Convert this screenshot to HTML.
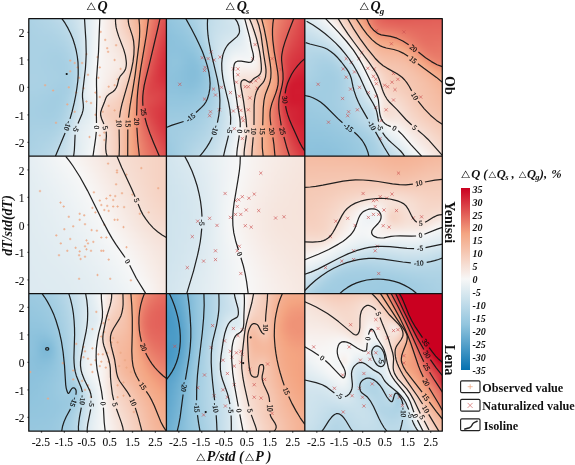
<!DOCTYPE html>
<html><head><meta charset="utf-8"><title>Figure</title><style>
html,body{margin:0;padding:0;background:#fff}
#fig{position:relative;width:575px;height:465px;overflow:hidden;background:#fff;font-family:"Liberation Serif",serif}
.p{position:absolute;overflow:hidden}
.p>div{white-space:nowrap;font-size:0;line-height:0;position:absolute;left:-3px;top:-3px;filter:blur(1.1px)}
.p i{display:inline-block;width:3px;height:100%}
#cb{position:absolute;left:461px;top:188px;width:9px;height:182px;background:linear-gradient(#ca0020,#d0182e,#d62f3c,#dc474a,#e25e58,#e87666,#ee8d74,#f4a582,#f4b193,#f5bca3,#f5c8b4,#f6d4c5,#f6e0d6,#f7ebe6,#f7f7f7,#e9f0f3,#dae9f0,#cce2ec,#bddae9,#afd3e5,#a0cce2,#92c5de,#7eb9d7,#6aadd1,#56a1ca,#4195c4,#2d89bd,#197db7,#0571b0)}
svg{position:absolute;left:0;top:0}
svg path,svg ellipse{fill:none;stroke:#161616;stroke-width:1.22;stroke-opacity:.95;stroke-linejoin:round;stroke-linecap:butt}
.fr{stroke:#111!important;stroke-width:1.3!important;stroke-opacity:1!important}
svg path.mo{stroke:#eca886;stroke-width:.85;stroke-opacity:.9}
svg path.mn{stroke:#cc5252;stroke-width:.75;stroke-opacity:.85}
text{font-family:"Liberation Serif",serif;fill:#111}
.cl{font-size:7.3px;text-anchor:middle;stroke:#111;stroke-width:.2px}
.tk{font-size:11.5px;stroke:#111;stroke-width:.1px}
.bi{font-weight:bold;font-style:italic}
.b{font-weight:bold}
.tri{font-family:"DejaVu Sans",sans-serif;font-weight:normal;font-style:normal}
.ci{font-size:10px;font-style:italic;font-weight:bold}
</style></head><body><div id="fig">
<div class="p" style="left:29px;top:18px;width:137px;height:138px"><div style="height:144px;width:144px"><i style="background:linear-gradient(#acd2e4,#abd2e4,#abd1e4,#abd1e4,#aad1e4,#aad1e4,#aad1e4,#aad1e4,#a9d1e4,#a9d0e4,#a9d0e4,#a9d0e4,#a9d0e4,#a9d0e4,#a9d0e4,#a9d1e4,#a9d1e4,#aad1e4,#aad1e4,#aad1e4,#aad1e4,#aad1e4,#aad1e4,#aad1e4,#aad1e4,#aad1e4,#a9d0e4,#a8d0e3,#a7d0e3,#a7cfe3,#a6cfe3,#a6cfe3,#a6cfe3,#a5cfe3,#a6cfe3,#a6cfe3,#a6cfe3,#a7cfe3,#a7cfe3,#a8d0e3,#a8d0e3,#a8d0e4,#a9d0e4,#a9d1e4,#aad1e4,#aad1e4,#abd1e4,#abd2e4,#acd2e4)"></i><i style="background:linear-gradient(#add2e5,#add2e5,#acd2e5,#acd2e4,#abd2e4,#abd1e4,#abd1e4,#aad1e4,#aad1e4,#aad1e4,#aad1e4,#aad1e4,#aad1e4,#aad1e4,#aad1e4,#aad1e4,#aad1e4,#aad1e4,#aad1e4,#aad1e4,#abd1e4,#abd1e4,#abd1e4,#abd1e4,#aad1e4,#aad1e4,#a9d0e4,#a8d0e3,#a7d0e3,#a7cfe3,#a6cfe3,#a6cfe3,#a5cfe3,#a5cfe3,#a6cfe3,#a6cfe3,#a7cfe3,#a7cfe3,#a8d0e3,#a8d0e4,#a9d0e4,#a9d1e4,#aad1e4,#aad1e4,#abd1e4,#abd2e4,#acd2e4,#add2e5,#add3e5)"></i><i style="background:linear-gradient(#afd3e5,#aed3e5,#add3e5,#add2e5,#acd2e4,#acd2e4,#abd2e4,#abd1e4,#abd1e4,#aad1e4,#aad1e4,#aad1e4,#aad1e4,#aad1e4,#aad1e4,#aad1e4,#aad1e4,#aad1e4,#aad1e4,#aad1e4,#abd1e4,#abd1e4,#abd1e4,#abd1e4,#aad1e4,#aad1e4,#a9d0e4,#a8d0e3,#a7cfe3,#a6cfe3,#a6cfe3,#a5cfe3,#a5cfe3,#a5cfe3,#a6cfe3,#a6cfe3,#a7cfe3,#a8d0e3,#a8d0e4,#a9d0e4,#aad1e4,#aad1e4,#abd1e4,#abd2e4,#acd2e4,#add2e5,#add3e5,#aed3e5,#afd3e5)"></i><i style="background:linear-gradient(#b0d4e5,#afd3e5,#aed3e5,#aed3e5,#add2e5,#acd2e5,#acd2e4,#abd2e4,#abd1e4,#abd1e4,#aad1e4,#aad1e4,#aad1e4,#aad1e4,#aad1e4,#aad1e4,#aad1e4,#aad1e4,#aad1e4,#aad1e4,#abd1e4,#abd1e4,#abd1e4,#aad1e4,#aad1e4,#a9d1e4,#a8d0e4,#a8d0e3,#a7cfe3,#a6cfe3,#a5cfe3,#a5cee3,#a5cee3,#a5cee3,#a5cfe3,#a6cfe3,#a7cfe3,#a8d0e3,#a9d0e4,#aad1e4,#abd1e4,#abd1e4,#acd2e4,#acd2e5,#add2e5,#aed3e5,#afd3e5,#afd4e5,#b0d4e6)"></i><i style="background:linear-gradient(#b1d4e6,#b0d4e6,#b0d4e5,#afd3e5,#aed3e5,#add2e5,#add2e5,#acd2e4,#abd2e4,#abd1e4,#abd1e4,#aad1e4,#aad1e4,#aad1e4,#a9d1e4,#a9d1e4,#a9d1e4,#aad1e4,#aad1e4,#aad1e4,#aad1e4,#aad1e4,#aad1e4,#aad1e4,#aad1e4,#a9d0e4,#a8d0e3,#a7cfe3,#a6cfe3,#a5cfe3,#a5cee3,#a4cee3,#a4cee3,#a5cee3,#a5cee3,#a6cfe3,#a7cfe3,#a8d0e3,#a9d1e4,#aad1e4,#abd1e4,#acd2e4,#add2e5,#add3e5,#aed3e5,#afd3e5,#b0d4e5,#b1d4e6,#b2d5e6)"></i><i style="background:linear-gradient(#b3d5e6,#b2d5e6,#b1d4e6,#b0d4e5,#afd3e5,#aed3e5,#add2e5,#acd2e5,#acd2e4,#abd1e4,#abd1e4,#aad1e4,#aad1e4,#a9d1e4,#a9d0e4,#a9d0e4,#a9d0e4,#a9d0e4,#a9d1e4,#aad1e4,#aad1e4,#aad1e4,#aad1e4,#aad1e4,#a9d1e4,#a8d0e4,#a7d0e3,#a6cfe3,#a5cfe3,#a5cee3,#a4cee2,#a4cee2,#a4cee2,#a4cee2,#a5cee3,#a6cfe3,#a7cfe3,#a8d0e3,#a9d1e4,#abd1e4,#acd2e4,#add2e5,#add3e5,#aed3e5,#afd4e5,#b0d4e6,#b1d5e6,#b3d5e6,#b4d6e6)"></i><i style="background:linear-gradient(#b4d6e6,#b3d5e6,#b2d5e6,#b1d4e6,#b0d4e5,#afd3e5,#aed3e5,#add2e5,#acd2e4,#abd1e4,#aad1e4,#aad1e4,#a9d1e4,#a9d0e4,#a9d0e4,#a8d0e4,#a8d0e4,#a9d0e4,#a9d0e4,#a9d0e4,#a9d1e4,#aad1e4,#aad1e4,#a9d1e4,#a9d0e4,#a8d0e3,#a7cfe3,#a5cfe3,#a5cee3,#a4cee2,#a3cee2,#a3cee2,#a3cee2,#a4cee2,#a4cee3,#a5cfe3,#a7cfe3,#a8d0e3,#a9d1e4,#abd1e4,#acd2e4,#add2e5,#aed3e5,#b0d4e5,#b1d4e6,#b2d5e6,#b3d5e6,#b4d6e7,#b6d7e7)"></i><i style="background:linear-gradient(#b6d7e7,#b5d6e7,#b3d6e6,#b2d5e6,#b1d4e6,#b0d4e5,#aed3e5,#add2e5,#acd2e4,#abd2e4,#aad1e4,#aad1e4,#a9d0e4,#a8d0e4,#a8d0e3,#a8d0e3,#a8d0e3,#a8d0e3,#a8d0e4,#a9d0e4,#a9d0e4,#a9d0e4,#a9d0e4,#a8d0e4,#a8d0e3,#a7cfe3,#a6cfe3,#a5cee3,#a4cee2,#a3cee2,#a3cde2,#a3cde2,#a3cde2,#a4cee2,#a4cee3,#a5cfe3,#a7cfe3,#a8d0e3,#aad1e4,#abd2e4,#add2e5,#aed3e5,#b0d4e5,#b1d4e6,#b2d5e6,#b4d6e6,#b5d6e7,#b7d7e7,#b8d8e7)"></i><i style="background:linear-gradient(#b8d8e7,#b6d7e7,#b5d6e7,#b3d6e6,#b2d5e6,#b1d4e6,#afd3e5,#aed3e5,#add2e5,#acd2e4,#aad1e4,#a9d1e4,#a9d0e4,#a8d0e3,#a7d0e3,#a7cfe3,#a7cfe3,#a7d0e3,#a8d0e3,#a8d0e3,#a8d0e4,#a8d0e4,#a8d0e3,#a8d0e3,#a7cfe3,#a6cfe3,#a5cee3,#a4cee2,#a3cde2,#a3cde2,#a3cde2,#a3cde2,#a3cde2,#a4cee2,#a5cee3,#a6cfe3,#a7cfe3,#a9d0e4,#aad1e4,#acd2e4,#aed3e5,#b0d4e5,#b1d5e6,#b3d5e6,#b5d6e7,#b6d7e7,#b8d8e7,#b9d8e8,#bbd9e8)"></i><i style="background:linear-gradient(#bad9e8,#b8d8e7,#b7d7e7,#b5d6e7,#b3d6e6,#b2d5e6,#b0d4e6,#afd3e5,#add3e5,#acd2e4,#abd1e4,#aad1e4,#a9d0e4,#a8d0e3,#a7cfe3,#a7cfe3,#a7cfe3,#a7cfe3,#a7cfe3,#a8d0e3,#a8d0e3,#a8d0e3,#a7d0e3,#a7cfe3,#a6cfe3,#a5cee3,#a4cee2,#a3cee2,#a3cde2,#a3cde2,#a3cde2,#a3cde2,#a4cee2,#a4cee3,#a5cfe3,#a7cfe3,#a8d0e4,#aad1e4,#acd2e4,#aed3e5,#b0d4e5,#b2d5e6,#b4d6e6,#b6d7e7,#b7d7e7,#b9d8e8,#bbd9e8,#bcdae8,#bedbe9)"></i><i style="background:linear-gradient(#bcdae8,#bad9e8,#b9d8e8,#b7d7e7,#b5d6e7,#b3d6e6,#b2d5e6,#b0d4e5,#aed3e5,#add2e5,#abd2e4,#aad1e4,#a9d0e4,#a8d0e3,#a7cfe3,#a7cfe3,#a6cfe3,#a6cfe3,#a7cfe3,#a7cfe3,#a7d0e3,#a8d0e3,#a7cfe3,#a6cfe3,#a5cee3,#a4cee2,#a4cee2,#a3cde2,#a3cde2,#a3cee2,#a4cee2,#a4cee3,#a5cee3,#a6cfe3,#a7cfe3,#a9d0e4,#aad1e4,#acd2e4,#aed3e5,#b0d4e5,#b2d5e6,#b5d6e7,#b7d7e7,#b9d8e8,#bbd9e8,#bddae9,#bedbe9,#c0dce9,#c1dcea)"></i><i style="background:linear-gradient(#bedbe9,#bcdae9,#bbd9e8,#b9d8e8,#b7d7e7,#b5d6e7,#b3d6e6,#b2d5e6,#b0d4e5,#aed3e5,#add2e5,#abd1e4,#aad1e4,#a8d0e4,#a7d0e3,#a7cfe3,#a6cfe3,#a6cfe3,#a6cfe3,#a7cfe3,#a7cfe3,#a7cfe3,#a6cfe3,#a5cfe3,#a5cee3,#a4cee2,#a4cee2,#a4cee2,#a4cee2,#a5cee3,#a5cfe3,#a6cfe3,#a7d0e3,#a8d0e4,#aad1e4,#abd2e4,#add2e5,#afd3e5,#b1d5e6,#b4d6e6,#b6d7e7,#b9d8e8,#bbd9e8,#bddae9,#bfdbe9,#c1dcea,#c3ddea,#c4deea,#c6dfeb)"></i><i style="background:linear-gradient(#c1dcea,#bfdbe9,#bddae9,#bbd9e8,#bad9e8,#b8d8e7,#b6d7e7,#b4d6e6,#b2d5e6,#b0d4e5,#aed3e5,#add2e5,#abd1e4,#aad1e4,#a9d0e4,#a8d0e3,#a7cfe3,#a7cfe3,#a7cfe3,#a7cfe3,#a7cfe3,#a7cfe3,#a6cfe3,#a5cfe3,#a5cee3,#a5cee3,#a5cee3,#a5cfe3,#a6cfe3,#a7cfe3,#a8d0e3,#a9d1e4,#abd1e4,#acd2e4,#aed3e5,#b0d4e5,#b2d5e6,#b4d6e6,#b6d7e7,#b9d8e8,#bcdae8,#bedbe9,#c0dce9,#c3ddea,#c4deea,#c6dfeb,#c8dfeb,#c9e0ec,#cae1ec)"></i><i style="background:linear-gradient(#c3ddea,#c2ddea,#c0dce9,#bedbe9,#bcdae8,#bad9e8,#b9d8e8,#b7d7e7,#b5d6e7,#b3d5e6,#b1d4e6,#afd3e5,#add3e5,#acd2e4,#abd1e4,#a9d1e4,#a9d0e4,#a8d0e3,#a8d0e3,#a7d0e3,#a7d0e3,#a7cfe3,#a7cfe3,#a6cfe3,#a6cfe3,#a6cfe3,#a7cfe3,#a8d0e3,#a9d1e4,#abd1e4,#acd2e5,#aed3e5,#b0d4e5,#b1d5e6,#b3d5e6,#b5d6e7,#b8d8e7,#bad9e8,#bddae9,#c0dce9,#c3ddea,#c5deeb,#c7dfeb,#c9e0ec,#cae1ec,#cce1ec,#cde2ed,#cee3ed,#cfe3ed)"></i><i style="background:linear-gradient(#c6dfeb,#c5deeb,#c3ddea,#c2ddea,#c0dce9,#bedbe9,#bcdae8,#bad9e8,#b8d8e7,#b6d7e7,#b4d6e6,#b2d5e6,#b1d4e6,#afd3e5,#aed3e5,#acd2e5,#abd2e4,#abd1e4,#aad1e4,#aad1e4,#a9d1e4,#a9d0e4,#a9d0e4,#a9d0e4,#a9d1e4,#aad1e4,#abd1e4,#add2e5,#aed3e5,#b0d4e6,#b2d5e6,#b4d6e6,#b6d7e7,#b8d8e7,#bad9e8,#bddae9,#c0dce9,#c3ddea,#c6dfeb,#c9e0ec,#cbe1ec,#cde2ed,#cee3ed,#cfe3ed,#d0e4ed,#d1e4ee,#d2e5ee,#d3e5ee,#d4e6ee)"></i><i style="background:linear-gradient(#cae1ec,#c8e0eb,#c7dfeb,#c5deeb,#c4deea,#c2ddea,#c0dce9,#bfdbe9,#bddae9,#bbd9e8,#b9d8e8,#b7d7e7,#b5d6e7,#b4d6e6,#b2d5e6,#b1d4e6,#b0d4e5,#afd3e5,#aed3e5,#aed3e5,#add3e5,#add3e5,#aed3e5,#aed3e5,#afd3e5,#b0d4e5,#b1d5e6,#b3d5e6,#b5d7e7,#b8d8e7,#bad9e8,#bcdae8,#bedbe9,#c0dce9,#c3ddea,#c6dfeb,#c9e0ec,#cde2ed,#d0e4ed,#d2e5ee,#d4e5ee,#d5e6ef,#d5e6ef,#d6e7ef,#d6e7ef,#d7e7ef,#d8e7ef,#d8e8ef,#d9e8f0)"></i><i style="background:linear-gradient(#cee3ed,#cce2ec,#cbe1ec,#cae1ec,#c8e0eb,#c7dfeb,#c5deeb,#c4deea,#c2ddea,#c0dce9,#bfdbe9,#bddae9,#bbd9e8,#bad9e8,#b8d8e8,#b7d7e7,#b6d7e7,#b5d6e7,#b5d6e7,#b4d6e7,#b4d6e7,#b5d6e7,#b5d6e7,#b6d7e7,#b7d7e7,#b9d8e8,#bbd9e8,#bddae9,#bfdbe9,#c1dcea,#c3ddea,#c5deeb,#c7dfeb,#cae1ec,#cce2ec,#d0e4ed,#d3e5ee,#d6e7ef,#d9e8ef,#dae9f0,#dbe9f0,#dce9f0,#dce9f0,#dce9f0,#dceaf0,#dceaf0,#dceaf0,#ddeaf1,#deeaf1)"></i><i style="background:linear-gradient(#d2e5ee,#d1e4ee,#d0e4ed,#cfe3ed,#cee3ed,#cce2ec,#cbe1ec,#cae1ec,#c9e0ec,#c7dfeb,#c6dfeb,#c4deea,#c3ddea,#c2ddea,#c1dcea,#c0dce9,#bfdbe9,#bedbe9,#bedbe9,#bedbe9,#bfdbe9,#bfdbe9,#c0dcea,#c2ddea,#c4deea,#c6dfeb,#c8e0eb,#c9e0ec,#cbe1ec,#cce1ec,#cde2ec,#cee3ed,#d0e4ed,#d2e5ee,#d5e6ef,#d8e8ef,#dbe9f0,#ddeaf1,#dfebf1,#e0ecf1,#e1ecf1,#e1ecf1,#e1ecf1,#e0ecf1,#e0ecf1,#e1ecf1,#e1ecf2,#e1ecf2,#e2edf2)"></i><i style="background:linear-gradient(#d6e7ef,#d5e6ef,#d5e6ee,#d4e6ee,#d3e5ee,#d2e5ee,#d2e4ee,#d1e4ed,#d0e3ed,#cfe3ed,#cee3ed,#cde2ed,#cce2ec,#cbe1ec,#cbe1ec,#cae1ec,#cae1ec,#cae1ec,#cae1ec,#cbe1ec,#cce2ec,#cde2ed,#cfe3ed,#d1e4ee,#d3e5ee,#d4e6ee,#d6e7ef,#d7e7ef,#d6e7ef,#d6e7ef,#d6e6ef,#d6e7ef,#d7e7ef,#d9e8f0,#dbe9f0,#ddeaf1,#e0ebf1,#e2ecf2,#e3edf2,#e4eef2,#e4eef2,#e5eef2,#e5eef2,#e4eef2,#e5eef2,#e5eef2,#e5eef3,#e6eef3,#e6eff3)"></i><i style="background:linear-gradient(#dbe9f0,#dae9f0,#dae9f0,#dae8f0,#d9e8f0,#d9e8ef,#d8e8ef,#d8e7ef,#d7e7ef,#d6e7ef,#d6e7ef,#d5e6ef,#d5e6ef,#d5e6ef,#d5e6ef,#d5e6ef,#d5e6ef,#d6e7ef,#d7e7ef,#d8e8ef,#d9e8f0,#dbe9f0,#dceaf0,#deebf1,#dfebf1,#e0ecf1,#e1ecf1,#e0ecf1,#dfebf1,#deeaf1,#dceaf0,#dceaf0,#ddeaf0,#deeaf1,#dfebf1,#e1ecf1,#e2edf2,#e4eef2,#e6eef3,#e7eff3,#e7eff3,#e8eff3,#e8eff3,#e8f0f3,#e8f0f3,#e9f0f3,#e9f0f4,#eaf0f4,#eaf1f4)"></i><i style="background:linear-gradient(#e0ecf1,#e0ecf1,#e0ebf1,#dfebf1,#dfebf1,#dfebf1,#dfebf1,#deebf1,#deebf1,#deebf1,#deebf1,#deebf1,#deebf1,#deebf1,#dfebf1,#dfebf1,#e0ecf1,#e1ecf1,#e2ecf2,#e3edf2,#e4eef2,#e5eef3,#e6eff3,#e7eff3,#e8eff3,#e8f0f3,#e8eff3,#e7eff3,#e5eef3,#e3edf2,#e2ecf2,#e0ecf1,#e0ecf1,#e0ecf1,#e1ecf2,#e3edf2,#e5eef2,#e7eff3,#e8f0f3,#e9f0f4,#eaf1f4,#ebf1f4,#ebf1f4,#ebf1f4,#ecf2f4,#edf2f4,#edf2f5,#eef3f5,#eff3f5)"></i><i style="background:linear-gradient(#e6eef3,#e5eef3,#e5eef3,#e5eef3,#e5eef3,#e5eef3,#e5eef3,#e5eef3,#e5eef3,#e5eef3,#e6eef3,#e6eef3,#e6eff3,#e6eff3,#e7eff3,#e8eff3,#e8f0f3,#e9f0f4,#eaf1f4,#ebf1f4,#ecf2f4,#edf2f4,#edf2f5,#eef2f5,#eef2f5,#eef2f5,#edf2f4,#ecf1f4,#eaf1f4,#e8f0f3,#e6eff3,#e5eef3,#e4eef2,#e4eef2,#e5eef2,#e6eff3,#e8f0f3,#eaf0f4,#ebf1f4,#ecf2f4,#edf2f5,#eef3f5,#eff3f5,#eff3f5,#f0f4f5,#f1f4f6,#f2f4f6,#f3f5f6,#f4f5f6)"></i><i style="background:linear-gradient(#ebf1f4,#ebf1f4,#ebf1f4,#ebf1f4,#ebf1f4,#ecf1f4,#ecf1f4,#ecf1f4,#ecf2f4,#ecf2f4,#edf2f4,#edf2f4,#edf2f5,#eef2f5,#eef3f5,#eff3f5,#f0f3f5,#f0f4f5,#f1f4f5,#f2f4f6,#f2f5f6,#f2f5f6,#f3f5f6,#f3f5f6,#f3f5f6,#f2f5f6,#f1f4f6,#f0f4f5,#eff3f5,#eef2f5,#edf2f4,#ecf1f4,#ebf1f4,#ebf1f4,#ebf1f4,#ecf2f4,#eef2f5,#eff3f5,#f0f3f5,#f1f4f5,#f2f4f6,#f3f5f6,#f4f5f6,#f4f6f6,#f5f6f7,#f6f7f7,#f7f7f7,#f7f6f6,#f7f6f5)"></i><i style="background:linear-gradient(#f1f4f5,#f1f4f5,#f1f4f5,#f1f4f6,#f1f4f6,#f2f4f6,#f2f4f6,#f2f5f6,#f2f5f6,#f2f5f6,#f3f5f6,#f3f5f6,#f3f5f6,#f4f5f6,#f4f6f6,#f5f6f6,#f5f6f7,#f6f6f7,#f6f7f7,#f6f7f7,#f7f7f7,#f7f7f7,#f7f7f7,#f7f7f7,#f7f7f7,#f7f7f7,#f6f7f7,#f6f7f7,#f6f7f7,#f6f7f7,#f6f7f7,#f7f7f7,#f7f7f7,#f7f6f6,#f7f6f6,#f7f7f7,#f7f7f7,#f7f7f7,#f7f7f7,#f7f7f6,#f7f6f6,#f7f5f5,#f7f5f4,#f7f4f2,#f7f3f1,#f7f2f0,#f7f2f0,#f7f1ef,#f7f1ee)"></i><i style="background:linear-gradient(#f6f7f7,#f6f7f7,#f7f7f7,#f7f7f7,#f7f7f7,#f7f7f7,#f7f7f6,#f7f7f6,#f7f6f6,#f7f6f6,#f7f6f6,#f7f6f6,#f7f6f5,#f7f6f5,#f7f5f5,#f7f5f5,#f7f5f4,#f7f5f4,#f7f5f4,#f7f4f3,#f7f4f3,#f7f4f3,#f7f4f2,#f7f4f2,#f7f3f1,#f7f3f1,#f7f2f0,#f7f1ee,#f7f0ed,#f7efeb,#f7ede8,#f7eae5,#f6e7e0,#f6e5de,#f6e7e0,#f7eae4,#f7ede8,#f7eeeb,#f7efec,#f7f0ed,#f7efec,#f7efeb,#f7eeea,#f7ede9,#f7ede8,#f7ece8,#f7ece8,#f7ece8,#f7ece7)"></i><i style="background:linear-gradient(#f7f3f1,#f7f3f1,#f7f3f1,#f7f3f1,#f7f3f1,#f7f3f1,#f7f2f1,#f7f2f0,#f7f2f0,#f7f2f0,#f7f2f0,#f7f2f1,#f7f3f1,#f7f3f1,#f7f3f1,#f7f3f1,#f7f3f1,#f7f2f1,#f7f2f0,#f7f2f0,#f7f2ef,#f7f1ef,#f7f1ee,#f7f0ed,#f7efec,#f7eee9,#f7ebe7,#f6e9e3,#f6e7e1,#f6e5de,#f6e2d9,#f6ded3,#f6dace,#f6d8cb,#f6dace,#f6ded4,#f6e2da,#f6e6de,#f6e7e1,#f6e8e2,#f6e8e2,#f6e8e1,#f6e7e0,#f6e7e0,#f6e6df,#f6e6df,#f6e6df,#f6e7e0,#f6e7e0)"></i><i style="background:linear-gradient(#f7efeb,#f7efeb,#f7efeb,#f7eeeb,#f7eeeb,#f7eeeb,#f7efeb,#f7efeb,#f7efeb,#f7efec,#f7efec,#f7efec,#f7f0ed,#f7f0ed,#f7f0ee,#f7f1ee,#f7f1ee,#f7f1ee,#f7f0ed,#f7f0ed,#f7efec,#f7efeb,#f7eeea,#f7ede9,#f7ebe6,#f6e9e3,#f6e6df,#f6e2da,#f6e0d6,#f6ddd2,#f6dace,#f6d7c9,#f6d3c4,#f6d2c2,#f6d3c4,#f6d7c9,#f6dbcf,#f6ded3,#f6e0d6,#f6e1d8,#f6e1d8,#f6e1d8,#f6e1d7,#f6e0d6,#f6e0d6,#f6e0d6,#f6e1d7,#f6e2d9,#f6e2d9)"></i><i style="background:linear-gradient(#f7eae5,#f7eae5,#f7eae5,#f7eae5,#f7eae5,#f7ebe5,#f7ebe6,#f7ebe6,#f7ece7,#f7ece7,#f7ece8,#f7ede9,#f7ede9,#f7eeea,#f7efeb,#f7efec,#f7efec,#f7efec,#f7efeb,#f7eeea,#f7ede9,#f7ece8,#f7ebe6,#f7eae5,#f6e8e2,#f6e6de,#f6e2d9,#f6ded3,#f6dbcf,#f6d8cb,#f6d5c7,#f6d2c3,#f6d0c0,#f6cfbe,#f6d0c0,#f6d3c3,#f6d6c7,#f6d8cb,#f6dace,#f6dbcf,#f6dcd0,#f6dbd0,#f6dbcf,#f6dbcf,#f6dbcf,#f6dbcf,#f6dcd0,#f6ddd2,#f6ddd2)"></i><i style="background:linear-gradient(#f6e6de,#f6e6df,#f6e6df,#f6e6df,#f6e6df,#f6e7e0,#f6e7e0,#f6e8e1,#f6e8e2,#f6e9e3,#f7eae4,#f7eae5,#f7ebe6,#f7ece7,#f7ede9,#f7eeea,#f7eeea,#f7eeea,#f7ede9,#f7ece7,#f7ebe5,#f7e9e4,#f6e8e2,#f6e7e0,#f6e5de,#f6e3da,#f6dfd5,#f6dbcf,#f6d8cb,#f6d5c7,#f6d2c3,#f6d0c0,#f6cfbd,#f5cebc,#f6cfbd,#f6d0bf,#f6d2c2,#f6d4c5,#f6d5c7,#f6d6c8,#f6d6c8,#f6d6c9,#f6d6c8,#f6d6c8,#f6d6c9,#f6d7c9,#f6d7ca,#f6d7ca,#f6d7ca)"></i><i style="background:linear-gradient(#f6e1d8,#f6e1d8,#f6e1d8,#f6e1d8,#f6e2d9,#f6e3da,#f6e4db,#f6e4dc,#f6e5de,#f6e6df,#f6e7e0,#f6e8e1,#f6e9e3,#f7eae5,#f7ebe6,#f7ece7,#f7ede8,#f7ece8,#f7ebe6,#f7eae4,#f6e8e1,#f6e6df,#f6e5dd,#f6e4dc,#f6e2da,#f6e0d6,#f6dcd1,#f6d9cc,#f6d5c7,#f6d3c3,#f6d1c0,#f6cfbe,#f5cebc,#f5cdbb,#f5cdbb,#f5cebc,#f6cfbe,#f6d0bf,#f6d0c0,#f6d1c1,#f6d1c1,#f6d2c2,#f6d2c2,#f6d2c2,#f6d2c2,#f6d2c2,#f6d2c2,#f6d2c2,#f6d2c2)"></i><i style="background:linear-gradient(#f6dcd0,#f6dcd1,#f6dcd1,#f6ddd1,#f6ddd3,#f6dfd4,#f6e0d6,#f6e1d7,#f6e2d9,#f6e3db,#f6e4dc,#f6e5de,#f6e6df,#f6e8e1,#f6e9e3,#f7eae5,#f7ebe6,#f7ebe6,#f7eae4,#f6e7e0,#f6e4dc,#f6e2d9,#f6e1d7,#f6e0d6,#f6ded4,#f6dcd0,#f6d8cb,#f6d5c7,#f6d2c3,#f6d0bf,#f6cebd,#f5cdbb,#f5ccb9,#f5cbb8,#f5cbb8,#f5cbb8,#f5cbb8,#f5cbb8,#f5cbb9,#f5ccb9,#f5ccb9,#f5ccba,#f5ccba,#f5ccba,#f5ccba,#f5ccba,#f5ccba,#f5ccb9,#f5cbb8)"></i><i style="background:linear-gradient(#f6d7c9,#f6d7c9,#f6d7c9,#f6d8ca,#f6d9cc,#f6dace,#f6dcd0,#f6ddd2,#f6dfd4,#f6e0d6,#f6e1d8,#f6e2d9,#f6e4db,#f6e5dd,#f6e6df,#f6e8e1,#f6e9e2,#f6e9e2,#f6e7e0,#f6e4dc,#f6e0d7,#f6ded3,#f6dcd0,#f6dace,#f6d8cb,#f6d6c8,#f6d3c4,#f6d0c0,#f5cebc,#f5ccb9,#f5cab7,#f5c9b5,#f5c8b4,#f5c7b3,#f5c6b2,#f5c6b1,#f5c5b0,#f5c5b0,#f5c5af,#f5c5af,#f5c5af,#f5c5b0,#f5c5b0,#f5c5b0,#f5c5b0,#f5c5b0,#f5c5b0,#f5c5af,#f5c4ae)"></i><i style="background:linear-gradient(#f6d1c1,#f6d1c1,#f6d2c2,#f6d2c3,#f6d3c4,#f6d5c7,#f6d7ca,#f6d9cc,#f6dbcf,#f6ddd2,#f6ded3,#f6dfd5,#f6e0d7,#f6e2d8,#f6e3da,#f6e4dc,#f6e5dd,#f6e5dd,#f6e4db,#f6e0d6,#f6dcd0,#f6d9cb,#f6d6c8,#f6d4c5,#f6d1c1,#f6cfbe,#f5ccba,#f5cab6,#f5c8b3,#f5c6b1,#f5c4af,#f5c3ad,#f5c2ab,#f5c0a9,#f5bfa8,#f5bfa7,#f5bea6,#f5bda5,#f5bda4,#f5bda4,#f5bda4,#f5bda4,#f5bda4,#f5bda4,#f5bda4,#f5bda4,#f5bda4,#f5bca3,#f5bca3)"></i><i style="background:linear-gradient(#f5cbb8,#f5cbb9,#f5ccb9,#f5ccba,#f5cebc,#f6d0bf,#f6d2c2,#f6d5c6,#f6d7c9,#f6d9cc,#f6dbcf,#f6dcd0,#f6ddd2,#f6ded3,#f6ded4,#f6dfd5,#f6dfd5,#f6dfd4,#f6ddd2,#f6d9cc,#f6d5c7,#f6d1c1,#f6cfbd,#f5ccb9,#f5c9b6,#f5c6b2,#f5c4ae,#f5c2ab,#f5c0a8,#f5bea5,#f5bca3,#f5bba1,#f5b99f,#f5b89d,#f5b79c,#f5b69a,#f5b599,#f5b599,#f5b498,#f5b498,#f5b498,#f5b497,#f5b497,#f5b497,#f5b497,#f5b497,#f5b497,#f5b497,#f5b498)"></i><i style="background:linear-gradient(#f5c5b0,#f5c5b0,#f5c6b1,#f5c6b2,#f5c8b4,#f5cab7,#f5ccba,#f6cfbe,#f6d2c2,#f6d4c5,#f6d6c8,#f6d7c9,#f6d8cb,#f6d8cb,#f6d8cb,#f6d8ca,#f6d6c9,#f6d5c6,#f6d2c2,#f6cebd,#f5cbb8,#f5c8b4,#f5c5af,#f5c2ab,#f5bfa8,#f5bda4,#f5bba1,#f5b89e,#f5b69b,#f5b498,#f5b396,#f4b194,#f4b092,#f4af90,#f4ae8f,#f4ad8e,#f4ad8d,#f4ac8d,#f4ac8c,#f4ac8c,#f4ac8c,#f4ac8c,#f4ac8c,#f4ac8c,#f4ac8c,#f4ac8c,#f4ac8c,#f4ac8c,#f4ad8d)"></i><i style="background:linear-gradient(#f5bfa6,#f5bfa7,#f5c0a8,#f5c1a9,#f5c2ab,#f5c4ae,#f5c6b1,#f5c8b4,#f5cab7,#f5ccba,#f5cebc,#f6cfbe,#f6cfbe,#f6cfbe,#f5cebc,#f5ccba,#f5cab6,#f5c7b2,#f5c4ae,#f5c0a9,#f5bea5,#f5bba1,#f5b99e,#f5b69a,#f5b497,#f4b294,#f4b091,#f4ae8e,#f4ac8c,#f4aa8a,#f4a988,#f4a886,#f4a785,#f4a684,#f4a583,#f4a582,#f4a482,#f4a481,#f4a381,#f4a381,#f4a381,#f4a481,#f4a481,#f4a481,#f4a582,#f4a582,#f4a582,#f4a683,#f4a784)"></i><i style="background:linear-gradient(#f5b89d,#f5b89e,#f5b99f,#f5baa0,#f5bba2,#f5bca3,#f5bea5,#f5bfa7,#f5c0a9,#f5c1aa,#f5c2ab,#f5c1ab,#f5c1a9,#f5bfa7,#f5bda4,#f5bba1,#f5b89d,#f5b69a,#f5b396,#f4b193,#f4af90,#f4ac8d,#f4aa8a,#f4a887,#f4a684,#f4a481,#f3a180,#f29e7e,#f29c7d,#f19a7b,#f1987a,#f09779,#f09679,#f09578,#f09478,#f09478,#f09478,#f09478,#f09478,#f09578,#f09579,#f09679,#f09679,#f0977a,#f1987a,#f1997b,#f19a7b,#f19b7c,#f29c7d)"></i><i style="background:linear-gradient(#f4b193,#f4b194,#f4b295,#f5b396,#f5b497,#f5b498,#f5b598,#f5b598,#f5b498,#f5b497,#f5b396,#f4b193,#f4af91,#f4ad8e,#f4ab8b,#f4a988,#f4a785,#f4a582,#f3a280,#f29e7e,#f1997b,#f09579,#ef9276,#ee8e74,#ed8b72,#ed8871,#ec856f,#eb836e,#eb816d,#eb806c,#ea806c,#eb806c,#eb806c,#eb816d,#eb826d,#eb836e,#ec846e,#ec856f,#ec8670,#ec8770,#ed8871,#ed8972,#ed8a72,#ee8c73,#ee8d74,#ee8e74,#ee8f75,#ef9076,#ef9277)"></i><i style="background:linear-gradient(#f4aa8a,#f4aa8a,#f4ab8a,#f4ab8b,#f4ab8b,#f4ab8b,#f4ab8a,#f4aa89,#f4a987,#f4a785,#f4a582,#f3a280,#f29e7e,#f19a7c,#f09679,#ef9377,#ee8f75,#ed8b72,#ec8770,#eb836e,#ea7f6b,#e97b69,#e87767,#e77365,#e67062,#e66d60,#e56a5f,#e4685e,#e4665d,#e4665d,#e4675d,#e5695e,#e56b5f,#e66d61,#e66f62,#e77264,#e87465,#e87666,#e97867,#e97a69,#ea7c6a,#ea7e6b,#ea7f6c,#eb816d,#eb836e,#ec846e,#ec866f,#ec8770,#ed8971)"></i><i style="background:linear-gradient(#f3a280,#f3a180,#f3a180,#f3a07f,#f39f7f,#f29e7e,#f29c7c,#f1997b,#f09679,#ef9377,#ee8f75,#ee8c73,#ed8871,#ec856f,#eb816d,#ea7e6b,#e97a68,#e87666,#e77264,#e66e61,#e56a5f,#e4665d,#e3625a,#e25e58,#e15b56,#e05854,#e05653,#e05653,#e05553,#e05653,#e05653,#e05754,#e15a55,#e15c57,#e25f59,#e3635b,#e4665c,#e5695e,#e56c60,#e66f62,#e77163,#e77365,#e87666,#e87867,#e97a68,#e97b69,#ea7d6a,#ea7f6b,#eb816d)"></i><i style="background:linear-gradient(#f09478,#ef9377,#ef9176,#ef9075,#ee8e74,#ed8b73,#ed8971,#ec866f,#eb836e,#eb806c,#ea7d6a,#e97968,#e87666,#e77364,#e67062,#e66c60,#e5695e,#e4655c,#e3615a,#e25e58,#e15a55,#e05653,#df5351,#de5050,#de4e4e,#de4d4e,#de4d4e,#de4e4e,#de4f4f,#de4f4f,#de4e4e,#de4d4e,#de4e4f,#de5050,#df5351,#e05653,#e15a55,#e25d57,#e36159,#e3645b,#e4675d,#e56a5f,#e66d60,#e66f62,#e77163,#e77465,#e87666,#e87867,#e97a68)"></i><i style="background:linear-gradient(#ec8670,#ec846f,#eb826e,#eb806c,#ea7e6b,#e97b69,#e97968,#e87666,#e77364,#e77063,#e66d61,#e56a5f,#e4675d,#e3645b,#e36159,#e25e58,#e15a56,#e05754,#df5452,#df5150,#de4e4e,#dd4b4c,#dd494b,#dc474a,#dc474a,#dc474a,#dc494b,#dd4b4c,#de4d4e,#dd4c4d,#dd494b,#dc474a,#dc474a,#dc484b,#dd4a4c,#de4d4e,#de5050,#df5452,#e05754,#e15b56,#e25e58,#e3615a,#e4645c,#e4675d,#e56a5f,#e66c60,#e66f62,#e77163,#e77364)"></i><i style="background:linear-gradient(#e97968,#e87767,#e87565,#e77364,#e77063,#e66e61,#e56b60,#e5685e,#e4655c,#e3635b,#e26059,#e25d57,#e15a55,#e05754,#df5452,#df5150,#de4e4e,#dd4b4d,#dd494b,#dc464a,#db4448,#db4247,#db4247,#db4247,#db4247,#db4448,#dc464a,#dc484b,#dd494c,#dc484b,#dc4649,#db4348,#db4247,#db4247,#db4448,#dc4649,#dc484b,#dd4c4d,#de4f4f,#df5251,#e05653,#e15955,#e25d57,#e26059,#e3635b,#e4665c,#e5685e,#e56b5f,#e66d60)"></i><i style="background:linear-gradient(#e66e61,#e56b5f,#e5695e,#e4675d,#e4645c,#e3625a,#e25f59,#e25c57,#e15a55,#e05754,#df5452,#df5150,#de4e4e,#dd4b4d,#dd494b,#dc464a,#db4448,#db4147,#da3f46,#da3e45,#d93d44,#d93c44,#d93c44,#da3e45,#da4046,#db4247,#dc4549,#dc464a,#dc464a,#db4549,#db4247,#da4046,#da3e45,#da3e45,#da3e45,#da4046,#db4247,#db4549,#dc484b,#dd4b4d,#de4f4f,#df5251,#e05553,#e15955,#e15c56,#e25f58,#e3625a,#e4645c,#e4665d)"></i><i style="background:linear-gradient(#e3645b,#e36059,#e25e58,#e15c57,#e15a55,#e05754,#e05552,#df5251,#de4f4f,#dd4c4d,#dd494b,#dc464a,#db4448,#db4147,#da3f45,#d93d44,#d93b43,#d83942,#d83741,#d83740,#d83640,#d83740,#d83841,#d93a43,#da3d44,#da4046,#db4348,#db4348,#db4348,#db4147,#da3f45,#d93c44,#d93b43,#d93a42,#d93a42,#d93b43,#d93c44,#da3f45,#db4147,#db4449,#dc484b,#dd4b4c,#de4e4e,#df5150,#e05552,#e05854,#e15b56,#e25d57,#e25f58)"></i><i style="background:linear-gradient(#e15c56,#e15955,#e05653,#df5452,#df5150,#de4e4e,#dd4b4d,#dc484b,#dc4549,#db4348,#da4046,#da3d44,#d93a43,#d83841,#d83640,#d7343f,#d7333e,#d7313d,#d6313d,#d6303d,#d6313d,#d7323e,#d7343f,#d83640,#d93a42,#d93d44,#da3f45,#da3f46,#da3f45,#d93d44,#d93b43,#d83942,#d83741,#d83640,#d83640,#d83640,#d83741,#d93942,#d93c43,#da3e45,#db4147,#db4449,#dc474a,#dd4a4c,#de4e4e,#df5150,#df5352,#e05653,#e05754)"></i><i style="background:linear-gradient(#e05552,#df5351,#de504f,#dd4c4d,#dd494b,#dc464a,#db4348,#da4046,#d93d44,#d93a42,#d83741,#d7343f,#d7323e,#d6303c,#d62e3b,#d52d3a,#d52b3a,#d52b39,#d52a39,#d52b39,#d52c3a,#d62d3b,#d62f3c,#d7323e,#d83540,#d83841,#d93a43,#d93b43,#d93a42,#d83841,#d83640,#d7353f,#d7333e,#d7323e,#d7313d,#d7323d,#d7333e,#d7343f,#d83640,#d83841,#d93b43,#da3e45,#da4146,#db4448,#dc464a,#dd494b,#dd4c4d,#de4e4e,#de504f)"></i><i style="background:linear-gradient(#de4e4e,#dd4c4d,#dc494b,#dc4549,#db4247,#da3e45,#d93b43,#d83841,#d7353f,#d7323e,#d62f3c,#d52d3b,#d52a39,#d52a39,#d52a39,#d52a39,#d52a39,#d52a39,#d52a39,#d52a39,#d52a39,#d52a39,#d52b39,#d62e3b,#d6303d,#d7333e,#d7353f,#d83540,#d7353f,#d7333f,#d7323e,#d6303d,#d62f3c,#d62e3b,#d52d3b,#d52d3b,#d62e3b,#d62f3c,#d6313d,#d7333e,#d7353f,#d83741,#d93a42,#d93d44,#da3f46,#db4247,#db4448,#dc464a,#dc484b)"></i></div></div>
<div class="p" style="left:166px;top:18px;width:139px;height:138px"><div style="height:144px;width:147px"><i style="background:linear-gradient(#92c5de,#91c4de,#8fc3dd,#8ec3dd,#8dc2dc,#8cc1dc,#8bc1dc,#8bc1dc,#8ac0dc,#8ac0db,#8ac1dc,#8bc1dc,#8bc1dc,#8cc1dc,#8dc2dc,#8dc2dc,#8ec2dd,#8ec2dd,#8ec2dd,#8ec2dd,#8dc2dd,#8dc2dd,#8ec2dd,#8ec3dd,#8fc3dd,#8fc3dd,#91c4de,#92c5de,#93c6de,#94c6df,#96c7df,#97c8df,#99c8e0,#9ac9e0,#9ccae0,#9dcae1,#9ecbe1,#9fcce1,#9fcce1,#9fcbe1,#9ecbe1,#9dcbe1,#9ccae0,#9bc9e0,#99c9e0,#98c8e0,#97c7df,#96c7df,#96c7df)"></i><i style="background:linear-gradient(#94c6de,#93c5de,#92c5de,#90c4dd,#8fc3dd,#8ec3dd,#8dc2dc,#8cc1dc,#8cc1dc,#8bc1dc,#8bc1dc,#8cc1dc,#8cc2dc,#8dc2dc,#8ec2dd,#8ec3dd,#8fc3dd,#8fc3dd,#8ec3dd,#8ec3dd,#8ec2dd,#8ec2dd,#8ec2dd,#8ec3dd,#8fc3dd,#8fc3dd,#91c4de,#92c5de,#93c6de,#95c6df,#96c7df,#98c8df,#99c9e0,#9bc9e0,#9ccae1,#9ecbe1,#9fcbe1,#a0cce2,#a1cce2,#a0cce2,#a0cce1,#9fcbe1,#9ecbe1,#9dcae1,#9ccae0,#9bc9e0,#9ac9e0,#99c8e0,#98c8e0)"></i><i style="background:linear-gradient(#96c7df,#95c6df,#94c6de,#92c5de,#91c4de,#90c4dd,#8ec3dd,#8dc2dd,#8dc2dc,#8cc2dc,#8cc2dc,#8dc2dc,#8dc2dc,#8ec2dd,#8fc3dd,#8fc3dd,#8fc3dd,#8fc3dd,#8fc3dd,#8ec3dd,#8ec2dd,#8dc2dc,#8dc2dc,#8ec2dd,#8ec3dd,#8fc3dd,#90c4de,#92c5de,#93c6de,#95c6df,#96c7df,#98c8df,#9ac9e0,#9bcae0,#9dcae1,#9ecbe1,#9fcce1,#a0cce2,#a1cde2,#a1cde2,#a1cce2,#a0cce2,#a0cce1,#9fcbe1,#9ecbe1,#9dcbe1,#9ccae1,#9ccae0,#9ccae0)"></i><i style="background:linear-gradient(#98c8df,#97c7df,#95c7df,#94c6df,#93c5de,#91c5de,#90c4dd,#8fc3dd,#8ec3dd,#8dc2dc,#8dc2dc,#8dc2dc,#8dc2dd,#8ec3dd,#8fc3dd,#90c4dd,#90c4dd,#90c4dd,#8fc3dd,#8ec3dd,#8dc2dc,#8dc2dc,#8dc2dc,#8dc2dc,#8ec2dd,#8fc3dd,#90c4dd,#92c5de,#93c6de,#95c6df,#96c7df,#98c8e0,#9ac9e0,#9bcae0,#9dcae1,#9fcbe1,#a0cce1,#a1cce2,#a2cde2,#a2cde2,#a2cde2,#a2cde2,#a1cde2,#a1cce2,#a0cce2,#a0cce1,#9fcce1,#9fcbe1,#9fcbe1)"></i><i style="background:linear-gradient(#9ac9e0,#99c8e0,#97c8df,#96c7df,#94c6df,#93c6de,#92c5de,#90c4dd,#8fc3dd,#8ec3dd,#8ec2dd,#8dc2dc,#8ec2dd,#8ec3dd,#8fc3dd,#90c4dd,#90c4dd,#8fc3dd,#8ec3dd,#8dc2dc,#8cc2dc,#8cc1dc,#8cc1dc,#8cc1dc,#8dc2dc,#8ec3dd,#90c4dd,#91c5de,#93c6de,#95c6df,#96c7df,#98c8e0,#9ac9e0,#9ccae0,#9dcbe1,#9fcbe1,#a0cce1,#a1cde2,#a2cde2,#a3cde2,#a3cde2,#a3cee2,#a3cde2,#a3cde2,#a3cde2,#a3cde2,#a2cde2,#a2cde2,#a2cde2)"></i><i style="background:linear-gradient(#9dcae1,#9bc9e0,#99c9e0,#98c8df,#96c7df,#95c6df,#93c6de,#92c5de,#90c4dd,#8fc3dd,#8ec3dd,#8ec2dd,#8dc2dd,#8ec2dd,#8ec3dd,#8fc3dd,#8fc3dd,#8ec3dd,#8dc2dc,#8cc1dc,#8bc1dc,#8bc1dc,#8bc1dc,#8bc1dc,#8cc1dc,#8dc2dc,#8fc3dd,#91c4de,#93c6de,#95c6df,#97c7df,#98c8e0,#9ac9e0,#9ccae0,#9ecbe1,#9fcbe1,#a0cce2,#a2cde2,#a3cde2,#a4cee2,#a4cee3,#a5cee3,#a5cee3,#a5cee3,#a5cfe3,#a5cfe3,#a6cfe3,#a6cfe3,#a6cfe3)"></i><i style="background:linear-gradient(#9fcce1,#9ecbe1,#9ccae0,#9ac9e0,#98c8e0,#97c7df,#95c6df,#93c6de,#92c5de,#90c4dd,#8fc3dd,#8ec3dd,#8dc2dc,#8dc2dc,#8dc2dc,#8dc2dc,#8dc2dc,#8cc1dc,#8bc1dc,#8ac0db,#89c0db,#89c0db,#89c0db,#8ac0db,#8bc1dc,#8dc2dc,#8fc3dd,#91c4de,#93c5de,#95c6df,#97c7df,#99c8e0,#9bc9e0,#9ccae1,#9ecbe1,#a0cce1,#a1cce2,#a2cde2,#a4cee2,#a5cee3,#a5cfe3,#a6cfe3,#a7cfe3,#a7d0e3,#a8d0e3,#a8d0e4,#a9d0e4,#a9d0e4,#aad1e4)"></i><i style="background:linear-gradient(#a2cde2,#a0cce2,#9fcbe1,#9dcae1,#9bc9e0,#99c8e0,#97c8df,#95c7df,#93c6de,#92c5de,#90c4dd,#8ec3dd,#8dc2dc,#8cc2dc,#8cc1dc,#8bc1dc,#8bc1dc,#8ac0db,#89c0db,#88bfdb,#88bfdb,#88bfdb,#88bfdb,#89c0db,#8ac0dc,#8cc2dc,#8ec3dd,#91c4de,#93c6de,#95c7df,#97c8df,#99c9e0,#9bc9e0,#9dcae1,#9ecbe1,#a0cce1,#a2cde2,#a3cde2,#a4cee3,#a6cfe3,#a7cfe3,#a8d0e3,#a9d0e4,#aad1e4,#aad1e4,#abd1e4,#acd2e4,#add2e5,#add2e5)"></i><i style="background:linear-gradient(#a5cfe3,#a4cee2,#a2cde2,#a0cce1,#9ecbe1,#9ccae0,#9ac9e0,#98c8df,#96c7df,#94c6de,#92c5de,#90c4dd,#8ec3dd,#8cc2dc,#8bc1dc,#8ac0db,#89c0db,#88bfdb,#87bfda,#87beda,#86beda,#87beda,#87bfdb,#88bfdb,#8ac0db,#8cc1dc,#8ec3dd,#91c5de,#93c6de,#96c7df,#98c8df,#9ac9e0,#9ccae0,#9ecbe1,#9fcce1,#a1cce2,#a3cde2,#a4cee2,#a5cfe3,#a7cfe3,#a8d0e3,#a9d1e4,#abd1e4,#acd2e4,#add2e5,#aed3e5,#afd3e5,#b0d4e5,#b1d4e6)"></i><i style="background:linear-gradient(#a9d0e4,#a7d0e3,#a6cfe3,#a4cee2,#a2cde2,#a0cce1,#9dcbe1,#9bc9e0,#99c8e0,#96c7df,#94c6df,#92c5de,#90c4dd,#8dc2dc,#8bc1dc,#8ac0db,#88bfdb,#87bfdb,#86beda,#86beda,#86beda,#86beda,#87beda,#88bfdb,#8ac0db,#8dc2dc,#8fc3dd,#92c5de,#94c6df,#96c7df,#99c8e0,#9bc9e0,#9dcae1,#9fcbe1,#a0cce2,#a2cde2,#a4cee2,#a5cfe3,#a7cfe3,#a8d0e4,#aad1e4,#abd1e4,#add2e5,#aed3e5,#b0d4e5,#b1d4e6,#b2d5e6,#b4d6e6,#b5d6e7)"></i><i style="background:linear-gradient(#add2e5,#abd1e4,#aad1e4,#a8d0e3,#a6cfe3,#a4cee2,#a2cde2,#9fcce1,#9dcae1,#9ac9e0,#97c8df,#95c6df,#93c5de,#90c4dd,#8dc2dc,#8bc1dc,#89c0db,#88bfdb,#87beda,#86beda,#86beda,#87beda,#88bfdb,#89c0db,#8bc1dc,#8ec2dd,#90c4dd,#93c5de,#95c7df,#98c8df,#9ac9e0,#9ccae1,#9fcbe1,#a0cce2,#a2cde2,#a4cee2,#a5cee3,#a7cfe3,#a8d0e4,#aad1e4,#abd2e4,#add2e5,#afd3e5,#b0d4e6,#b2d5e6,#b4d6e6,#b6d7e7,#b7d7e7,#b8d8e7)"></i><i style="background:linear-gradient(#b1d4e6,#afd4e5,#aed3e5,#add2e5,#abd2e4,#a9d1e4,#a7d0e3,#a5cee3,#a2cde2,#9fcbe1,#9ccae0,#99c9e0,#96c7df,#94c6de,#91c5de,#8fc3dd,#8cc2dc,#8ac0db,#89c0db,#88bfdb,#88bfdb,#89bfdb,#8ac0db,#8bc1dc,#8dc2dd,#90c4dd,#92c5de,#95c6df,#97c7df,#99c9e0,#9ccae0,#9ecbe1,#a0cce2,#a2cde2,#a4cee2,#a5cfe3,#a7cfe3,#a9d0e4,#aad1e4,#acd2e4,#add3e5,#afd3e5,#b1d4e6,#b3d5e6,#b5d6e7,#b7d7e7,#b9d8e8,#bbd9e8,#bcdae8)"></i><i style="background:linear-gradient(#b5d6e7,#b4d6e6,#b3d5e6,#b2d5e6,#b1d4e6,#afd4e5,#aed3e5,#abd2e4,#a9d0e4,#a6cfe3,#a3cde2,#9fcce1,#9ccae1,#99c9e0,#96c7df,#94c6de,#91c5de,#8fc3dd,#8dc2dc,#8cc2dc,#8cc1dc,#8cc2dc,#8dc2dc,#8fc3dd,#91c4de,#93c5de,#95c6df,#97c7df,#99c8e0,#9bcae0,#9ecbe1,#a0cce1,#a2cde2,#a4cee2,#a6cfe3,#a7d0e3,#a9d0e4,#abd1e4,#acd2e4,#aed3e5,#b0d4e5,#b1d5e6,#b3d5e6,#b5d6e7,#b7d7e7,#b9d8e8,#bcdae8,#bedbe9,#bfdbe9)"></i><i style="background:linear-gradient(#b8d8e8,#b8d8e7,#b8d8e7,#b7d7e7,#b7d7e7,#b6d7e7,#b4d6e6,#b3d5e6,#b1d4e6,#aed3e5,#abd1e4,#a8d0e3,#a4cee3,#a1cce2,#9dcbe1,#9ac9e0,#98c8df,#95c7df,#94c6de,#93c5de,#92c5de,#92c5de,#93c5de,#93c6de,#95c6df,#96c7df,#98c8df,#9ac9e0,#9ccae0,#9ecbe1,#a0cce2,#a2cde2,#a5cee3,#a6cfe3,#a8d0e3,#aad1e4,#abd2e4,#add2e5,#afd3e5,#b0d4e6,#b2d5e6,#b4d6e6,#b6d7e7,#b8d8e7,#bad9e8,#bcdae8,#bedbe9,#c0dce9,#c2ddea)"></i><i style="background:linear-gradient(#bcdae8,#bcdae8,#bcdae8,#bcdae8,#bcdae8,#bbdae8,#bbd9e8,#bad9e8,#b8d8e8,#b7d7e7,#b4d6e7,#b2d5e6,#afd3e5,#abd1e4,#a7d0e3,#a4cee2,#a0cce2,#9ecbe1,#9bcae0,#99c9e0,#98c8e0,#98c8df,#98c8df,#98c8e0,#99c9e0,#9bc9e0,#9ccae0,#9ecbe1,#9fcce1,#a1cde2,#a3cee2,#a5cfe3,#a7d0e3,#a9d1e4,#abd1e4,#add2e5,#aed3e5,#b0d4e5,#b2d5e6,#b3d5e6,#b5d6e7,#b7d7e7,#b9d8e8,#bbd9e8,#bddae9,#bfdbe9,#c1dcea,#c3ddea,#c5deeb)"></i><i style="background:linear-gradient(#c0dce9,#c0dce9,#c0dce9,#c0dce9,#c0dce9,#c0dce9,#c0dce9,#c0dce9,#c0dce9,#bfdbe9,#bddae9,#bcdae8,#b9d8e8,#b6d7e7,#b3d5e6,#b0d4e5,#acd2e4,#a9d0e4,#a5cfe3,#a3cde2,#a1cce2,#a0cce1,#9fcbe1,#9fcbe1,#9fcce1,#a0cce1,#a1cce2,#a2cde2,#a4cee2,#a5cfe3,#a7d0e3,#a9d0e4,#abd1e4,#add2e5,#aed3e5,#b0d4e5,#b2d5e6,#b3d5e6,#b5d6e7,#b7d7e7,#b8d8e7,#bad9e8,#bcdae8,#bedbe9,#c0dce9,#c2ddea,#c5deeb,#c7dfeb,#c8e0eb)"></i><i style="background:linear-gradient(#c3ddea,#c3ddea,#c3ddea,#c3ddea,#c4deea,#c4deea,#c5deeb,#c5deeb,#c5deeb,#c5deeb,#c5deeb,#c4deea,#c3ddea,#c1dcea,#bfdbe9,#bcdae8,#b9d8e8,#b5d7e7,#b2d5e6,#afd3e5,#acd2e4,#aad1e4,#a8d0e3,#a7cfe3,#a7cfe3,#a7cfe3,#a7d0e3,#a8d0e3,#a9d1e4,#abd1e4,#acd2e4,#aed3e5,#afd4e5,#b1d4e6,#b3d5e6,#b4d6e6,#b6d7e7,#b7d7e7,#b9d8e8,#bad9e8,#bcdae8,#bedbe9,#c0dce9,#c2ddea,#c4deea,#c6dfeb,#c8e0eb,#cae1ec,#cce2ec)"></i><i style="background:linear-gradient(#c6dfeb,#c6dfeb,#c6dfeb,#c6dfeb,#c7dfeb,#c7dfeb,#c8e0eb,#c9e0ec,#cae1ec,#cae1ec,#cbe1ec,#cbe1ec,#cae1ec,#cae1ec,#c9e0eb,#c7dfeb,#c5deeb,#c2ddea,#bfdbe9,#bcdae8,#b9d8e8,#b6d7e7,#b3d5e6,#b1d5e6,#b0d4e5,#afd4e5,#afd3e5,#b0d4e5,#b0d4e5,#b1d4e6,#b2d5e6,#b4d6e6,#b5d6e7,#b6d7e7,#b7d8e7,#b9d8e8,#bad9e8,#bcdae8,#bddae9,#bfdbe9,#c1dcea,#c3ddea,#c5deeb,#c7dfeb,#c9e0eb,#cae1ec,#cce2ec,#cee3ed,#d0e4ed)"></i><i style="background:linear-gradient(#c9e0ec,#c8e0eb,#c8e0eb,#c8e0eb,#c9e0ec,#cae1ec,#cbe1ec,#cce2ec,#cde2ed,#cee3ed,#cfe3ed,#d0e4ed,#d1e4ed,#d1e4ee,#d1e4ee,#d0e4ed,#d0e4ed,#cfe3ed,#cde2ed,#cae1ec,#c8dfeb,#c4deea,#c1dcea,#bedbe9,#bcdae8,#bad9e8,#b9d8e8,#b9d8e8,#b9d8e8,#b9d8e8,#bad9e8,#bad9e8,#bbd9e8,#bcdae8,#bddae9,#bedbe9,#c0dce9,#c1dcea,#c2ddea,#c4deea,#c6dfeb,#c8e0eb,#cae0ec,#cbe1ec,#cde2ed,#cfe3ed,#d1e4ee,#d2e5ee,#d4e6ee)"></i><i style="background:linear-gradient(#cce2ec,#cbe1ec,#cae1ec,#cae1ec,#cae1ec,#cbe1ec,#cde2ed,#cee3ed,#d0e4ed,#d2e5ee,#d3e5ee,#d5e6ef,#d6e7ef,#d7e7ef,#d8e8ef,#d9e8f0,#d9e8f0,#dae8f0,#d9e8f0,#d8e8ef,#d6e7ef,#d4e6ee,#d1e4ee,#cee3ed,#cbe1ec,#c8e0eb,#c6dfeb,#c4deea,#c3ddea,#c3ddea,#c2ddea,#c2ddea,#c2ddea,#c3ddea,#c4deea,#c4deea,#c5deeb,#c7dfeb,#c8e0eb,#cae1ec,#cbe1ec,#cde2ed,#cfe3ed,#d1e4ee,#d3e5ee,#d4e6ee,#d5e6ef,#d7e7ef,#d8e8ef)"></i><i style="background:linear-gradient(#cfe3ed,#cee2ed,#cce2ec,#cce2ec,#cce2ec,#cde2ed,#cfe3ed,#d1e4ed,#d3e5ee,#d5e6ef,#d7e7ef,#d9e8ef,#dbe9f0,#ddeaf0,#dfebf1,#e1ecf1,#e2edf2,#e3edf2,#e3edf2,#e3edf2,#e2edf2,#e0ecf1,#deebf1,#dceaf0,#d9e8f0,#d6e7ef,#d3e5ee,#d1e4ee,#cfe3ed,#cde2ed,#cce2ec,#cbe1ec,#cae1ec,#cae1ec,#cbe1ec,#cbe1ec,#cce2ec,#cde2ed,#cee3ed,#d0e4ed,#d1e4ee,#d3e5ee,#d5e6ef,#d6e7ef,#d8e8ef,#d9e8f0,#dbe9f0,#dceaf0,#ddeaf1)"></i><i style="background:linear-gradient(#d3e5ee,#d0e4ed,#cfe3ed,#cee3ed,#cee2ed,#cee3ed,#d0e4ed,#d2e5ee,#d5e6ef,#d8e7ef,#dae9f0,#dceaf0,#dfebf1,#e2edf2,#e5eef2,#e7eff3,#eaf0f4,#ebf1f4,#ebf1f4,#ebf1f4,#eaf1f4,#e9f0f4,#e7eff3,#e5eef3,#e3edf2,#e1ecf1,#deebf1,#dceaf0,#d9e8f0,#d7e7ef,#d5e6ef,#d4e6ee,#d3e5ee,#d2e5ee,#d2e5ee,#d2e5ee,#d3e5ee,#d4e5ee,#d5e6ef,#d6e7ef,#d8e7ef,#d9e8f0,#dbe9f0,#dceaf0,#deeaf1,#dfebf1,#e0ecf1,#e1ecf2,#e3edf2)"></i><i style="background:linear-gradient(#d7e7ef,#d4e6ee,#d1e4ee,#d0e4ed,#cfe3ed,#d0e4ed,#d2e5ee,#d4e6ee,#d7e7ef,#dae9f0,#ddeaf1,#e0ebf1,#e3edf2,#e6eff3,#eaf1f4,#edf2f5,#f0f3f5,#f1f4f6,#f2f4f6,#f2f4f6,#f1f4f5,#f0f3f5,#eef3f5,#ecf2f4,#eaf1f4,#e8f0f3,#e6eff3,#e5eef2,#e3edf2,#e1ecf1,#dfebf1,#ddeaf1,#dbe9f0,#dae9f0,#dae8f0,#dae8f0,#dae9f0,#dae9f0,#dbe9f0,#ddeaf0,#deebf1,#e0ebf1,#e1ecf2,#e3edf2,#e4eef2,#e5eef3,#e6eff3,#e7eff3,#e9f0f4)"></i><i style="background:linear-gradient(#dceaf0,#d8e8ef,#d5e6ef,#d3e5ee,#d2e5ee,#d2e5ee,#d4e6ee,#d7e7ef,#dae8f0,#dceaf0,#dfebf1,#e2edf2,#e6eff3,#eaf0f4,#eef3f5,#f2f5f6,#f5f6f7,#f6f7f7,#f7f7f7,#f7f7f7,#f7f7f7,#f7f7f7,#f6f6f7,#f4f6f6,#f2f5f6,#f0f4f5,#eff3f5,#edf2f5,#ecf1f4,#eaf1f4,#e8f0f3,#e6eff3,#e4eef2,#e3edf2,#e2edf2,#e1ecf2,#e1ecf2,#e2ecf2,#e3edf2,#e4eef2,#e5eef3,#e7eff3,#e8f0f3,#eaf0f4,#ebf1f4,#ecf2f4,#edf2f5,#eef3f5,#f0f4f5)"></i><i style="background:linear-gradient(#e2edf2,#ddeaf1,#dae8f0,#d7e7ef,#d5e6ef,#d5e6ef,#d6e7ef,#d9e8f0,#dceaf0,#dfebf1,#e1ecf2,#e5eef2,#e8f0f3,#ecf2f4,#f1f4f5,#f5f6f7,#f7f6f5,#f7f4f3,#f7f3f2,#f7f2f0,#f7f1ee,#f7efec,#f7efeb,#f7efec,#f7f1ee,#f7f3f1,#f7f4f3,#f7f6f5,#f7f7f7,#f5f6f6,#f3f5f6,#f1f4f6,#eff3f5,#edf2f4,#ebf1f4,#eaf1f4,#eaf0f4,#eaf1f4,#ebf1f4,#ecf2f4,#eef2f5,#eff3f5,#f1f4f5,#f2f5f6,#f4f5f6,#f5f6f7,#f6f6f7,#f7f7f7,#f7f6f5)"></i><i style="background:linear-gradient(#eaf0f4,#e5eef2,#e0ecf1,#ddeaf1,#dbe9f0,#dae9f0,#dbe9f0,#ddeaf0,#dfebf1,#e1ecf2,#e4edf2,#e6eff3,#eaf0f4,#edf2f5,#f2f4f6,#f6f6f7,#f7f5f4,#f7f3f1,#f7f1ee,#f7eeea,#f7ebe6,#f6e8e1,#f6e5dd,#f6e4db,#f6e4dd,#f6e6df,#f6e9e3,#f7ebe6,#f7ede8,#f7eeea,#f7f0ed,#f7f1ef,#f7f3f2,#f7f6f5,#f6f7f7,#f5f6f6,#f4f6f6,#f4f6f6,#f5f6f6,#f6f7f7,#f7f6f6,#f7f5f4,#f7f4f2,#f7f2f0,#f7f1ee,#f7f0ec,#f7efec,#f7eeeb,#f7ede9)"></i><i style="background:linear-gradient(#f4f6f6,#eef3f5,#eaf1f4,#e7eff3,#e4eef2,#e2edf2,#e2ecf2,#e2edf2,#e3edf2,#e5eef2,#e7eff3,#e9f0f3,#ebf1f4,#eef3f5,#f2f4f6,#f5f6f7,#f7f5f5,#f7f2f0,#f7efec,#f7ece7,#f6e8e1,#f6e3da,#f6dfd4,#f6ddd1,#f6dcd1,#f6ddd2,#f6dfd4,#f6e0d6,#f6e2d9,#f6e3db,#f6e5dd,#f6e6df,#f6e8e2,#f7eae5,#f7ece7,#f7eeea,#f7efeb,#f7efec,#f7efeb,#f7eeea,#f7ede9,#f7ece7,#f7eae4,#f6e8e2,#f6e7e0,#f6e6de,#f6e5dd,#f6e5dd,#f6e4dc)"></i><i style="background:linear-gradient(#f7eeea,#f7f2f0,#f7f6f5,#f4f6f6,#f1f4f5,#edf2f5,#ebf1f4,#eaf1f4,#eaf0f4,#eaf1f4,#ebf1f4,#ecf1f4,#edf2f5,#eff3f5,#f1f4f6,#f5f6f6,#f7f6f5,#f7f3f1,#f7efec,#f7ebe6,#f6e7e0,#f6e2d9,#f6ded4,#f6dcd0,#f6d9cd,#f6d8cb,#f6d8cb,#f6d8cb,#f6d9cd,#f6dace,#f6dbcf,#f6dcd1,#f6ddd3,#f6dfd5,#f6e0d7,#f6e2d9,#f6e3db,#f6e4dc,#f6e4dc,#f6e4db,#f6e3da,#f6e1d8,#f6e0d6,#f6ded3,#f6ddd1,#f6dcd0,#f6dbcf,#f6dbcf,#f6dbcf)"></i><i style="background:linear-gradient(#f6e1d7,#f6e3db,#f6e8e1,#f7ece8,#f7f0ed,#f7f4f3,#f7f7f7,#f4f5f6,#f2f5f6,#f1f4f5,#f0f4f5,#f0f4f5,#f0f4f5,#f0f4f5,#f2f5f6,#f4f6f6,#f7f6f6,#f7f3f2,#f7f0ed,#f7ebe6,#f6e7e0,#f6e3db,#f6e0d7,#f6ddd1,#f6d8cb,#f6d5c7,#f6d4c4,#f6d3c4,#f6d3c4,#f6d3c4,#f6d4c5,#f6d4c5,#f6d5c6,#f6d6c8,#f6d7c9,#f6d8ca,#f6d9cc,#f6d9cc,#f6d9cd,#f6d9cc,#f6d8cb,#f6d7c9,#f6d6c7,#f6d4c6,#f6d3c4,#f6d2c3,#f6d2c2,#f6d2c2,#f6d2c2)"></i><i style="background:linear-gradient(#f6d5c6,#f6d7ca,#f6dcd0,#f6e0d6,#f6e4dc,#f6e8e2,#f7ece7,#f7efec,#f7f2f0,#f7f4f3,#f7f6f6,#f6f7f7,#f5f6f6,#f4f5f6,#f4f6f6,#f6f6f7,#f7f6f6,#f7f3f2,#f7f0ed,#f7ebe6,#f6e6df,#f6e2da,#f6e0d6,#f6dbcf,#f6d6c8,#f6d2c2,#f6d0bf,#f6cebd,#f5cebc,#f5cdbc,#f5cdbc,#f5cdbc,#f5cebc,#f6cebd,#f6cfbd,#f6cfbe,#f6cfbe,#f6d0bf,#f6cfbe,#f6cfbe,#f6cebd,#f5cdbb,#f5ccba,#f5cbb9,#f5cbb8,#f5cab7,#f5c9b6,#f5c9b6,#f5cab7)"></i><i style="background:linear-gradient(#f5cab7,#f6cebd,#f6d2c3,#f6d6c8,#f6dacd,#f6ddd2,#f6e1d7,#f6e4dc,#f6e8e1,#f7ebe6,#f7eeea,#f7f0ed,#f7f3f1,#f7f4f3,#f7f5f4,#f7f5f4,#f7f4f2,#f7f2ef,#f7eeeb,#f7eae5,#f6e5dd,#f6dfd5,#f6dcd0,#f6d7c9,#f6d2c2,#f5cebc,#f5cbb8,#f5c9b6,#f5c8b5,#f5c8b4,#f5c7b3,#f5c7b3,#f5c7b3,#f5c7b3,#f5c7b3,#f5c7b3,#f5c7b3,#f5c7b2,#f5c6b1,#f5c6b0,#f5c5af,#f5c4ae,#f5c4ae,#f5c3ad,#f5c3ac,#f5c2ac,#f5c2ab,#f5c2ab,#f5c3ac)"></i><i style="background:linear-gradient(#f5bfa8,#f5c3ad,#f5c8b4,#f5ccba,#f6d0bf,#f6d3c4,#f6d6c8,#f6d9cc,#f6dcd0,#f6dfd5,#f6e3da,#f6e6de,#f6e9e3,#f7ebe6,#f7ede9,#f7eeea,#f7eeea,#f7ede8,#f7ebe6,#f6e7e1,#f6e2d9,#f6dcd1,#f6d7c9,#f6d1c1,#f5ccb9,#f5c7b3,#f5c5af,#f5c3ad,#f5c2ab,#f5c1aa,#f5c0a9,#f5c0a9,#f5c0a9,#f5c0a8,#f5c0a8,#f5c0a8,#f5bfa7,#f5bfa7,#f5bea6,#f5bda5,#f5bda4,#f5bca3,#f5bca2,#f5bba2,#f5bba2,#f5bba2,#f5bba2,#f5bca2,#f5bca3)"></i><i style="background:linear-gradient(#f5b497,#f5b599,#f5b99f,#f5bea6,#f5c2ac,#f5c6b1,#f5c9b6,#f5ccb9,#f6cebd,#f6d1c0,#f6d3c4,#f6d6c8,#f6d9cd,#f6dcd1,#f6dfd5,#f6e1d8,#f6e3da,#f6e3db,#f6e3da,#f6e1d8,#f6ddd2,#f6d7ca,#f6d2c2,#f5cbb9,#f5c5b0,#f5c1a9,#f5bea5,#f5bca2,#f5baa1,#f5ba9f,#f5b99e,#f5b99e,#f5b89e,#f5b89d,#f5b89d,#f5b89d,#f5b79c,#f5b79b,#f5b69a,#f5b69a,#f5b599,#f5b598,#f5b598,#f5b498,#f5b498,#f5b598,#f5b599,#f5b69a,#f5b69b)"></i><i style="background:linear-gradient(#f4aa89,#f4aa89,#f4ac8c,#f4af90,#f4b295,#f5b69a,#f5b99e,#f5bca3,#f5bfa6,#f5c1aa,#f5c3ac,#f5c5af,#f5c7b2,#f5c9b6,#f5ccba,#f6cfbe,#f6d2c2,#f6d4c5,#f6d5c7,#f6d5c7,#f6d3c3,#f6cfbe,#f5cab7,#f5c3ae,#f5bea5,#f5b99f,#f5b69a,#f5b498,#f5b396,#f4b294,#f4b193,#f4b092,#f4b091,#f4af91,#f4af90,#f4af90,#f4af90,#f4ae8f,#f4ae8f,#f4ae8f,#f4ae8f,#f4ae8f,#f4ae8f,#f4ae8f,#f4ae8f,#f4af90,#f4af91,#f4b092,#f4b092)"></i><i style="background:linear-gradient(#f3a180,#f3a07f,#f3a180,#f4a481,#f4a684,#f4a887,#f4ab8a,#f4ad8d,#f4af91,#f4b294,#f5b497,#f5b69a,#f5b89d,#f5baa0,#f5bca3,#f5bea6,#f5c1aa,#f5c3ad,#f5c5b0,#f5c6b1,#f5c5b0,#f5c3ac,#f5bfa7,#f5baa0,#f5b599,#f4b294,#f4af91,#f4ad8e,#f4ab8b,#f4aa88,#f4a886,#f4a684,#f4a583,#f4a582,#f4a582,#f4a582,#f4a583,#f4a683,#f4a684,#f4a684,#f4a785,#f4a785,#f4a785,#f4a886,#f4a886,#f4a987,#f4a988,#f4aa89,#f4aa8a)"></i><i style="background:linear-gradient(#f1977a,#f09779,#f09779,#f0977a,#f1987a,#f19a7b,#f29c7d,#f29f7e,#f3a280,#f4a582,#f4a785,#f4a988,#f4ab8b,#f4ad8e,#f4af91,#f4b193,#f5b396,#f5b599,#f5b69b,#f5b79c,#f5b79b,#f5b599,#f5b396,#f4b092,#f4ae8f,#f4ac8c,#f4aa89,#f4a785,#f4a481,#f29e7e,#f1997b,#f09478,#ef9276,#ef9176,#ef9176,#ef9277,#f09478,#f09679,#f1977a,#f1997b,#f19b7c,#f29c7d,#f29d7e,#f29e7e,#f39f7f,#f3a07f,#f3a180,#f3a381,#f4a482)"></i><i style="background:linear-gradient(#ef9076,#ef9075,#ee8f75,#ee8e75,#ee8e74,#ee8d74,#ee8d74,#ee8e74,#ee8f75,#ef9076,#ef9277,#f09679,#f1997b,#f29d7d,#f3a280,#f4a583,#f4a785,#f4a988,#f4aa8a,#f4ab8b,#f4ab8b,#f4ab8b,#f4ab8a,#f4aa88,#f4a887,#f4a684,#f3a280,#f29b7c,#f09478,#ee8d74,#ec8770,#eb836e,#eb816c,#eb806c,#eb816c,#eb826d,#ec846e,#ec8670,#ed8971,#ed8b73,#ee8d74,#ef9075,#ef9176,#ef9377,#f09478,#f09578,#f09679,#f0977a,#f1997b)"></i><i style="background:linear-gradient(#ed8971,#ed8971,#ed8871,#ec8670,#ec856f,#eb836e,#eb826d,#eb806c,#eb806c,#ea806c,#eb806c,#eb816d,#eb846e,#ec8670,#ed8a72,#ee8e75,#ef9377,#f1977a,#f19b7c,#f29e7e,#f3a07f,#f3a17f,#f3a180,#f3a07f,#f29d7d,#f1987a,#ef9075,#ec8770,#ea7e6b,#e97867,#e87465,#e77264,#e77263,#e77264,#e77364,#e87465,#e87666,#e97968,#e97b69,#ea7e6b,#eb816c,#eb836e,#ec856f,#ec8770,#ed8871,#ed8972,#ed8a72,#ee8c73,#ee8e74)"></i><i style="background:linear-gradient(#eb826d,#eb816d,#eb806c,#ea7e6b,#ea7c6a,#e97a68,#e87767,#e87566,#e77465,#e77364,#e77264,#e77163,#e77163,#e77264,#e77364,#e87666,#e97a68,#ea7e6b,#eb836e,#ec8770,#ed8a72,#ee8c73,#ee8c73,#ed8a72,#ec846f,#ea7c6a,#e77264,#e5695e,#e3635b,#e36159,#e26059,#e26059,#e3615a,#e3635b,#e4655c,#e4675d,#e5695e,#e56c60,#e66e61,#e77163,#e77465,#e87666,#e97968,#e97b69,#ea7d6a,#ea7e6b,#eb806c,#eb816d,#eb836e)"></i><i style="background:linear-gradient(#e97b69,#e97a68,#e97868,#e87666,#e77465,#e77163,#e66f62,#e66c60,#e56a5f,#e5685e,#e4665d,#e4645c,#e3625a,#e36059,#e25f58,#e25f59,#e3615a,#e3645b,#e4675d,#e56b5f,#e66e61,#e66f62,#e66e61,#e5695f,#e3625a,#e15955,#de5150,#dd4b4c,#dc484b,#dc484b,#dd494b,#dd4b4d,#de4e4e,#df5150,#df5452,#e05754,#e15b56,#e25e58,#e36159,#e3645b,#e4675d,#e56a5f,#e66c60,#e66f62,#e77163,#e77465,#e87666,#e87867,#e97a68)"></i><i style="background:linear-gradient(#e87465,#e77364,#e77163,#e66f62,#e66c60,#e56a5f,#e4675d,#e4645c,#e3625a,#e25f59,#e25d57,#e15a55,#e05653,#df5351,#de5050,#de4f4f,#de4e4e,#de4f4f,#df5150,#df5251,#df5351,#df5150,#de4e4e,#dc484b,#da4046,#d93942,#d7343f,#d7323e,#d7313d,#d7323e,#d7343f,#d83741,#d93a43,#da3e45,#db4247,#dc474a,#dd4b4c,#de4f4f,#df5251,#e05653,#e15955,#e25d57,#e26059,#e3635b,#e4665d,#e5695e,#e56c60,#e66e61,#e77063)"></i><i style="background:linear-gradient(#e66e61,#e66c60,#e56a5f,#e4685e,#e4655c,#e3625a,#e26059,#e25d57,#e15a56,#e05754,#df5452,#df5150,#de4d4e,#dd494b,#dc4649,#db4348,#db4247,#db4247,#db4147,#da4146,#da3f45,#d93a43,#d7343f,#d62e3b,#d42838,#d32436,#d32335,#d32234,#d32335,#d32435,#d42637,#d42938,#d52c3a,#d62f3c,#d7333e,#d83741,#d93c44,#da4046,#db4449,#dc484b,#dd4c4d,#de5050,#df5452,#e05854,#e15b56,#e25f58,#e3625a,#e4655c,#e4675d)"></i><i style="background:linear-gradient(#e4675d,#e4665c,#e3635b,#e3615a,#e25e58,#e15b56,#e15955,#e05653,#df5352,#de5050,#de4d4e,#dd494c,#dc4649,#db4247,#da3f45,#d93c44,#d93a43,#d83942,#d83741,#d83540,#d7313d,#d52c3a,#d42636,#d22033,#d11d31,#d11b30,#d11b30,#d11b30,#d11c30,#d11d31,#d22033,#d32335,#d42636,#d42838,#d52a39,#d52d3a,#d6303d,#d7343f,#d83841,#d93c44,#da4046,#db4449,#dc484b,#dd4c4d,#de5050,#df5452,#e05854,#e15b56,#e25e58)"></i><i style="background:linear-gradient(#e36059,#e25f59,#e25d57,#e15a55,#e05754,#e05552,#df5251,#de504f,#de4d4e,#dd4a4c,#dc474a,#db4448,#da4046,#da3d44,#d93a43,#d83841,#d83640,#d7343f,#d7313d,#d62e3b,#d52939,#d32435,#d21f32,#d11b30,#d11a2f,#d11a2f,#d11a2f,#d0192f,#d11a2f,#d11b30,#d21e32,#d32234,#d32436,#d32536,#d32536,#d42637,#d42938,#d52c3a,#d62f3c,#d7323e,#d83640,#d93a42,#da3e45,#db4247,#dc464a,#dd4a4c,#de4e4f,#df5251,#e05553)"></i><i style="background:linear-gradient(#e15955,#e05854,#e05653,#df5351,#df5150,#de4e4f,#dd4c4d,#dd4a4c,#dc474a,#db4449,#db4247,#da3f45,#d93c44,#d93942,#d83741,#d7343f,#d7323e,#d6303d,#d52d3b,#d42938,#d32436,#d22033,#d11c31,#d11a2f,#d11a2f,#d11b30,#d11b30,#d11a2f,#d11a2f,#d11b30,#d21e32,#d22133,#d32335,#d32335,#d32335,#d32335,#d32536,#d42737,#d42938,#d52c3a,#d62e3c,#d7313d,#d7353f,#d83942,#da3d44,#db4147,#dc4649,#dd4a4c,#de4d4e)"></i><i style="background:linear-gradient(#df5150,#de504f,#de4e4e,#dd4c4d,#dd4a4c,#dc484b,#dc4649,#db4448,#db4247,#da3f46,#da3d44,#d93b43,#d83942,#d83740,#d7343f,#d7323e,#d6303c,#d52d3b,#d52939,#d42536,#d22134,#d11d31,#d11b30,#d0192f,#d11a2f,#d11b30,#d11b30,#d11a2f,#d11a2f,#d11b30,#d11d31,#d21f32,#d22033,#d22133,#d22133,#d22134,#d32234,#d32435,#d42637,#d42838,#d52a39,#d52c3a,#d62e3b,#d7313d,#d7353f,#d93942,#da3d45,#db4247,#dc4549)"></i><i style="background:linear-gradient(#dd494c,#dc484b,#dc474a,#dc4549,#db4348,#db4247,#da4046,#da3e45,#d93c44,#d93b43,#d83942,#d83741,#d83540,#d7343f,#d7323e,#d6303c,#d52d3b,#d52a39,#d42637,#d32335,#d21f32,#d11c30,#d0192f,#d0182e,#d0182e,#d0192f,#d0192f,#d0192f,#d0192f,#d11a2f,#d11b30,#d11d31,#d21e32,#d21e32,#d21f32,#d21f33,#d22033,#d32234,#d32435,#d42636,#d42637,#d42737,#d42938,#d52b3a,#d62e3c,#d7323e,#d83640,#d93a43,#da3e45)"></i><i style="background:linear-gradient(#db4247,#da4146,#da3f46,#da3e45,#da3d44,#d93c43,#d93a43,#d83942,#d83741,#d83640,#d7343f,#d7333e,#d7323e,#d6313d,#d62f3c,#d52d3b,#d52a39,#d42737,#d32335,#d22033,#d11d31,#d11a2f,#d0182e,#d0172d,#d0162d,#d0162d,#d0162d,#d0172d,#d0172e,#d0182e,#d0192f,#d11a2f,#d11b30,#d11c30,#d11c31,#d11d31,#d21e32,#d22033,#d32234,#d32335,#d32435,#d32435,#d32536,#d42737,#d42938,#d52c3a,#d6303d,#d7343f,#d83741)"></i><i style="background:linear-gradient(#d93b43,#d93a42,#d83942,#d83841,#d83740,#d83640,#d7343f,#d7333e,#d7323e,#d6313d,#d6303d,#d62f3c,#d62e3b,#d52d3b,#d52c3a,#d52a39,#d42737,#d32435,#d22033,#d11d31,#d11a30,#d0182e,#d0162d,#cf152c,#cf142c,#cf142c,#cf142c,#cf142c,#cf152c,#cf152d,#d0162d,#d0172e,#d0182e,#d0192f,#d11a2f,#d11b30,#d11c31,#d11d31,#d21f32,#d22033,#d22033,#d22033,#d22134,#d32234,#d32436,#d42737,#d52a39,#d62e3b,#d6313d)"></i></div></div>
<div class="p" style="left:305px;top:18px;width:137px;height:138px"><div style="height:144px;width:144px"><i style="background:linear-gradient(#e2ecf2,#ddeaf1,#d8e8ef,#d4e6ee,#cfe3ed,#cbe1ec,#c7dfeb,#c4deea,#c0dce9,#bddae9,#bbd9e8,#b8d8e7,#b6d7e7,#b5d6e7,#b3d5e6,#b2d5e6,#b1d4e6,#b1d4e6,#b0d4e5,#afd3e5,#add3e5,#abd2e4,#a9d1e4,#a7d0e3,#a5cfe3,#a3cee2,#a2cde2,#a0cce2,#9fcbe1,#9ecbe1,#9dcae1,#9ccae0,#9bc9e0,#99c9e0,#98c8e0,#97c8df,#96c7df,#95c6df,#94c6de,#93c5de,#92c5de,#91c4de,#90c4dd,#8ec3dd,#8dc2dd,#8cc2dc,#8bc1dc,#8ac0db,#88bfdb)"></i><i style="background:linear-gradient(#e4eef2,#dfebf1,#dae9f0,#d6e7ef,#d1e4ee,#cde2ed,#c9e0ec,#c5deeb,#c2ddea,#bedbe9,#bbd9e8,#b9d8e8,#b6d7e7,#b4d6e6,#b3d5e6,#b1d5e6,#b0d4e6,#b0d4e5,#afd3e5,#aed3e5,#add2e5,#abd1e4,#a9d0e4,#a7cfe3,#a5cee3,#a3cee2,#a2cde2,#a0cce2,#9fcce1,#9ecbe1,#9dcbe1,#9ccae1,#9bc9e0,#9ac9e0,#99c8e0,#98c8df,#96c7df,#95c7df,#94c6df,#93c6de,#92c5de,#91c4de,#90c4dd,#8fc3dd,#8ec2dd,#8dc2dc,#8cc1dc,#8ac0db,#89bfdb)"></i><i style="background:linear-gradient(#e7eff3,#e2edf2,#ddeaf1,#d8e8ef,#d4e6ee,#cfe3ed,#cbe1ec,#c7dfeb,#c3ddea,#bfdbe9,#bcdae8,#b9d8e8,#b6d7e7,#b4d6e6,#b2d5e6,#b0d4e6,#afd3e5,#aed3e5,#add3e5,#acd2e5,#abd1e4,#a9d1e4,#a8d0e3,#a6cfe3,#a4cee3,#a3cde2,#a2cde2,#a1cce2,#a0cce1,#9fcbe1,#9ecbe1,#9dcae1,#9ccae0,#9ac9e0,#99c9e0,#98c8df,#97c7df,#96c7df,#94c6df,#93c6de,#92c5de,#91c4de,#90c4dd,#8fc3dd,#8ec3dd,#8dc2dc,#8cc1dc,#8ac0dc,#89c0db)"></i><i style="background:linear-gradient(#eaf1f4,#e5eef3,#e0ecf1,#dbe9f0,#d7e7ef,#d2e5ee,#cde2ed,#c9e0ec,#c5deeb,#c1dcea,#bddae9,#b9d8e8,#b6d7e7,#b3d5e6,#b1d4e6,#afd3e5,#aed3e5,#add2e5,#abd2e4,#aad1e4,#a9d0e4,#a8d0e3,#a6cfe3,#a5cee3,#a4cee2,#a3cde2,#a2cde2,#a1cce2,#a0cce1,#9fcce1,#9ecbe1,#9dcbe1,#9ccae0,#9bc9e0,#9ac9e0,#98c8e0,#97c8df,#96c7df,#95c6df,#93c6de,#92c5de,#91c5de,#90c4dd,#8fc3dd,#8ec3dd,#8dc2dc,#8cc1dc,#8ac0dc,#89c0db)"></i><i style="background:linear-gradient(#eef3f5,#e9f0f3,#e4edf2,#dfebf1,#dae8f0,#d5e6ef,#d0e4ed,#cbe1ec,#c7dfeb,#c2ddea,#bedbe9,#bad9e8,#b6d7e7,#b3d5e6,#b0d4e5,#aed3e5,#acd2e4,#abd1e4,#aad1e4,#a8d0e4,#a7d0e3,#a6cfe3,#a5cee3,#a4cee2,#a3cde2,#a2cde2,#a2cde2,#a1cce2,#a0cce2,#a0cce1,#9fcbe1,#9ecbe1,#9dcae1,#9bcae0,#9ac9e0,#99c8e0,#97c8df,#96c7df,#95c6df,#94c6de,#92c5de,#91c5de,#90c4dd,#8fc3dd,#8ec2dd,#8dc2dc,#8cc1dc,#8ac0db,#89c0db)"></i><i style="background:linear-gradient(#f2f5f6,#edf2f4,#e7eff3,#e2edf2,#ddeaf1,#d8e8ef,#d3e5ee,#cee3ed,#c9e0ec,#c4deea,#bfdbe9,#bad9e8,#b6d7e7,#b2d5e6,#afd4e5,#add2e5,#abd1e4,#a9d0e4,#a8d0e3,#a7cfe3,#a6cfe3,#a5cee3,#a4cee2,#a3cde2,#a2cde2,#a2cde2,#a1cde2,#a1cce2,#a1cce2,#a0cce2,#9fcce1,#9ecbe1,#9dcbe1,#9ccae0,#9bc9e0,#99c9e0,#98c8df,#97c7df,#95c7df,#94c6de,#93c5de,#91c5de,#90c4dd,#8fc3dd,#8ec2dd,#8dc2dc,#8cc1dc,#8ac0db,#89c0db)"></i><i style="background:linear-gradient(#f7f7f7,#f1f4f6,#ecf1f4,#e6eff3,#e1ecf2,#dce9f0,#d6e7ef,#d1e4ee,#cce2ec,#c6dfeb,#c1dcea,#bbd9e8,#b7d7e7,#b2d5e6,#afd3e5,#acd2e4,#aad1e4,#a8d0e3,#a6cfe3,#a5cfe3,#a4cee3,#a3cee2,#a3cde2,#a2cde2,#a2cde2,#a2cde2,#a1cde2,#a1cde2,#a1cce2,#a1cce2,#a0cce1,#9fcbe1,#9ecbe1,#9dcae1,#9bcae0,#9ac9e0,#98c8e0,#97c7df,#95c7df,#94c6df,#93c5de,#91c5de,#90c4dd,#8fc3dd,#8ec2dd,#8dc2dc,#8cc1dc,#8ac0dc,#89c0db)"></i><i style="background:linear-gradient(#f7f3f2,#f6f7f7,#f1f4f5,#ebf1f4,#e6eef3,#e0ecf1,#dae9f0,#d5e6ef,#cfe3ed,#c9e0ec,#c3ddea,#bddae9,#b8d8e7,#b3d5e6,#afd3e5,#acd2e4,#a9d1e4,#a7d0e3,#a6cfe3,#a4cee3,#a3cee2,#a2cde2,#a2cde2,#a2cde2,#a1cde2,#a1cde2,#a1cde2,#a1cde2,#a1cde2,#a1cce2,#a0cce2,#a0cce1,#9fcbe1,#9dcbe1,#9ccae0,#9bc9e0,#99c9e0,#98c8df,#96c7df,#94c6df,#93c6de,#92c5de,#90c4dd,#8fc3dd,#8ec3dd,#8dc2dc,#8cc1dc,#8bc1dc,#89c0db)"></i><i style="background:linear-gradient(#f7efeb,#f7f3f1,#f6f7f7,#f1f4f5,#ebf1f4,#e5eef3,#dfebf1,#d9e8f0,#d4e5ee,#cde2ed,#c7dfeb,#c0dce9,#bad9e8,#b5d6e7,#b0d4e6,#add2e5,#aad1e4,#a7d0e3,#a5cfe3,#a4cee2,#a3cde2,#a2cde2,#a2cde2,#a1cde2,#a1cde2,#a1cde2,#a2cde2,#a2cde2,#a2cde2,#a2cde2,#a1cce2,#a0cce2,#9fcce1,#9ecbe1,#9dcae1,#9bcae0,#9ac9e0,#98c8e0,#97c7df,#95c7df,#94c6de,#92c5de,#91c4de,#90c4dd,#8ec3dd,#8dc2dc,#8cc1dc,#8bc1dc,#8ac0db)"></i><i style="background:linear-gradient(#f7e9e4,#f7eeea,#f7f3f1,#f7f7f7,#f0f4f5,#eaf1f4,#e4eef2,#deebf1,#d9e8ef,#d2e5ee,#cce2ec,#c5deeb,#bedbe9,#b8d8e7,#b3d5e6,#afd3e5,#abd1e4,#a8d0e4,#a6cfe3,#a4cee3,#a3cde2,#a2cde2,#a2cde2,#a2cde2,#a2cde2,#a2cde2,#a2cde2,#a2cde2,#a2cde2,#a2cde2,#a2cde2,#a1cde2,#a0cce2,#9fcce1,#9ecbe1,#9ccae1,#9bc9e0,#99c8e0,#97c8df,#96c7df,#94c6df,#93c5de,#92c5de,#90c4dd,#8fc3dd,#8ec2dd,#8cc2dc,#8bc1dc,#8ac0db)"></i><i style="background:linear-gradient(#f6e4dc,#f6e8e2,#f7ede9,#f7f2f0,#f7f7f7,#f0f4f5,#eaf1f4,#e4edf2,#deebf1,#d8e8ef,#d1e4ee,#cae1ec,#c3ddea,#bcdae9,#b7d7e7,#b2d5e6,#aed3e5,#aad1e4,#a8d0e3,#a6cfe3,#a4cee2,#a3cde2,#a3cde2,#a3cde2,#a3cde2,#a3cde2,#a3cee2,#a3cee2,#a3cee2,#a3cee2,#a3cde2,#a2cde2,#a2cde2,#a0cce2,#9fcbe1,#9ecbe1,#9ccae0,#9ac9e0,#98c8e0,#97c7df,#95c6df,#94c6de,#92c5de,#91c4de,#90c4dd,#8ec3dd,#8dc2dc,#8cc1dc,#8bc1dc)"></i><i style="background:linear-gradient(#f6ded3,#f6e2da,#f6e7e0,#f7ece7,#f7f1ee,#f7f7f7,#f0f4f5,#eaf0f4,#e4edf2,#deebf1,#d8e8ef,#d1e4ee,#cae1ec,#c3ddea,#bcdae8,#b6d7e7,#b2d5e6,#aed3e5,#aad1e4,#a8d0e3,#a6cfe3,#a5cee3,#a4cee3,#a4cee2,#a4cee3,#a5cee3,#a5cee3,#a5cee3,#a5cee3,#a5cee3,#a5cee3,#a4cee2,#a3cde2,#a2cde2,#a1cce2,#9fcbe1,#9dcae1,#9bcae0,#99c9e0,#98c8df,#96c7df,#94c6df,#93c6de,#92c5de,#90c4de,#8fc3dd,#8ec3dd,#8dc2dc,#8cc1dc)"></i><i style="background:linear-gradient(#f6d7ca,#f6dcd0,#f6e0d6,#f6e4dc,#f7eae4,#f7f0ed,#f7f6f6,#f1f4f5,#eaf0f4,#e4edf2,#deebf1,#d8e8ef,#d1e4ee,#cae1ec,#c3ddea,#bddae9,#b7d7e7,#b2d5e6,#aed3e5,#abd1e4,#a9d0e4,#a8d0e3,#a7cfe3,#a7cfe3,#a7cfe3,#a7cfe3,#a7cfe3,#a7cfe3,#a7cfe3,#a7cfe3,#a6cfe3,#a6cfe3,#a5cee3,#a4cee2,#a2cde2,#a0cce2,#9fcbe1,#9dcae1,#9bc9e0,#99c8e0,#97c7df,#95c7df,#94c6de,#93c5de,#92c5de,#90c4dd,#8fc3dd,#8ec3dd,#8dc2dc)"></i><i style="background:linear-gradient(#f6d0bf,#f6d4c6,#f6d8cb,#f6ddd2,#f6e2d9,#f6e8e1,#f7eeea,#f7f5f4,#f1f4f6,#eaf1f4,#e4eef2,#dfebf1,#d9e8f0,#d2e5ee,#cbe1ec,#c4deea,#bedbe9,#b8d8e7,#b4d6e6,#b0d4e5,#add2e5,#abd2e4,#aad1e4,#aad1e4,#aad1e4,#aad1e4,#aad1e4,#aad1e4,#aad1e4,#a9d1e4,#a9d0e4,#a8d0e3,#a7cfe3,#a6cfe3,#a4cee3,#a2cde2,#a0cce2,#9ecbe1,#9ccae0,#9ac9e0,#98c8df,#96c7df,#95c6df,#94c6de,#93c5de,#92c5de,#90c4dd,#8fc3dd,#8ec3dd)"></i><i style="background:linear-gradient(#f5c9b5,#f5cdbb,#f6d1c1,#f6d5c7,#f6dacd,#f6dfd5,#f6e5dd,#f7ece8,#f7f4f3,#f2f5f6,#ebf1f4,#e5eef3,#e0ebf1,#dae9f0,#d4e6ee,#cde2ed,#c6dfeb,#c0dce9,#bad9e8,#b6d7e7,#b2d5e6,#b0d4e5,#afd3e5,#afd3e5,#aed3e5,#aed3e5,#aed3e5,#add3e5,#add2e5,#acd2e5,#acd2e4,#abd1e4,#aad1e4,#a8d0e4,#a7cfe3,#a5cee3,#a2cde2,#a0cce1,#9dcbe1,#9bcae0,#99c9e0,#98c8df,#96c7df,#95c6df,#94c6de,#93c5de,#92c5de,#91c4de,#90c4dd)"></i><i style="background:linear-gradient(#f5c1aa,#f5c5b0,#f5cab6,#f5cebc,#f6d2c2,#f6d7c9,#f6dcd1,#f6e3da,#f7eae5,#f7f2f0,#f4f5f6,#ecf2f4,#e7eff3,#e1ecf2,#dceaf0,#d6e7ef,#d0e4ed,#c9e0ec,#c3ddea,#bddae9,#b9d8e8,#b6d7e7,#b5d6e7,#b4d6e6,#b4d6e6,#b3d5e6,#b2d5e6,#b1d5e6,#b1d4e6,#b0d4e5,#afd3e5,#aed3e5,#add2e5,#abd1e4,#a9d1e4,#a7cfe3,#a5cee3,#a2cde2,#9fcce1,#9dcae1,#9bc9e0,#99c8e0,#97c8df,#96c7df,#95c7df,#94c6df,#93c6de,#92c5de,#91c5de)"></i><i style="background:linear-gradient(#f5b99e,#f5bda4,#f5c1ab,#f5c6b1,#f5cbb8,#f6cfbe,#f6d4c5,#f6d9cd,#f6e0d6,#f6e8e1,#f7f0ed,#f6f7f7,#eff3f5,#e9f0f3,#e3edf2,#deebf1,#d9e8f0,#d3e5ee,#cce2ec,#c7dfeb,#c2ddea,#bedbe9,#bcdae8,#bbd9e8,#bad9e8,#b9d8e8,#b7d7e7,#b6d7e7,#b5d6e7,#b4d6e6,#b2d5e6,#b1d4e6,#b0d4e5,#aed3e5,#add2e5,#aad1e4,#a7d0e3,#a4cee3,#a1cde2,#9fcbe1,#9ccae1,#9bc9e0,#99c8e0,#98c8df,#97c7df,#96c7df,#95c6df,#94c6de,#93c6de)"></i><i style="background:linear-gradient(#f4b193,#f5b498,#f5b99f,#f5bea6,#f5c3ad,#f5c8b4,#f5ccba,#f6d1c1,#f6d7c9,#f6ddd2,#f6e5dd,#f7ede9,#f7f5f4,#f2f4f6,#ecf1f4,#e6eff3,#e1ecf2,#dceaf0,#d7e7ef,#d1e4ee,#cce2ec,#c8e0eb,#c5deeb,#c3ddea,#c1dcea,#bfdbe9,#bddae9,#bbd9e8,#b9d8e8,#b8d8e7,#b6d7e7,#b5d6e7,#b4d6e6,#b2d5e6,#b0d4e5,#aed3e5,#abd1e4,#a7d0e3,#a4cee2,#a1cce2,#9ecbe1,#9ccae1,#9bc9e0,#9ac9e0,#98c8e0,#97c8df,#97c7df,#96c7df,#95c6df)"></i><i style="background:linear-gradient(#f4a988,#f4ad8d,#f4b194,#f5b69b,#f5bba2,#f5c0a9,#f5c5b0,#f5cab7,#f6cfbe,#f6d4c5,#f6dbcf,#f6e2d9,#f7eae5,#f7f2f0,#f5f6f7,#eff3f5,#eaf1f4,#e5eef3,#e0ecf1,#dbe9f0,#d6e7ef,#d1e4ee,#cee3ed,#cbe1ec,#c8e0eb,#c5deeb,#c3ddea,#c0dcea,#bedbe9,#bcdae8,#bad9e8,#b9d8e8,#b7d7e7,#b6d7e7,#b4d6e6,#b1d4e6,#aed3e5,#aad1e4,#a7cfe3,#a3cee2,#a1cce2,#9ecbe1,#9dcae1,#9bcae0,#9ac9e0,#99c9e0,#98c8e0,#98c8df,#97c7df)"></i><i style="background:linear-gradient(#f3a07f,#f4a683,#f4aa89,#f4af90,#f5b497,#f5b99e,#f5bea6,#f5c3ad,#f5c8b3,#f5cdba,#f6d2c2,#f6d8cb,#f6e0d6,#f6e7e1,#f7efeb,#f7f5f4,#f4f5f6,#eff3f5,#eaf0f4,#e5eef3,#e0ecf1,#dbe9f0,#d7e7ef,#d3e5ee,#d0e4ed,#cde2ed,#cae1ec,#c7dfeb,#c3ddea,#c1dcea,#bedbe9,#bcdae8,#bbd9e8,#b9d9e8,#b8d8e7,#b5d6e7,#b2d5e6,#aed3e5,#aad1e4,#a6cfe3,#a3cde2,#a1cce2,#9fcbe1,#9ecbe1,#9ccae1,#9bcae0,#9bc9e0,#9ac9e0,#99c8e0)"></i><i style="background:linear-gradient(#f09378,#f19a7b,#f3a17f,#f4a785,#f4ac8c,#f4b194,#f5b79b,#f5bca3,#f5c1aa,#f5c6b1,#f5cbb8,#f6d0c0,#f6d6c9,#f6ddd2,#f6e5dd,#f7ebe6,#f7f1ee,#f7f6f5,#f3f5f6,#eff3f5,#eaf0f4,#e5eef3,#e1ecf1,#dceaf0,#d8e8ef,#d5e6ee,#d1e4ee,#cde2ed,#c9e0ec,#c5deeb,#c2ddea,#bfdbe9,#bedbe9,#bcdae8,#bbd9e8,#b9d8e8,#b5d7e7,#b1d4e6,#add2e5,#a9d0e4,#a6cfe3,#a3cde2,#a1cde2,#a0cce1,#9fcbe1,#9ecbe1,#9dcae1,#9ccae0,#9bc9e0)"></i><i style="background:linear-gradient(#ec8770,#ee8d74,#ef9277,#f19a7b,#f4a381,#f4aa89,#f4b091,#f5b599,#f5baa0,#f5bfa7,#f5c4ae,#f5c9b5,#f6cebd,#f6d5c6,#f6dbcf,#f6e2d9,#f6e8e2,#f7ede9,#f7f2f0,#f7f6f5,#f4f5f6,#eff3f5,#eaf1f4,#e6eef3,#e1ecf2,#ddeaf1,#d9e8f0,#d4e6ee,#d0e4ed,#cbe1ec,#c6dfeb,#c2ddea,#bfdbe9,#bedbe9,#bddae9,#bcdae8,#b9d8e8,#b5d6e7,#b0d4e6,#acd2e4,#a8d0e4,#a5cfe3,#a3cee2,#a2cde2,#a1cce2,#a0cce1,#9fcbe1,#9ecbe1,#9dcbe1)"></i><i style="background:linear-gradient(#ea7c6a,#eb806c,#ec856f,#ee8b73,#f09478,#f29f7e,#f4a887,#f4ae8f,#f5b498,#f5b99f,#f5bea6,#f5c3ac,#f5c7b3,#f5cdbb,#f6d3c3,#f6d9cc,#f6dfd5,#f6e5de,#f7eae4,#f7eeea,#f7f2f0,#f7f6f5,#f4f5f6,#eff3f5,#eaf1f4,#e6eef3,#e1ecf2,#ddeaf0,#d7e7ef,#d2e5ee,#cce2ec,#c6dfeb,#c1dcea,#bfdbe9,#bedbe9,#bedbe9,#bcdae8,#b9d8e8,#b4d6e7,#b0d4e5,#acd2e4,#a8d0e4,#a6cfe3,#a4cee3,#a3cee2,#a2cde2,#a2cde2,#a1cce2,#a0cce1)"></i><i style="background:linear-gradient(#e77264,#e87666,#e97a68,#ea806c,#ec8770,#ef9176,#f29e7e,#f4a886,#f4ae8f,#f5b497,#f5b99e,#f5bda5,#f5c2ab,#f5c6b1,#f5cbb9,#f6d1c1,#f6d7ca,#f6ddd2,#f6e2da,#f6e7e0,#f7ebe5,#f7eeea,#f7f2ef,#f7f5f5,#f4f5f6,#eff3f5,#eaf1f4,#e5eef3,#e1ecf1,#dbe9f0,#d4e6ee,#cde2ed,#c6dfeb,#c2ddea,#c0dce9,#c1dcea,#c1dcea,#bedbe9,#bad9e8,#b5d6e7,#b0d4e6,#add2e5,#aad1e4,#a8d0e3,#a6cfe3,#a5cfe3,#a4cee3,#a4cee2,#a2cde2)"></i><i style="background:linear-gradient(#e5695f,#e66d61,#e77163,#e87666,#ea7d6b,#ec8770,#ef9277,#f3a07f,#f4a988,#f4af91,#f5b498,#f5b99e,#f5bda4,#f5c1aa,#f5c5b0,#f5cab7,#f6d0c0,#f6d6c8,#f6dbcf,#f6e0d6,#f6e4db,#f6e7e0,#f7eae5,#f7ede9,#f7f1ef,#f7f5f4,#f4f6f6,#f0f4f5,#ecf1f4,#e7eff3,#e2edf2,#dbe9f0,#d3e5ee,#cce2ec,#cae1ec,#c9e0ec,#c9e0ec,#c7dfeb,#c3ddea,#bddae9,#b8d8e7,#b3d5e6,#afd3e5,#acd2e5,#aad1e4,#a9d0e4,#a8d0e3,#a7cfe3,#a5cfe3)"></i><i style="background:linear-gradient(#e3625a,#e4665d,#e56a5f,#e67062,#e87767,#ea7f6c,#ed8a72,#f1977a,#f4a582,#f4ab8b,#f4b193,#f5b69a,#f5ba9f,#f5bda5,#f5c1aa,#f5c5b0,#f5cab7,#f6d0bf,#f6d5c6,#f6d9cc,#f6ddd2,#f6e0d6,#f6e3da,#f6e5de,#f6e8e2,#f7ece7,#f7efec,#f7f3f1,#f7f6f5,#f6f7f7,#f4f6f6,#f2f4f6,#edf2f5,#e7eff3,#e1ecf1,#dbe9f0,#d8e8ef,#d5e6ef,#d0e4ed,#cae1ec,#c2ddea,#bcdae8,#b7d7e7,#b3d5e6,#b0d4e5,#aed3e5,#acd2e4,#aad1e4,#a9d0e4)"></i><i style="background:linear-gradient(#e25d57,#e3615a,#e4665c,#e56b60,#e77264,#e97b69,#ec8670,#ef9277,#f3a07f,#f4a987,#f4ae8f,#f5b396,#f5b79c,#f5bba1,#f5bea6,#f5c2ab,#f5c6b1,#f5cbb8,#f6cfbe,#f6d3c4,#f6d7c9,#f6dacd,#f6dcd0,#f6ded3,#f6e0d6,#f6e2d9,#f6e5de,#f6e9e3,#f7ebe6,#f7ede8,#f7ece8,#f7ebe6,#f7ebe5,#f7ece8,#f7f1ef,#f4f6f6,#eaf1f4,#e3edf2,#deebf1,#d8e7ef,#d0e4ed,#c8dfeb,#c0dce9,#bbd9e8,#b6d7e7,#b3d5e6,#b1d4e6,#afd3e5,#add2e5)"></i><i style="background:linear-gradient(#e15955,#e25d58,#e3625a,#e5695e,#e77063,#e97968,#ec846e,#ef9076,#f29c7d,#f4a785,#f4ac8d,#f4b194,#f5b69a,#f5b99f,#f5bda4,#f5c0a8,#f5c4ae,#f5c7b3,#f5cbb9,#f6cfbe,#f6d2c2,#f6d4c6,#f6d6c8,#f6d8ca,#f6d9cd,#f6dbcf,#f6ded3,#f6e1d7,#f6e4db,#f6e5dd,#f6e4dc,#f6e3da,#f6e1d8,#f6e2d9,#f6e6df,#f7eeea,#f7f6f6,#eff3f5,#e8f0f3,#e2edf2,#dbe9f0,#d3e5ee,#cbe1ec,#c4deea,#bedbe9,#bad9e8,#b7d7e7,#b4d6e6,#b1d5e6)"></i><i style="background:linear-gradient(#e05754,#e15b56,#e36059,#e4675d,#e66e62,#e87867,#eb826d,#ee8e74,#f19a7b,#f4a583,#f4ab8b,#f4b092,#f5b598,#f5b89e,#f5bca2,#f5bfa7,#f5c2ac,#f5c5b0,#f5c9b5,#f5ccb9,#f6cebd,#f6d0c0,#f6d2c2,#f6d3c4,#f6d5c6,#f6d7c9,#f6d9cc,#f6dcd0,#f6dfd5,#f6e1d7,#f6e1d7,#f6dfd5,#f6ded3,#f6dfd4,#f6e2da,#f6e9e3,#f7f1ef,#f5f6f6,#eef3f5,#e9f0f3,#e3edf2,#dceaf0,#d5e6ef,#cde2ed,#c7dfeb,#c1dcea,#bddae9,#b9d8e8,#b7d7e7)"></i><i style="background:linear-gradient(#e05552,#e15a55,#e25f58,#e4665c,#e66d61,#e87666,#eb816c,#ee8c73,#f1987a,#f4a381,#f4aa89,#f4af91,#f5b497,#f5b89d,#f5bba2,#f5bea6,#f5c1aa,#f5c4af,#f5c7b3,#f5cab6,#f5ccba,#f5cebc,#f6cfbe,#f6d1c0,#f6d2c2,#f6d4c5,#f6d6c8,#f6d9cd,#f6dcd1,#f6dfd5,#f6e0d6,#f6dfd5,#f6ded4,#f6dfd5,#f6e2d9,#f6e8e1,#f7efeb,#f7f6f5,#f2f4f6,#edf2f4,#e8f0f3,#e3edf2,#dceaf0,#d5e6ef,#cee3ed,#c8e0eb,#c3ddea,#bfdbe9,#bcdae8)"></i><i style="background:linear-gradient(#df5452,#e15955,#e25e58,#e4655c,#e66c60,#e87565,#ea7f6b,#ed8972,#f09478,#f3a07f,#f4a987,#f4ae8f,#f5b396,#f5b79c,#f5bba1,#f5bea6,#f5c1aa,#f5c4ae,#f5c6b1,#f5c8b4,#f5cab7,#f5ccb9,#f5cdbb,#f6cfbd,#f6d0bf,#f6d2c2,#f6d4c6,#f6d7ca,#f6dbcf,#f6ddd3,#f6dfd5,#f6e0d6,#f6dfd5,#f6e0d6,#f6e3da,#f6e7e1,#f7ede9,#f7f4f2,#f5f6f6,#f0f4f5,#ecf1f4,#e7eff3,#e1ecf2,#dbe9f0,#d5e6ef,#cfe3ed,#c9e0ec,#c5deeb,#c2ddea)"></i><i style="background:linear-gradient(#df5352,#e05854,#e25e58,#e3645b,#e56b60,#e77364,#ea7c6a,#ec8670,#ef9176,#f29c7d,#f4a784,#f4ad8d,#f4b295,#f5b69b,#f5baa0,#f5bda5,#f5c0a9,#f5c3ad,#f5c5b0,#f5c7b3,#f5c9b5,#f5cab7,#f5ccb9,#f5cdbb,#f6cfbd,#f6d0c0,#f6d3c3,#f6d6c8,#f6d9cc,#f6dcd0,#f6ded3,#f6dfd5,#f6e0d6,#f6e1d7,#f6e3db,#f6e7e0,#f7ece7,#f7f1ef,#f7f6f6,#f3f5f6,#eff3f5,#ebf1f4,#e6eef3,#e0ecf1,#dae9f0,#d5e6ee,#cfe3ed,#cbe1ec,#c7dfeb)"></i><i style="background:linear-gradient(#df5351,#e05854,#e25d57,#e3635b,#e56a5f,#e77163,#e97a68,#eb836e,#ee8c73,#f1977a,#f4a381,#f4aa89,#f4b092,#f5b599,#f5b99f,#f5bca4,#f5bfa8,#f5c2ac,#f5c4af,#f5c6b2,#f5c8b4,#f5c9b6,#f5cbb8,#f5ccb9,#f5cdbb,#f6cfbe,#f6d1c1,#f6d4c5,#f6d7c9,#f6d9cd,#f6dcd0,#f6ded3,#f6dfd5,#f6e0d7,#f6e2da,#f6e6de,#f7eae4,#f7eeeb,#f7f3f1,#f7f7f7,#f3f5f6,#eef3f5,#eaf1f4,#e5eef3,#dfebf1,#dae9f0,#d5e6ef,#d1e4ee,#cde2ed)"></i><i style="background:linear-gradient(#df5351,#e05854,#e25d57,#e3635b,#e5695e,#e67062,#e87767,#ea7f6b,#ed8871,#ef9277,#f29d7d,#f4a785,#f4ad8e,#f5b396,#f5b79c,#f5bba2,#f5bea6,#f5c1aa,#f5c3ad,#f5c5b0,#f5c7b2,#f5c8b4,#f5c9b6,#f5cbb8,#f5ccb9,#f5cdbc,#f6cfbe,#f6d2c2,#f6d4c5,#f6d7c9,#f6d9cc,#f6dbcf,#f6ddd2,#f6ded4,#f6e0d7,#f6e3db,#f6e7e0,#f7ebe6,#f7f0ec,#f7f4f2,#f7f7f7,#f3f5f6,#eef3f5,#eaf0f4,#e5eef2,#dfebf1,#dae9f0,#d6e7ef,#d3e5ee)"></i><i style="background:linear-gradient(#df5452,#e15855,#e25d57,#e3635b,#e5685e,#e66e61,#e87465,#e97b69,#eb836e,#ee8c73,#f09679,#f3a280,#f4aa89,#f4b091,#f5b599,#f5b99f,#f5bda4,#f5c0a8,#f5c2ab,#f5c4ae,#f5c6b1,#f5c7b3,#f5c8b4,#f5c9b6,#f5cab7,#f5ccb9,#f5cdbc,#f6cfbe,#f6d2c2,#f6d4c5,#f6d6c8,#f6d8cb,#f6dace,#f6dcd0,#f6ded3,#f6e0d7,#f6e4dc,#f6e8e1,#f7ece7,#f7f0ed,#f7f3f2,#f7f7f7,#f3f5f6,#eff3f5,#eaf1f4,#e5eef3,#e0ecf1,#dceaf0,#d8e8ef)"></i><i style="background:linear-gradient(#df5452,#e15955,#e25e58,#e3635b,#e4685e,#e66d61,#e77264,#e87867,#ea7e6b,#ec866f,#ee8f75,#f19a7c,#f4a683,#f4ac8c,#f4b294,#f5b69b,#f5baa1,#f5bea5,#f5c0a9,#f5c3ac,#f5c4af,#f5c6b1,#f5c7b2,#f5c8b4,#f5c9b5,#f5cab7,#f5cbb9,#f5cdbb,#f6cfbe,#f6d1c1,#f6d3c4,#f6d5c7,#f6d7c9,#f6d9cc,#f6dbcf,#f6ddd3,#f6e1d7,#f6e4dc,#f6e8e2,#f7ece7,#f7efec,#f7f3f1,#f7f6f6,#f4f6f6,#eff3f5,#ebf1f4,#e6eff3,#e2edf2,#deebf1)"></i><i style="background:linear-gradient(#e05553,#e15a55,#e25e58,#e3635b,#e4675d,#e56c60,#e77063,#e87565,#e97a69,#eb806c,#ed8871,#ef9277,#f29d7e,#f4a785,#f4ae8e,#f5b396,#f5b89c,#f5bba2,#f5bea6,#f5c1aa,#f5c3ac,#f5c4af,#f5c5b0,#f5c6b1,#f5c7b3,#f5c8b4,#f5c9b6,#f5cbb8,#f5ccba,#f6cebd,#f6d0bf,#f6d2c2,#f6d4c5,#f6d6c8,#f6d8cb,#f6dbce,#f6ddd3,#f6e1d7,#f6e5dd,#f6e8e2,#f7ece7,#f7efec,#f7f2f0,#f7f5f5,#f5f6f6,#f0f4f5,#ecf1f4,#e7eff3,#e3edf2)"></i><i style="background:linear-gradient(#e05653,#e15a56,#e25f58,#e3635b,#e4675d,#e56b60,#e66e62,#e77264,#e87766,#e97c69,#eb826d,#ed8a72,#f09478,#f3a07f,#f4a988,#f4af90,#f5b498,#f5b89e,#f5bca3,#f5bfa7,#f5c1aa,#f5c3ac,#f5c4ae,#f5c5af,#f5c6b0,#f5c6b1,#f5c7b3,#f5c8b4,#f5cab6,#f5cbb9,#f5cdbb,#f6cfbe,#f6d1c1,#f6d3c4,#f6d5c7,#f6d8cb,#f6dbcf,#f6ded3,#f6e1d8,#f6e5dd,#f6e8e2,#f7ece7,#f7efeb,#f7f2f0,#f7f5f4,#f5f6f7,#f1f4f5,#ecf2f4,#e8f0f3)"></i><i style="background:linear-gradient(#e05753,#e15b56,#e25f59,#e3635b,#e4675d,#e56a5f,#e66d61,#e77063,#e77465,#e87867,#ea7d6a,#ec846e,#ee8c73,#f0977a,#f3a381,#f4aa89,#f4b092,#f5b599,#f5b99f,#f5bca3,#f5bfa7,#f5c1aa,#f5c2ac,#f5c3ad,#f5c4ae,#f5c5af,#f5c5b0,#f5c6b2,#f5c8b3,#f5c9b5,#f5cbb8,#f5cdba,#f6cfbd,#f6d1c0,#f6d3c3,#f6d5c7,#f6d8cb,#f6dbcf,#f6dfd4,#f6e2d9,#f6e5de,#f6e8e2,#f7ebe6,#f7eeeb,#f7f2ef,#f7f5f4,#f5f6f7,#f1f4f6,#edf2f5)"></i><i style="background:linear-gradient(#e05754,#e15b56,#e25f59,#e3635b,#e4675d,#e5695f,#e56c60,#e66e62,#e77163,#e87465,#e97968,#ea7e6b,#ec856f,#ee8e74,#f1997b,#f4a582,#f4ab8b,#f4b193,#f5b69a,#f5baa0,#f5bda4,#f5bfa7,#f5c0a9,#f5c2ab,#f5c3ac,#f5c3ad,#f5c4ae,#f5c5af,#f5c6b1,#f5c7b3,#f5c9b5,#f5cab7,#f5ccba,#f6cebd,#f6d0c0,#f6d3c4,#f6d6c7,#f6d9cc,#f6dcd0,#f6dfd5,#f6e2da,#f6e5de,#f6e8e2,#f7ebe6,#f7eeeb,#f7f2ef,#f7f5f4,#f6f6f7,#f2f4f6)"></i><i style="background:linear-gradient(#e05854,#e15c57,#e26059,#e3635b,#e4665d,#e5695e,#e56b5f,#e66d61,#e66f62,#e77264,#e87566,#e97a68,#ea806c,#ec8770,#ef9076,#f29c7d,#f4a784,#f4ad8d,#f4b295,#f5b79b,#f5baa0,#f5bda4,#f5bfa7,#f5c0a9,#f5c1aa,#f5c2ab,#f5c2ac,#f5c3ad,#f5c4ae,#f5c5b0,#f5c7b2,#f5c8b4,#f5cab7,#f5ccba,#f6cebd,#f6d1c0,#f6d3c4,#f6d6c8,#f6d9cd,#f6dcd1,#f6e0d6,#f6e3da,#f6e5de,#f6e8e2,#f7ebe6,#f7eeeb,#f7f1ef,#f7f5f4,#f6f6f7)"></i><i style="background:linear-gradient(#e15855,#e25c57,#e26059,#e3635b,#e4665c,#e5685e,#e56a5f,#e66c60,#e66e61,#e77063,#e77364,#e87767,#e97b69,#eb816d,#ed8971,#ef9377,#f39f7f,#f4a887,#f4ae90,#f5b497,#f5b89c,#f5baa1,#f5bda4,#f5bea6,#f5bfa8,#f5c0a9,#f5c1aa,#f5c2ab,#f5c3ac,#f5c4ae,#f5c5b0,#f5c6b2,#f5c8b4,#f5cab7,#f5ccba,#f6cebd,#f6d1c1,#f6d4c5,#f6d7c9,#f6dacd,#f6ddd2,#f6e0d6,#f6e3da,#f6e5de,#f6e8e2,#f7ebe6,#f7eeea,#f7f1ef,#f7f5f4)"></i><i style="background:linear-gradient(#e15955,#e25d57,#e26059,#e3635b,#e4665c,#e4685e,#e56a5f,#e56c60,#e66e61,#e67062,#e77264,#e87565,#e97868,#ea7d6a,#eb846e,#ee8c73,#f0977a,#f4a381,#f4aa8a,#f4b092,#f5b598,#f5b89d,#f5baa1,#f5bca3,#f5bea5,#f5bfa7,#f5bfa8,#f5c0a9,#f5c1aa,#f5c2ac,#f5c3ad,#f5c5af,#f5c6b1,#f5c8b4,#f5cab7,#f5ccba,#f6cfbe,#f6d2c2,#f6d4c6,#f6d7ca,#f6dace,#f6ddd2,#f6e0d6,#f6e2da,#f6e5dd,#f6e8e1,#f7ebe6,#f7eeea,#f7f1ef)"></i><i style="background:linear-gradient(#e15a55,#e25d57,#e36059,#e3635b,#e4665c,#e4685e,#e56a5f,#e56c60,#e66e61,#e67062,#e77264,#e87465,#e87767,#e97b69,#ea806c,#ec8770,#ef9075,#f29b7c,#f4a784,#f4ac8d,#f4b194,#f5b599,#f5b89d,#f5baa0,#f5bca2,#f5bda4,#f5bea5,#f5bfa7,#f5c0a8,#f5c1a9,#f5c2ab,#f5c3ad,#f5c4af,#f5c6b1,#f5c8b4,#f5cab7,#f5cdbb,#f6cfbe,#f6d2c2,#f6d5c6,#f6d8ca,#f6dace,#f6ddd2,#f6dfd5,#f6e2d9,#f6e5dd,#f6e8e1,#f7ebe6,#f7eeeb)"></i><i style="background:linear-gradient(#e15a55,#e25e58,#e36159,#e3645b,#e4665d,#e5685e,#e56a5f,#e66c60,#e66e61,#e77063,#e77264,#e87465,#e87666,#e97968,#ea7d6a,#eb836e,#ed8b72,#f09578,#f3a180,#f4a988,#f4ae8f,#f4b295,#f5b69a,#f5b89d,#f5ba9f,#f5bba1,#f5bca3,#f5bda4,#f5bea6,#f5bfa7,#f5c0a9,#f5c1ab,#f5c3ad,#f5c4af,#f5c6b2,#f5c8b5,#f5cbb8,#f5cdbc,#f6d0bf,#f6d2c3,#f6d5c6,#f6d7ca,#f6dace,#f6dcd1,#f6dfd5,#f6e2d9,#f6e5dd,#f6e8e1,#f7ebe6)"></i><i style="background:linear-gradient(#e15a55,#e25e58,#e3615a,#e3645b,#e4665d,#e5685e,#e56a5f,#e66c60,#e66e62,#e77163,#e77364,#e87565,#e87766,#e97968,#ea7c6a,#eb806c,#ec8770,#ef9075,#f19b7c,#f4a683,#f4ab8a,#f4af91,#f5b396,#f5b59a,#f5b79c,#f5b99e,#f5baa0,#f5bba2,#f5bca3,#f5bda5,#f5bfa7,#f5c0a8,#f5c1aa,#f5c3ad,#f5c5af,#f5c7b2,#f5c9b5,#f5cbb9,#f5cebc,#f6d0c0,#f6d3c3,#f6d5c6,#f6d7ca,#f6dacd,#f6dcd0,#f6dfd4,#f6e1d8,#f6e5dd,#f6e9e2)"></i><i style="background:linear-gradient(#e15a55,#e25e58,#e3615a,#e3645b,#e4665d,#e5685e,#e56a5f,#e66d60,#e66f62,#e77163,#e77365,#e87666,#e87767,#e97968,#e97b69,#ea7f6c,#ec856f,#ee8c73,#f09679,#f3a180,#f4a886,#f4ac8d,#f4b092,#f5b396,#f5b599,#f5b79b,#f5b89d,#f5b99f,#f5bba1,#f5bca2,#f5bda4,#f5bea6,#f5c0a8,#f5c1ab,#f5c3ad,#f5c5b0,#f5c7b3,#f5cab6,#f5ccb9,#f6cebd,#f6d0c0,#f6d2c3,#f6d5c6,#f6d7c9,#f6d9cc,#f6dcd0,#f6ded3,#f6e2d9,#f6e6df)"></i><i style="background:linear-gradient(#e15955,#e25d57,#e26059,#e3635b,#e4655c,#e4685e,#e56a5f,#e66c60,#e66f62,#e77163,#e77365,#e87566,#e87767,#e97968,#e97b69,#ea7f6b,#eb846e,#ed8a72,#ef9377,#f29c7d,#f4a583,#f4aa89,#f4ad8e,#f4b092,#f4b395,#f5b498,#f5b69a,#f5b79c,#f5b99e,#f5baa0,#f5bba2,#f5bda4,#f5bea6,#f5c0a8,#f5c2ab,#f5c4ae,#f5c6b1,#f5c8b4,#f5cab7,#f5ccba,#f6cebd,#f6d0c0,#f6d2c3,#f6d4c6,#f6d7c9,#f6d9cc,#f6dcd0,#f6e0d6,#f6e4dc)"></i></div></div>
<div class="p" style="left:29px;top:156px;width:137px;height:138px"><div style="height:144px;width:144px"><i style="background:linear-gradient(#e6eef3,#e5eef3,#e5eef2,#e4eef2,#e4edf2,#e3edf2,#e3edf2,#e3edf2,#e2edf2,#e2edf2,#e2ecf2,#e1ecf2,#e1ecf2,#e1ecf1,#e1ecf1,#e0ecf1,#e0ecf1,#e0ecf1,#e0ecf1,#e0ebf1,#e0ebf1,#dfebf1,#dfebf1,#dfebf1,#dfebf1,#dfebf1,#dfebf1,#deebf1,#deebf1,#deebf1,#deebf1,#deebf1,#deeaf1,#ddeaf1,#ddeaf1,#ddeaf1,#ddeaf1,#ddeaf1,#ddeaf1,#ddeaf1,#ddeaf1,#ddeaf1,#ddeaf0,#ddeaf0,#ddeaf0,#ddeaf0,#dceaf0,#dceaf0,#dceaf0)"></i><i style="background:linear-gradient(#e7eff3,#e6eff3,#e6eff3,#e5eef3,#e5eef3,#e4eef2,#e4eef2,#e4edf2,#e3edf2,#e3edf2,#e3edf2,#e2edf2,#e2edf2,#e2ecf2,#e1ecf2,#e1ecf2,#e1ecf2,#e1ecf1,#e1ecf1,#e0ecf1,#e0ecf1,#e0ecf1,#e0ecf1,#e0ecf1,#e0ebf1,#dfebf1,#dfebf1,#dfebf1,#dfebf1,#dfebf1,#deebf1,#deebf1,#deebf1,#deebf1,#deebf1,#deeaf1,#deeaf1,#ddeaf1,#ddeaf1,#ddeaf1,#ddeaf1,#ddeaf1,#ddeaf1,#ddeaf1,#ddeaf1,#ddeaf1,#ddeaf1,#ddeaf0,#dceaf0)"></i><i style="background:linear-gradient(#e8f0f3,#e8eff3,#e7eff3,#e7eff3,#e6eff3,#e6eef3,#e5eef3,#e5eef2,#e4eef2,#e4eef2,#e3edf2,#e3edf2,#e3edf2,#e2edf2,#e2edf2,#e2edf2,#e2ecf2,#e2ecf2,#e1ecf2,#e1ecf2,#e1ecf2,#e1ecf1,#e1ecf1,#e0ecf1,#e0ecf1,#e0ecf1,#e0ecf1,#e0ebf1,#dfebf1,#dfebf1,#dfebf1,#dfebf1,#dfebf1,#deebf1,#deebf1,#deebf1,#deebf1,#deebf1,#deeaf1,#deeaf1,#ddeaf1,#ddeaf1,#ddeaf1,#ddeaf1,#ddeaf1,#ddeaf1,#ddeaf1,#ddeaf1,#ddeaf0)"></i><i style="background:linear-gradient(#eaf0f4,#e9f0f4,#e8f0f3,#e8eff3,#e7eff3,#e7eff3,#e6eff3,#e6eef3,#e5eef3,#e5eef3,#e4eef2,#e4eef2,#e4edf2,#e3edf2,#e3edf2,#e3edf2,#e3edf2,#e2edf2,#e2edf2,#e2edf2,#e2ecf2,#e1ecf2,#e1ecf2,#e1ecf2,#e1ecf2,#e1ecf1,#e0ecf1,#e0ecf1,#e0ecf1,#e0ebf1,#dfebf1,#dfebf1,#dfebf1,#dfebf1,#dfebf1,#deebf1,#deebf1,#deebf1,#deebf1,#deebf1,#deeaf1,#deeaf1,#deeaf1,#ddeaf1,#ddeaf1,#ddeaf1,#ddeaf1,#ddeaf1,#ddeaf1)"></i><i style="background:linear-gradient(#ebf1f4,#eaf1f4,#eaf0f4,#e9f0f4,#e8f0f3,#e8f0f3,#e7eff3,#e7eff3,#e6eff3,#e6eff3,#e5eef3,#e5eef3,#e5eef2,#e4eef2,#e4eef2,#e4edf2,#e3edf2,#e3edf2,#e3edf2,#e3edf2,#e2edf2,#e2edf2,#e2edf2,#e2ecf2,#e1ecf2,#e1ecf2,#e1ecf2,#e1ecf1,#e0ecf1,#e0ecf1,#e0ecf1,#e0ebf1,#dfebf1,#dfebf1,#dfebf1,#dfebf1,#dfebf1,#deebf1,#deebf1,#deebf1,#deebf1,#deebf1,#deeaf1,#deeaf1,#deeaf1,#ddeaf1,#ddeaf1,#ddeaf1,#ddeaf1)"></i><i style="background:linear-gradient(#ecf2f4,#ecf1f4,#ebf1f4,#eaf1f4,#eaf0f4,#e9f0f4,#e9f0f3,#e8f0f3,#e7eff3,#e7eff3,#e6eff3,#e6eff3,#e6eef3,#e5eef3,#e5eef2,#e4eef2,#e4eef2,#e4edf2,#e4edf2,#e3edf2,#e3edf2,#e3edf2,#e2edf2,#e2edf2,#e2edf2,#e2ecf2,#e1ecf2,#e1ecf2,#e1ecf2,#e1ecf1,#e0ecf1,#e0ecf1,#e0ecf1,#e0ebf1,#dfebf1,#dfebf1,#dfebf1,#dfebf1,#dfebf1,#deebf1,#deebf1,#deebf1,#deebf1,#deebf1,#deeaf1,#deeaf1,#ddeaf1,#ddeaf1,#ddeaf1)"></i><i style="background:linear-gradient(#eef3f5,#edf2f5,#ecf2f4,#ecf1f4,#ebf1f4,#eaf1f4,#eaf0f4,#e9f0f4,#e9f0f3,#e8f0f3,#e7eff3,#e7eff3,#e6eff3,#e6eff3,#e6eef3,#e5eef3,#e5eef3,#e5eef2,#e4eef2,#e4eef2,#e4edf2,#e3edf2,#e3edf2,#e3edf2,#e3edf2,#e2edf2,#e2edf2,#e2ecf2,#e1ecf2,#e1ecf2,#e1ecf2,#e1ecf1,#e0ecf1,#e0ecf1,#e0ebf1,#dfebf1,#dfebf1,#dfebf1,#dfebf1,#dfebf1,#deebf1,#deebf1,#deebf1,#deebf1,#deebf1,#deeaf1,#deeaf1,#ddeaf1,#ddeaf1)"></i><i style="background:linear-gradient(#eff3f5,#eff3f5,#eef2f5,#edf2f5,#ecf2f4,#ecf1f4,#ebf1f4,#eaf1f4,#eaf0f4,#e9f0f4,#e8f0f3,#e8f0f3,#e7eff3,#e7eff3,#e7eff3,#e6eff3,#e6eef3,#e5eef3,#e5eef3,#e5eef2,#e4eef2,#e4eef2,#e4edf2,#e3edf2,#e3edf2,#e3edf2,#e3edf2,#e2edf2,#e2edf2,#e2ecf2,#e1ecf2,#e1ecf2,#e1ecf1,#e0ecf1,#e0ecf1,#e0ecf1,#e0ebf1,#dfebf1,#dfebf1,#dfebf1,#dfebf1,#deebf1,#deebf1,#deebf1,#deebf1,#deebf1,#deeaf1,#ddeaf1,#ddeaf1)"></i><i style="background:linear-gradient(#f1f4f5,#f0f4f5,#eff3f5,#eef3f5,#eef2f5,#edf2f5,#ecf2f4,#ebf1f4,#ebf1f4,#eaf1f4,#eaf0f4,#e9f0f4,#e8f0f3,#e8f0f3,#e7eff3,#e7eff3,#e7eff3,#e6eff3,#e6eff3,#e5eef3,#e5eef3,#e5eef2,#e4eef2,#e4eef2,#e4edf2,#e3edf2,#e3edf2,#e3edf2,#e2edf2,#e2edf2,#e2ecf2,#e1ecf2,#e1ecf2,#e1ecf2,#e1ecf1,#e0ecf1,#e0ecf1,#e0ebf1,#dfebf1,#dfebf1,#dfebf1,#dfebf1,#deebf1,#deebf1,#deebf1,#deebf1,#deeaf1,#deeaf1,#ddeaf1)"></i><i style="background:linear-gradient(#f2f5f6,#f2f4f6,#f1f4f5,#f0f3f5,#eff3f5,#eef3f5,#edf2f5,#edf2f4,#ecf2f4,#ebf1f4,#ebf1f4,#eaf1f4,#e9f0f4,#e9f0f4,#e8f0f3,#e8f0f3,#e7eff3,#e7eff3,#e7eff3,#e6eff3,#e6eff3,#e6eef3,#e5eef3,#e5eef2,#e4eef2,#e4eef2,#e4edf2,#e3edf2,#e3edf2,#e3edf2,#e2edf2,#e2edf2,#e2ecf2,#e1ecf2,#e1ecf2,#e1ecf1,#e0ecf1,#e0ecf1,#e0ebf1,#dfebf1,#dfebf1,#dfebf1,#dfebf1,#deebf1,#deebf1,#deebf1,#deebf1,#deeaf1,#deeaf1)"></i><i style="background:linear-gradient(#f4f5f6,#f3f5f6,#f2f5f6,#f1f4f6,#f0f4f5,#eff3f5,#eff3f5,#eef2f5,#edf2f5,#ecf2f4,#ecf1f4,#ebf1f4,#eaf1f4,#eaf1f4,#e9f0f4,#e9f0f4,#e8f0f3,#e8f0f3,#e8eff3,#e7eff3,#e7eff3,#e6eff3,#e6eff3,#e6eef3,#e5eef3,#e5eef2,#e4eef2,#e4eef2,#e4edf2,#e3edf2,#e3edf2,#e2edf2,#e2edf2,#e2ecf2,#e1ecf2,#e1ecf2,#e1ecf1,#e0ecf1,#e0ecf1,#e0ebf1,#dfebf1,#dfebf1,#dfebf1,#dfebf1,#deebf1,#deebf1,#deebf1,#deebf1,#deebf1)"></i><i style="background:linear-gradient(#f5f6f7,#f5f6f6,#f4f5f6,#f3f5f6,#f2f4f6,#f1f4f5,#f0f3f5,#eff3f5,#eef3f5,#eef2f5,#edf2f4,#ecf2f4,#ecf1f4,#ebf1f4,#eaf1f4,#eaf0f4,#e9f0f4,#e9f0f4,#e8f0f3,#e8f0f3,#e8eff3,#e7eff3,#e7eff3,#e6eff3,#e6eff3,#e5eef3,#e5eef3,#e5eef2,#e4eef2,#e4eef2,#e3edf2,#e3edf2,#e3edf2,#e2edf2,#e2edf2,#e1ecf2,#e1ecf2,#e1ecf1,#e0ecf1,#e0ecf1,#e0ebf1,#dfebf1,#dfebf1,#dfebf1,#dfebf1,#deebf1,#deebf1,#deebf1,#deebf1)"></i><i style="background:linear-gradient(#f7f7f7,#f6f7f7,#f5f6f7,#f4f6f6,#f3f5f6,#f2f5f6,#f1f4f6,#f0f4f5,#eff3f5,#eff3f5,#eef3f5,#edf2f5,#edf2f4,#ecf2f4,#ebf1f4,#ebf1f4,#eaf1f4,#eaf0f4,#e9f0f4,#e9f0f3,#e8f0f3,#e8f0f3,#e7eff3,#e7eff3,#e7eff3,#e6eff3,#e6eef3,#e5eef3,#e5eef3,#e4eef2,#e4eef2,#e4edf2,#e3edf2,#e3edf2,#e2edf2,#e2edf2,#e2ecf2,#e1ecf2,#e1ecf1,#e0ecf1,#e0ecf1,#e0ebf1,#dfebf1,#dfebf1,#dfebf1,#dfebf1,#dfebf1,#deebf1,#deebf1)"></i><i style="background:linear-gradient(#f7f6f5,#f7f7f7,#f6f7f7,#f5f6f7,#f4f6f6,#f3f5f6,#f2f5f6,#f2f4f6,#f1f4f5,#f0f3f5,#eff3f5,#eef3f5,#eef2f5,#edf2f5,#edf2f4,#ecf2f4,#ebf1f4,#ebf1f4,#eaf1f4,#eaf0f4,#e9f0f4,#e9f0f3,#e8f0f3,#e8f0f3,#e7eff3,#e7eff3,#e6eff3,#e6eff3,#e6eef3,#e5eef3,#e5eef2,#e4eef2,#e4edf2,#e3edf2,#e3edf2,#e2edf2,#e2edf2,#e2ecf2,#e1ecf2,#e1ecf2,#e0ecf1,#e0ecf1,#e0ecf1,#e0ebf1,#dfebf1,#dfebf1,#dfebf1,#dfebf1,#deebf1)"></i><i style="background:linear-gradient(#f7f5f4,#f7f6f5,#f7f6f6,#f7f7f7,#f6f6f7,#f5f6f6,#f4f5f6,#f3f5f6,#f2f5f6,#f1f4f6,#f0f4f5,#f0f3f5,#eff3f5,#eef3f5,#eef2f5,#edf2f5,#ecf2f4,#ecf1f4,#ebf1f4,#ebf1f4,#eaf1f4,#eaf0f4,#e9f0f4,#e9f0f3,#e8f0f3,#e8eff3,#e7eff3,#e7eff3,#e6eff3,#e6eff3,#e5eef3,#e5eef3,#e4eef2,#e4eef2,#e3edf2,#e3edf2,#e3edf2,#e2edf2,#e2ecf2,#e1ecf2,#e1ecf2,#e1ecf1,#e0ecf1,#e0ecf1,#e0ebf1,#dfebf1,#dfebf1,#dfebf1,#dfebf1)"></i><i style="background:linear-gradient(#f7f4f2,#f7f4f3,#f7f5f4,#f7f6f6,#f7f7f7,#f6f7f7,#f5f6f7,#f4f6f6,#f3f5f6,#f2f5f6,#f2f4f6,#f1f4f5,#f0f4f5,#eff3f5,#eff3f5,#eef3f5,#eef2f5,#edf2f5,#ecf2f4,#ecf1f4,#ebf1f4,#ebf1f4,#eaf1f4,#eaf0f4,#e9f0f4,#e9f0f3,#e8f0f3,#e8eff3,#e7eff3,#e7eff3,#e6eff3,#e6eef3,#e5eef3,#e5eef2,#e4eef2,#e4edf2,#e3edf2,#e3edf2,#e2edf2,#e2edf2,#e1ecf2,#e1ecf2,#e1ecf1,#e0ecf1,#e0ecf1,#e0ecf1,#e0ebf1,#dfebf1,#dfebf1)"></i><i style="background:linear-gradient(#f7f2f0,#f7f3f2,#f7f4f3,#f7f5f4,#f7f6f5,#f7f7f6,#f7f7f7,#f6f6f7,#f5f6f6,#f4f5f6,#f3f5f6,#f2f5f6,#f1f4f6,#f1f4f5,#f0f4f5,#eff3f5,#eff3f5,#eef3f5,#eef2f5,#edf2f5,#ecf2f4,#ecf1f4,#ebf1f4,#ebf1f4,#eaf1f4,#eaf0f4,#e9f0f4,#e8f0f3,#e8f0f3,#e7eff3,#e7eff3,#e6eff3,#e6eff3,#e5eef3,#e5eef2,#e4eef2,#e4eef2,#e3edf2,#e3edf2,#e2edf2,#e2edf2,#e2ecf2,#e1ecf2,#e1ecf2,#e1ecf1,#e0ecf1,#e0ecf1,#e0ecf1,#e0ebf1)"></i><i style="background:linear-gradient(#f7f1ef,#f7f2f0,#f7f3f1,#f7f4f2,#f7f4f3,#f7f5f5,#f7f6f6,#f7f7f7,#f6f7f7,#f5f6f7,#f4f6f6,#f4f5f6,#f3f5f6,#f2f5f6,#f1f4f6,#f1f4f5,#f0f4f5,#eff3f5,#eff3f5,#eef3f5,#edf2f5,#edf2f4,#ecf2f4,#ecf1f4,#ebf1f4,#ebf1f4,#eaf1f4,#e9f0f4,#e9f0f4,#e8f0f3,#e8eff3,#e7eff3,#e7eff3,#e6eff3,#e6eef3,#e5eef3,#e5eef2,#e4eef2,#e4edf2,#e3edf2,#e3edf2,#e2edf2,#e2edf2,#e1ecf2,#e1ecf2,#e1ecf2,#e1ecf1,#e0ecf1,#e0ecf1)"></i><i style="background:linear-gradient(#f7f0ed,#f7f1ee,#f7f1ef,#f7f2f0,#f7f3f1,#f7f4f3,#f7f5f4,#f7f6f5,#f7f6f6,#f7f7f7,#f6f7f7,#f5f6f7,#f4f6f6,#f4f5f6,#f3f5f6,#f2f5f6,#f1f4f6,#f1f4f5,#f0f4f5,#eff3f5,#eff3f5,#eef3f5,#edf2f5,#edf2f4,#ecf2f4,#ecf1f4,#ebf1f4,#eaf1f4,#eaf0f4,#e9f0f4,#e9f0f3,#e8f0f3,#e7eff3,#e7eff3,#e6eff3,#e6eef3,#e5eef3,#e5eef2,#e4eef2,#e4edf2,#e3edf2,#e3edf2,#e2edf2,#e2edf2,#e2ecf2,#e1ecf2,#e1ecf2,#e1ecf1,#e1ecf1)"></i><i style="background:linear-gradient(#f7eeeb,#f7efec,#f7f0ed,#f7f1ee,#f7f2ef,#f7f3f1,#f7f3f2,#f7f4f3,#f7f5f4,#f7f6f5,#f7f7f6,#f7f7f7,#f6f6f7,#f5f6f7,#f4f6f6,#f3f5f6,#f3f5f6,#f2f5f6,#f1f4f6,#f1f4f5,#f0f4f5,#eff3f5,#eff3f5,#eef3f5,#edf2f5,#edf2f4,#ecf2f4,#ebf1f4,#ebf1f4,#eaf1f4,#eaf0f4,#e9f0f4,#e8f0f3,#e8eff3,#e7eff3,#e7eff3,#e6eff3,#e5eef3,#e5eef3,#e4eef2,#e4eef2,#e3edf2,#e3edf2,#e3edf2,#e2edf2,#e2edf2,#e2ecf2,#e1ecf2,#e1ecf2)"></i><i style="background:linear-gradient(#f7ede9,#f7eeea,#f7efeb,#f7efec,#f7f0ed,#f7f1ef,#f7f2f0,#f7f3f1,#f7f4f2,#f7f4f3,#f7f5f4,#f7f6f5,#f7f7f6,#f7f7f7,#f6f6f7,#f5f6f7,#f4f6f6,#f3f5f6,#f3f5f6,#f2f5f6,#f1f4f6,#f1f4f5,#f0f4f5,#eff3f5,#eff3f5,#eef3f5,#edf2f5,#edf2f4,#ecf2f4,#ebf1f4,#ebf1f4,#eaf1f4,#e9f0f4,#e9f0f3,#e8f0f3,#e7eff3,#e7eff3,#e6eff3,#e6eef3,#e5eef3,#e5eef2,#e4eef2,#e4edf2,#e3edf2,#e3edf2,#e3edf2,#e2edf2,#e2edf2,#e2ecf2)"></i><i style="background:linear-gradient(#f7ece7,#f7ece8,#f7ede9,#f7eeea,#f7efeb,#f7f0ec,#f7f0ee,#f7f1ef,#f7f2f0,#f7f3f1,#f7f4f2,#f7f4f3,#f7f5f4,#f7f6f5,#f7f7f6,#f7f7f7,#f6f6f7,#f5f6f7,#f4f6f6,#f4f5f6,#f3f5f6,#f2f5f6,#f1f4f6,#f1f4f5,#f0f3f5,#eff3f5,#eef3f5,#eef2f5,#edf2f5,#ecf2f4,#ecf1f4,#ebf1f4,#eaf1f4,#eaf0f4,#e9f0f4,#e8f0f3,#e8eff3,#e7eff3,#e7eff3,#e6eff3,#e5eef3,#e5eef3,#e4eef2,#e4eef2,#e4edf2,#e3edf2,#e3edf2,#e2edf2,#e2edf2)"></i><i style="background:linear-gradient(#f7eae5,#f7ebe6,#f7ece7,#f7ece8,#f7ede9,#f7eeea,#f7efeb,#f7f0ed,#f7f1ee,#f7f1ef,#f7f2f0,#f7f3f1,#f7f4f2,#f7f4f3,#f7f5f4,#f7f6f5,#f7f7f6,#f7f7f7,#f6f6f7,#f5f6f7,#f4f6f6,#f4f5f6,#f3f5f6,#f2f5f6,#f1f4f6,#f1f4f5,#f0f3f5,#eff3f5,#eef3f5,#eef2f5,#edf2f4,#ecf2f4,#ebf1f4,#ebf1f4,#eaf1f4,#e9f0f4,#e9f0f3,#e8f0f3,#e7eff3,#e7eff3,#e6eff3,#e6eef3,#e5eef3,#e5eef2,#e4eef2,#e4eef2,#e4edf2,#e3edf2,#e3edf2)"></i><i style="background:linear-gradient(#f6e9e3,#f7e9e4,#f7eae5,#f7ebe6,#f7ece7,#f7ede8,#f7ede9,#f7eeea,#f7efec,#f7f0ed,#f7f1ee,#f7f1ef,#f7f2f0,#f7f3f1,#f7f4f2,#f7f4f3,#f7f5f4,#f7f6f5,#f7f7f6,#f7f7f7,#f6f6f7,#f5f6f7,#f4f6f6,#f3f5f6,#f3f5f6,#f2f4f6,#f1f4f6,#f0f4f5,#f0f3f5,#eff3f5,#eef3f5,#edf2f5,#edf2f4,#ecf1f4,#ebf1f4,#eaf1f4,#eaf0f4,#e9f0f4,#e8f0f3,#e8eff3,#e7eff3,#e7eff3,#e6eff3,#e6eef3,#e5eef3,#e5eef2,#e4eef2,#e4eef2,#e4edf2)"></i><i style="background:linear-gradient(#f6e7e1,#f6e8e2,#f6e9e3,#f7e9e4,#f7eae5,#f7ebe6,#f7ece7,#f7ede8,#f7ede9,#f7eeea,#f7efec,#f7f0ed,#f7f1ee,#f7f1ef,#f7f2f0,#f7f3f1,#f7f4f2,#f7f4f3,#f7f5f4,#f7f6f5,#f7f7f6,#f7f7f7,#f6f6f7,#f5f6f7,#f4f6f6,#f3f5f6,#f3f5f6,#f2f4f6,#f1f4f6,#f0f4f5,#eff3f5,#eff3f5,#eef2f5,#edf2f5,#ecf2f4,#ebf1f4,#ebf1f4,#eaf1f4,#e9f0f4,#e9f0f3,#e8f0f3,#e8eff3,#e7eff3,#e6eff3,#e6eff3,#e5eef3,#e5eef3,#e5eef2,#e4eef2)"></i><i style="background:linear-gradient(#f6e6df,#f6e7df,#f6e7e0,#f6e8e1,#f6e9e2,#f7e9e4,#f7eae5,#f7ebe6,#f7ece7,#f7ede8,#f7ede9,#f7eeeb,#f7efec,#f7f0ed,#f7f1ee,#f7f1ef,#f7f2f0,#f7f3f1,#f7f4f2,#f7f4f3,#f7f5f4,#f7f6f5,#f7f7f6,#f7f7f7,#f6f6f7,#f5f6f6,#f4f6f6,#f3f5f6,#f2f5f6,#f2f4f6,#f1f4f5,#f0f3f5,#eff3f5,#eef3f5,#edf2f5,#edf2f4,#ecf1f4,#ebf1f4,#eaf1f4,#eaf0f4,#e9f0f4,#e8f0f3,#e8f0f3,#e7eff3,#e7eff3,#e6eff3,#e6eef3,#e5eef3,#e5eef3)"></i><i style="background:linear-gradient(#f6e4dd,#f6e5dd,#f6e6de,#f6e6df,#f6e7e0,#f6e8e1,#f6e9e2,#f7e9e4,#f7eae5,#f7ebe6,#f7ece7,#f7ede8,#f7ede9,#f7eeeb,#f7efec,#f7f0ed,#f7f1ee,#f7f1ef,#f7f2f0,#f7f3f1,#f7f4f2,#f7f4f3,#f7f5f4,#f7f6f5,#f7f7f6,#f7f7f7,#f6f6f7,#f5f6f6,#f4f5f6,#f3f5f6,#f2f5f6,#f1f4f6,#f0f4f5,#f0f3f5,#eff3f5,#eef2f5,#edf2f5,#ecf2f4,#ecf1f4,#ebf1f4,#eaf1f4,#e9f0f4,#e9f0f3,#e8f0f3,#e8eff3,#e7eff3,#e7eff3,#e6eff3,#e6eff3)"></i><i style="background:linear-gradient(#f6e3da,#f6e4db,#f6e4dc,#f6e5dd,#f6e5de,#f6e6df,#f6e7e0,#f6e8e1,#f6e9e2,#f7e9e4,#f7eae5,#f7ebe6,#f7ece7,#f7ede8,#f7ede9,#f7eeea,#f7efec,#f7f0ed,#f7f1ee,#f7f1ef,#f7f2f0,#f7f3f1,#f7f4f2,#f7f4f3,#f7f5f4,#f7f6f5,#f7f7f7,#f6f7f7,#f5f6f7,#f5f6f6,#f4f5f6,#f3f5f6,#f2f4f6,#f1f4f5,#f0f4f5,#eff3f5,#eef3f5,#edf2f5,#edf2f4,#ecf2f4,#ebf1f4,#ebf1f4,#eaf1f4,#e9f0f4,#e9f0f3,#e8f0f3,#e8eff3,#e7eff3,#e7eff3)"></i><i style="background:linear-gradient(#f6e2d8,#f6e2d9,#f6e3da,#f6e3db,#f6e4dc,#f6e5dd,#f6e5de,#f6e6df,#f6e7e0,#f6e8e1,#f6e9e2,#f7e9e4,#f7eae5,#f7ebe6,#f7ece7,#f7ede8,#f7ede9,#f7eeea,#f7efec,#f7f0ed,#f7f1ee,#f7f1ef,#f7f2f0,#f7f3f1,#f7f4f2,#f7f4f3,#f7f5f5,#f7f6f6,#f7f7f7,#f6f7f7,#f5f6f7,#f4f6f6,#f3f5f6,#f2f5f6,#f1f4f6,#f0f4f5,#eff3f5,#eff3f5,#eef2f5,#edf2f5,#ecf2f4,#ecf1f4,#ebf1f4,#eaf1f4,#eaf0f4,#e9f0f4,#e9f0f3,#e8f0f3,#e8eff3)"></i><i style="background:linear-gradient(#f6e0d6,#f6e1d7,#f6e1d8,#f6e2d9,#f6e2da,#f6e3db,#f6e4dc,#f6e5dd,#f6e5de,#f6e6df,#f6e7e0,#f6e8e1,#f6e9e2,#f7e9e4,#f7eae5,#f7ebe6,#f7ece7,#f7ede8,#f7ede9,#f7eeea,#f7efeb,#f7f0ed,#f7f1ee,#f7f1ef,#f7f2f0,#f7f3f1,#f7f4f2,#f7f5f4,#f7f6f5,#f7f6f6,#f7f7f7,#f6f6f7,#f5f6f6,#f4f5f6,#f3f5f6,#f2f4f6,#f1f4f5,#f0f4f5,#eff3f5,#eef3f5,#eef2f5,#edf2f4,#ecf2f4,#ebf1f4,#ebf1f4,#eaf1f4,#eaf0f4,#e9f0f4,#e9f0f3)"></i><i style="background:linear-gradient(#f6dfd5,#f6dfd5,#f6e0d6,#f6e0d7,#f6e1d8,#f6e2d9,#f6e2da,#f6e3db,#f6e4dc,#f6e5dd,#f6e5de,#f6e6df,#f6e7e0,#f6e8e1,#f6e9e2,#f7e9e4,#f7eae5,#f7ebe6,#f7ece7,#f7ece8,#f7ede9,#f7eeea,#f7efeb,#f7f0ed,#f7f1ee,#f7f1ef,#f7f2f0,#f7f3f2,#f7f4f3,#f7f5f4,#f7f6f5,#f7f7f7,#f6f7f7,#f5f6f7,#f4f6f6,#f3f5f6,#f2f5f6,#f1f4f6,#f0f4f5,#f0f3f5,#eff3f5,#eef3f5,#edf2f5,#edf2f4,#ecf2f4,#ebf1f4,#ebf1f4,#eaf1f4,#eaf0f4)"></i><i style="background:linear-gradient(#f6ded3,#f6ded3,#f6dfd4,#f6dfd5,#f6e0d6,#f6e0d7,#f6e1d7,#f6e2d8,#f6e2d9,#f6e3db,#f6e4dc,#f6e5dd,#f6e5de,#f6e6df,#f6e7e0,#f6e8e1,#f6e8e2,#f6e9e3,#f7eae4,#f7ebe6,#f7ece7,#f7ece8,#f7ede9,#f7eeea,#f7efec,#f7f0ed,#f7f1ee,#f7f2ef,#f7f3f1,#f7f4f2,#f7f5f3,#f7f5f5,#f7f6f6,#f7f7f7,#f6f6f7,#f5f6f6,#f4f5f6,#f3f5f6,#f2f4f6,#f1f4f6,#f0f4f5,#eff3f5,#eff3f5,#eef3f5,#edf2f5,#ecf2f4,#ecf1f4,#ebf1f4,#ebf1f4)"></i><i style="background:linear-gradient(#f6ddd1,#f6ddd2,#f6ddd2,#f6ded3,#f6ded4,#f6dfd5,#f6dfd5,#f6e0d6,#f6e1d7,#f6e2d8,#f6e2d9,#f6e3db,#f6e4dc,#f6e5dd,#f6e5de,#f6e6df,#f6e7e0,#f6e8e1,#f6e8e2,#f6e9e3,#f7eae4,#f7ebe5,#f7ece7,#f7ece8,#f7ede9,#f7eeeb,#f7efec,#f7f0ed,#f7f1ef,#f7f2f0,#f7f3f1,#f7f4f3,#f7f5f4,#f7f6f6,#f7f7f7,#f6f7f7,#f5f6f7,#f4f6f6,#f3f5f6,#f2f5f6,#f2f4f6,#f1f4f5,#f0f4f5,#eff3f5,#eef3f5,#eef2f5,#edf2f5,#ecf2f4,#ecf1f4)"></i><i style="background:linear-gradient(#f6dbd0,#f6dcd0,#f6dcd1,#f6ddd1,#f6ddd2,#f6ded3,#f6ded4,#f6dfd4,#f6dfd5,#f6e0d6,#f6e1d7,#f6e2d8,#f6e2d9,#f6e3da,#f6e4db,#f6e4dd,#f6e5de,#f6e6df,#f6e7e0,#f6e7e1,#f6e8e2,#f6e9e3,#f7eae4,#f7ebe6,#f7ece7,#f7ede8,#f7eeea,#f7efeb,#f7f0ed,#f7f1ee,#f7f2ef,#f7f3f1,#f7f4f2,#f7f5f4,#f7f6f5,#f7f7f6,#f7f7f7,#f6f6f7,#f5f6f6,#f4f5f6,#f3f5f6,#f2f5f6,#f2f4f6,#f1f4f5,#f0f3f5,#eff3f5,#eef3f5,#eef2f5,#edf2f5)"></i><i style="background:linear-gradient(#f6dace,#f6dbcf,#f6dbcf,#f6dcd0,#f6dcd0,#f6dcd1,#f6ddd2,#f6ddd3,#f6ded3,#f6dfd4,#f6dfd5,#f6e0d6,#f6e1d7,#f6e1d8,#f6e2d9,#f6e3da,#f6e4db,#f6e4dc,#f6e5dd,#f6e6de,#f6e6df,#f6e7e1,#f6e8e2,#f6e9e3,#f7eae5,#f7ebe6,#f7ece7,#f7ede9,#f7eeea,#f7efec,#f7f0ed,#f7f1ef,#f7f2f0,#f7f3f2,#f7f4f3,#f7f5f4,#f7f6f6,#f7f7f7,#f6f7f7,#f6f6f7,#f5f6f6,#f4f5f6,#f3f5f6,#f2f5f6,#f1f4f6,#f0f4f5,#f0f3f5,#eff3f5,#eef3f5)"></i><i style="background:linear-gradient(#f6d9cd,#f6dacd,#f6dace,#f6dace,#f6dbcf,#f6dbcf,#f6dcd0,#f6dcd1,#f6ddd1,#f6ddd2,#f6ded3,#f6dfd4,#f6dfd5,#f6e0d6,#f6e1d7,#f6e1d8,#f6e2d9,#f6e3da,#f6e3db,#f6e4dc,#f6e5dd,#f6e6de,#f6e7df,#f6e7e1,#f6e8e2,#f7e9e4,#f7ebe5,#f7ece7,#f7ede8,#f7eeea,#f7efeb,#f7f0ed,#f7f1ee,#f7f2f0,#f7f3f1,#f7f4f2,#f7f5f4,#f7f5f5,#f7f6f6,#f7f7f7,#f6f7f7,#f6f6f7,#f5f6f6,#f4f5f6,#f3f5f6,#f2f4f6,#f1f4f6,#f0f4f5,#eff3f5)"></i><i style="background:linear-gradient(#f6d9cc,#f6d9cc,#f6d9cc,#f6d9cd,#f6dacd,#f6dace,#f6dace,#f6dbcf,#f6dbd0,#f6dcd0,#f6dcd1,#f6ddd2,#f6ded3,#f6ded4,#f6dfd5,#f6e0d6,#f6e0d7,#f6e1d8,#f6e2d9,#f6e2da,#f6e3db,#f6e4dc,#f6e5dd,#f6e6de,#f6e7e0,#f6e8e1,#f6e9e3,#f7eae5,#f7ebe6,#f7ece8,#f7ede9,#f7eeeb,#f7efec,#f7f0ee,#f7f1ef,#f7f2f0,#f7f3f2,#f7f4f3,#f7f5f4,#f7f5f5,#f7f6f6,#f7f7f7,#f6f7f7,#f5f6f7,#f4f6f6,#f3f5f6,#f2f5f6,#f2f4f6,#f1f4f5)"></i><i style="background:linear-gradient(#f6d8ca,#f6d8cb,#f6d8cb,#f6d8cb,#f6d9cc,#f6d9cc,#f6d9cd,#f6dacd,#f6dace,#f6dbce,#f6dbcf,#f6dcd0,#f6dcd1,#f6ddd2,#f6ddd3,#f6ded3,#f6dfd4,#f6dfd5,#f6e0d6,#f6e1d7,#f6e1d8,#f6e2d9,#f6e3db,#f6e4dc,#f6e5de,#f6e6df,#f6e7e1,#f6e9e2,#f7eae4,#f7ebe6,#f7ece7,#f7ede9,#f7eeea,#f7efec,#f7f0ed,#f7f1ee,#f7f2f0,#f7f3f1,#f7f3f2,#f7f4f3,#f7f5f4,#f7f5f5,#f7f6f6,#f7f7f7,#f6f6f7,#f5f6f6,#f4f5f6,#f3f5f6,#f2f5f6)"></i><i style="background:linear-gradient(#f6d7c9,#f6d7c9,#f6d7ca,#f6d7ca,#f6d8ca,#f6d8cb,#f6d8cb,#f6d9cc,#f6d9cc,#f6d9cd,#f6dacd,#f6dace,#f6dbcf,#f6dbcf,#f6dcd0,#f6dcd1,#f6ddd2,#f6ded3,#f6ded4,#f6dfd5,#f6e0d6,#f6e1d7,#f6e2d9,#f6e3da,#f6e4db,#f6e5dd,#f6e6df,#f6e7e0,#f6e8e2,#f7e9e4,#f7ebe5,#f7ece7,#f7ede8,#f7eeea,#f7efeb,#f7f0ec,#f7f0ed,#f7f1ef,#f7f2f0,#f7f3f1,#f7f3f2,#f7f4f3,#f7f5f4,#f7f6f5,#f7f6f6,#f7f7f7,#f5f6f7,#f4f6f6,#f4f5f6)"></i><i style="background:linear-gradient(#f6d6c8,#f6d6c8,#f6d6c8,#f6d7c9,#f6d7c9,#f6d7c9,#f6d7ca,#f6d7ca,#f6d8ca,#f6d8cb,#f6d8cb,#f6d9cc,#f6d9cd,#f6dacd,#f6dace,#f6dbcf,#f6dcd0,#f6dcd1,#f6ddd2,#f6ded3,#f6ded4,#f6dfd5,#f6e0d6,#f6e1d8,#f6e2d9,#f6e3db,#f6e4dd,#f6e6de,#f6e7e0,#f6e8e2,#f6e9e3,#f7eae5,#f7ebe6,#f7ece8,#f7ede9,#f7eeea,#f7efeb,#f7f0ed,#f7f0ee,#f7f1ef,#f7f2f0,#f7f3f1,#f7f3f2,#f7f4f3,#f7f5f4,#f7f6f5,#f7f7f7,#f6f7f7,#f6f6f7)"></i><i style="background:linear-gradient(#f6d5c7,#f6d5c7,#f6d6c7,#f6d6c7,#f6d6c8,#f6d6c8,#f6d6c8,#f6d6c8,#f6d7c9,#f6d7c9,#f6d7c9,#f6d7ca,#f6d8cb,#f6d8cb,#f6d9cc,#f6d9cd,#f6dace,#f6dbcf,#f6dbd0,#f6dcd1,#f6ddd2,#f6ded3,#f6dfd4,#f6e0d6,#f6e1d7,#f6e2d9,#f6e3db,#f6e4dc,#f6e6de,#f6e7e0,#f6e8e1,#f6e9e3,#f7eae4,#f7ebe6,#f7ece7,#f7ede8,#f7ede9,#f7eeea,#f7efeb,#f7f0ec,#f7f0ed,#f7f1ee,#f7f2f0,#f7f3f1,#f7f3f2,#f7f4f3,#f7f5f4,#f7f6f6,#f7f6f6)"></i><i style="background:linear-gradient(#f6d4c6,#f6d5c6,#f6d5c6,#f6d5c6,#f6d5c6,#f6d5c7,#f6d5c7,#f6d5c7,#f6d5c7,#f6d6c7,#f6d6c8,#f6d6c8,#f6d7c9,#f6d7c9,#f6d7ca,#f6d8cb,#f6d9cc,#f6d9cd,#f6dace,#f6dbcf,#f6dcd0,#f6ddd1,#f6ded3,#f6dfd4,#f6e0d6,#f6e1d7,#f6e2d9,#f6e3db,#f6e4dc,#f6e5de,#f6e7e0,#f6e8e1,#f6e9e3,#f7eae4,#f7eae5,#f7ebe6,#f7ece7,#f7ede8,#f7ede9,#f7eeea,#f7efeb,#f7efec,#f7f0ed,#f7f1ee,#f7f2ef,#f7f2f1,#f7f3f2,#f7f4f3,#f7f4f3)"></i><i style="background:linear-gradient(#f6d4c5,#f6d4c5,#f6d4c5,#f6d4c5,#f6d4c5,#f6d4c5,#f6d4c5,#f6d4c5,#f6d4c6,#f6d5c6,#f6d5c6,#f6d5c6,#f6d5c7,#f6d6c7,#f6d6c8,#f6d7c9,#f6d7ca,#f6d8cb,#f6d9cc,#f6dacd,#f6dace,#f6dbd0,#f6dcd1,#f6ddd2,#f6ded4,#f6e0d6,#f6e1d7,#f6e2d9,#f6e3db,#f6e4dc,#f6e5de,#f6e6df,#f6e7e1,#f6e8e2,#f6e9e3,#f7eae4,#f7ebe5,#f7ebe6,#f7ece7,#f7ede8,#f7ede9,#f7eeea,#f7eeeb,#f7efec,#f7f0ed,#f7f0ee,#f7f1ef,#f7f2ef,#f7f2f0)"></i><i style="background:linear-gradient(#f6d3c4,#f6d3c4,#f6d3c4,#f6d3c4,#f6d3c4,#f6d3c4,#f6d3c4,#f6d3c4,#f6d3c4,#f6d3c4,#f6d4c4,#f6d4c5,#f6d4c5,#f6d4c6,#f6d5c6,#f6d5c7,#f6d6c8,#f6d7c9,#f6d8ca,#f6d9cb,#f6d9cd,#f6dace,#f6dbcf,#f6dcd1,#f6ddd2,#f6ded4,#f6e0d6,#f6e1d7,#f6e2d9,#f6e3db,#f6e4dc,#f6e5de,#f6e6df,#f6e7e0,#f6e8e1,#f6e9e2,#f6e9e3,#f7eae4,#f7eae5,#f7ebe6,#f7ebe7,#f7ece7,#f7ede8,#f7ede9,#f7eeea,#f7eeeb,#f7efeb,#f7efec,#f7f0ed)"></i><i style="background:linear-gradient(#f6d2c2,#f6d2c3,#f6d2c3,#f6d2c3,#f6d2c3,#f6d2c3,#f6d2c3,#f6d2c3,#f6d2c3,#f6d2c3,#f6d3c3,#f6d3c3,#f6d3c4,#f6d3c4,#f6d4c5,#f6d4c6,#f6d5c7,#f6d6c8,#f6d7c9,#f6d7ca,#f6d8cb,#f6d9cd,#f6dace,#f6dbd0,#f6dcd1,#f6ded3,#f6dfd4,#f6e0d6,#f6e1d8,#f6e2d9,#f6e3db,#f6e4dc,#f6e5de,#f6e6df,#f6e7e0,#f6e7e0,#f6e8e1,#f6e8e2,#f6e9e3,#f6e9e3,#f7eae4,#f7eae5,#f7ebe6,#f7ebe6,#f7ece7,#f7ece8,#f7ede8,#f7ede9,#f7eeea)"></i><i style="background:linear-gradient(#f6d1c1,#f6d2c2,#f6d2c2,#f6d2c2,#f6d2c2,#f6d2c2,#f6d2c2,#f6d2c2,#f6d2c2,#f6d2c2,#f6d2c2,#f6d2c2,#f6d2c2,#f6d2c3,#f6d3c3,#f6d3c4,#f6d4c5,#f6d5c6,#f6d6c7,#f6d7c9,#f6d7ca,#f6d8cb,#f6d9cd,#f6dace,#f6dcd0,#f6ddd1,#f6ded3,#f6dfd5,#f6e0d7,#f6e1d8,#f6e2da,#f6e3db,#f6e4dc,#f6e5dd,#f6e5de,#f6e6df,#f6e6df,#f6e7e0,#f6e7e1,#f6e8e1,#f6e8e2,#f6e9e2,#f6e9e3,#f6e9e3,#f7eae4,#f7eae4,#f7eae5,#f7ebe6,#f7ebe6)"></i><i style="background:linear-gradient(#f6d1c0,#f6d1c1,#f6d1c1,#f6d1c1,#f6d1c1,#f6d1c0,#f6d1c0,#f6d1c0,#f6d1c0,#f6d1c0,#f6d1c0,#f6d1c1,#f6d1c1,#f6d2c2,#f6d2c2,#f6d3c3,#f6d3c4,#f6d4c5,#f6d5c6,#f6d6c7,#f6d7c9,#f6d8ca,#f6d9cc,#f6dacd,#f6dbcf,#f6dcd0,#f6ddd2,#f6ded4,#f6e0d6,#f6e1d7,#f6e1d8,#f6e2d9,#f6e3da,#f6e3db,#f6e4dc,#f6e5dd,#f6e5dd,#f6e5de,#f6e6de,#f6e6df,#f6e6df,#f6e7e0,#f6e7e0,#f6e7e1,#f6e8e1,#f6e8e2,#f6e8e2,#f6e9e3,#f6e9e3)"></i><i style="background:linear-gradient(#f6d0bf,#f6d0bf,#f6d0bf,#f6d0bf,#f6d0bf,#f6d0bf,#f6d0bf,#f6d0bf,#f6d0bf,#f6d0bf,#f6d0bf,#f6d0c0,#f6d0c0,#f6d1c0,#f6d1c1,#f6d2c2,#f6d2c3,#f6d3c4,#f6d4c5,#f6d5c6,#f6d6c7,#f6d7c9,#f6d8ca,#f6d9cc,#f6dacd,#f6dbcf,#f6dcd1,#f6ddd3,#f6dfd4,#f6e0d6,#f6e0d7,#f6e1d8,#f6e2d9,#f6e2d9,#f6e3da,#f6e3db,#f6e4db,#f6e4dc,#f6e4dc,#f6e5dd,#f6e5dd,#f6e5de,#f6e5de,#f6e6de,#f6e6df,#f6e6df,#f6e6df,#f6e7e0,#f6e7e1)"></i></div></div>
<div class="p" style="left:166px;top:156px;width:139px;height:138px"><div style="height:144px;width:147px"><i style="background:linear-gradient(#d2e5ee,#d1e4ee,#d1e4ee,#d0e4ed,#d0e4ed,#d0e4ed,#cfe3ed,#cfe3ed,#cfe3ed,#cee3ed,#cee3ed,#cee3ed,#cde2ed,#cde2ed,#cde2ed,#cde2ed,#cde2ed,#cde2ed,#cde2ed,#cde2ed,#cee2ed,#cee3ed,#cee3ed,#cee3ed,#cee3ed,#cee3ed,#cee3ed,#cee3ed,#cee3ed,#cee3ed,#cee3ed,#cee3ed,#cee3ed,#cee3ed,#cee3ed,#cee3ed,#cfe3ed,#cfe3ed,#cfe3ed,#cfe3ed,#d0e3ed,#d0e4ed,#d0e4ed,#d0e4ed,#d1e4ed,#d1e4ee,#d1e4ee,#d1e4ee,#d2e4ee)"></i><i style="background:linear-gradient(#d3e5ee,#d3e5ee,#d2e5ee,#d2e4ee,#d1e4ee,#d1e4ee,#d0e4ed,#d0e4ed,#cfe3ed,#cfe3ed,#cfe3ed,#cfe3ed,#cee3ed,#cee3ed,#cee3ed,#cee3ed,#cee3ed,#cee3ed,#cee3ed,#cee3ed,#cee3ed,#cee3ed,#cfe3ed,#cfe3ed,#cfe3ed,#cfe3ed,#cfe3ed,#cfe3ed,#cfe3ed,#cfe3ed,#cfe3ed,#cfe3ed,#cfe3ed,#cfe3ed,#cfe3ed,#cfe3ed,#d0e3ed,#d0e4ed,#d0e4ed,#d0e4ed,#d1e4ed,#d1e4ee,#d1e4ee,#d1e4ee,#d2e5ee,#d2e5ee,#d2e5ee,#d2e5ee,#d3e5ee)"></i><i style="background:linear-gradient(#d4e6ee,#d4e6ee,#d3e5ee,#d3e5ee,#d2e5ee,#d2e5ee,#d1e4ee,#d1e4ee,#d0e4ed,#d0e4ed,#d0e4ed,#cfe3ed,#cfe3ed,#cfe3ed,#cfe3ed,#cfe3ed,#cfe3ed,#cfe3ed,#cfe3ed,#cfe3ed,#cfe3ed,#cfe3ed,#cfe3ed,#cfe3ed,#cfe3ed,#cfe3ed,#cfe3ed,#cfe3ed,#cfe3ed,#cfe3ed,#d0e3ed,#d0e3ed,#d0e4ed,#d0e4ed,#d0e4ed,#d0e4ed,#d0e4ed,#d1e4ee,#d1e4ee,#d1e4ee,#d2e4ee,#d2e5ee,#d2e5ee,#d2e5ee,#d3e5ee,#d3e5ee,#d3e5ee,#d4e5ee,#d4e6ee)"></i><i style="background:linear-gradient(#d6e6ef,#d5e6ef,#d5e6ee,#d4e6ee,#d3e5ee,#d3e5ee,#d2e5ee,#d2e5ee,#d2e4ee,#d1e4ee,#d1e4ee,#d0e4ed,#d0e4ed,#d0e4ed,#d0e4ed,#d0e3ed,#cfe3ed,#cfe3ed,#cfe3ed,#cfe3ed,#d0e3ed,#d0e4ed,#d0e4ed,#d0e4ed,#d0e4ed,#d0e4ed,#d0e4ed,#d0e4ed,#d0e4ed,#d0e4ed,#d0e4ed,#d0e4ed,#d1e4ed,#d1e4ee,#d1e4ee,#d1e4ee,#d1e4ee,#d2e5ee,#d2e5ee,#d2e5ee,#d3e5ee,#d3e5ee,#d3e5ee,#d4e5ee,#d4e6ee,#d4e6ee,#d5e6ee,#d5e6ef,#d5e6ef)"></i><i style="background:linear-gradient(#d7e7ef,#d6e7ef,#d6e7ef,#d5e6ef,#d5e6ef,#d4e6ee,#d4e5ee,#d3e5ee,#d3e5ee,#d2e5ee,#d2e5ee,#d1e4ee,#d1e4ee,#d1e4ee,#d1e4ed,#d0e4ed,#d0e4ed,#d0e4ed,#d0e4ed,#d0e4ed,#d0e4ed,#d0e4ed,#d0e4ed,#d0e4ed,#d1e4ed,#d1e4ed,#d1e4ee,#d1e4ee,#d1e4ee,#d1e4ee,#d1e4ee,#d1e4ee,#d1e4ee,#d2e4ee,#d2e5ee,#d2e5ee,#d2e5ee,#d3e5ee,#d3e5ee,#d3e5ee,#d4e5ee,#d4e6ee,#d4e6ee,#d5e6ef,#d5e6ef,#d5e6ef,#d6e7ef,#d6e7ef,#d6e7ef)"></i><i style="background:linear-gradient(#d8e8ef,#d8e8ef,#d7e7ef,#d7e7ef,#d6e7ef,#d5e6ef,#d5e6ef,#d4e6ee,#d4e6ee,#d3e5ee,#d3e5ee,#d2e5ee,#d2e5ee,#d2e5ee,#d1e4ee,#d1e4ee,#d1e4ee,#d1e4ee,#d1e4ee,#d1e4ee,#d1e4ee,#d1e4ee,#d1e4ee,#d1e4ee,#d1e4ee,#d1e4ee,#d1e4ee,#d1e4ee,#d2e4ee,#d2e5ee,#d2e5ee,#d2e5ee,#d2e5ee,#d2e5ee,#d3e5ee,#d3e5ee,#d3e5ee,#d4e5ee,#d4e6ee,#d4e6ee,#d5e6ef,#d5e6ef,#d5e6ef,#d6e7ef,#d6e7ef,#d7e7ef,#d7e7ef,#d7e7ef,#d7e7ef)"></i><i style="background:linear-gradient(#dae9f0,#d9e8f0,#d9e8ef,#d8e8ef,#d7e7ef,#d7e7ef,#d6e7ef,#d5e6ef,#d5e6ef,#d4e6ee,#d4e6ee,#d3e5ee,#d3e5ee,#d3e5ee,#d2e5ee,#d2e5ee,#d2e5ee,#d2e5ee,#d2e5ee,#d2e5ee,#d2e4ee,#d2e5ee,#d2e5ee,#d2e5ee,#d2e5ee,#d2e5ee,#d2e5ee,#d2e5ee,#d2e5ee,#d2e5ee,#d3e5ee,#d3e5ee,#d3e5ee,#d3e5ee,#d4e6ee,#d4e6ee,#d4e6ee,#d5e6ef,#d5e6ef,#d5e6ef,#d6e7ef,#d6e7ef,#d7e7ef,#d7e7ef,#d7e7ef,#d8e8ef,#d8e8ef,#d8e8ef,#d9e8f0)"></i><i style="background:linear-gradient(#dbe9f0,#dbe9f0,#dae9f0,#d9e8f0,#d8e8ef,#d8e8ef,#d7e7ef,#d7e7ef,#d6e7ef,#d6e6ef,#d5e6ef,#d5e6ee,#d4e6ee,#d4e6ee,#d3e5ee,#d3e5ee,#d3e5ee,#d3e5ee,#d3e5ee,#d3e5ee,#d2e5ee,#d2e5ee,#d2e5ee,#d3e5ee,#d3e5ee,#d3e5ee,#d3e5ee,#d3e5ee,#d3e5ee,#d3e5ee,#d4e5ee,#d4e6ee,#d4e6ee,#d4e6ee,#d5e6ef,#d5e6ef,#d5e6ef,#d6e7ef,#d6e7ef,#d7e7ef,#d7e7ef,#d7e7ef,#d8e8ef,#d8e8ef,#d9e8ef,#d9e8f0,#d9e8f0,#dae8f0,#dae9f0)"></i><i style="background:linear-gradient(#dceaf0,#dceaf0,#dbe9f0,#dae9f0,#dae9f0,#d9e8f0,#d9e8ef,#d8e8ef,#d7e7ef,#d7e7ef,#d6e7ef,#d6e7ef,#d5e6ef,#d5e6ef,#d5e6ee,#d4e6ee,#d4e6ee,#d4e6ee,#d4e6ee,#d4e5ee,#d3e5ee,#d3e5ee,#d3e5ee,#d3e5ee,#d4e5ee,#d4e6ee,#d4e6ee,#d4e6ee,#d4e6ee,#d4e6ee,#d5e6ef,#d5e6ef,#d5e6ef,#d6e6ef,#d6e7ef,#d6e7ef,#d7e7ef,#d7e7ef,#d7e7ef,#d8e8ef,#d8e8ef,#d9e8ef,#d9e8f0,#d9e8f0,#dae9f0,#dae9f0,#dbe9f0,#dbe9f0,#dbe9f0)"></i><i style="background:linear-gradient(#deeaf1,#ddeaf1,#dceaf0,#dceaf0,#dbe9f0,#dbe9f0,#dae9f0,#d9e8f0,#d9e8f0,#d8e8ef,#d8e8ef,#d7e7ef,#d7e7ef,#d6e7ef,#d6e7ef,#d6e6ef,#d5e6ef,#d5e6ef,#d5e6ef,#d5e6ef,#d5e6ee,#d5e6ee,#d5e6ee,#d5e6ee,#d5e6ee,#d5e6ef,#d5e6ef,#d5e6ef,#d5e6ef,#d6e6ef,#d6e7ef,#d6e7ef,#d6e7ef,#d7e7ef,#d7e7ef,#d8e7ef,#d8e8ef,#d8e8ef,#d9e8f0,#d9e8f0,#dae8f0,#dae9f0,#dae9f0,#dbe9f0,#dbe9f0,#dbe9f0,#dceaf0,#dceaf0,#dceaf0)"></i><i style="background:linear-gradient(#dfebf1,#deebf1,#deebf1,#ddeaf1,#ddeaf0,#dceaf0,#dbe9f0,#dbe9f0,#dae9f0,#dae9f0,#d9e8f0,#d9e8ef,#d8e8ef,#d8e8ef,#d7e7ef,#d7e7ef,#d7e7ef,#d6e7ef,#d6e7ef,#d6e7ef,#d6e7ef,#d6e7ef,#d6e7ef,#d6e7ef,#d6e7ef,#d6e7ef,#d6e7ef,#d6e7ef,#d7e7ef,#d7e7ef,#d7e7ef,#d8e7ef,#d8e8ef,#d8e8ef,#d9e8ef,#d9e8f0,#d9e8f0,#dae9f0,#dae9f0,#dae9f0,#dbe9f0,#dbe9f0,#dce9f0,#dceaf0,#dceaf0,#ddeaf1,#ddeaf1,#ddeaf1,#deeaf1)"></i><i style="background:linear-gradient(#e0ecf1,#e0ecf1,#dfebf1,#dfebf1,#deebf1,#deeaf1,#ddeaf1,#dceaf0,#dceaf0,#dbe9f0,#dbe9f0,#dae9f0,#dae9f0,#d9e8f0,#d9e8f0,#d9e8ef,#d8e8ef,#d8e8ef,#d8e8ef,#d8e7ef,#d7e7ef,#d7e7ef,#d7e7ef,#d7e7ef,#d7e7ef,#d8e7ef,#d8e7ef,#d8e8ef,#d8e8ef,#d8e8ef,#d9e8f0,#d9e8f0,#d9e8f0,#dae9f0,#dae9f0,#dae9f0,#dbe9f0,#dbe9f0,#dce9f0,#dceaf0,#dceaf0,#ddeaf0,#ddeaf1,#ddeaf1,#deebf1,#deebf1,#deebf1,#dfebf1,#dfebf1)"></i><i style="background:linear-gradient(#e2edf2,#e1ecf2,#e1ecf2,#e0ecf1,#e0ebf1,#dfebf1,#dfebf1,#deebf1,#deeaf1,#ddeaf1,#ddeaf0,#dceaf0,#dce9f0,#dbe9f0,#dbe9f0,#dae9f0,#dae9f0,#dae9f0,#dae8f0,#d9e8f0,#d9e8f0,#d9e8f0,#d9e8f0,#d9e8f0,#d9e8f0,#d9e8f0,#d9e8f0,#dae8f0,#dae9f0,#dae9f0,#dae9f0,#dbe9f0,#dbe9f0,#dbe9f0,#dce9f0,#dceaf0,#dceaf0,#ddeaf1,#ddeaf1,#ddeaf1,#deebf1,#deebf1,#deebf1,#dfebf1,#dfebf1,#dfebf1,#e0ebf1,#e0ecf1,#e0ecf1)"></i><i style="background:linear-gradient(#e3edf2,#e3edf2,#e2edf2,#e2edf2,#e1ecf2,#e1ecf2,#e0ecf1,#e0ecf1,#dfebf1,#dfebf1,#deebf1,#deebf1,#deeaf1,#ddeaf1,#ddeaf1,#ddeaf0,#dceaf0,#dceaf0,#dce9f0,#dce9f0,#dbe9f0,#dbe9f0,#dbe9f0,#dbe9f0,#dbe9f0,#dbe9f0,#dce9f0,#dce9f0,#dceaf0,#dceaf0,#dceaf0,#ddeaf0,#ddeaf1,#ddeaf1,#deeaf1,#deebf1,#deebf1,#deebf1,#dfebf1,#dfebf1,#dfebf1,#e0ebf1,#e0ecf1,#e0ecf1,#e1ecf1,#e1ecf2,#e1ecf2,#e1ecf2,#e2ecf2)"></i><i style="background:linear-gradient(#e5eef3,#e4eef2,#e4eef2,#e4edf2,#e3edf2,#e3edf2,#e2edf2,#e2ecf2,#e1ecf2,#e1ecf2,#e0ecf1,#e0ecf1,#e0ebf1,#dfebf1,#dfebf1,#dfebf1,#dfebf1,#deebf1,#deebf1,#deebf1,#deebf1,#deeaf1,#deeaf1,#deeaf1,#deeaf1,#deeaf1,#deebf1,#deebf1,#deebf1,#deebf1,#dfebf1,#dfebf1,#dfebf1,#dfebf1,#dfebf1,#e0ebf1,#e0ecf1,#e0ecf1,#e0ecf1,#e1ecf1,#e1ecf2,#e1ecf2,#e2ecf2,#e2ecf2,#e2edf2,#e2edf2,#e3edf2,#e3edf2,#e3edf2)"></i><i style="background:linear-gradient(#e6eff3,#e6eff3,#e6eef3,#e5eef3,#e5eef3,#e4eef2,#e4eef2,#e4edf2,#e3edf2,#e3edf2,#e3edf2,#e2edf2,#e2edf2,#e2ecf2,#e1ecf2,#e1ecf2,#e1ecf2,#e1ecf2,#e1ecf1,#e0ecf1,#e0ecf1,#e0ecf1,#e0ecf1,#e0ecf1,#e0ecf1,#e0ecf1,#e0ecf1,#e0ecf1,#e1ecf1,#e1ecf1,#e1ecf2,#e1ecf2,#e1ecf2,#e1ecf2,#e1ecf2,#e2ecf2,#e2edf2,#e2edf2,#e2edf2,#e2edf2,#e3edf2,#e3edf2,#e3edf2,#e3edf2,#e4edf2,#e4edf2,#e4eef2,#e4eef2,#e4eef2)"></i><i style="background:linear-gradient(#e8f0f3,#e8eff3,#e7eff3,#e7eff3,#e7eff3,#e6eff3,#e6eff3,#e6eef3,#e5eef3,#e5eef3,#e5eef2,#e5eef2,#e4eef2,#e4eef2,#e4eef2,#e4edf2,#e4edf2,#e3edf2,#e3edf2,#e3edf2,#e3edf2,#e3edf2,#e3edf2,#e3edf2,#e3edf2,#e3edf2,#e3edf2,#e3edf2,#e3edf2,#e3edf2,#e3edf2,#e3edf2,#e3edf2,#e3edf2,#e4edf2,#e4edf2,#e4edf2,#e4eef2,#e4eef2,#e4eef2,#e4eef2,#e5eef2,#e5eef2,#e5eef3,#e5eef3,#e5eef3,#e5eef3,#e6eef3,#e6eef3)"></i><i style="background:linear-gradient(#eaf0f4,#e9f0f4,#e9f0f4,#e9f0f3,#e8f0f3,#e8f0f3,#e8f0f3,#e8eff3,#e7eff3,#e7eff3,#e7eff3,#e7eff3,#e7eff3,#e7eff3,#e6eff3,#e6eff3,#e6eff3,#e6eff3,#e6eff3,#e6eff3,#e6eff3,#e6eff3,#e6eff3,#e6eff3,#e6eff3,#e6eff3,#e6eff3,#e6eff3,#e6eff3,#e6eff3,#e6eef3,#e6eef3,#e6eef3,#e6eef3,#e6eef3,#e6eef3,#e6eef3,#e6eef3,#e6eff3,#e6eff3,#e6eff3,#e6eff3,#e6eff3,#e6eff3,#e7eff3,#e7eff3,#e7eff3,#e7eff3,#e7eff3)"></i><i style="background:linear-gradient(#ebf1f4,#ebf1f4,#ebf1f4,#ebf1f4,#eaf1f4,#eaf1f4,#eaf1f4,#eaf0f4,#eaf0f4,#e9f0f4,#e9f0f4,#e9f0f4,#e9f0f4,#e9f0f4,#e9f0f4,#e9f0f4,#e9f0f4,#e9f0f4,#e9f0f4,#e9f0f4,#e9f0f4,#e9f0f4,#e9f0f4,#e9f0f4,#e9f0f4,#e9f0f4,#e9f0f4,#e9f0f3,#e9f0f3,#e9f0f3,#e8f0f3,#e8f0f3,#e8f0f3,#e8f0f3,#e8f0f3,#e8eff3,#e8eff3,#e8eff3,#e8eff3,#e8eff3,#e8eff3,#e8f0f3,#e8f0f3,#e8f0f3,#e8f0f3,#e8f0f3,#e8f0f3,#e9f0f3,#e9f0f3)"></i><i style="background:linear-gradient(#edf2f5,#edf2f4,#edf2f4,#ecf2f4,#ecf2f4,#ecf2f4,#ecf1f4,#ecf1f4,#ecf1f4,#ecf1f4,#ecf1f4,#ecf1f4,#ecf1f4,#ecf1f4,#ecf1f4,#ecf1f4,#ecf1f4,#ecf2f4,#ecf2f4,#ecf2f4,#ecf2f4,#ecf2f4,#ecf2f4,#ecf2f4,#ecf2f4,#ecf2f4,#ecf1f4,#ecf1f4,#ebf1f4,#ebf1f4,#ebf1f4,#ebf1f4,#ebf1f4,#eaf1f4,#eaf1f4,#eaf1f4,#eaf0f4,#eaf0f4,#eaf0f4,#eaf0f4,#eaf0f4,#eaf0f4,#eaf0f4,#eaf0f4,#eaf0f4,#eaf0f4,#eaf1f4,#eaf1f4,#eaf1f4)"></i><i style="background:linear-gradient(#eff3f5,#eef3f5,#eef3f5,#eef3f5,#eef3f5,#eef2f5,#eef2f5,#eef2f5,#eef2f5,#eef2f5,#eef2f5,#eef2f5,#eef3f5,#eef3f5,#eef3f5,#eef3f5,#eff3f5,#eff3f5,#eff3f5,#eff3f5,#eff3f5,#eff3f5,#eff3f5,#eff3f5,#eff3f5,#eff3f5,#eff3f5,#eff3f5,#eef3f5,#eef3f5,#eef2f5,#edf2f5,#edf2f5,#edf2f4,#ecf2f4,#ecf2f4,#ecf1f4,#ecf1f4,#ecf1f4,#ebf1f4,#ebf1f4,#ebf1f4,#ebf1f4,#ebf1f4,#ebf1f4,#ebf1f4,#ebf1f4,#ebf1f4,#ecf1f4)"></i><i style="background:linear-gradient(#f0f4f5,#f0f4f5,#f0f4f5,#f0f3f5,#f0f3f5,#f0f3f5,#f0f3f5,#f0f3f5,#f0f3f5,#f0f3f5,#f0f4f5,#f0f4f5,#f0f4f5,#f1f4f5,#f1f4f5,#f1f4f6,#f1f4f6,#f1f4f6,#f2f4f6,#f2f4f6,#f2f5f6,#f2f5f6,#f2f5f6,#f2f5f6,#f2f5f6,#f2f4f6,#f2f4f6,#f1f4f6,#f1f4f6,#f1f4f5,#f0f4f5,#f0f3f5,#eff3f5,#eff3f5,#eff3f5,#eef3f5,#eef2f5,#eef2f5,#edf2f5,#edf2f5,#edf2f5,#edf2f5,#edf2f5,#edf2f5,#edf2f5,#edf2f5,#edf2f5,#edf2f5,#edf2f5)"></i><i style="background:linear-gradient(#f2f4f6,#f2f4f6,#f2f4f6,#f2f4f6,#f2f4f6,#f2f4f6,#f2f4f6,#f2f4f6,#f2f4f6,#f2f5f6,#f2f5f6,#f2f5f6,#f3f5f6,#f3f5f6,#f3f5f6,#f4f5f6,#f4f5f6,#f4f6f6,#f4f6f6,#f5f6f6,#f5f6f6,#f5f6f7,#f5f6f7,#f5f6f7,#f5f6f6,#f5f6f6,#f4f6f6,#f4f6f6,#f4f5f6,#f3f5f6,#f3f5f6,#f2f5f6,#f2f4f6,#f1f4f6,#f1f4f5,#f0f4f5,#f0f3f5,#f0f3f5,#eff3f5,#eff3f5,#eff3f5,#eff3f5,#eff3f5,#eff3f5,#eff3f5,#eff3f5,#eef3f5,#eef3f5,#eef3f5)"></i><i style="background:linear-gradient(#f3f5f6,#f3f5f6,#f3f5f6,#f3f5f6,#f3f5f6,#f3f5f6,#f4f5f6,#f4f5f6,#f4f5f6,#f4f6f6,#f4f6f6,#f5f6f6,#f5f6f6,#f5f6f7,#f6f6f7,#f6f6f7,#f6f7f7,#f7f7f7,#f7f7f7,#f7f7f7,#f7f7f6,#f7f6f6,#f7f6f6,#f7f6f6,#f7f7f6,#f7f7f7,#f7f7f7,#f7f7f7,#f6f7f7,#f6f6f7,#f5f6f6,#f4f6f6,#f4f5f6,#f3f5f6,#f3f5f6,#f2f5f6,#f2f4f6,#f1f4f6,#f1f4f6,#f1f4f5,#f1f4f5,#f0f4f5,#f0f4f5,#f0f4f5,#f0f4f5,#f0f4f5,#f0f4f5,#f0f4f5,#f0f3f5)"></i><i style="background:linear-gradient(#f5f6f7,#f5f6f7,#f5f6f7,#f5f6f7,#f5f6f7,#f5f6f7,#f5f6f7,#f6f6f7,#f6f6f7,#f6f7f7,#f6f7f7,#f7f7f7,#f7f7f7,#f7f7f6,#f7f6f6,#f7f6f6,#f7f6f5,#f7f5f5,#f7f5f4,#f7f5f4,#f7f5f4,#f7f5f3,#f7f4f3,#f7f5f3,#f7f5f4,#f7f5f4,#f7f5f4,#f7f5f5,#f7f6f5,#f7f6f6,#f7f7f7,#f7f7f7,#f6f6f7,#f5f6f7,#f5f6f6,#f4f6f6,#f4f5f6,#f3f5f6,#f3f5f6,#f3f5f6,#f2f5f6,#f2f5f6,#f2f4f6,#f2f4f6,#f2f4f6,#f2f4f6,#f2f4f6,#f1f4f6,#f1f4f6)"></i><i style="background:linear-gradient(#f7f7f7,#f7f7f7,#f7f7f7,#f7f7f7,#f7f7f7,#f7f7f7,#f7f7f7,#f7f7f7,#f7f6f6,#f7f6f6,#f7f6f5,#f7f6f5,#f7f5f5,#f7f5f4,#f7f5f4,#f7f4f3,#f7f4f3,#f7f4f2,#f7f3f2,#f7f3f1,#f7f3f1,#f7f3f1,#f7f3f1,#f7f3f1,#f7f3f1,#f7f3f1,#f7f3f2,#f7f4f2,#f7f4f3,#f7f5f4,#f7f5f4,#f7f6f5,#f7f6f6,#f7f7f7,#f7f7f7,#f6f7f7,#f6f6f7,#f5f6f7,#f5f6f6,#f4f6f6,#f4f6f6,#f4f5f6,#f4f5f6,#f3f5f6,#f3f5f6,#f3f5f6,#f3f5f6,#f3f5f6,#f3f5f6)"></i><i style="background:linear-gradient(#f7f6f6,#f7f6f6,#f7f6f6,#f7f6f6,#f7f6f5,#f7f6f5,#f7f6f5,#f7f5f5,#f7f5f4,#f7f5f4,#f7f4f3,#f7f4f3,#f7f4f2,#f7f3f2,#f7f3f1,#f7f3f1,#f7f2f0,#f7f2f0,#f7f2ef,#f7f1ef,#f7f1ef,#f7f1ef,#f7f1ef,#f7f1ef,#f7f1ef,#f7f1ef,#f7f2ef,#f7f2f0,#f7f3f1,#f7f3f1,#f7f4f2,#f7f4f3,#f7f5f4,#f7f5f4,#f7f6f5,#f7f6f6,#f7f7f7,#f7f7f7,#f6f7f7,#f6f6f7,#f6f6f7,#f5f6f7,#f5f6f7,#f5f6f6,#f5f6f6,#f5f6f6,#f4f6f6,#f4f6f6,#f4f6f6)"></i><i style="background:linear-gradient(#f7f5f4,#f7f5f4,#f7f5f4,#f7f5f4,#f7f5f4,#f7f4f3,#f7f4f3,#f7f4f3,#f7f4f2,#f7f3f2,#f7f3f1,#f7f3f1,#f7f2f0,#f7f2f0,#f7f1ef,#f7f1ef,#f7f1ee,#f7f0ee,#f7f0ed,#f7f0ed,#f7f0ed,#f7f0ec,#f7f0ec,#f7f0ec,#f7f0ed,#f7f0ed,#f7f0ed,#f7f1ee,#f7f1ee,#f7f2ef,#f7f2f0,#f7f3f1,#f7f3f2,#f7f4f2,#f7f4f3,#f7f5f4,#f7f5f5,#f7f6f5,#f7f6f6,#f7f7f6,#f7f7f7,#f7f7f7,#f7f7f7,#f6f7f7,#f6f7f7,#f6f7f7,#f6f6f7,#f6f6f7,#f6f6f7)"></i><i style="background:linear-gradient(#f7f4f3,#f7f4f2,#f7f4f2,#f7f4f2,#f7f3f2,#f7f3f1,#f7f3f1,#f7f3f1,#f7f2f0,#f7f2f0,#f7f2ef,#f7f1ef,#f7f1ee,#f7f0ee,#f7f0ed,#f7f0ed,#f7efec,#f7efec,#f7efeb,#f7eeeb,#f7eeeb,#f7eeea,#f7eeea,#f7eeea,#f7eeeb,#f7efeb,#f7efeb,#f7efec,#f7f0ec,#f7f0ed,#f7f1ee,#f7f1ef,#f7f2f0,#f7f2f0,#f7f3f1,#f7f3f2,#f7f4f3,#f7f4f3,#f7f5f4,#f7f5f4,#f7f6f5,#f7f6f5,#f7f6f6,#f7f6f6,#f7f6f6,#f7f7f6,#f7f7f7,#f7f7f7,#f7f7f7)"></i><i style="background:linear-gradient(#f7f3f1,#f7f3f1,#f7f3f1,#f7f2f0,#f7f2f0,#f7f2f0,#f7f2ef,#f7f1ef,#f7f1ef,#f7f1ee,#f7f0ed,#f7f0ed,#f7f0ec,#f7efec,#f7efeb,#f7eeeb,#f7eeea,#f7eeea,#f7ede9,#f7ede9,#f7ede9,#f7ede9,#f7ede9,#f7ede9,#f7ede9,#f7ede9,#f7eee9,#f7eeea,#f7eeeb,#f7efeb,#f7efec,#f7f0ed,#f7f0ee,#f7f1ee,#f7f2ef,#f7f2f0,#f7f3f1,#f7f3f1,#f7f4f2,#f7f4f3,#f7f4f3,#f7f5f4,#f7f5f4,#f7f5f4,#f7f5f5,#f7f5f5,#f7f6f5,#f7f6f5,#f7f6f6)"></i><i style="background:linear-gradient(#f7f2f0,#f7f2ef,#f7f1ef,#f7f1ef,#f7f1ee,#f7f1ee,#f7f0ee,#f7f0ed,#f7f0ed,#f7efec,#f7efec,#f7efeb,#f7eeeb,#f7eeea,#f7eeea,#f7ede9,#f7ede8,#f7ece8,#f7ece8,#f7ece7,#f7ece7,#f7ece7,#f7ece7,#f7ece7,#f7ece7,#f7ece7,#f7ece8,#f7ede8,#f7ede9,#f7eeea,#f7eeea,#f7efeb,#f7efec,#f7f0ed,#f7f0ed,#f7f1ee,#f7f1ef,#f7f2f0,#f7f2f0,#f7f3f1,#f7f3f1,#f7f3f2,#f7f4f2,#f7f4f3,#f7f4f3,#f7f4f3,#f7f5f4,#f7f5f4,#f7f5f4)"></i><i style="background:linear-gradient(#f7f1ee,#f7f1ee,#f7f0ee,#f7f0ed,#f7f0ed,#f7f0ed,#f7efec,#f7efec,#f7efeb,#f7eeeb,#f7eeea,#f7eeea,#f7ede9,#f7ede8,#f7ece8,#f7ece7,#f7ece7,#f7ebe6,#f7ebe6,#f7ebe6,#f7ebe5,#f7ebe5,#f7ebe5,#f7ebe5,#f7ebe5,#f7ebe6,#f7ebe6,#f7ece7,#f7ece7,#f7ece8,#f7ede9,#f7ede9,#f7eeea,#f7efeb,#f7efec,#f7f0ed,#f7f0ed,#f7f1ee,#f7f1ef,#f7f2ef,#f7f2f0,#f7f2f0,#f7f3f1,#f7f3f1,#f7f3f1,#f7f3f2,#f7f4f2,#f7f4f2,#f7f4f3)"></i><i style="background:linear-gradient(#f7f0ed,#f7f0ec,#f7efec,#f7efec,#f7efeb,#f7efeb,#f7eeeb,#f7eeea,#f7eeea,#f7ede9,#f7ede9,#f7ede8,#f7ece8,#f7ece7,#f7ebe6,#f7ebe6,#f7ebe5,#f7eae5,#f7eae5,#f7eae4,#f7eae4,#f7eae4,#f7e9e4,#f7eae4,#f7eae4,#f7eae4,#f7eae5,#f7eae5,#f7ebe6,#f7ebe6,#f7ece7,#f7ece8,#f7ede9,#f7ede9,#f7eeea,#f7efeb,#f7efec,#f7f0ec,#f7f0ed,#f7f0ee,#f7f1ee,#f7f1ef,#f7f2ef,#f7f2f0,#f7f2f0,#f7f2f0,#f7f3f1,#f7f3f1,#f7f3f1)"></i><i style="background:linear-gradient(#f7efeb,#f7efeb,#f7eeeb,#f7eeea,#f7eeea,#f7eeea,#f7ede9,#f7ede9,#f7ede8,#f7ece8,#f7ece7,#f7ece7,#f7ebe6,#f7ebe6,#f7eae5,#f7eae4,#f7eae4,#f7e9e4,#f6e9e3,#f6e9e3,#f6e9e3,#f6e9e2,#f6e8e2,#f6e9e2,#f6e9e3,#f6e9e3,#f6e9e3,#f7e9e4,#f7eae4,#f7eae5,#f7ebe6,#f7ebe6,#f7ece7,#f7ece8,#f7ede9,#f7ede9,#f7eeea,#f7eeeb,#f7efec,#f7efec,#f7f0ed,#f7f0ed,#f7f1ee,#f7f1ee,#f7f1ef,#f7f1ef,#f7f2ef,#f7f2f0,#f7f2f0)"></i><i style="background:linear-gradient(#f7eeea,#f7eeea,#f7eeea,#f7ede9,#f7ede9,#f7ede8,#f7ece8,#f7ece7,#f7ece7,#f7ebe6,#f7ebe6,#f7ebe5,#f7eae5,#f7eae4,#f7eae4,#f6e9e3,#f6e9e3,#f6e8e2,#f6e8e2,#f6e8e2,#f6e8e1,#f6e8e1,#f6e8e1,#f6e8e1,#f6e8e1,#f6e8e1,#f6e8e2,#f6e9e2,#f6e9e3,#f7e9e4,#f7eae4,#f7eae5,#f7ebe6,#f7ebe7,#f7ece7,#f7ede8,#f7ede9,#f7ede9,#f7eeea,#f7eeeb,#f7efeb,#f7efec,#f7f0ec,#f7f0ed,#f7f0ed,#f7f0ee,#f7f1ee,#f7f1ee,#f7f1ef)"></i><i style="background:linear-gradient(#f7ede9,#f7ede9,#f7ede8,#f7ece8,#f7ece8,#f7ece7,#f7ece7,#f7ebe6,#f7ebe6,#f7ebe5,#f7eae5,#f7eae4,#f7e9e4,#f6e9e3,#f6e9e3,#f6e8e2,#f6e8e2,#f6e8e1,#f6e7e1,#f6e7e0,#f6e7e0,#f6e7e0,#f6e7e0,#f6e7e0,#f6e7e0,#f6e7e0,#f6e7e1,#f6e8e1,#f6e8e2,#f6e9e2,#f6e9e3,#f7eae4,#f7eae5,#f7ebe5,#f7ebe6,#f7ece7,#f7ece7,#f7ede8,#f7ede9,#f7ede9,#f7eeea,#f7eeeb,#f7efeb,#f7efeb,#f7efec,#f7f0ec,#f7f0ed,#f7f0ed,#f7f0ed)"></i><i style="background:linear-gradient(#f7ece8,#f7ece7,#f7ece7,#f7ece7,#f7ebe6,#f7ebe6,#f7ebe6,#f7eae5,#f7eae5,#f7eae4,#f7e9e4,#f6e9e3,#f6e9e3,#f6e8e2,#f6e8e2,#f6e8e1,#f6e7e1,#f6e7e0,#f6e7e0,#f6e6df,#f6e6df,#f6e6df,#f6e6df,#f6e6df,#f6e6df,#f6e6df,#f6e7e0,#f6e7e0,#f6e7e1,#f6e8e1,#f6e8e2,#f6e9e3,#f6e9e3,#f7eae4,#f7eae5,#f7ebe6,#f7ebe6,#f7ece7,#f7ece8,#f7ede8,#f7ede9,#f7ede9,#f7eeea,#f7eeea,#f7eeeb,#f7efeb,#f7efec,#f7efec,#f7efec)"></i><i style="background:linear-gradient(#f7ece7,#f7ebe6,#f7ebe6,#f7ebe6,#f7ebe5,#f7eae5,#f7eae4,#f7eae4,#f6e9e3,#f6e9e3,#f6e9e3,#f6e8e2,#f6e8e2,#f6e8e1,#f6e7e1,#f6e7e0,#f6e7e0,#f6e6df,#f6e6df,#f6e6df,#f6e6de,#f6e5de,#f6e5de,#f6e5de,#f6e5de,#f6e6de,#f6e6df,#f6e6df,#f6e7e0,#f6e7e0,#f6e8e1,#f6e8e2,#f6e9e2,#f6e9e3,#f7e9e4,#f7eae4,#f7eae5,#f7ebe6,#f7ebe6,#f7ece7,#f7ece8,#f7ede8,#f7ede9,#f7ede9,#f7eeea,#f7eeea,#f7eeea,#f7eeeb,#f7efeb)"></i><i style="background:linear-gradient(#f7ebe6,#f7ebe5,#f7eae5,#f7eae5,#f7eae4,#f7eae4,#f6e9e3,#f6e9e3,#f6e9e3,#f6e8e2,#f6e8e2,#f6e8e1,#f6e7e1,#f6e7e0,#f6e7e0,#f6e6df,#f6e6df,#f6e6de,#f6e6de,#f6e5de,#f6e5dd,#f6e5dd,#f6e5dd,#f6e5dd,#f6e5dd,#f6e5dd,#f6e5de,#f6e6de,#f6e6df,#f6e7e0,#f6e7e0,#f6e7e1,#f6e8e1,#f6e8e2,#f6e9e3,#f6e9e3,#f7eae4,#f7eae5,#f7ebe5,#f7ebe6,#f7ebe6,#f7ece7,#f7ece7,#f7ece8,#f7ede8,#f7ede9,#f7ede9,#f7eeea,#f7eeea)"></i><i style="background:linear-gradient(#f7eae5,#f7eae4,#f7eae4,#f7e9e4,#f6e9e3,#f6e9e3,#f6e9e2,#f6e8e2,#f6e8e2,#f6e8e1,#f6e7e1,#f6e7e0,#f6e7e0,#f6e6df,#f6e6df,#f6e6de,#f6e6de,#f6e5de,#f6e5dd,#f6e5dd,#f6e5dd,#f6e5dd,#f6e4dd,#f6e4dd,#f6e5dd,#f6e5dd,#f6e5dd,#f6e5de,#f6e6de,#f6e6df,#f6e6df,#f6e7e0,#f6e7e1,#f6e8e1,#f6e8e2,#f6e9e2,#f6e9e3,#f7e9e4,#f7eae4,#f7eae5,#f7ebe5,#f7ebe6,#f7ebe6,#f7ece7,#f7ece7,#f7ece8,#f7ede8,#f7ede9,#f7ede9)"></i><i style="background:linear-gradient(#f7e9e4,#f6e9e3,#f6e9e3,#f6e9e3,#f6e9e2,#f6e8e2,#f6e8e2,#f6e8e1,#f6e7e1,#f6e7e0,#f6e7e0,#f6e6df,#f6e6df,#f6e6df,#f6e6de,#f6e5de,#f6e5dd,#f6e5dd,#f6e5dd,#f6e4dd,#f6e4dc,#f6e4dc,#f6e4dc,#f6e4dc,#f6e4dc,#f6e4dc,#f6e5dd,#f6e5dd,#f6e5de,#f6e6de,#f6e6df,#f6e6df,#f6e7e0,#f6e7e0,#f6e8e1,#f6e8e2,#f6e8e2,#f6e9e3,#f6e9e3,#f7eae4,#f7eae4,#f7eae5,#f7ebe5,#f7ebe6,#f7ebe6,#f7ece7,#f7ece7,#f7ece7,#f7ece8)"></i><i style="background:linear-gradient(#f6e9e3,#f6e9e2,#f6e8e2,#f6e8e2,#f6e8e1,#f6e8e1,#f6e7e1,#f6e7e0,#f6e7e0,#f6e7df,#f6e6df,#f6e6df,#f6e6de,#f6e5de,#f6e5de,#f6e5dd,#f6e5dd,#f6e5dd,#f6e4dc,#f6e4dc,#f6e4dc,#f6e4dc,#f6e4dc,#f6e4dc,#f6e4dc,#f6e4dc,#f6e4dc,#f6e5dd,#f6e5dd,#f6e5de,#f6e6de,#f6e6df,#f6e6df,#f6e7e0,#f6e7e0,#f6e7e1,#f6e8e1,#f6e8e2,#f6e9e2,#f6e9e3,#f6e9e3,#f7eae4,#f7eae4,#f7eae5,#f7ebe5,#f7ebe6,#f7ebe6,#f7ebe6,#f7ece7)"></i><i style="background:linear-gradient(#f6e8e2,#f6e8e2,#f6e8e1,#f6e8e1,#f6e7e1,#f6e7e0,#f6e7e0,#f6e7df,#f6e6df,#f6e6df,#f6e6de,#f6e5de,#f6e5de,#f6e5dd,#f6e5dd,#f6e5dd,#f6e4dc,#f6e4dc,#f6e4dc,#f6e4dc,#f6e4dc,#f6e4dc,#f6e4dc,#f6e4dc,#f6e4dc,#f6e4dc,#f6e4dc,#f6e4dc,#f6e5dd,#f6e5dd,#f6e5de,#f6e6de,#f6e6df,#f6e6df,#f6e7df,#f6e7e0,#f6e7e0,#f6e8e1,#f6e8e1,#f6e8e2,#f6e9e2,#f6e9e3,#f6e9e3,#f7eae4,#f7eae4,#f7eae5,#f7eae5,#f7ebe5,#f7ebe6)"></i><i style="background:linear-gradient(#f6e8e1,#f6e7e1,#f6e7e0,#f6e7e0,#f6e7e0,#f6e6df,#f6e6df,#f6e6df,#f6e6de,#f6e5de,#f6e5de,#f6e5dd,#f6e5dd,#f6e5dd,#f6e4dc,#f6e4dc,#f6e4dc,#f6e4dc,#f6e4dc,#f6e4db,#f6e4db,#f6e4db,#f6e4db,#f6e4db,#f6e4dc,#f6e4dc,#f6e4dc,#f6e4dc,#f6e4dc,#f6e5dd,#f6e5dd,#f6e5de,#f6e5de,#f6e6de,#f6e6df,#f6e6df,#f6e7e0,#f6e7e0,#f6e7e1,#f6e8e1,#f6e8e2,#f6e8e2,#f6e9e2,#f6e9e3,#f6e9e3,#f7e9e4,#f7eae4,#f7eae4,#f7eae5)"></i><i style="background:linear-gradient(#f6e7e0,#f6e7e0,#f6e7e0,#f6e6df,#f6e6df,#f6e6df,#f6e6de,#f6e5de,#f6e5de,#f6e5dd,#f6e5dd,#f6e5dd,#f6e4dc,#f6e4dc,#f6e4dc,#f6e4dc,#f6e4dc,#f6e4db,#f6e4db,#f6e4db,#f6e3db,#f6e4db,#f6e4db,#f6e4db,#f6e4db,#f6e4dc,#f6e4dc,#f6e4dc,#f6e4dc,#f6e4dc,#f6e5dd,#f6e5dd,#f6e5dd,#f6e5de,#f6e6de,#f6e6df,#f6e6df,#f6e6df,#f6e7e0,#f6e7e0,#f6e7e1,#f6e8e1,#f6e8e2,#f6e8e2,#f6e9e2,#f6e9e3,#f6e9e3,#f7e9e4,#f7eae4)"></i><i style="background:linear-gradient(#f6e6df,#f6e6df,#f6e6df,#f6e6df,#f6e6de,#f6e5de,#f6e5de,#f6e5dd,#f6e5dd,#f6e5dd,#f6e4dc,#f6e4dc,#f6e4dc,#f6e4dc,#f6e4db,#f6e4db,#f6e3db,#f6e3db,#f6e3db,#f6e3db,#f6e3db,#f6e3db,#f6e3db,#f6e4db,#f6e4db,#f6e4db,#f6e4dc,#f6e4dc,#f6e4dc,#f6e4dc,#f6e4dc,#f6e4dd,#f6e5dd,#f6e5dd,#f6e5de,#f6e5de,#f6e6de,#f6e6df,#f6e6df,#f6e7e0,#f6e7e0,#f6e7e0,#f6e7e1,#f6e8e1,#f6e8e2,#f6e8e2,#f6e8e2,#f6e9e3,#f6e9e3)"></i><i style="background:linear-gradient(#f6e6de,#f6e6de,#f6e5de,#f6e5de,#f6e5dd,#f6e5dd,#f6e5dd,#f6e4dd,#f6e4dc,#f6e4dc,#f6e4dc,#f6e4dc,#f6e4db,#f6e3db,#f6e3db,#f6e3db,#f6e3db,#f6e3db,#f6e3db,#f6e3db,#f6e3db,#f6e3db,#f6e3db,#f6e3db,#f6e3db,#f6e4db,#f6e4db,#f6e4db,#f6e4dc,#f6e4dc,#f6e4dc,#f6e4dc,#f6e4dc,#f6e5dd,#f6e5dd,#f6e5dd,#f6e5de,#f6e5de,#f6e6de,#f6e6df,#f6e6df,#f6e7e0,#f6e7e0,#f6e7e0,#f6e7e1,#f6e8e1,#f6e8e1,#f6e8e2,#f6e8e2)"></i><i style="background:linear-gradient(#f6e5de,#f6e5dd,#f6e5dd,#f6e5dd,#f6e5dd,#f6e4dc,#f6e4dc,#f6e4dc,#f6e4dc,#f6e4db,#f6e3db,#f6e3db,#f6e3db,#f6e3db,#f6e3da,#f6e3da,#f6e3da,#f6e3da,#f6e3da,#f6e3da,#f6e3da,#f6e3da,#f6e3db,#f6e3db,#f6e3db,#f6e3db,#f6e3db,#f6e3db,#f6e3db,#f6e4db,#f6e4db,#f6e4dc,#f6e4dc,#f6e4dc,#f6e4dc,#f6e5dd,#f6e5dd,#f6e5dd,#f6e5de,#f6e5de,#f6e6de,#f6e6df,#f6e6df,#f6e6df,#f6e7e0,#f6e7e0,#f6e7e0,#f6e7e1,#f6e8e1)"></i><i style="background:linear-gradient(#f6e5dd,#f6e4dd,#f6e4dc,#f6e4dc,#f6e4dc,#f6e4dc,#f6e4db,#f6e4db,#f6e3db,#f6e3db,#f6e3db,#f6e3da,#f6e3da,#f6e3da,#f6e3da,#f6e3da,#f6e3da,#f6e3da,#f6e3da,#f6e3da,#f6e3da,#f6e3da,#f6e3da,#f6e3da,#f6e3da,#f6e3db,#f6e3db,#f6e3db,#f6e3db,#f6e3db,#f6e3db,#f6e3db,#f6e4db,#f6e4dc,#f6e4dc,#f6e4dc,#f6e4dc,#f6e5dd,#f6e5dd,#f6e5dd,#f6e5de,#f6e5de,#f6e6de,#f6e6df,#f6e6df,#f6e6df,#f6e7e0,#f6e7e0,#f6e7e0)"></i></div></div>
<div class="p" style="left:305px;top:156px;width:137px;height:138px"><div style="height:144px;width:144px"><i style="background:linear-gradient(#f5b99f,#f5bba1,#f5bca3,#f5bea5,#f5bfa7,#f5c1a9,#f5c2ab,#f5c3ad,#f5c4af,#f5c6b0,#f5c7b2,#f5c8b3,#f5c9b5,#f5c9b6,#f5cab7,#f5cab7,#f5cbb8,#f5ccb9,#f5ccba,#f5cdbb,#f5cdbc,#f6cebd,#f6cfbe,#f6d0bf,#f6d1c1,#f6d3c4,#f6d5c6,#f6d7ca,#f6dace,#f6ddd2,#f6e1d7,#f6e5dd,#f6e8e2,#f7ece8,#f7f0ee,#f7f4f3,#f5f6f7,#f0f4f5,#eaf1f4,#e4eef2,#deebf1,#d8e8ef,#d3e5ee,#cee3ed,#c9e0ec,#c4deea,#bddae9,#b3d5e6,#abd1e4)"></i><i style="background:linear-gradient(#f5b99f,#f5bba1,#f5bca3,#f5bea6,#f5bfa8,#f5c1aa,#f5c2ab,#f5c3ad,#f5c5af,#f5c6b1,#f5c7b2,#f5c8b4,#f5c9b5,#f5c9b6,#f5cab7,#f5cbb8,#f5cbb9,#f5ccb9,#f5ccba,#f5cdbb,#f5cdbc,#f6cebd,#f6cfbe,#f6d0bf,#f6d1c1,#f6d3c3,#f6d4c6,#f6d7c9,#f6dacd,#f6ddd2,#f6e1d7,#f6e5dd,#f6e9e3,#f7ede9,#f7f2ef,#f7f6f5,#f4f5f6,#eff3f5,#e9f0f3,#e3edf2,#dceaf0,#d5e6ef,#cfe3ed,#cae0ec,#c4deea,#bfdbe9,#b8d8e7,#afd3e5,#a7d0e3)"></i><i style="background:linear-gradient(#f5b99f,#f5bba1,#f5bda4,#f5bea6,#f5bfa8,#f5c1aa,#f5c2ac,#f5c3ad,#f5c5af,#f5c6b1,#f5c7b2,#f5c8b4,#f5c9b5,#f5c9b6,#f5cab7,#f5cbb8,#f5cbb9,#f5ccba,#f5cdbb,#f5cdbb,#f5cebc,#f6cebd,#f6cfbe,#f6d0bf,#f6d1c1,#f6d2c3,#f6d4c5,#f6d6c8,#f6d9cd,#f6ddd2,#f6e1d7,#f6e5de,#f7eae4,#f7efeb,#f7f3f1,#f7f7f7,#f2f4f6,#edf2f4,#e7eff3,#e1ecf1,#d9e8f0,#d2e5ee,#cbe1ec,#c5deeb,#bfdbe9,#b9d8e8,#b2d5e6,#abd1e4,#a5cee3)"></i><i style="background:linear-gradient(#f5b99f,#f5bba1,#f5bda4,#f5bea6,#f5bfa8,#f5c1aa,#f5c2ac,#f5c3ad,#f5c5af,#f5c6b1,#f5c7b2,#f5c8b4,#f5c9b5,#f5cab6,#f5cab7,#f5cbb8,#f5ccb9,#f5ccba,#f5cdbb,#f5cebc,#f6cebd,#f6cfbd,#f6cfbe,#f6d0bf,#f6d1c1,#f6d2c2,#f6d4c5,#f6d6c8,#f6d9cc,#f6ddd1,#f6e1d7,#f6e6df,#f7ebe6,#f7f0ed,#f7f5f4,#f5f6f6,#f0f4f5,#ebf1f4,#e5eef3,#deebf1,#d6e7ef,#cee3ed,#c6dfeb,#bfdbe9,#b9d8e8,#b4d6e6,#aed3e5,#a8d0e3,#a2cde2)"></i><i style="background:linear-gradient(#f5b99f,#f5bba1,#f5bca4,#f5bea6,#f5bfa8,#f5c1aa,#f5c2ac,#f5c3ad,#f5c5af,#f5c6b1,#f5c7b2,#f5c8b4,#f5c9b5,#f5cab7,#f5cbb8,#f5cbb9,#f5ccba,#f5cdbb,#f5cebc,#f6cebd,#f6cfbe,#f6cfbe,#f6d0bf,#f6d0c0,#f6d1c1,#f6d2c2,#f6d4c5,#f6d6c8,#f6d9cc,#f6dcd1,#f6e1d8,#f6e7e0,#f7ece8,#f7f2ef,#f7f6f6,#f3f5f6,#eef3f5,#e9f0f3,#e2edf2,#dbe9f0,#d2e4ee,#c9e0ec,#c1dcea,#bad9e8,#b4d6e6,#afd3e5,#aad1e4,#a5cee3,#a0cce2)"></i><i style="background:linear-gradient(#f5b99f,#f5bba1,#f5bca3,#f5bea6,#f5bfa8,#f5c1aa,#f5c2ac,#f5c3ae,#f5c5af,#f5c6b1,#f5c7b3,#f5c8b4,#f5c9b6,#f5cab7,#f5cbb8,#f5ccba,#f5cdbb,#f5cebc,#f6cebd,#f6cfbe,#f6d0bf,#f6d0c0,#f6d1c0,#f6d1c1,#f6d2c2,#f6d3c3,#f6d4c5,#f6d6c8,#f6d9cc,#f6ddd2,#f6e2d9,#f6e8e1,#f7eeea,#f7f3f2,#f6f6f7,#f1f4f5,#ecf2f4,#e6eff3,#dfebf1,#d6e7ef,#cce2ec,#c3ddea,#bbd9e8,#b5d6e7,#b0d4e5,#abd1e4,#a7cfe3,#a3cde2,#9fcbe1)"></i><i style="background:linear-gradient(#f5b99f,#f5bba1,#f5bca3,#f5bea6,#f5bfa8,#f5c1aa,#f5c2ac,#f5c4ae,#f5c5af,#f5c6b1,#f5c7b3,#f5c8b4,#f5c9b6,#f5cab7,#f5cbb9,#f5ccba,#f5cdbc,#f6cebd,#f6cfbe,#f6d0bf,#f6d1c0,#f6d1c1,#f6d2c2,#f6d2c2,#f6d3c3,#f6d3c4,#f6d5c6,#f6d7c9,#f6d9cd,#f6ded3,#f6e3db,#f7eae4,#f7f0ed,#f7f6f5,#f3f5f6,#eff3f5,#eaf0f4,#e3edf2,#dbe9f0,#d1e4ee,#c6dfeb,#bddae9,#b6d7e7,#b0d4e5,#acd2e4,#a8d0e3,#a4cee3,#a1cce2,#9ecbe1)"></i><i style="background:linear-gradient(#f5b99f,#f5bba1,#f5bca3,#f5bea5,#f5bfa8,#f5c1aa,#f5c2ac,#f5c4ae,#f5c5af,#f5c6b1,#f5c7b3,#f5c9b5,#f5cab6,#f5cbb8,#f5ccba,#f5cdbb,#f6cebd,#f6cfbe,#f6d0bf,#f6d1c1,#f6d2c2,#f6d2c3,#f6d3c4,#f6d3c4,#f6d4c5,#f6d5c6,#f6d6c8,#f6d8cb,#f6dbcf,#f6dfd5,#f6e5de,#f7ece7,#f7f2f0,#f6f7f7,#f1f4f6,#ecf2f4,#e7eff3,#e0ebf1,#d6e7ef,#cae1ec,#c0dce9,#b7d7e7,#b1d4e6,#acd2e4,#a8d0e3,#a5cee3,#a2cde2,#a0cce1,#9dcae1)"></i><i style="background:linear-gradient(#f5b99e,#f5bba1,#f5bca3,#f5bea5,#f5bfa7,#f5c1aa,#f5c2ac,#f5c4ae,#f5c5b0,#f5c6b2,#f5c8b3,#f5c9b5,#f5cab7,#f5cbb9,#f5cdba,#f5cebc,#f6cfbe,#f6d0bf,#f6d1c1,#f6d2c2,#f6d3c4,#f6d4c5,#f6d5c6,#f6d5c7,#f6d6c8,#f6d7c9,#f6d8cb,#f6dace,#f6ddd3,#f6e2d9,#f6e8e2,#f7efeb,#f7f5f4,#f3f5f6,#eef3f5,#e9f0f4,#e3edf2,#dbe9f0,#d0e4ed,#c4deea,#bad9e8,#b2d5e6,#add2e5,#a9d0e4,#a6cfe3,#a3cee2,#a1cce2,#9fcbe1,#9dcae1)"></i><i style="background:linear-gradient(#f5b99e,#f5baa1,#f5bca3,#f5bea5,#f5bfa7,#f5c1aa,#f5c2ac,#f5c4ae,#f5c5b0,#f5c6b2,#f5c8b4,#f5c9b6,#f5cbb8,#f5ccb9,#f5cdbb,#f6cfbd,#f6d0bf,#f6d1c1,#f6d2c3,#f6d4c5,#f6d5c6,#f6d6c7,#f6d7c9,#f6d8ca,#f6d9cc,#f6dacd,#f6dbd0,#f6ded3,#f6e1d8,#f6e6df,#f7ece7,#f7f2f0,#f6f7f7,#f1f4f5,#ecf1f4,#e6eff3,#dfebf1,#d5e6ef,#c9e0ec,#bddae9,#b4d6e6,#aed3e5,#a9d0e4,#a6cfe3,#a4cee2,#a2cde2,#a0cce2,#9fcbe1,#9dcae1)"></i><i style="background:linear-gradient(#f5b99e,#f5baa0,#f5bca3,#f5bea5,#f5bfa7,#f5c1aa,#f5c2ac,#f5c4ae,#f5c5b0,#f5c7b2,#f5c8b4,#f5cab6,#f5cbb8,#f5ccba,#f5cebc,#f6cfbf,#f6d1c1,#f6d2c3,#f6d4c5,#f6d5c7,#f6d7c9,#f6d8cb,#f6d9cc,#f6dace,#f6dcd0,#f6ddd2,#f6dfd5,#f6e2d9,#f6e5de,#f7eae5,#f7f0ed,#f7f5f5,#f3f5f6,#eef3f5,#e9f0f4,#e3edf2,#dae9f0,#cfe3ed,#c3ddea,#b8d8e7,#b0d4e5,#aad1e4,#a7cfe3,#a4cee2,#a2cde2,#a1cde2,#a0cce2,#9fcce1,#9ecbe1)"></i><i style="background:linear-gradient(#f5b89e,#f5baa0,#f5bca3,#f5bda5,#f5bfa7,#f5c1aa,#f5c2ac,#f5c4ae,#f5c5b0,#f5c7b2,#f5c8b5,#f5cab7,#f5ccb9,#f5cdbb,#f6cfbe,#f6d1c0,#f6d2c3,#f6d4c5,#f6d6c7,#f6d7ca,#f6d9cc,#f6dace,#f6dcd0,#f6ddd2,#f6dfd5,#f6e1d7,#f6e3db,#f6e6df,#f7eae4,#f7eeea,#f7f3f2,#f6f6f7,#f0f4f5,#ebf1f4,#e6eef3,#dfebf1,#d5e6ee,#c9e0ec,#bddae9,#b3d6e6,#add2e5,#a8d0e3,#a5cee3,#a3cde2,#a2cde2,#a1cce2,#a1cce2,#a0cce1,#9ecbe1)"></i><i style="background:linear-gradient(#f5b89d,#f5baa0,#f5bca2,#f5bda5,#f5bfa7,#f5c1aa,#f5c2ac,#f5c4ae,#f5c6b0,#f5c7b3,#f5c9b5,#f5cab7,#f5ccba,#f5cebc,#f6d0bf,#f6d2c2,#f6d4c5,#f6d6c7,#f6d8ca,#f6dacd,#f6dcd0,#f6ddd2,#f6dfd5,#f6e1d7,#f6e3da,#f6e5dd,#f6e7e1,#f7eae5,#f7eeea,#f7f2f0,#f7f6f6,#f3f5f6,#eef2f5,#e8f0f3,#e2edf2,#dae9f0,#cfe3ed,#c3ddea,#b8d8e7,#b0d4e5,#aad1e4,#a6cfe3,#a3cee2,#a2cde2,#a1cce2,#a1cce2,#a1cce2,#a0cce2,#9fcbe1)"></i><i style="background:linear-gradient(#f5b89d,#f5baa0,#f5bca2,#f5bda5,#f5bfa7,#f5c1a9,#f5c2ac,#f5c4ae,#f5c6b1,#f5c7b3,#f5c9b6,#f5cbb8,#f5cdbb,#f6cfbd,#f6d1c0,#f6d3c3,#f6d5c7,#f6d8ca,#f6dace,#f6dcd1,#f6dfd4,#f6e1d7,#f6e3da,#f6e5dd,#f6e7e0,#f6e9e3,#f7ebe6,#f7eeea,#f7f1ef,#f7f5f4,#f5f6f6,#f0f4f5,#ebf1f4,#e5eef3,#deebf1,#d5e6ef,#cae0ec,#bedbe9,#b5d6e7,#add2e5,#a8d0e3,#a5cee3,#a2cde2,#a1cde2,#a1cce2,#a1cce2,#a0cce2,#a0cce1,#9fcbe1)"></i><i style="background:linear-gradient(#f5b89d,#f5ba9f,#f5bba2,#f5bda4,#f5bfa7,#f5c1a9,#f5c2ac,#f5c4ae,#f5c6b1,#f5c8b3,#f5c9b6,#f5cbb9,#f5cdbb,#f6cfbe,#f6d2c2,#f6d4c5,#f6d7c9,#f6dacd,#f6ddd1,#f6dfd5,#f6e2d9,#f6e4dc,#f6e6df,#f6e9e2,#f7ebe5,#f7ede8,#f7efeb,#f7f1ef,#f7f4f3,#f6f7f7,#f2f4f6,#edf2f5,#e8f0f3,#e2edf2,#dae9f0,#d0e4ed,#c5deeb,#bad9e8,#b2d5e6,#abd2e4,#a7cfe3,#a4cee2,#a2cde2,#a1cce2,#a1cce2,#a0cce2,#a0cce2,#a0cce1,#9ecbe1)"></i><i style="background:linear-gradient(#f5b89c,#f5b99f,#f5bba2,#f5bda4,#f5bfa7,#f5c1a9,#f5c2ac,#f5c4af,#f5c6b1,#f5c8b4,#f5cab6,#f5ccb9,#f5cebc,#f6d0bf,#f6d3c3,#f6d5c7,#f6d8cb,#f6dcd0,#f6dfd5,#f6e3da,#f6e6de,#f6e8e2,#f7eae5,#f7ede8,#f7eeeb,#f7f0ed,#f7f2f0,#f7f4f3,#f7f7f7,#f3f5f6,#eff3f5,#ebf1f4,#e5eef3,#dfebf1,#d6e7ef,#cce2ec,#c1dcea,#b7d7e7,#b0d4e5,#aad1e4,#a6cfe3,#a3cde2,#a2cde2,#a1cce2,#a1cce2,#a0cce2,#a0cce1,#9fcce1,#9ecbe1)"></i><i style="background:linear-gradient(#f5b79c,#f5b99f,#f5bba1,#f5bda4,#f5bfa7,#f5c0a9,#f5c2ac,#f5c4af,#f5c6b1,#f5c8b4,#f5cab7,#f5ccba,#f6cebd,#f6d1c0,#f6d3c4,#f6d7c9,#f6dace,#f6ded3,#f6e2d9,#f6e6df,#f7e9e4,#f7ece8,#f7efeb,#f7f0ee,#f7f2f0,#f7f4f2,#f7f5f5,#f7f7f7,#f4f6f6,#f1f4f5,#edf2f5,#e8f0f3,#e3edf2,#dbe9f0,#d2e5ee,#c8e0eb,#bedbe9,#b5d6e7,#aed3e5,#a9d0e4,#a5cfe3,#a3cde2,#a1cde2,#a1cce2,#a0cce2,#a0cce1,#a0cce1,#9fcbe1,#9ecbe1)"></i><i style="background:linear-gradient(#f5b79c,#f5b99e,#f5bba1,#f5bda4,#f5bea6,#f5c0a9,#f5c2ac,#f5c4ae,#f5c6b1,#f5c8b4,#f5cab7,#f5ccba,#f6cfbd,#f6d1c1,#f6d4c5,#f6d8ca,#f6dcd0,#f6e0d7,#f6e5dd,#f7eae4,#f7ede9,#f7f0ed,#f7f2f1,#f7f4f3,#f7f5f5,#f7f6f6,#f6f7f7,#f4f6f6,#f2f5f6,#eff3f5,#ebf1f4,#e6eff3,#e0ecf1,#d8e8ef,#cfe3ed,#c5deeb,#bbdae8,#b4d6e6,#add2e5,#a8d0e4,#a5cee3,#a3cde2,#a1cde2,#a1cce2,#a0cce2,#a0cce1,#9fcce1,#9ecbe1,#9dcbe1)"></i><i style="background:linear-gradient(#f5b79b,#f5b89e,#f5baa0,#f5bca3,#f5bea6,#f5c0a9,#f5c2ab,#f5c4ae,#f5c6b1,#f5c8b4,#f5cab7,#f5cdba,#f6cfbe,#f6d2c2,#f6d5c7,#f6d9cc,#f6ddd3,#f6e3da,#f6e8e2,#f7ede9,#f7f1ef,#f7f4f3,#f7f6f6,#f7f7f7,#f6f6f7,#f5f6f7,#f4f6f6,#f3f5f6,#f0f4f5,#edf2f5,#e9f0f4,#e4eef2,#ddeaf1,#d5e6ef,#cce2ec,#c3ddea,#bad9e8,#b2d5e6,#add2e5,#a8d0e3,#a5cee3,#a3cde2,#a1cde2,#a1cce2,#a0cce1,#9fcce1,#9fcbe1,#9ecbe1,#9dcae1)"></i><i style="background:linear-gradient(#f5b69b,#f5b89d,#f5baa0,#f5bca3,#f5bea5,#f5c0a8,#f5c2ab,#f5c4ae,#f5c6b1,#f5c8b4,#f5cab7,#f5cdbb,#f6cfbe,#f6d2c3,#f6d6c8,#f6dace,#f6dfd5,#f6e5de,#f7ebe6,#f7f1ef,#f7f5f5,#f6f6f7,#f4f6f6,#f3f5f6,#f3f5f6,#f3f5f6,#f3f5f6,#f2f4f6,#f0f3f5,#ecf2f4,#e8eff3,#e2edf2,#dbe9f0,#d3e5ee,#cae1ec,#c1dcea,#b9d8e8,#b2d5e6,#acd2e5,#a8d0e3,#a5cee3,#a3cde2,#a1cde2,#a0cce2,#a0cce1,#9fcbe1,#9ecbe1,#9ecbe1,#9dcae1)"></i><i style="background:linear-gradient(#f5b69a,#f5b89d,#f5ba9f,#f5bca2,#f5bda5,#f5bfa8,#f5c2ab,#f5c4ae,#f5c6b1,#f5c8b4,#f5cab7,#f5cdbb,#f6d0bf,#f6d3c3,#f6d6c9,#f6dbcf,#f6e1d7,#f6e8e1,#f7eeeb,#f7f4f3,#f5f6f6,#f2f5f6,#f1f4f5,#f1f4f6,#f2f4f6,#f2f5f6,#f3f5f6,#f2f4f6,#f0f3f5,#ecf1f4,#e7eff3,#e0ecf1,#d9e8f0,#d1e4ee,#c8e0eb,#bfdbe9,#b8d8e7,#b1d5e6,#acd2e4,#a8d0e3,#a5cee3,#a3cde2,#a1cce2,#a0cce1,#9fcce1,#9fcbe1,#9ecbe1,#9dcbe1,#9ccae1)"></i><i style="background:linear-gradient(#f5b599,#f5b79c,#f5b99f,#f5bba1,#f5bda4,#f5bfa7,#f5c1aa,#f5c3ad,#f5c6b1,#f5c8b4,#f5cab7,#f5cdbb,#f6d0bf,#f6d3c4,#f6d7ca,#f6dcd1,#f6e2d9,#f7eae4,#f7f1ee,#f7f7f7,#f2f4f6,#eff3f5,#eff3f5,#f0f3f5,#f1f4f6,#f3f5f6,#f3f5f6,#f3f5f6,#f0f4f5,#ecf2f4,#e6eff3,#dfebf1,#d7e7ef,#cfe3ed,#c7dfeb,#bfdbe9,#b8d8e7,#b1d5e6,#acd2e5,#a8d0e3,#a5cee3,#a3cde2,#a1cce2,#a0cce1,#9fcbe1,#9ecbe1,#9ecbe1,#9dcae1,#9ccae0)"></i><i style="background:linear-gradient(#f5b599,#f5b79b,#f5b99e,#f5bba1,#f5bca3,#f5bfa6,#f5c1a9,#f5c3ad,#f5c5b0,#f5c8b4,#f5cab7,#f5cdbb,#f6d0c0,#f6d4c5,#f6d8cb,#f6ddd2,#f6e3db,#f7ebe6,#f7f2f1,#f5f6f6,#f0f4f5,#eef2f5,#eef2f5,#eff3f5,#f2f4f6,#f4f5f6,#f5f6f7,#f5f6f6,#f2f5f6,#edf2f5,#e6eff3,#deebf1,#d6e6ef,#cde2ed,#c6dfeb,#bedbe9,#b8d8e7,#b2d5e6,#add2e5,#a8d0e4,#a5cee3,#a2cde2,#a1cce2,#a0cce1,#9fcbe1,#9ecbe1,#9dcbe1,#9dcae1,#9ccae0)"></i><i style="background:linear-gradient(#f5b498,#f5b69b,#f5b89d,#f5baa0,#f5bca3,#f5bea6,#f5c0a9,#f5c2ac,#f5c5af,#f5c7b3,#f5cab7,#f5cdbb,#f6d0c0,#f6d4c5,#f6d9cc,#f6ded3,#f6e4dc,#f7ece7,#f7f3f1,#f4f6f6,#eff3f5,#edf2f5,#edf2f5,#f0f3f5,#f3f5f6,#f6f6f7,#f7f7f6,#f7f7f6,#f4f6f6,#eef3f5,#e6eff3,#ddeaf1,#d4e6ee,#cce2ec,#c5deeb,#bedbe9,#b8d8e7,#b2d5e6,#add2e5,#a9d0e4,#a5cfe3,#a3cde2,#a1cce2,#9fcce1,#9fcbe1,#9ecbe1,#9dcbe1,#9ccae1,#9bcae0)"></i><i style="background:linear-gradient(#f5b497,#f5b69a,#f5b79c,#f5b99f,#f5bba2,#f5bda5,#f5bfa8,#f5c2ab,#f5c4af,#f5c7b3,#f5cab7,#f5cdbb,#f6d1c0,#f6d5c6,#f6d9cc,#f6ded4,#f6e5dd,#f7ece7,#f7f2f1,#f5f6f7,#f0f4f5,#eef3f5,#eff3f5,#f2f4f6,#f6f6f7,#f7f6f5,#f7f4f3,#f7f4f3,#f7f7f7,#f0f3f5,#e6eff3,#dceaf0,#d3e5ee,#cbe1ec,#c5deeb,#bedbe9,#b8d8e7,#b3d5e6,#aed3e5,#a9d0e4,#a6cfe3,#a3cde2,#a0cce2,#9fcce1,#9ecbe1,#9ecbe1,#9dcae1,#9ccae0,#9bcae0)"></i><i style="background:linear-gradient(#f5b396,#f5b599,#f5b79b,#f5b99e,#f5baa1,#f5bca3,#f5bfa7,#f5c1aa,#f5c4ae,#f5c7b2,#f5cab6,#f5cdbb,#f6d1c1,#f6d5c7,#f6dacd,#f6dfd4,#f6e5dd,#f7ebe5,#f7f0ee,#f7f6f5,#f4f5f6,#f1f4f6,#f2f5f6,#f6f6f7,#f7f5f4,#f7f3f1,#f7f2f0,#f7f2f1,#f7f6f5,#f1f4f5,#e6eff3,#dbe9f0,#d2e5ee,#cbe1ec,#c5deeb,#bfdbe9,#b9d8e8,#b3d5e6,#aed3e5,#aad1e4,#a6cfe3,#a3cde2,#a0cce2,#9fcbe1,#9ecbe1,#9dcbe1,#9dcae1,#9ccae0,#9bc9e0)"></i><i style="background:linear-gradient(#f4b295,#f5b498,#f5b69a,#f5b89d,#f5ba9f,#f5bca2,#f5bea5,#f5c0a9,#f5c3ad,#f5c6b1,#f5c9b6,#f5cdbb,#f6d1c1,#f6d6c7,#f6dace,#f6dfd5,#f6e4dc,#f6e9e2,#f7ede8,#f7f1ee,#f7f4f3,#f7f6f5,#f7f5f4,#f7f3f1,#f7f1ee,#f7f0ec,#f7f0ed,#f7f1ef,#f7f5f4,#f1f4f6,#e6eff3,#dbe9f0,#d2e5ee,#cbe1ec,#c5deeb,#bfdbe9,#b9d9e8,#b4d6e6,#afd3e5,#aad1e4,#a6cfe3,#a3cde2,#a1cce2,#9fcbe1,#9ecbe1,#9dcae1,#9ccae1,#9ccae0,#9bc9e0)"></i><i style="background:linear-gradient(#f4b294,#f5b497,#f5b599,#f5b79c,#f5b99e,#f5bba1,#f5bda4,#f5bfa8,#f5c2ac,#f5c5b0,#f5c9b5,#f5cdbb,#f6d1c1,#f6d6c8,#f6dace,#f6dfd5,#f6e3da,#f6e6df,#f6e8e2,#f7eae4,#f7ebe6,#f7ebe6,#f7ebe6,#f7ebe6,#f7ebe6,#f7ece7,#f7eeea,#f7f1ee,#f7f6f5,#f0f4f5,#e6eef3,#dbe9f0,#d3e5ee,#cce2ec,#c5deeb,#c0dce9,#bad9e8,#b5d6e7,#b0d4e5,#abd1e4,#a7cfe3,#a3cee2,#a1cce2,#9fcbe1,#9ecbe1,#9dcae1,#9ccae1,#9ccae0,#9bc9e0)"></i><i style="background:linear-gradient(#f4b194,#f5b396,#f5b598,#f5b69b,#f5b89d,#f5baa0,#f5bca3,#f5bfa7,#f5c1ab,#f5c4af,#f5c8b4,#f5ccba,#f6d1c1,#f6d6c8,#f6dbce,#f6dfd4,#f6e2d9,#f6e3db,#f6e4db,#f6e3da,#f6e1d8,#f6e0d6,#f6e0d7,#f6e2da,#f6e5de,#f6e9e2,#f7ece8,#f7f1ef,#f7f7f7,#eff3f5,#e5eef3,#dceaf0,#d4e5ee,#cde2ec,#c6dfeb,#c1dcea,#bbd9e8,#b6d7e7,#b0d4e6,#acd2e4,#a7d0e3,#a4cee2,#a1cce2,#9fcbe1,#9ecbe1,#9dcae1,#9ccae1,#9ccae0,#9bcae0)"></i><i style="background:linear-gradient(#f4b193,#f4b395,#f5b498,#f5b69a,#f5b89d,#f5ba9f,#f5bca2,#f5bea6,#f5c1a9,#f5c4ae,#f5c7b3,#f5ccb9,#f6d1c0,#f6d6c8,#f6dbce,#f6ded4,#f6e1d7,#f6e1d8,#f6e0d6,#f6ddd2,#f6dacd,#f6d7c9,#f6d8cb,#f6dcd1,#f6e1d8,#f6e6df,#f7ece7,#f7f2ef,#f6f6f7,#edf2f5,#e5eef2,#dceaf0,#d4e6ee,#cee2ed,#c7dfeb,#c1dcea,#bcdae8,#b6d7e7,#b1d4e6,#acd2e5,#a8d0e3,#a4cee3,#a1cde2,#9fcce1,#9ecbe1,#9dcbe1,#9dcae1,#9ccae1,#9ccae0)"></i><i style="background:linear-gradient(#f4b192,#f4b295,#f5b497,#f5b599,#f5b79c,#f5b99f,#f5bba2,#f5bda5,#f5c0a9,#f5c3ad,#f5c7b2,#f5cbb9,#f6d0c0,#f6d5c7,#f6dace,#f6ded3,#f6e0d6,#f6e0d6,#f6ded3,#f6dbce,#f6d7c9,#f6d4c6,#f6d5c7,#f6d9cd,#f6dfd4,#f6e5dd,#f7ebe6,#f7f2f0,#f5f6f6,#edf2f4,#e5eef2,#ddeaf1,#d5e6ef,#cfe3ed,#c8e0eb,#c2ddea,#bddae9,#b7d7e7,#b2d5e6,#add2e5,#a9d0e4,#a5cee3,#a2cde2,#a0cce1,#9fcbe1,#9ecbe1,#9dcbe1,#9dcae1,#9ccae1)"></i><i style="background:linear-gradient(#f4b092,#f4b294,#f5b397,#f5b599,#f5b79c,#f5b99e,#f5bba1,#f5bda4,#f5c0a8,#f5c3ac,#f5c6b2,#f5cbb8,#f6d0bf,#f6d5c6,#f6dacd,#f6ded3,#f6e0d6,#f6dfd5,#f6ddd3,#f6dace,#f6d7ca,#f6d6c7,#f6d6c8,#f6dacd,#f6dfd4,#f6e5dd,#f7ebe7,#f7f2f1,#f4f6f6,#ecf2f4,#e5eef2,#ddeaf1,#d6e7ef,#d0e3ed,#c9e0ec,#c3ddea,#bddbe9,#b8d8e7,#b3d5e6,#aed3e5,#a9d1e4,#a6cfe3,#a3cde2,#a0cce2,#9fcbe1,#9ecbe1,#9ecbe1,#9ecbe1,#9dcbe1)"></i><i style="background:linear-gradient(#f4b092,#f4b294,#f5b397,#f5b599,#f5b79b,#f5b99e,#f5bba1,#f5bda4,#f5bfa8,#f5c2ac,#f5c6b1,#f5cab7,#f6cfbe,#f6d4c6,#f6d9cc,#f6ddd2,#f6dfd5,#f6e0d6,#f6ded3,#f6dcd0,#f6d9cd,#f6d8cb,#f6d9cc,#f6dbd0,#f6e0d6,#f6e5de,#f7ece7,#f7f3f1,#f4f6f6,#ecf2f4,#e5eef3,#deebf1,#d7e7ef,#d1e4ed,#cae1ec,#c4deea,#bedbe9,#b9d8e8,#b4d6e6,#afd3e5,#aad1e4,#a6cfe3,#a3cee2,#a1cce2,#a0cce1,#9fcbe1,#9fcbe1,#9fcbe1,#9ecbe1)"></i><i style="background:linear-gradient(#f4b092,#f4b294,#f5b397,#f5b599,#f5b79b,#f5b99e,#f5bba1,#f5bda4,#f5bfa8,#f5c2ac,#f5c6b1,#f5cab7,#f6cfbe,#f6d4c5,#f6d8cb,#f6dcd1,#f6dfd4,#f6e0d6,#f6dfd5,#f6ddd2,#f6dcd0,#f6dbcf,#f6dbd0,#f6ded3,#f6e1d8,#f6e6df,#f7ece8,#f7f3f1,#f4f6f6,#edf2f4,#e6eef3,#dfebf1,#d8e8ef,#d1e4ee,#cbe1ec,#c5deeb,#bfdbe9,#bad9e8,#b4d6e7,#afd4e5,#abd1e4,#a7d0e3,#a4cee2,#a2cde2,#a0cce2,#9fcce1,#9fcce1,#9fcce1,#9ecbe1)"></i><i style="background:linear-gradient(#f4b092,#f4b294,#f5b497,#f5b599,#f5b79c,#f5b99e,#f5bba1,#f5bda5,#f5c0a8,#f5c3ac,#f5c6b1,#f5cab7,#f6cebd,#f6d3c4,#f6d7ca,#f6dbcf,#f6ded3,#f6dfd5,#f6e0d6,#f6dfd5,#f6ded3,#f6ddd3,#f6ded3,#f6e0d5,#f6e3da,#f6e7e0,#f7ede8,#f7f3f1,#f5f6f6,#edf2f5,#e6eff3,#dfebf1,#d8e8ef,#d2e5ee,#cce2ec,#c6dfeb,#c0dce9,#bad9e8,#b5d6e7,#b0d4e5,#acd2e4,#a8d0e3,#a5cee3,#a2cde2,#a1cce2,#a0cce1,#a0cce1,#9fcce1,#9fcbe1)"></i><i style="background:linear-gradient(#f4b193,#f4b295,#f5b497,#f5b69a,#f5b79c,#f5b99f,#f5bba2,#f5bea5,#f5c0a9,#f5c3ad,#f5c6b1,#f5cab7,#f6cebd,#f6d2c3,#f6d6c9,#f6dace,#f6ddd1,#f6dfd4,#f6dfd5,#f6e0d6,#f6dfd5,#f6dfd5,#f6dfd5,#f6e1d7,#f6e4db,#f6e8e1,#f7ede8,#f7f3f1,#f5f6f7,#eef2f5,#e7eff3,#e0ebf1,#d9e8f0,#d2e5ee,#cce2ec,#c6dfeb,#c0dce9,#bbd9e8,#b6d7e7,#b1d4e6,#add2e5,#a9d0e4,#a6cfe3,#a3cee2,#a1cde2,#a0cce2,#a0cce1,#9fcce1,#9fcbe1)"></i><i style="background:linear-gradient(#f4b193,#f5b396,#f5b498,#f5b69b,#f5b89d,#f5baa0,#f5bca3,#f5bea6,#f5c1aa,#f5c4ae,#f5c7b2,#f5cab7,#f5cebc,#f6d2c2,#f6d5c7,#f6d9cc,#f6dbcf,#f6ddd2,#f6ded4,#f6dfd5,#f6dfd5,#f6e0d6,#f6e0d6,#f6e1d8,#f6e4db,#f6e8e1,#f7ede9,#f7f3f1,#f5f6f7,#eef2f5,#e7eff3,#e0ecf1,#d9e8f0,#d3e5ee,#cde2ec,#c7dfeb,#c1dcea,#bbd9e8,#b6d7e7,#b2d5e6,#add3e5,#aad1e4,#a7cfe3,#a4cee2,#a2cde2,#a1cce2,#a0cce1,#9fcce1,#9fcbe1)"></i><i style="background:linear-gradient(#f4b194,#f5b396,#f5b599,#f5b79b,#f5b99e,#f5bba1,#f5bda4,#f5bfa7,#f5c2ab,#f5c4af,#f5c7b3,#f5cab7,#f5cebc,#f6d1c1,#f6d4c6,#f6d7ca,#f6dacd,#f6dcd0,#f6ddd2,#f6ded3,#f6ded4,#f6dfd4,#f6dfd5,#f6e0d7,#f6e3db,#f6e8e1,#f7ede9,#f7f3f1,#f5f6f6,#eef2f5,#e7eff3,#e0ecf1,#d9e8f0,#d3e5ee,#cde2ed,#c7dfeb,#c1dcea,#bcdae8,#b7d7e7,#b2d5e6,#aed3e5,#abd1e4,#a8d0e3,#a5cee3,#a3cde2,#a2cde2,#a1cce2,#a0cce1,#9fcce1)"></i><i style="background:linear-gradient(#f4b295,#f5b497,#f5b69a,#f5b79c,#f5b99f,#f5bba2,#f5bea5,#f5c0a8,#f5c2ac,#f5c5b0,#f5c8b4,#f5cbb8,#f5cebc,#f6d1c0,#f6d3c4,#f6d6c8,#f6d8cb,#f6dacd,#f6dbcf,#f6dcd0,#f6dcd1,#f6ddd2,#f6ded3,#f6dfd5,#f6e2da,#f6e7e1,#f7ede9,#f7f3f2,#f4f6f6,#edf2f5,#e6eff3,#e0ebf1,#d9e8f0,#d3e5ee,#cde2ed,#c7dfeb,#c1dcea,#bcdae8,#b7d7e7,#b3d5e6,#afd3e5,#abd2e4,#a8d0e4,#a6cfe3,#a4cee2,#a3cde2,#a1cde2,#a1cce2,#a0cce1)"></i><i style="background:linear-gradient(#f4b395,#f5b498,#f5b69b,#f5b89d,#f5baa0,#f5bca3,#f5bea6,#f5c1aa,#f5c3ad,#f5c6b1,#f5c8b4,#f5cbb8,#f5cebc,#f6d0c0,#f6d3c3,#f6d5c6,#f6d7c9,#f6d8cb,#f6d9cd,#f6dace,#f6dbcf,#f6dbd0,#f6dcd1,#f6ded4,#f6e2d9,#f6e8e1,#f7eeea,#f7f4f3,#f3f5f6,#ecf2f4,#e6eef3,#dfebf1,#d9e8f0,#d2e5ee,#cce2ec,#c6dfeb,#c1dcea,#bcdae8,#b7d7e7,#b3d5e6,#afd3e5,#acd2e4,#a9d0e4,#a7cfe3,#a5cee3,#a4cee2,#a2cde2,#a1cde2,#a1cce2)"></i><i style="background:linear-gradient(#f5b396,#f5b599,#f5b79c,#f5b99f,#f5bba1,#f5bda4,#f5bfa8,#f5c2ab,#f5c4ae,#f5c6b2,#f5c9b5,#f5cbb8,#f5cdbc,#f6d0bf,#f6d2c2,#f6d4c5,#f6d6c7,#f6d7c9,#f6d8cb,#f6d9cc,#f6dacd,#f6dbcf,#f6dcd1,#f6dfd4,#f6e3db,#f6e9e3,#f7f0ec,#f7f6f5,#f1f4f6,#ebf1f4,#e4eef2,#deebf1,#d8e8ef,#d2e5ee,#cce2ec,#c6dfeb,#c0dce9,#bbd9e8,#b7d7e7,#b3d5e6,#afd4e5,#acd2e5,#aad1e4,#a8d0e3,#a6cfe3,#a5cee3,#a4cee2,#a2cde2,#a1cde2)"></i><i style="background:linear-gradient(#f5b497,#f5b69a,#f5b89d,#f5baa0,#f5bca3,#f5bea6,#f5c0a9,#f5c2ac,#f5c5af,#f5c7b2,#f5c9b6,#f5cbb9,#f5cdbc,#f6cfbe,#f6d1c1,#f6d3c4,#f6d5c6,#f6d6c8,#f6d7ca,#f6d8cb,#f6dacd,#f6dbcf,#f6ddd2,#f6e0d6,#f6e5de,#f7ebe6,#f7f2f0,#f6f6f7,#eff3f5,#e9f0f4,#e3edf2,#ddeaf1,#d7e7ef,#d1e4ee,#cbe1ec,#c5deeb,#c0dce9,#bbd9e8,#b7d7e7,#b3d5e6,#b0d4e5,#add2e5,#abd1e4,#a9d0e4,#a7cfe3,#a6cfe3,#a5cee3,#a4cee2,#a2cde2)"></i><i style="background:linear-gradient(#f5b598,#f5b69b,#f5b89e,#f5baa1,#f5bda4,#f5bfa7,#f5c1aa,#f5c3ad,#f5c5b0,#f5c7b3,#f5c9b6,#f5cbb9,#f5cdbb,#f6cfbe,#f6d1c1,#f6d2c3,#f6d4c5,#f6d5c7,#f6d7c9,#f6d8cb,#f6dace,#f6dcd0,#f6dfd4,#f6e3da,#f6e8e2,#f7eeea,#f7f4f3,#f3f5f6,#edf2f5,#e7eff3,#e2ecf2,#dceaf0,#d6e7ef,#d0e4ed,#cae1ec,#c4deea,#bfdbe9,#bad9e8,#b6d7e7,#b3d5e6,#b0d4e5,#add3e5,#abd2e4,#aad1e4,#a8d0e3,#a7cfe3,#a6cfe3,#a5cee3,#a4cee2)"></i><i style="background:linear-gradient(#f5b599,#f5b79c,#f5b99f,#f5bba2,#f5bda5,#f5bfa8,#f5c1ab,#f5c4ae,#f5c6b1,#f5c8b4,#f5cab6,#f5ccb9,#f5cdbb,#f6cfbe,#f6d1c0,#f6d2c2,#f6d4c5,#f6d5c7,#f6d7c9,#f6d9cc,#f6dbcf,#f6ded3,#f6e1d8,#f6e5de,#f7ebe6,#f7f1ef,#f7f7f7,#f1f4f5,#ebf1f4,#e6eef3,#e0ecf1,#dbe9f0,#d5e6ee,#cee3ed,#c8e0eb,#c3ddea,#bedbe9,#b9d8e8,#b6d7e7,#b2d5e6,#b0d4e5,#aed3e5,#acd2e4,#aad1e4,#a9d0e4,#a8d0e3,#a7cfe3,#a6cfe3,#a5cee3)"></i><i style="background:linear-gradient(#f5b69a,#f5b89d,#f5baa0,#f5bca3,#f5bea5,#f5c0a8,#f5c2ab,#f5c4ae,#f5c6b1,#f5c8b4,#f5cab7,#f5ccb9,#f5cdbb,#f6cfbe,#f6d0c0,#f6d2c2,#f6d4c4,#f6d5c7,#f6d7c9,#f6d9cd,#f6dcd1,#f6dfd5,#f6e3db,#f6e8e2,#f7eeea,#f7f4f2,#f4f6f6,#eef3f5,#e9f0f4,#e4eef2,#dfebf1,#d9e8f0,#d3e5ee,#cde2ed,#c7dfeb,#c1dcea,#bcdae9,#b8d8e7,#b5d6e7,#b2d5e6,#b0d4e5,#aed3e5,#acd2e4,#abd1e4,#aad1e4,#a9d0e4,#a8d0e3,#a7cfe3,#a6cfe3)"></i><i style="background:linear-gradient(#f5b69b,#f5b89e,#f5baa0,#f5bca3,#f5bea6,#f5c0a9,#f5c2ac,#f5c4af,#f5c6b2,#f5c8b4,#f5cab7,#f5ccb9,#f5cdbc,#f6cfbe,#f6d0c0,#f6d2c2,#f6d4c5,#f6d5c7,#f6d7ca,#f6dace,#f6ddd2,#f6e1d7,#f6e5de,#f7eae5,#f7f0ed,#f7f6f5,#f2f5f6,#edf2f4,#e8eff3,#e3edf2,#deebf1,#d8e8ef,#d2e5ee,#cbe1ec,#c5deeb,#c0dce9,#bbd9e8,#b7d8e7,#b4d6e6,#b2d5e6,#b0d4e5,#aed3e5,#add2e5,#acd2e4,#abd1e4,#aad1e4,#a9d0e4,#a8d0e3,#a7cfe3)"></i><i style="background:linear-gradient(#f5b79b,#f5b99e,#f5bba1,#f5bda4,#f5bfa7,#f5c1aa,#f5c3ad,#f5c5af,#f5c7b2,#f5c9b5,#f5cab7,#f5ccba,#f5cebc,#f6cfbe,#f6d1c0,#f6d2c3,#f6d4c5,#f6d6c8,#f6d8cb,#f6dace,#f6ded3,#f6e2d8,#f6e7e0,#f7ece8,#f7f2f0,#f6f7f7,#f0f4f5,#ebf1f4,#e6eff3,#e1ecf2,#ddeaf0,#d7e7ef,#d1e4ed,#cae1ec,#c4deea,#bedbe9,#bad9e8,#b7d7e7,#b4d6e6,#b2d5e6,#b0d4e5,#aed3e5,#add2e5,#acd2e4,#abd1e4,#aad1e4,#aad1e4,#a9d0e4,#a7d0e3)"></i><i style="background:linear-gradient(#f5b79c,#f5b99f,#f5bba2,#f5bda5,#f5bfa7,#f5c1aa,#f5c3ad,#f5c5b0,#f5c7b2,#f5c9b5,#f5cab7,#f5ccba,#f5cebc,#f6cfbe,#f6d1c1,#f6d3c3,#f6d4c6,#f6d6c9,#f6d9cc,#f6dbd0,#f6ded4,#f6e3da,#f6e8e1,#f7ede9,#f7f3f2,#f5f6f7,#eff3f5,#eaf1f4,#e5eef3,#e0ecf1,#dbe9f0,#d6e6ef,#cfe3ed,#c9e0ec,#c3ddea,#bedbe9,#b9d9e8,#b6d7e7,#b4d6e6,#b2d5e6,#b0d4e5,#afd3e5,#add3e5,#acd2e5,#acd2e4,#abd1e4,#aad1e4,#a9d0e4,#a8d0e3)"></i></div></div>
<div class="p" style="left:29px;top:294px;width:137px;height:137px"><div style="height:144px;width:144px"><i style="background:linear-gradient(#9ecbe1,#9dcbe1,#9ccae0,#9bc9e0,#99c9e0,#98c8e0,#97c8df,#96c7df,#95c7df,#94c6df,#93c6de,#92c5de,#92c5de,#91c4de,#90c4dd,#8fc3dd,#8fc3dd,#8fc3dd,#8fc3dd,#8fc3dd,#8fc3dd,#8ec3dd,#8ec2dd,#8dc2dc,#8dc2dc,#8dc2dc,#8dc2dc,#8dc2dc,#8dc2dc,#8dc2dc,#8dc2dc,#8ec2dd,#8ec3dd,#8ec3dd,#8fc3dd,#8fc3dd,#90c4dd,#91c4de,#91c5de,#92c5de,#93c5de,#93c6de,#94c6df,#95c6df,#96c7df,#96c7df,#97c8df,#98c8df,#98c8df)"></i><i style="background:linear-gradient(#9fcbe1,#9ecbe1,#9ccae1,#9bc9e0,#9ac9e0,#99c8e0,#97c8df,#96c7df,#95c7df,#94c6df,#93c6de,#92c5de,#91c5de,#90c4dd,#8fc3dd,#8fc3dd,#8ec3dd,#8ec2dd,#8ec2dd,#8ec2dd,#8dc2dd,#8dc2dc,#8cc2dc,#8cc1dc,#8cc1dc,#8cc1dc,#8cc1dc,#8cc2dc,#8dc2dc,#8dc2dc,#8ec2dd,#8ec3dd,#8ec3dd,#8fc3dd,#8fc3dd,#90c4dd,#90c4dd,#91c4de,#92c5de,#92c5de,#93c5de,#94c6de,#94c6df,#95c7df,#96c7df,#97c7df,#98c8df,#98c8df,#98c8e0)"></i><i style="background:linear-gradient(#9fcce1,#9ecbe1,#9dcae1,#9ccae0,#9ac9e0,#99c9e0,#98c8df,#97c7df,#96c7df,#95c6df,#94c6de,#93c5de,#91c5de,#90c4dd,#8fc3dd,#8dc2dc,#8cc2dc,#8cc1dc,#8cc1dc,#8cc1dc,#8bc1dc,#8bc1dc,#8ac0db,#8ac0db,#8bc1dc,#8bc1dc,#8cc1dc,#8cc1dc,#8dc2dc,#8dc2dc,#8ec2dd,#8ec3dd,#8fc3dd,#8fc3dd,#90c4dd,#90c4dd,#91c4de,#91c5de,#92c5de,#93c5de,#93c6de,#94c6de,#95c6df,#95c7df,#96c7df,#97c7df,#98c8df,#98c8e0,#99c8e0)"></i><i style="background:linear-gradient(#a0cce1,#9fcbe1,#9dcbe1,#9ccae1,#9bc9e0,#9ac9e0,#99c8e0,#98c8df,#96c7df,#95c7df,#94c6df,#93c5de,#92c5de,#90c4dd,#8ec3dd,#8cc2dc,#8bc1dc,#89c0db,#89bfdb,#88bfdb,#88bfdb,#88bfdb,#88bfdb,#88bfdb,#89c0db,#8ac0db,#8bc1dc,#8cc1dc,#8dc2dc,#8ec2dd,#8ec3dd,#8fc3dd,#8fc3dd,#90c4dd,#90c4dd,#91c4de,#91c5de,#92c5de,#92c5de,#93c5de,#93c6de,#94c6de,#95c6df,#95c7df,#96c7df,#97c7df,#98c8df,#98c8e0,#99c8e0)"></i><i style="background:linear-gradient(#a1cce2,#9fcce1,#9ecbe1,#9dcae1,#9ccae0,#9bc9e0,#9ac9e0,#98c8e0,#97c8df,#96c7df,#95c6df,#93c6de,#92c5de,#90c4dd,#8ec2dd,#8bc1dc,#89c0db,#87beda,#85bdda,#84bdd9,#83bcd9,#84bdd9,#85bdda,#87beda,#88bfdb,#8ac0db,#8bc1dc,#8cc2dc,#8dc2dc,#8ec3dd,#8fc3dd,#90c4dd,#90c4dd,#91c4de,#91c5de,#92c5de,#92c5de,#92c5de,#93c5de,#93c6de,#94c6de,#94c6df,#95c6df,#96c7df,#96c7df,#97c8df,#98c8df,#98c8e0,#99c8e0)"></i><i style="background:linear-gradient(#a2cde2,#a0cce2,#9fcce1,#9ecbe1,#9dcae1,#9ccae0,#9bc9e0,#9ac9e0,#98c8e0,#97c8df,#96c7df,#94c6df,#93c5de,#91c4de,#8ec3dd,#8bc1dc,#88bfdb,#84bdda,#81bbd9,#7fbad8,#7fbad8,#81bbd8,#83bcd9,#85beda,#88bfdb,#8ac0db,#8bc1dc,#8dc2dc,#8ec3dd,#8fc3dd,#90c4dd,#91c4de,#92c5de,#92c5de,#92c5de,#92c5de,#93c5de,#93c5de,#93c6de,#93c6de,#94c6de,#94c6df,#95c7df,#96c7df,#97c7df,#97c8df,#98c8df,#99c8e0,#99c9e0)"></i><i style="background:linear-gradient(#a4cee2,#a2cde2,#a1cce2,#a0cce1,#9fcbe1,#9dcbe1,#9ccae1,#9bcae0,#9ac9e0,#99c8e0,#97c8df,#96c7df,#94c6df,#92c5de,#8fc3dd,#8cc1dc,#88bfdb,#84bdd9,#80bad8,#7db8d7,#7db8d7,#7fbad8,#82bcd9,#85beda,#88bfdb,#8ac1dc,#8cc2dc,#8ec2dd,#8fc3dd,#90c4dd,#91c5de,#92c5de,#93c5de,#93c6de,#93c6de,#93c6de,#93c6de,#94c6de,#94c6de,#94c6de,#94c6df,#95c6df,#95c7df,#96c7df,#97c7df,#98c8df,#98c8e0,#99c8e0,#9ac9e0)"></i><i style="background:linear-gradient(#a6cfe3,#a5cee3,#a3cee2,#a2cde2,#a1cce2,#9fcce1,#9ecbe1,#9dcae1,#9ccae0,#9bc9e0,#99c9e0,#98c8df,#96c7df,#94c6df,#92c5de,#8ec3dd,#8ac0db,#86beda,#81bbd9,#7eb9d7,#7eb9d7,#80bbd8,#84bcd9,#87beda,#8ac0db,#8cc1dc,#8ec3dd,#8fc3dd,#91c4de,#92c5de,#93c5de,#94c6de,#94c6df,#94c6df,#95c6df,#95c6df,#94c6df,#94c6df,#94c6df,#95c6df,#95c6df,#95c7df,#96c7df,#97c7df,#97c8df,#98c8e0,#99c8e0,#9ac9e0,#9ac9e0)"></i><i style="background:linear-gradient(#a9d0e4,#a7d0e3,#a6cfe3,#a4cee3,#a3cde2,#a2cde2,#a1cce2,#9fcce1,#9ecbe1,#9dcae1,#9ccae0,#9ac9e0,#99c8e0,#97c7df,#95c6df,#92c5de,#8ec3dd,#8ac0db,#86beda,#84bdd9,#83bcd9,#85bdda,#87bfda,#8ac0db,#8cc2dc,#8ec3dd,#90c4dd,#92c5de,#93c5de,#94c6de,#95c6df,#95c7df,#96c7df,#96c7df,#96c7df,#96c7df,#96c7df,#95c7df,#95c7df,#95c7df,#96c7df,#96c7df,#97c7df,#98c8df,#98c8e0,#99c8e0,#9ac9e0,#9bc9e0,#9bcae0)"></i><i style="background:linear-gradient(#acd2e4,#aad1e4,#a9d0e4,#a7d0e3,#a6cfe3,#a5cee3,#a3cee2,#a2cde2,#a1cce2,#a0cce1,#9fcbe1,#9dcbe1,#9ccae0,#9ac9e0,#99c8e0,#96c7df,#94c6de,#91c4de,#8ec3dd,#8cc1dc,#8bc1dc,#8cc1dc,#8dc2dc,#8fc3dd,#90c4dd,#92c5de,#93c5de,#94c6de,#95c6df,#96c7df,#97c7df,#97c8df,#98c8df,#98c8df,#98c8df,#97c8df,#97c7df,#96c7df,#96c7df,#96c7df,#96c7df,#97c7df,#98c8df,#99c8e0,#9ac9e0,#9ac9e0,#9bc9e0,#9ccae0,#9dcae1)"></i><i style="background:linear-gradient(#afd3e5,#aed3e5,#acd2e4,#aad1e4,#a9d0e4,#a8d0e3,#a6cfe3,#a5cfe3,#a4cee2,#a3cde2,#a2cde2,#a1cce2,#a0cce1,#9ecbe1,#9dcae1,#9bcae0,#99c9e0,#97c8df,#96c7df,#94c6df,#94c6de,#93c6de,#94c6de,#94c6df,#95c6df,#95c7df,#96c7df,#97c7df,#97c8df,#98c8e0,#99c8e0,#9ac9e0,#9ac9e0,#9ac9e0,#9ac9e0,#99c9e0,#98c8e0,#97c8df,#97c7df,#97c7df,#97c8df,#98c8e0,#99c9e0,#9ac9e0,#9bcae0,#9ccae0,#9dcae1,#9dcbe1,#9ecbe1)"></i><i style="background:linear-gradient(#b3d5e6,#b1d4e6,#b0d4e5,#aed3e5,#add2e5,#abd2e4,#aad1e4,#a9d0e4,#a8d0e3,#a7cfe3,#a6cfe3,#a5cee3,#a4cee2,#a3cde2,#a2cde2,#a1cce2,#a0cce1,#9ecbe1,#9dcae1,#9ccae0,#9bc9e0,#9ac9e0,#9ac9e0,#99c9e0,#99c9e0,#99c9e0,#9ac9e0,#9ac9e0,#9ac9e0,#9bc9e0,#9ccae0,#9ccae1,#9ccae1,#9ccae1,#9ccae0,#9bc9e0,#9ac9e0,#98c8e0,#98c8df,#98c8e0,#99c8e0,#9ac9e0,#9bcae0,#9ccae1,#9ecbe1,#9ecbe1,#9fcbe1,#a0cce1,#a1cce2)"></i><i style="background:linear-gradient(#b7d7e7,#b5d6e7,#b4d6e6,#b2d5e6,#b1d4e6,#afd3e5,#aed3e5,#add2e5,#acd2e4,#abd1e4,#aad1e4,#a9d0e4,#a8d0e3,#a7d0e3,#a7cfe3,#a6cfe3,#a5cfe3,#a5cee3,#a4cee2,#a3cde2,#a2cde2,#a1cce2,#a0cce1,#9fcce1,#9fcbe1,#9ecbe1,#9ecbe1,#9ecbe1,#9ecbe1,#9ecbe1,#9ecbe1,#9fcbe1,#9fcbe1,#9fcbe1,#9ecbe1,#9dcae1,#9bc9e0,#99c9e0,#99c8e0,#99c9e0,#9bc9e0,#9ccae0,#9ecbe1,#9fcce1,#a0cce2,#a1cde2,#a2cde2,#a3cde2,#a4cee2)"></i><i style="background:linear-gradient(#bbd9e8,#bad9e8,#b8d8e7,#b6d7e7,#b5d6e7,#b4d6e6,#b2d5e6,#b1d4e6,#b0d4e5,#afd3e5,#aed3e5,#aed3e5,#add2e5,#acd2e5,#acd2e4,#abd2e4,#abd1e4,#abd1e4,#aad1e4,#a9d1e4,#a9d0e4,#a8d0e3,#a7cfe3,#a6cfe3,#a5cfe3,#a5cee3,#a4cee2,#a3cee2,#a3cde2,#a2cde2,#a1cde2,#a1cce2,#a1cce2,#a0cce2,#a0cce1,#9ecbe1,#9ccae0,#9ac9e0,#9ac9e0,#9bcae0,#9dcae1,#9fcbe1,#a1cce2,#a3cde2,#a4cee2,#a5cee3,#a6cfe3,#a6cfe3,#a7d0e3)"></i><i style="background:linear-gradient(#c0dce9,#bedbe9,#bddae9,#bbd9e8,#bad9e8,#b9d8e8,#b7d8e7,#b6d7e7,#b5d6e7,#b4d6e7,#b4d6e6,#b3d5e6,#b2d5e6,#b2d5e6,#b2d5e6,#b1d5e6,#b1d4e6,#b1d4e6,#b1d4e6,#b0d4e6,#b0d4e5,#afd4e5,#afd3e5,#aed3e5,#add3e5,#acd2e5,#abd1e4,#aad1e4,#a8d0e4,#a7cfe3,#a5cee3,#a3cde2,#a1cde2,#a1cce2,#a0cce2,#9ecbe1,#9ccae1,#9ccae0,#9dcae1,#9ecbe1,#a1cce2,#a3cde2,#a5cee3,#a7cfe3,#a8d0e3,#a9d0e4,#aad1e4,#abd1e4,#acd2e4)"></i><i style="background:linear-gradient(#c5deeb,#c3ddea,#c2ddea,#c0dce9,#bfdbe9,#bedbe9,#bddae9,#bcdae8,#bbd9e8,#bad9e8,#bad9e8,#b9d8e8,#b9d8e8,#b8d8e7,#b8d8e7,#b8d8e7,#b8d8e7,#b8d8e7,#b8d8e7,#b8d8e7,#b8d8e8,#b8d8e8,#b8d8e7,#b8d8e7,#b7d7e7,#b6d7e7,#b5d6e7,#b3d5e6,#b0d4e5,#add3e5,#aad1e4,#a6cfe3,#a1cde2,#9fcbe1,#9ecbe1,#9dcbe1,#9dcbe1,#9ecbe1,#a1cce2,#a3cee2,#a6cfe3,#a9d0e4,#abd1e4,#acd2e5,#aed3e5,#aed3e5,#afd3e5,#b0d4e5,#b1d4e6)"></i><i style="background:linear-gradient(#cae1ec,#c8e0eb,#c7dfeb,#c6dfeb,#c5deeb,#c4deea,#c3ddea,#c2ddea,#c2ddea,#c1dcea,#c1dcea,#c0dce9,#c0dce9,#c0dce9,#c0dce9,#c0dce9,#c0dce9,#c1dcea,#c1dcea,#c2ddea,#c3ddea,#c3ddea,#c4deea,#c4deea,#c4deea,#c3ddea,#c1dcea,#bedbe9,#bbd9e8,#b7d7e7,#b2d5e6,#acd2e4,#a5cee3,#a0cce1,#9fcbe1,#a0cce2,#a2cde2,#a5cee3,#a8d0e3,#abd1e4,#add3e5,#b0d4e5,#b2d5e6,#b3d6e6,#b4d6e7,#b5d6e7,#b6d7e7,#b6d7e7,#b8d8e7)"></i><i style="background:linear-gradient(#cfe3ed,#cee3ed,#cde2ec,#cce1ec,#cbe1ec,#cae1ec,#c9e0ec,#c9e0ec,#c9e0ec,#c8e0eb,#c8e0eb,#c8e0eb,#c8e0eb,#c8e0eb,#c8e0eb,#c9e0ec,#c9e0ec,#cae1ec,#cbe1ec,#cce2ec,#cee3ed,#cfe3ed,#d0e4ed,#d1e4ee,#d2e5ee,#d1e4ee,#cfe3ed,#cce2ec,#c8e0eb,#c3ddea,#bedbe9,#b8d8e7,#b1d4e6,#abd1e4,#a9d1e4,#aad1e4,#acd2e4,#afd3e5,#b1d5e6,#b4d6e6,#b6d7e7,#b8d8e7,#bad9e8,#bcdae8,#bddae9,#bddae9,#bddbe9,#bedbe9,#bfdbe9)"></i><i style="background:linear-gradient(#d4e6ee,#d3e5ee,#d2e5ee,#d1e4ee,#d0e4ed,#d0e4ed,#d0e4ed,#d0e3ed,#d0e3ed,#d0e3ed,#d0e3ed,#d0e3ed,#d0e4ed,#d0e4ed,#d1e4ed,#d1e4ee,#d2e5ee,#d4e5ee,#d5e6ef,#d7e7ef,#d8e8ef,#dae9f0,#dce9f0,#ddeaf1,#deebf1,#deebf1,#ddeaf0,#dae9f0,#d6e7ef,#d1e4ee,#cce2ec,#c6dfeb,#c0dce9,#bbd9e8,#b8d8e7,#b8d8e7,#b9d8e8,#bad9e8,#bcdae8,#bedbe9,#c0dce9,#c2ddea,#c3ddea,#c5deeb,#c6dfeb,#c7dfeb,#c7dfeb,#c8e0eb,#c8e0eb)"></i><i style="background:linear-gradient(#d9e8f0,#d8e8ef,#d7e7ef,#d6e7ef,#d6e7ef,#d5e6ef,#d5e6ef,#d5e6ef,#d6e6ef,#d6e7ef,#d6e7ef,#d6e7ef,#d6e7ef,#d7e7ef,#d8e7ef,#d9e8f0,#dae9f0,#dce9f0,#ddeaf1,#dfebf1,#e1ecf1,#e2edf2,#e4eef2,#e6eef3,#e7eff3,#e7eff3,#e6eff3,#e4eef2,#e1ecf2,#ddeaf1,#d8e8ef,#d3e5ee,#cee3ed,#c9e0ec,#c6dfeb,#c5deeb,#c5deeb,#c5deeb,#c7dfeb,#c8e0eb,#c9e0ec,#cbe1ec,#cde2ed,#cee3ed,#d0e4ed,#d1e4ee,#d2e5ee,#d2e5ee,#d1e4ee)"></i><i style="background:linear-gradient(#deebf1,#ddeaf1,#dceaf0,#dbe9f0,#dbe9f0,#dae9f0,#dae9f0,#dae9f0,#dae9f0,#dae9f0,#dae9f0,#dae9f0,#dbe9f0,#dce9f0,#ddeaf0,#deebf1,#e0ebf1,#e1ecf2,#e3edf2,#e5eef3,#e7eff3,#e9f0f3,#eaf1f4,#ecf2f4,#edf2f4,#edf2f5,#edf2f4,#ebf1f4,#e9f0f3,#e6eef3,#e2ecf2,#ddeaf1,#d8e8ef,#d4e6ee,#d1e4ee,#cfe3ed,#cfe3ed,#cfe3ed,#d0e4ed,#d1e4ee,#d2e5ee,#d4e6ee,#d6e6ef,#d7e7ef,#d9e8f0,#dae9f0,#dbe9f0,#dbe9f0,#dae9f0)"></i><i style="background:linear-gradient(#e3edf2,#e2edf2,#e1ecf2,#e0ecf1,#dfebf1,#deebf1,#deeaf1,#ddeaf1,#dceaf0,#dceaf0,#dceaf0,#ddeaf0,#ddeaf1,#dfebf1,#e0ecf1,#e2edf2,#e4eef2,#e6eff3,#e9f0f3,#ebf1f4,#ecf2f4,#eef3f5,#eff3f5,#f0f4f5,#f1f4f6,#f1f4f6,#f1f4f5,#f0f3f5,#eef3f5,#ebf1f4,#e8f0f3,#e5eef2,#e1ecf1,#ddeaf1,#dae9f0,#d8e8ef,#d7e7ef,#d7e7ef,#d8e8ef,#d9e8f0,#dae9f0,#dceaf0,#ddeaf1,#dfebf1,#e0ecf1,#e1ecf2,#e2edf2,#e2edf2,#e1ecf1)"></i><i style="background:linear-gradient(#e8f0f3,#e7eff3,#e6eff3,#e5eef3,#e4eef2,#e3edf2,#e1ecf2,#e0ebf1,#deebf1,#deeaf1,#deeaf1,#dfebf1,#e0ecf1,#e2edf2,#e5eef2,#e7eff3,#eaf0f4,#ecf2f4,#eef3f5,#f0f4f5,#f2f4f6,#f3f5f6,#f3f5f6,#f4f6f6,#f4f6f6,#f4f6f6,#f4f5f6,#f3f5f6,#f2f4f6,#f0f4f5,#eef2f5,#ebf1f4,#e8eff3,#e5eef2,#e2edf2,#e0ecf1,#dfebf1,#dfebf1,#e0ebf1,#e0ecf1,#e2ecf2,#e3edf2,#e4eef2,#e5eef3,#e6eff3,#e7eff3,#e7eff3,#e7eff3,#e6eff3)"></i><i style="background:linear-gradient(#eef2f5,#edf2f4,#ecf1f4,#ebf1f4,#e9f0f4,#e8f0f3,#e6eff3,#e4eef2,#e2edf2,#e1ecf2,#e1ecf2,#e3edf2,#e6eff3,#e9f0f4,#edf2f4,#f0f3f5,#f3f5f6,#f5f6f6,#f6f7f7,#f7f7f7,#f7f6f6,#f7f6f6,#f7f6f6,#f7f7f7,#f7f7f7,#f7f7f7,#f7f7f7,#f6f6f7,#f5f6f7,#f4f5f6,#f2f5f6,#f0f4f5,#eef3f5,#ecf1f4,#eaf0f4,#e8f0f3,#e7eff3,#e7eff3,#e7eff3,#e7eff3,#e8f0f3,#e9f0f4,#eaf0f4,#ebf1f4,#ebf1f4,#ecf1f4,#ecf2f4,#ecf1f4,#ebf1f4)"></i><i style="background:linear-gradient(#f4f5f6,#f3f5f6,#f2f5f6,#f2f4f6,#f1f4f5,#eff3f5,#edf2f5,#ebf1f4,#eaf0f4,#e9f0f4,#eaf1f4,#eef2f5,#f2f4f6,#f7f7f7,#f7f4f2,#f7f1ee,#f7efec,#f7eeeb,#f7eeeb,#f7efec,#f7f0ed,#f7f1ef,#f7f2f1,#f7f3f2,#f7f4f3,#f7f5f4,#f7f5f4,#f7f5f5,#f7f6f5,#f7f6f6,#f7f7f7,#f6f6f7,#f4f6f6,#f3f5f6,#f1f4f6,#f0f3f5,#eff3f5,#eef3f5,#eef3f5,#eef3f5,#eef3f5,#eff3f5,#eff3f5,#f0f3f5,#f0f3f5,#f0f4f5,#f0f4f5,#f0f3f5,#eff3f5)"></i><i style="background:linear-gradient(#f7f4f3,#f7f4f3,#f7f5f3,#f7f5f4,#f7f5f4,#f7f6f5,#f7f6f6,#f7f7f7,#f7f7f7,#f7f6f6,#f7f3f2,#f7efec,#f7ebe6,#f6e7e0,#f6e4dc,#f6e2d8,#f6e1d7,#f6e2d9,#f6e4dc,#f6e6df,#f6e9e3,#f7ebe6,#f7ede9,#f7efec,#f7f1ee,#f7f1ef,#f7f2ef,#f7f2f0,#f7f2f0,#f7f2f0,#f7f2f0,#f7f3f1,#f7f4f2,#f7f4f3,#f7f6f5,#f7f7f6,#f7f7f7,#f6f6f7,#f5f6f7,#f5f6f6,#f5f6f6,#f5f6f6,#f4f6f6,#f4f6f6,#f4f6f6,#f4f6f6,#f4f5f6,#f3f5f6,#f3f5f6)"></i><i style="background:linear-gradient(#f7ede9,#f7eeea,#f7eeea,#f7ede9,#f7ede9,#f7ede8,#f7ece7,#f7eae5,#f6e8e1,#f6e4dc,#f6e0d7,#f6ddd2,#f6dace,#f6d8cb,#f6d6c8,#f6d5c7,#f6d5c7,#f6d7c9,#f6d9cc,#f6dcd1,#f6e0d6,#f6e3db,#f6e6df,#f6e9e3,#f7ebe6,#f7ece8,#f7ede9,#f7ede8,#f7ede8,#f7ece8,#f7ece8,#f7ede8,#f7ede9,#f7eeea,#f7efeb,#f7f0ed,#f7f1ee,#f7f2ef,#f7f2f0,#f7f3f1,#f7f4f2,#f7f4f3,#f7f5f4,#f7f5f4,#f7f5f5,#f7f6f5,#f7f6f6,#f7f7f7,#f7f7f7)"></i><i style="background:linear-gradient(#f6e7e0,#f6e7e0,#f6e7e0,#f6e6df,#f6e5dd,#f6e4db,#f6e1d8,#f6ded4,#f6dbcf,#f6d7c9,#f6d4c5,#f6d2c2,#f6d0c0,#f6cfbe,#f5cdbc,#f5ccba,#f5ccba,#f5cdbb,#f6cfbe,#f6d2c2,#f6d6c7,#f6d9cd,#f6ddd2,#f6e0d7,#f6e3db,#f6e5dd,#f6e6de,#f6e6de,#f6e5de,#f6e5de,#f6e6de,#f6e6df,#f6e6df,#f6e7e0,#f6e8e1,#f6e9e3,#f7eae4,#f7ebe6,#f7ece7,#f7ede9,#f7eeea,#f7efec,#f7f0ed,#f7f1ee,#f7f1ef,#f7f2f0,#f7f3f1,#f7f3f2,#f7f4f2)"></i><i style="background:linear-gradient(#f6e0d6,#f6e0d6,#f6e0d6,#f6dfd5,#f6ded3,#f6dcd1,#f6dacd,#f6d6c9,#f6d3c4,#f6d0bf,#f5cebc,#f5ccba,#f5cbb8,#f5c9b6,#f5c8b4,#f5c7b2,#f5c6b1,#f5c6b1,#f5c7b3,#f5c9b5,#f5cbb9,#f6cebd,#f6d2c2,#f6d5c6,#f6d8ca,#f6dacd,#f6dbcf,#f6dbd0,#f6dcd0,#f6ddd1,#f6ddd3,#f6ded4,#f6dfd5,#f6e0d6,#f6e1d8,#f6e2d9,#f6e3db,#f6e5dd,#f6e6df,#f6e7e1,#f6e9e3,#f7eae5,#f7ebe6,#f7ece8,#f7ede9,#f7eeea,#f7efeb,#f7efec,#f7f0ed)"></i><i style="background:linear-gradient(#f6dacd,#f6dace,#f6dacd,#f6d9cd,#f6d8cb,#f6d6c8,#f6d4c5,#f6d1c1,#f6cfbe,#f5ccba,#f5cbb8,#f5c9b6,#f5c8b4,#f5c6b2,#f5c5af,#f5c3ad,#f5c2ab,#f5c1aa,#f5c1aa,#f5c2ab,#f5c3ad,#f5c5af,#f5c7b2,#f5c9b5,#f5cbb8,#f5cdbb,#f6cebd,#f6cfbf,#f6d1c0,#f6d3c3,#f6d5c6,#f6d7c9,#f6d8cb,#f6dacd,#f6dbcf,#f6dcd1,#f6ded3,#f6dfd5,#f6e1d7,#f6e2d9,#f6e4dc,#f6e5de,#f6e7e0,#f6e8e2,#f6e9e3,#f7eae5,#f7ebe6,#f7ece7,#f7ece8)"></i><i style="background:linear-gradient(#f6d4c5,#f6d4c5,#f6d4c5,#f6d4c5,#f6d3c3,#f6d2c2,#f6d0bf,#f5cebc,#f5ccb9,#f5cab7,#f5c9b5,#f5c7b3,#f5c6b1,#f5c4af,#f5c2ac,#f5c1a9,#f5bfa7,#f5bea6,#f5bda5,#f5bda5,#f5bea5,#f5bea6,#f5bfa7,#f5c0a9,#f5c1aa,#f5c2ac,#f5c4ae,#f5c5b0,#f5c7b2,#f5cab6,#f5cdbb,#f6d0bf,#f6d2c3,#f6d4c5,#f6d6c8,#f6d7ca,#f6d9cc,#f6dace,#f6dcd0,#f6ded3,#f6dfd5,#f6e1d7,#f6e2d9,#f6e4db,#f6e5dd,#f6e6df,#f6e7e0,#f6e8e1,#f6e9e2)"></i><i style="background:linear-gradient(#f5cdbb,#f5cebc,#f6cebd,#f5cebc,#f5cebc,#f5cdbb,#f5ccb9,#f5cab7,#f5c9b5,#f5c8b3,#f5c6b2,#f5c5b0,#f5c4ae,#f5c2ac,#f5c1a9,#f5bfa7,#f5bda5,#f5bca3,#f5bba1,#f5baa0,#f5baa0,#f5baa0,#f5baa0,#f5bba1,#f5bba2,#f5bca3,#f5bda4,#f5bea6,#f5c0a9,#f5c3ad,#f5c6b2,#f5cab7,#f5cdbb,#f6d0bf,#f6d2c2,#f6d3c4,#f6d5c6,#f6d6c8,#f6d8cb,#f6dacd,#f6dbcf,#f6ddd1,#f6ded4,#f6e0d6,#f6e1d8,#f6e2d9,#f6e3da,#f6e4dc,#f6e5dd)"></i><i style="background:linear-gradient(#f5c6b1,#f5c7b2,#f5c7b2,#f5c7b3,#f5c7b3,#f5c7b3,#f5c7b2,#f5c6b1,#f5c5b0,#f5c4af,#f5c3ad,#f5c2ac,#f5c1aa,#f5c0a8,#f5bea6,#f5bda4,#f5bba2,#f5baa0,#f5b99f,#f5b89d,#f5b89d,#f5b79c,#f5b79c,#f5b79c,#f5b79c,#f5b89d,#f5b99e,#f5baa0,#f5bca3,#f5bfa6,#f5c2ab,#f5c5b0,#f5c9b5,#f5cbb9,#f5cebc,#f6d0bf,#f6d1c1,#f6d3c3,#f6d4c6,#f6d6c8,#f6d7ca,#f6d9cc,#f6dace,#f6dcd0,#f6ddd2,#f6ded4,#f6dfd5,#f6e0d6,#f6e1d8)"></i><i style="background:linear-gradient(#f5bda5,#f5bea5,#f5bea6,#f5bfa7,#f5bfa8,#f5c0a8,#f5c0a8,#f5c0a8,#f5c0a8,#f5bfa8,#f5bfa7,#f5bea6,#f5bea5,#f5bda4,#f5bba2,#f5baa0,#f5b99f,#f5b89d,#f5b79c,#f5b69b,#f5b69a,#f5b599,#f5b599,#f5b599,#f5b599,#f5b599,#f5b69a,#f5b79c,#f5b99e,#f5bba2,#f5bea6,#f5c1ab,#f5c5af,#f5c8b3,#f5cab7,#f5ccba,#f5cebc,#f6cfbf,#f6d1c1,#f6d2c3,#f6d4c5,#f6d5c7,#f6d7c9,#f6d8cb,#f6d9cc,#f6dace,#f6dbcf,#f6dcd1,#f6ddd2)"></i><i style="background:linear-gradient(#f5b599,#f5b598,#f5b599,#f5b69b,#f5b79c,#f5b89c,#f5b89d,#f5b89e,#f5b99e,#f5b99e,#f5b99e,#f5b99e,#f5b89d,#f5b89d,#f5b79c,#f5b69b,#f5b69a,#f5b599,#f5b498,#f5b497,#f5b396,#f5b396,#f5b396,#f5b396,#f5b396,#f5b396,#f5b497,#f5b598,#f5b69a,#f5b89d,#f5bba1,#f5bea5,#f5c1aa,#f5c4ae,#f5c6b2,#f5c9b5,#f5cab7,#f5ccba,#f5cebc,#f6cfbe,#f6d0c0,#f6d2c2,#f6d3c4,#f6d4c5,#f6d5c7,#f6d6c8,#f6d7ca,#f6d8cb,#f6d9cd)"></i><i style="background:linear-gradient(#f4ad8e,#f4ad8d,#f4ad8e,#f4ae8f,#f4ae8f,#f4af90,#f4af90,#f4af91,#f4b091,#f4b092,#f4b092,#f4b092,#f4b092,#f4b092,#f4b092,#f4b092,#f4b092,#f4b091,#f4b091,#f4b091,#f4b091,#f4b092,#f4b092,#f4b092,#f4b193,#f4b193,#f4b294,#f4b395,#f5b497,#f5b59a,#f5b89d,#f5baa0,#f5bda5,#f5c0a9,#f5c3ac,#f5c5b0,#f5c7b2,#f5c9b5,#f5cab7,#f5ccb9,#f5cdbb,#f6cebd,#f6cfbe,#f6d0c0,#f6d1c1,#f6d2c3,#f6d3c4,#f6d4c6,#f6d6c7)"></i><i style="background:linear-gradient(#f4a886,#f4a784,#f4a684,#f4a684,#f4a684,#f4a683,#f4a683,#f4a683,#f4a583,#f4a582,#f4a582,#f4a583,#f4a683,#f4a684,#f4a785,#f4a785,#f4a886,#f4a987,#f4a988,#f4aa89,#f4ab8a,#f4ac8b,#f4ac8c,#f4ad8d,#f4ae8e,#f4ae8f,#f4af90,#f4b092,#f4b193,#f4b395,#f5b598,#f5b79c,#f5ba9f,#f5bca3,#f5bfa7,#f5c1aa,#f5c3ad,#f5c5b0,#f5c7b2,#f5c8b4,#f5c9b6,#f5cab7,#f5ccb9,#f5cdbb,#f5cebc,#f6cfbd,#f6d0bf,#f6d1c0,#f6d2c2)"></i><i style="background:linear-gradient(#f3a07f,#f29e7e,#f29c7d,#f19a7c,#f1997b,#f0977a,#f09578,#ef9377,#ef9176,#ef9076,#ef9075,#ef9076,#ef9176,#ef9377,#f09578,#f0977a,#f19a7b,#f29d7d,#f3a07f,#f3a280,#f4a582,#f4a684,#f4a886,#f4a987,#f4aa89,#f4ab8a,#f4ac8c,#f4ad8d,#f4ae8f,#f4b091,#f4b194,#f5b497,#f5b69a,#f5b99e,#f5bba1,#f5bda5,#f5bfa8,#f5c1aa,#f5c3ad,#f5c4af,#f5c6b0,#f5c7b2,#f5c8b4,#f5c9b5,#f5cab7,#f5cbb8,#f5ccb9,#f5cdbb,#f6cebd)"></i><i style="background:linear-gradient(#f0977a,#f09578,#ef9277,#ee8f75,#ee8c73,#ed8972,#ec8670,#ec846e,#eb816d,#eb806c,#ea7f6b,#ea7f6b,#eb806c,#eb826d,#ec846e,#ec8770,#ed8a72,#ee8e74,#ef9277,#f09579,#f1997b,#f29d7d,#f3a07f,#f4a381,#f4a683,#f4a785,#f4a887,#f4aa89,#f4ab8b,#f4ad8d,#f4ae8f,#f4b092,#f4b395,#f5b599,#f5b79c,#f5ba9f,#f5bca2,#f5bda5,#f5bfa7,#f5c0a9,#f5c2ab,#f5c3ad,#f5c4ae,#f5c5b0,#f5c6b1,#f5c7b3,#f5c8b4,#f5c9b5,#f5cbb8)"></i><i style="background:linear-gradient(#ef9075,#ee8d74,#ed8972,#ec8670,#eb836e,#ea7f6b,#e97c69,#e97868,#e87666,#e87465,#e77364,#e77364,#e87465,#e87666,#e97867,#e97b69,#ea7f6b,#eb826d,#ec8670,#ed8a72,#ee8e75,#ef9277,#f09679,#f19a7c,#f29e7e,#f3a180,#f4a482,#f4a684,#f4a886,#f4a988,#f4ab8b,#f4ad8e,#f4af91,#f4b294,#f5b497,#f5b69a,#f5b89d,#f5baa0,#f5bba2,#f5bda4,#f5bea6,#f5bfa7,#f5c0a9,#f5c1aa,#f5c2ab,#f5c3ad,#f5c4ae,#f5c5b0,#f5c7b3)"></i><i style="background:linear-gradient(#ed8971,#ec866f,#eb826d,#ea7e6b,#e97b69,#e87767,#e77465,#e77163,#e66e61,#e66d60,#e56c60,#e56c60,#e66c60,#e66e61,#e67062,#e77364,#e87666,#e97a68,#ea7e6b,#eb826d,#ec866f,#ed8a72,#ee8e74,#ef9277,#f09679,#f19a7b,#f29e7e,#f3a180,#f4a582,#f4a784,#f4a887,#f4aa8a,#f4ac8d,#f4af90,#f4b193,#f5b396,#f5b598,#f5b69b,#f5b89d,#f5b99f,#f5baa0,#f5bba2,#f5bca3,#f5bda5,#f5bea6,#f5bfa7,#f5c0a9,#f5c2ac,#f5c4af)"></i><i style="background:linear-gradient(#eb836e,#ea7f6c,#ea7c6a,#e97868,#e87565,#e77163,#e66e61,#e56b60,#e5695e,#e4685e,#e4675d,#e4675d,#e4675d,#e5695e,#e56b5f,#e66d61,#e77063,#e77465,#e87767,#e97b69,#ea7f6b,#eb836e,#ec8770,#ed8b73,#ee8f75,#ef9377,#f0977a,#f19b7c,#f29f7e,#f3a381,#f4a683,#f4a886,#f4aa89,#f4ac8c,#f4ae8e,#f4b091,#f4b194,#f5b396,#f5b498,#f5b69a,#f5b79b,#f5b89d,#f5b99e,#f5ba9f,#f5baa1,#f5bca2,#f5bda4,#f5bfa7,#f5c1ab)"></i><i style="background:linear-gradient(#ea7e6b,#e97a69,#e87767,#e77465,#e77063,#e66d61,#e56a5f,#e4675d,#e4665c,#e4655c,#e4645c,#e4645c,#e4655c,#e4665d,#e4685e,#e56a5f,#e66c60,#e66f62,#e77364,#e87666,#e97a68,#ea7e6b,#eb826d,#ec866f,#ed8a72,#ee8e74,#ef9277,#f09679,#f1997b,#f29d7d,#f3a180,#f4a582,#f4a785,#f4a988,#f4ab8a,#f4ad8d,#f4ae8f,#f4b091,#f4b193,#f4b295,#f5b397,#f5b498,#f5b599,#f5b69b,#f5b79c,#f5b89d,#f5baa0,#f5bca3,#f5bfa7)"></i><i style="background:linear-gradient(#e97968,#e87666,#e77364,#e67062,#e66d60,#e56a5f,#e4675d,#e4655c,#e3645b,#e3635b,#e3635b,#e3635b,#e3635b,#e4655c,#e4665d,#e4685e,#e56a5f,#e66d61,#e67062,#e77364,#e87666,#e97a68,#ea7e6b,#eb816d,#ec856f,#ed8971,#ee8d74,#ef9176,#f09578,#f1997b,#f29d7d,#f3a07f,#f4a482,#f4a784,#f4a887,#f4aa89,#f4ac8b,#f4ad8d,#f4ae8f,#f4b091,#f4b193,#f4b294,#f4b395,#f5b397,#f5b498,#f5b599,#f5b79b,#f5b99f,#f5bda4)"></i><i style="background:linear-gradient(#e87566,#e77364,#e67062,#e66d61,#e56a5f,#e4675d,#e4655c,#e3635b,#e3625a,#e3625a,#e3625a,#e3625a,#e3635b,#e3645b,#e4665c,#e4675d,#e5695e,#e56b60,#e66e61,#e77063,#e77465,#e87767,#e97a69,#ea7e6b,#eb816d,#ec856f,#ed8971,#ee8d74,#ef9176,#f09578,#f1987b,#f29c7d,#f3a07f,#f4a481,#f4a683,#f4a886,#f4a988,#f4ab8a,#f4ac8c,#f4ad8e,#f4ae8f,#f4af91,#f4b092,#f4b193,#f4b294,#f5b396,#f5b498,#f5b79c,#f5bca2)"></i><i style="background:linear-gradient(#e77264,#e67062,#e66d61,#e56a5f,#e4685e,#e4655c,#e3635b,#e3625a,#e3615a,#e36159,#e36159,#e3615a,#e3635b,#e3645b,#e4655c,#e4675d,#e4685e,#e56a5f,#e66c60,#e66f62,#e77263,#e87565,#e87867,#e97b69,#ea7e6b,#eb826d,#ec866f,#ed8972,#ee8d74,#ef9176,#f09578,#f1987b,#f29c7d,#f39f7f,#f3a381,#f4a583,#f4a785,#f4a887,#f4aa89,#f4ab8b,#f4ac8c,#f4ad8e,#f4ae8f,#f4af91,#f4b092,#f4b193,#f4b294,#f5b69a,#f5bca2)"></i><i style="background:linear-gradient(#e66f62,#e66d61,#e56b5f,#e4685e,#e4665c,#e3635b,#e3625a,#e36159,#e26059,#e26059,#e26059,#e36159,#e3625a,#e3635b,#e4655c,#e4665d,#e4675d,#e5695e,#e56b5f,#e66d61,#e77063,#e77364,#e87666,#e97968,#ea7c6a,#ea7f6c,#eb836e,#ec8670,#ed8a72,#ee8e74,#ef9176,#f09578,#f1987b,#f29c7d,#f29f7e,#f3a280,#f4a582,#f4a784,#f4a886,#f4a988,#f4aa8a,#f4ac8c,#f4ad8d,#f4ae8f,#f4af90,#f4b092,#f4b092,#f5b89d,#f5bea5)"></i><i style="background:linear-gradient(#e56c60,#e56a5f,#e4685e,#e4665c,#e3645b,#e3625a,#e36059,#e25f59,#e25f58,#e25f58,#e25f58,#e26059,#e3615a,#e3625a,#e3645b,#e4655c,#e4665d,#e4685e,#e56a5f,#e56c60,#e66e62,#e77163,#e77465,#e87766,#e97a68,#ea7d6a,#eb806c,#ec846e,#ec8770,#ed8b72,#ee8e75,#ef9277,#f09579,#f1997b,#f29c7d,#f29f7e,#f3a280,#f4a582,#f4a684,#f4a886,#f4a988,#f4ab8a,#f4ac8c,#f4ad8e,#f4af90,#f4b193,#f5b598,#f5bba2,#f5c0a8)"></i></div></div>
<div class="p" style="left:166px;top:294px;width:139px;height:137px"><div style="height:144px;width:147px"><i style="background:linear-gradient(#53a0ca,#529fc9,#4f9dc8,#4d9cc7,#4a9ac7,#4899c6,#4698c5,#4597c5,#4496c4,#4396c4,#4396c4,#4396c4,#4497c5,#4698c5,#4798c6,#4999c6,#4999c6,#4799c6,#4698c5,#4497c5,#4396c4,#4296c4,#4296c4,#4396c4,#4497c5,#4698c5,#4999c6,#4b9bc7,#4e9dc8,#519ec9,#54a0ca,#55a1ca,#57a2cb,#58a2cb,#59a3cb,#59a3cc,#5aa4cc,#5ba4cc,#5ca5cc,#5da6cd,#5ea6cd,#5fa7cd,#60a8ce,#62a8ce,#63a9cf,#64aacf,#65aacf,#66abd0,#67acd0)"></i><i style="background:linear-gradient(#56a1ca,#54a0ca,#529fc9,#509dc8,#4d9cc8,#4b9bc7,#499ac6,#4899c6,#4698c5,#4697c5,#4597c5,#4697c5,#4698c5,#4799c6,#4999c6,#4a9ac7,#4a9ac7,#499ac6,#4798c6,#4698c5,#4597c5,#4597c5,#4597c5,#4698c5,#4899c6,#4a9ac6,#4c9bc7,#4f9dc8,#529fc9,#55a1ca,#58a3cb,#5aa4cc,#5ba4cc,#5ca5cd,#5da6cd,#5ea6cd,#5fa7cd,#60a7ce,#61a8ce,#62a9ce,#63a9cf,#65aacf,#66abd0,#67abd0,#68acd0,#6aadd1,#6baed1,#6caed2,#6dafd2)"></i><i style="background:linear-gradient(#59a3cb,#57a2cb,#55a1ca,#539fc9,#519ec9,#4f9dc8,#4d9cc7,#4b9bc7,#4a9ac6,#4999c6,#4899c6,#4899c6,#4899c6,#499ac6,#4a9ac7,#4b9bc7,#4b9bc7,#4a9ac6,#4999c6,#4899c6,#4798c6,#4799c6,#4899c6,#499ac6,#4b9bc7,#4e9cc8,#509ec9,#53a0ca,#56a2cb,#5aa3cc,#5ca5cd,#5fa6cd,#60a7ce,#61a8ce,#62a9ce,#63a9cf,#64aacf,#65aacf,#66abd0,#68acd0,#69acd1,#6aadd1,#6baed1,#6cafd2,#6eafd2,#6fb0d3,#70b1d3,#72b2d3,#73b2d4)"></i><i style="background:linear-gradient(#5ea6cd,#5ba5cc,#5aa3cc,#58a2cb,#56a1ca,#54a0ca,#529fc9,#509ec8,#4e9dc8,#4d9cc7,#4c9bc7,#4b9bc7,#4b9bc7,#4b9bc7,#4b9bc7,#4c9bc7,#4c9bc7,#4b9bc7,#4b9ac7,#4a9ac7,#4a9ac7,#4b9bc7,#4c9bc7,#4e9cc8,#509ec8,#539fc9,#56a1ca,#59a3cb,#5ca5cc,#5fa6cd,#61a8ce,#64a9cf,#65aacf,#67abd0,#68acd0,#69add1,#6aadd1,#6baed1,#6caed2,#6dafd2,#6eb0d2,#6fb0d3,#71b1d3,#72b2d4,#73b3d4,#75b4d4,#76b4d5,#77b5d5,#78b6d6)"></i><i style="background:linear-gradient(#64a9cf,#62a8ce,#60a7ce,#5ea6cd,#5ca5cc,#5aa3cc,#58a2cb,#56a1ca,#54a0ca,#529fc9,#519ec9,#509ec8,#4f9dc8,#4f9dc8,#4e9dc8,#4e9dc8,#4e9dc8,#4e9dc8,#4e9dc8,#4e9dc8,#4f9dc8,#509ec8,#529fc9,#54a0ca,#56a1cb,#59a3cb,#5ca5cc,#5fa7cd,#62a8ce,#65aacf,#67abd0,#69add1,#6baed1,#6cafd2,#6eafd2,#6fb0d3,#70b1d3,#71b1d3,#72b2d4,#73b3d4,#74b3d4,#75b4d5,#76b5d5,#78b5d5,#79b6d6,#7ab7d6,#7cb8d7,#7db8d7,#7eb9d7)"></i><i style="background:linear-gradient(#6baed1,#69acd1,#67abd0,#65aacf,#63a9cf,#61a8ce,#5fa7cd,#5da6cd,#5ba4cc,#5aa3cc,#58a2cb,#56a2cb,#55a1ca,#54a0ca,#54a0ca,#54a0ca,#53a0ca,#54a0ca,#54a0ca,#55a0ca,#56a1ca,#57a2cb,#59a3cc,#5ca5cc,#5ea6cd,#61a8ce,#64aacf,#67abd0,#69add1,#6caed2,#6eb0d2,#70b1d3,#72b2d3,#73b3d4,#74b3d4,#75b4d5,#77b5d5,#78b5d5,#79b6d6,#7ab6d6,#7ab7d6,#7bb8d7,#7db8d7,#7eb9d7,#7fb9d8,#80bad8,#81bbd8,#82bcd9,#83bcd9)"></i><i style="background:linear-gradient(#72b2d4,#70b1d3,#6fb0d3,#6dafd2,#6baed1,#6aadd1,#68acd0,#66abd0,#64aacf,#63a9cf,#61a8ce,#60a7ce,#5ea6cd,#5da6cd,#5da5cd,#5ca5cc,#5ca5cc,#5ca5cd,#5da5cd,#5ea6cd,#60a7ce,#61a8ce,#63a9cf,#66abd0,#68acd0,#6baed1,#6dafd2,#70b0d3,#72b2d4,#74b3d4,#76b4d5,#78b5d5,#79b6d6,#7bb7d6,#7cb8d7,#7db8d7,#7eb9d7,#7fbad8,#80bad8,#81bbd8,#81bbd9,#82bcd9,#83bcd9,#84bcd9,#85bdda,#85beda,#86beda,#87bfda,#88bfdb)"></i><i style="background:linear-gradient(#7ab6d6,#78b6d6,#77b5d5,#76b4d5,#74b3d4,#73b2d4,#71b2d3,#70b1d3,#6eb0d2,#6dafd2,#6caed1,#6aadd1,#69add1,#68acd0,#68acd0,#68acd0,#68acd0,#68acd0,#69acd1,#6aadd1,#6baed1,#6dafd2,#6fb0d3,#71b1d3,#73b3d4,#75b4d5,#77b5d5,#7ab6d6,#7cb8d7,#7db9d7,#7fbad8,#81bbd8,#82bbd9,#83bcd9,#84bdda,#85bdda,#86beda,#87beda,#87bfdb,#88bfdb,#89bfdb,#89c0db,#8ac0db,#8ac0db,#8bc1dc,#8bc1dc,#8cc1dc,#8cc2dc,#8dc2dc)"></i><i style="background:linear-gradient(#81bbd8,#80bad8,#7fbad8,#7eb9d7,#7db8d7,#7cb8d7,#7bb7d6,#7ab7d6,#79b6d6,#78b5d5,#77b5d5,#76b4d5,#75b4d5,#75b3d4,#74b3d4,#74b3d4,#74b3d4,#75b4d4,#76b4d5,#77b5d5,#78b5d6,#7ab6d6,#7bb7d7,#7db9d7,#7fbad8,#81bbd8,#83bcd9,#85bdda,#86beda,#88bfdb,#89c0db,#8bc1dc,#8cc1dc,#8dc2dc,#8dc2dd,#8ec3dd,#8fc3dd,#8fc3dd,#90c4dd,#90c4dd,#90c4dd,#90c4dd,#91c4de,#91c4de,#91c4de,#91c4de,#91c5de,#91c5de,#92c5de)"></i><i style="background:linear-gradient(#88bfdb,#88bfdb,#87beda,#86beda,#85bdda,#85bdda,#84bdd9,#83bcd9,#83bcd9,#82bbd9,#82bbd9,#81bbd8,#81bbd8,#81bbd8,#81bbd8,#81bbd8,#81bbd8,#82bbd9,#82bcd9,#83bcd9,#85bdda,#86beda,#88bfdb,#89c0db,#8bc1dc,#8dc2dc,#8ec3dd,#90c4dd,#91c5de,#93c5de,#93c6de,#94c6df,#95c6df,#95c7df,#96c7df,#96c7df,#96c7df,#96c7df,#96c7df,#96c7df,#96c7df,#96c7df,#96c7df,#96c7df,#96c7df,#95c7df,#95c7df,#95c7df,#96c7df)"></i><i style="background:linear-gradient(#90c4dd,#8fc3dd,#8ec3dd,#8ec2dd,#8dc2dc,#8dc2dc,#8cc2dc,#8cc2dc,#8cc1dc,#8cc1dc,#8cc1dc,#8cc1dc,#8cc1dc,#8cc1dc,#8cc1dc,#8cc2dc,#8dc2dc,#8ec2dd,#8ec3dd,#90c4dd,#91c4de,#92c5de,#93c6de,#94c6df,#96c7df,#97c7df,#98c8df,#99c8e0,#99c9e0,#9ac9e0,#9bc9e0,#9bcae0,#9ccae0,#9ccae0,#9ccae1,#9ccae1,#9ccae1,#9ccae1,#9ccae1,#9ccae0,#9ccae0,#9bcae0,#9bcae0,#9bc9e0,#9ac9e0,#9ac9e0,#99c9e0,#99c9e0,#99c9e0)"></i><i style="background:linear-gradient(#95c7df,#95c6df,#95c6df,#94c6df,#94c6df,#94c6de,#94c6de,#94c6de,#94c6de,#94c6de,#94c6df,#94c6df,#95c6df,#95c6df,#95c7df,#96c7df,#96c7df,#97c7df,#98c8df,#99c8e0,#9ac9e0,#9bc9e0,#9ccae0,#9dcae1,#9ecbe1,#9ecbe1,#9fcce1,#a0cce1,#a0cce2,#a1cce2,#a1cde2,#a2cde2,#a2cde2,#a2cde2,#a2cde2,#a2cde2,#a2cde2,#a2cde2,#a2cde2,#a1cde2,#a1cce2,#a1cce2,#a0cce1,#9fcce1,#9fcbe1,#9ecbe1,#9dcbe1,#9dcbe1,#9dcbe1)"></i><i style="background:linear-gradient(#9bc9e0,#9ac9e0,#9ac9e0,#9ac9e0,#9ac9e0,#9ac9e0,#9ac9e0,#9ac9e0,#9ac9e0,#9ac9e0,#9bc9e0,#9bc9e0,#9bcae0,#9ccae0,#9ccae1,#9dcae1,#9ecbe1,#9fcbe1,#a0cce1,#a0cce2,#a1cde2,#a2cde2,#a3cee2,#a4cee2,#a5cee3,#a5cfe3,#a6cfe3,#a6cfe3,#a7cfe3,#a7cfe3,#a7cfe3,#a7d0e3,#a8d0e3,#a8d0e3,#a8d0e3,#a8d0e3,#a8d0e3,#a7d0e3,#a7cfe3,#a7cfe3,#a6cfe3,#a6cfe3,#a5cee3,#a4cee3,#a3cee2,#a3cde2,#a2cde2,#a1cde2,#a2cde2)"></i><i style="background:linear-gradient(#a0cce1,#a0cce1,#9fcce1,#9fcce1,#9fcbe1,#9fcce1,#9fcce1,#a0cce1,#a0cce1,#a0cce2,#a1cce2,#a1cce2,#a2cde2,#a2cde2,#a3cee2,#a4cee2,#a5cee3,#a6cfe3,#a7cfe3,#a8d0e3,#a9d0e4,#aad1e4,#aad1e4,#abd1e4,#abd1e4,#abd2e4,#acd2e4,#acd2e4,#acd2e4,#acd2e4,#acd2e5,#acd2e5,#add2e5,#add2e5,#add2e5,#add2e5,#acd2e5,#acd2e4,#acd2e4,#abd2e4,#abd1e4,#aad1e4,#aad1e4,#a9d0e4,#a8d0e3,#a7d0e3,#a7cfe3,#a6cfe3,#a6cfe3)"></i><i style="background:linear-gradient(#a6cfe3,#a5cfe3,#a5cee3,#a5cee3,#a5cee3,#a5cee3,#a5cee3,#a5cfe3,#a6cfe3,#a6cfe3,#a6cfe3,#a7cfe3,#a8d0e3,#a9d0e4,#aad1e4,#abd1e4,#add2e5,#aed3e5,#afd3e5,#b0d4e5,#b1d4e6,#b1d4e6,#b1d5e6,#b2d5e6,#b2d5e6,#b2d5e6,#b1d5e6,#b1d5e6,#b1d5e6,#b1d5e6,#b1d5e6,#b1d5e6,#b1d5e6,#b1d5e6,#b1d5e6,#b1d5e6,#b1d4e6,#b1d4e6,#b1d4e6,#b0d4e5,#b0d4e5,#afd3e5,#aed3e5,#aed3e5,#add2e5,#acd2e4,#abd2e4,#abd1e4,#abd1e4)"></i><i style="background:linear-gradient(#acd2e4,#abd2e4,#abd1e4,#abd1e4,#abd1e4,#abd1e4,#abd1e4,#abd1e4,#abd2e4,#acd2e4,#acd2e4,#add2e5,#aed3e5,#afd3e5,#b1d4e6,#b2d5e6,#b4d6e6,#b5d7e7,#b7d7e7,#b8d8e7,#b8d8e7,#b9d8e8,#b9d8e8,#b9d8e8,#b9d8e8,#b8d8e8,#b8d8e7,#b8d8e7,#b7d8e7,#b7d7e7,#b7d7e7,#b7d7e7,#b7d7e7,#b6d7e7,#b6d7e7,#b6d7e7,#b6d7e7,#b5d7e7,#b5d6e7,#b5d6e7,#b4d6e6,#b4d6e6,#b3d5e6,#b2d5e6,#b2d5e6,#b1d4e6,#b0d4e6,#b0d4e5,#b0d4e5)"></i><i style="background:linear-gradient(#b2d5e6,#b1d4e6,#b1d4e6,#b1d4e6,#b1d4e6,#b1d4e6,#b1d4e6,#b1d4e6,#b1d5e6,#b2d5e6,#b2d5e6,#b3d5e6,#b4d6e7,#b6d7e7,#b8d8e7,#bad9e8,#bcdae8,#bddae9,#bedbe9,#bfdbe9,#c0dce9,#c1dcea,#c1dcea,#c1dcea,#c1dcea,#c1dcea,#c0dce9,#c0dce9,#bfdbe9,#bedbe9,#bddae9,#bddae9,#bcdae8,#bcdae8,#bbd9e8,#bbd9e8,#bad9e8,#bad9e8,#b9d9e8,#b9d8e8,#b9d8e8,#b8d8e7,#b7d8e7,#b7d7e7,#b6d7e7,#b6d7e7,#b6d7e7,#b5d7e7,#b5d7e7)"></i><i style="background:linear-gradient(#b7d7e7,#b7d7e7,#b7d7e7,#b7d7e7,#b7d7e7,#b7d7e7,#b7d7e7,#b7d7e7,#b7d8e7,#b8d8e7,#b9d8e8,#bad9e8,#bbdae8,#bddae9,#bfdbe9,#c1dcea,#c3ddea,#c5deeb,#c6dfeb,#c7dfeb,#c8e0eb,#c9e0ec,#cae1ec,#cae1ec,#cbe1ec,#cae1ec,#cae1ec,#c9e0ec,#c8e0eb,#c7dfeb,#c5deeb,#c4deea,#c2ddea,#c1dcea,#c0dce9,#bfdce9,#bfdbe9,#bedbe9,#bedbe9,#bddae9,#bddae9,#bcdae9,#bcdae8,#bcdae8,#bbd9e8,#bbd9e8,#bbd9e8,#bbd9e8,#bbd9e8)"></i><i style="background:linear-gradient(#bddae9,#bddae9,#bcdae9,#bcdae8,#bcdae8,#bcdae9,#bddae9,#bddae9,#bedbe9,#bfdbe9,#c0dce9,#c2ddea,#c4deea,#c6dfeb,#c8e0eb,#cae1ec,#cbe1ec,#cde2ed,#cee3ed,#d0e3ed,#d1e4ee,#d2e5ee,#d3e5ee,#d4e6ee,#d4e6ee,#d5e6ee,#d4e6ee,#d3e5ee,#d2e5ee,#d0e4ed,#cee2ed,#cbe1ec,#c9e0ec,#c7dfeb,#c6dfeb,#c4deea,#c3ddea,#c3ddea,#c2ddea,#c2ddea,#c1dcea,#c1dcea,#c1dcea,#c0dce9,#c0dce9,#c0dce9,#c0dce9,#c0dce9,#c0dce9)"></i><i style="background:linear-gradient(#c2ddea,#c2ddea,#c1ddea,#c1dcea,#c1dcea,#c1dcea,#c2ddea,#c3ddea,#c4deea,#c6dfeb,#c8e0eb,#cae1ec,#cce2ec,#cee3ed,#d0e4ed,#d2e5ee,#d4e6ee,#d5e6ef,#d7e7ef,#d8e8ef,#d9e8f0,#dbe9f0,#dceaf0,#ddeaf1,#deeaf1,#deebf1,#deeaf1,#ddeaf0,#dbe9f0,#d9e8f0,#d6e7ef,#d3e5ee,#d0e4ed,#cee3ed,#cce2ec,#cae1ec,#c9e0ec,#c7dfeb,#c7dfeb,#c6dfeb,#c6dfeb,#c5deeb,#c5deeb,#c5deeb,#c5deeb,#c5deeb,#c5deeb,#c6dfeb,#c6dfeb)"></i><i style="background:linear-gradient(#c8e0eb,#c7dfeb,#c6dfeb,#c6dfeb,#c5deeb,#c5deeb,#c6dfeb,#c7dfeb,#cae1ec,#cde2ec,#d0e3ed,#d2e5ee,#d5e6ef,#d7e7ef,#d9e8f0,#dbe9f0,#ddeaf1,#dfebf1,#e0ecf1,#e1ecf2,#e3edf2,#e4edf2,#e5eef2,#e5eef3,#e6eef3,#e6eef3,#e5eef3,#e4eef2,#e3edf2,#e1ecf1,#deebf1,#dbe9f0,#d8e8ef,#d5e6ef,#d3e5ee,#d0e4ed,#cfe3ed,#cde2ed,#cce2ec,#cbe1ec,#cbe1ec,#cbe1ec,#cbe1ec,#cbe1ec,#cbe1ec,#cbe1ec,#cbe1ec,#cce1ec,#cce2ec)"></i><i style="background:linear-gradient(#cde2ed,#cce2ec,#cbe1ec,#cae1ec,#c9e0ec,#c9e0ec,#c9e0ec,#cbe1ec,#cee3ed,#d2e5ee,#d6e7ef,#d9e8f0,#dbe9f0,#deebf1,#e1ecf2,#e4edf2,#e6eff3,#e8f0f3,#eaf0f4,#ebf1f4,#ecf1f4,#ecf2f4,#edf2f4,#edf2f5,#edf2f5,#edf2f4,#ecf2f4,#ebf1f4,#eaf1f4,#e8f0f3,#e6eff3,#e3edf2,#e1ecf1,#deeaf1,#dbe9f0,#d8e8ef,#d6e7ef,#d4e6ee,#d3e5ee,#d2e5ee,#d1e4ee,#d1e4ee,#d1e4ee,#d1e4ee,#d1e4ee,#d1e4ee,#d1e4ee,#d2e5ee,#d2e5ee)"></i><i style="background:linear-gradient(#d3e5ee,#d2e5ee,#d0e4ed,#cfe3ed,#cee3ed,#cde2ed,#cde2ed,#cee3ed,#d2e5ee,#d6e7ef,#dae9f0,#dceaf0,#dfebf1,#e3edf2,#e7eff3,#ecf1f4,#eff3f5,#f1f4f6,#f2f5f6,#f3f5f6,#f4f5f6,#f4f6f6,#f4f6f6,#f4f6f6,#f4f5f6,#f3f5f6,#f3f5f6,#f2f5f6,#f1f4f6,#f0f3f5,#eef3f5,#ecf2f4,#eaf0f4,#e7eff3,#e4eef2,#e2edf2,#dfebf1,#ddeaf1,#dce9f0,#dae9f0,#d9e8f0,#d9e8f0,#d8e8ef,#d8e8ef,#d8e8ef,#d8e8ef,#d8e8ef,#d8e8ef,#d9e8ef)"></i><i style="background:linear-gradient(#d9e8f0,#d8e8ef,#d7e7ef,#d5e6ef,#d3e5ee,#d1e4ee,#d0e4ed,#d1e4ee,#d4e6ee,#d9e8f0,#dbe9f0,#dceaf0,#dfebf1,#e6eef3,#edf2f5,#f3f5f6,#f6f7f7,#f7f6f6,#f7f5f4,#f7f4f3,#f7f4f3,#f7f4f2,#f7f4f2,#f7f4f2,#f7f4f2,#f7f4f3,#f7f5f4,#f7f5f4,#f7f6f5,#f7f7f7,#f6f7f7,#f5f6f6,#f3f5f6,#f1f4f6,#eff3f5,#edf2f4,#ebf1f4,#e8f0f3,#e6eff3,#e5eef2,#e3edf2,#e2edf2,#e1ecf2,#e1ecf1,#e0ecf1,#e0ebf1,#e0ebf1,#dfebf1,#dfebf1)"></i><i style="background:linear-gradient(#e1ecf2,#e0ebf1,#deebf1,#dceaf0,#dae9f0,#d8e7ef,#d6e7ef,#d5e6ef,#d7e7ef,#dae9f0,#dbe9f0,#dbe9f0,#dfebf1,#e7eff3,#f2f5f6,#f7f5f5,#f7f3f2,#f7f2f0,#f7f1ee,#f7f0ed,#f7efec,#f7eeeb,#f7eeea,#f7ede9,#f7ede9,#f7eeea,#f7eeea,#f7efeb,#f7efec,#f7f0ed,#f7f1ee,#f7f2ef,#f7f3f1,#f7f4f2,#f7f5f4,#f7f7f6,#f6f6f7,#f4f5f6,#f2f4f6,#f0f3f5,#eef2f5,#ecf2f4,#ebf1f4,#eaf0f4,#e9f0f3,#e8f0f3,#e7eff3,#e7eff3,#e6eff3)"></i><i style="background:linear-gradient(#e9f0f4,#e8f0f3,#e7eff3,#e5eef3,#e3edf2,#e1ecf2,#e0ebf1,#deebf1,#deebf1,#e0ebf1,#dfebf1,#deebf1,#e1ecf2,#ebf1f4,#f7f6f6,#f7f1ee,#f7efeb,#f7ede9,#f7ece7,#f7eae5,#f6e9e3,#f6e8e1,#f6e7e0,#f6e6df,#f6e6df,#f6e6df,#f6e6df,#f6e7e0,#f6e8e1,#f6e9e3,#f7eae4,#f7eae5,#f7ebe6,#f7ece8,#f7ede9,#f7efeb,#f7f0ed,#f7f1ef,#f7f3f1,#f7f4f3,#f7f6f6,#f6f7f7,#f5f6f6,#f3f5f6,#f1f4f6,#f0f4f5,#eff3f5,#eef3f5,#eef2f5)"></i><i style="background:linear-gradient(#f2f5f6,#f2f4f6,#f1f4f5,#f0f3f5,#eff3f5,#eef3f5,#eef3f5,#eef2f5,#eef3f5,#eef2f5,#edf2f4,#ebf1f4,#eef3f5,#f7f6f5,#f7ede8,#f6e8e2,#f6e6df,#f6e5dd,#f6e3da,#f6e1d8,#f6e0d6,#f6ded4,#f6ddd2,#f6ddd1,#f6dcd1,#f6ddd1,#f6ddd2,#f6ded4,#f6dfd5,#f6e1d7,#f6e2d9,#f6e3db,#f6e4dc,#f6e5de,#f6e7e0,#f6e8e1,#f6e9e3,#f7eae5,#f7ece7,#f7ede9,#f7efeb,#f7f0ed,#f7f2f0,#f7f3f2,#f7f5f4,#f7f6f6,#f7f7f7,#f5f6f7,#f5f6f6)"></i><i style="background:linear-gradient(#f7f3f2,#f7f3f2,#f7f4f2,#f7f4f2,#f7f3f1,#f7f2f0,#f7f1ef,#f7f0ed,#f7eeeb,#f7ede8,#f7eae5,#f6e6df,#f6e1d7,#f6dcd0,#f6d9cc,#f6d7c9,#f6d5c7,#f6d5c6,#f6d4c5,#f6d4c5,#f6d3c4,#f6d2c3,#f6d2c2,#f6d2c2,#f6d2c2,#f6d2c2,#f6d3c4,#f6d4c5,#f6d6c8,#f6d8cb,#f6dace,#f6dcd1,#f6ded3,#f6dfd5,#f6e0d7,#f6e2d9,#f6e3da,#f6e4dc,#f6e5de,#f6e7e0,#f6e8e2,#f7eae4,#f7ebe6,#f7ede9,#f7efeb,#f7f0ed,#f7f1ef,#f7f3f1,#f7f3f2)"></i><i style="background:linear-gradient(#f7ece7,#f7ebe7,#f7ebe6,#f7eae5,#f6e9e3,#f6e7e1,#f6e5de,#f6e3da,#f6e0d6,#f6dcd0,#f6d7c9,#f6d2c2,#f5cdbb,#f5cab6,#f5c6b2,#f5c4ae,#f5c3ad,#f5c4ae,#f5c5b0,#f5c6b1,#f5c7b2,#f5c7b3,#f5c8b4,#f5c8b4,#f5c9b5,#f5c9b6,#f5cab7,#f5cbb9,#f5cdbc,#f6d0c0,#f6d3c4,#f6d6c8,#f6d8cb,#f6dacd,#f6dbcf,#f6dcd1,#f6ded3,#f6dfd4,#f6e0d6,#f6e1d8,#f6e2da,#f6e4dc,#f6e6de,#f6e7e1,#f6e9e3,#f7ebe5,#f7ece7,#f7ede9,#f7eeea)"></i><i style="background:linear-gradient(#f6e5dd,#f6e4dc,#f6e3db,#f6e2d9,#f6e0d7,#f6ded4,#f6dcd1,#f6d9cd,#f6d6c8,#f6d2c2,#f5cebc,#f5c9b6,#f5c6b1,#f5c2ac,#f5bfa7,#f5bca3,#f5bba1,#f5bba2,#f5bca3,#f5bda5,#f5bfa7,#f5c0a9,#f5c2ab,#f5c3ad,#f5c4ae,#f5c5b0,#f5c6b1,#f5c6b2,#f5c8b4,#f5cbb8,#f6cebd,#f6d1c1,#f6d3c4,#f6d5c7,#f6d7c9,#f6d8cb,#f6d9cd,#f6dace,#f6dbcf,#f6dcd1,#f6ddd3,#f6dfd4,#f6e0d7,#f6e2d9,#f6e4dc,#f6e6de,#f6e7e0,#f6e8e2,#f6e9e3)"></i><i style="background:linear-gradient(#f6dfd4,#f6ded3,#f6ddd1,#f6dbcf,#f6dacd,#f6d8cb,#f6d6c8,#f6d4c4,#f6d1c1,#f5cebc,#f5cbb8,#f5c8b4,#f5c5af,#f5c1ab,#f5bea6,#f5bba2,#f5b99f,#f5b89e,#f5b99e,#f5b99f,#f5bba1,#f5bda4,#f5bfa7,#f5c1aa,#f5c3ad,#f5c5af,#f5c5b0,#f5c6b1,#f5c7b2,#f5c9b5,#f5cbb9,#f5cebc,#f6d0bf,#f6d2c2,#f6d3c4,#f6d4c6,#f6d6c7,#f6d6c9,#f6d7ca,#f6d8cb,#f6d9cc,#f6dace,#f6dcd0,#f6ddd3,#f6dfd5,#f6e1d8,#f6e2d9,#f6e3db,#f6e4dc)"></i><i style="background:linear-gradient(#f6d9cc,#f6d8cb,#f6d7ca,#f6d6c8,#f6d5c6,#f6d4c4,#f6d2c2,#f6d0c0,#f6cebd,#f5ccba,#f5cbb8,#f5c9b5,#f5c7b2,#f5c5af,#f5c2ab,#f5bea6,#f5bba2,#f5b99f,#f5b89d,#f5b89e,#f5baa0,#f5bca3,#f5bfa7,#f5c2ab,#f5c5af,#f5c7b2,#f5c7b3,#f5c8b3,#f5c8b4,#f5c9b5,#f5cab7,#f5ccb9,#f5cdbb,#f6cfbe,#f6d0c0,#f6d2c1,#f6d2c3,#f6d3c4,#f6d4c5,#f6d5c6,#f6d5c7,#f6d6c8,#f6d8ca,#f6d9cd,#f6dbcf,#f6ddd1,#f6ded3,#f6dfd4,#f6dfd5)"></i><i style="background:linear-gradient(#f6d4c5,#f6d3c4,#f6d3c3,#f6d2c2,#f6d1c1,#f6d0c0,#f6cfbe,#f5cebc,#f5cdbb,#f5ccb9,#f5cbb8,#f5cab7,#f5c9b6,#f5c8b4,#f5c6b1,#f5c3ac,#f5bea6,#f5bba2,#f5b99f,#f5b99e,#f5ba9f,#f5bca3,#f5bfa7,#f5c3ac,#f5c6b2,#f5c9b5,#f5c9b5,#f5c9b5,#f5c8b5,#f5c9b5,#f5c9b5,#f5cab7,#f5cbb9,#f5cdba,#f5cebc,#f6cfbe,#f6d0bf,#f6d0c0,#f6d1c0,#f6d1c1,#f6d2c2,#f6d3c3,#f6d4c5,#f6d5c7,#f6d7c9,#f6d8cb,#f6d9cd,#f6dace,#f6dbcf)"></i><i style="background:linear-gradient(#f6cfbe,#f6cfbd,#f6cebd,#f5cebc,#f5cdbc,#f5cdbb,#f5ccba,#f5cbb9,#f5cbb8,#f5cab7,#f5cab7,#f5cab7,#f5cab7,#f5cab6,#f5c9b5,#f5c5b0,#f5c0a9,#f5bca3,#f5baa0,#f5b99e,#f5ba9f,#f5bca2,#f5bfa6,#f5c2ac,#f5c6b1,#f5c8b4,#f5c8b4,#f5c8b4,#f5c8b3,#f5c7b3,#f5c8b3,#f5c8b4,#f5c9b6,#f5cab7,#f5ccb9,#f5cdbb,#f5cdbc,#f5cebc,#f5cebc,#f6cebd,#f6cfbd,#f6cfbe,#f6d0c0,#f6d1c1,#f6d3c3,#f6d4c5,#f6d5c7,#f6d6c8,#f6d7c9)"></i><i style="background:linear-gradient(#f5cab7,#f5cab7,#f5cab6,#f5c9b6,#f5c9b5,#f5c8b5,#f5c8b4,#f5c7b3,#f5c7b2,#f5c7b2,#f5c7b2,#f5c7b2,#f5c7b2,#f5c6b2,#f5c6b1,#f5c3ad,#f5bfa7,#f5bba2,#f5b99f,#f5b89e,#f5b99e,#f5baa0,#f5bda4,#f5c0a8,#f5c3ad,#f5c5af,#f5c5b0,#f5c5b0,#f5c5b0,#f5c5b0,#f5c5b0,#f5c6b1,#f5c7b2,#f5c8b4,#f5c9b6,#f5cab7,#f5cbb8,#f5cbb8,#f5cbb8,#f5cbb8,#f5cbb9,#f5ccb9,#f5cdbb,#f6cebd,#f6cfbe,#f6d1c0,#f6d1c1,#f6d2c2,#f6d3c3)"></i><i style="background:linear-gradient(#f5c5b0,#f5c5b0,#f5c5af,#f5c4ae,#f5c3ad,#f5c3ac,#f5c2ab,#f5c1aa,#f5c1a9,#f5c0a9,#f5c0a8,#f5bfa8,#f5bfa8,#f5bfa7,#f5bea6,#f5bda4,#f5baa1,#f5b89e,#f5b79c,#f5b69b,#f5b79b,#f5b89d,#f5baa0,#f5bca3,#f5bea6,#f5c0a9,#f5c1aa,#f5c1aa,#f5c1ab,#f5c2ab,#f5c2ac,#f5c3ad,#f5c4ae,#f5c5b0,#f5c6b1,#f5c7b3,#f5c8b4,#f5c8b4,#f5c8b4,#f5c8b4,#f5c8b4,#f5c9b5,#f5cab6,#f5cbb8,#f5ccba,#f5cdbc,#f6cebd,#f6cfbd,#f6cfbe)"></i><i style="background:linear-gradient(#f5c1a9,#f5c0a8,#f5bfa7,#f5bea6,#f5bda4,#f5bca3,#f5bba1,#f5baa0,#f5b99f,#f5b89d,#f5b79c,#f5b79b,#f5b69b,#f5b69a,#f5b69a,#f5b599,#f5b598,#f5b497,#f5b497,#f5b497,#f5b497,#f5b599,#f5b69a,#f5b89d,#f5b99f,#f5bba1,#f5bca2,#f5bca3,#f5bda4,#f5bea5,#f5bea6,#f5bfa7,#f5c0a9,#f5c2ab,#f5c3ad,#f5c4ae,#f5c5af,#f5c5b0,#f5c5b0,#f5c5b0,#f5c5b0,#f5c6b1,#f5c7b2,#f5c8b4,#f5cab7,#f5cbb8,#f5cbb8,#f5cbb8,#f5ccb9)"></i><i style="background:linear-gradient(#f5bca2,#f5baa1,#f5b99f,#f5b89d,#f5b79b,#f5b599,#f5b498,#f5b396,#f4b294,#f4b092,#f4af91,#f4af90,#f4ae8f,#f4ae8f,#f4ae8f,#f4ae8f,#f4af90,#f4af91,#f4b092,#f4b092,#f4b193,#f4b194,#f4b295,#f5b396,#f5b498,#f5b599,#f5b69b,#f5b79c,#f5b89e,#f5b99f,#f5baa0,#f5bba2,#f5bca3,#f5bea5,#f5bfa7,#f5c0a9,#f5c1aa,#f5c2ab,#f5c2ab,#f5c2ac,#f5c3ac,#f5c4ae,#f5c5af,#f5c6b1,#f5c8b3,#f5c9b5,#f5c8b4,#f5c8b4,#f5c8b5)"></i><i style="background:linear-gradient(#f5b79c,#f5b69a,#f5b498,#f5b396,#f4b193,#f4b091,#f4ae8f,#f4ad8d,#f4ab8b,#f4aa89,#f4a988,#f4a887,#f4a886,#f4a886,#f4a887,#f4a988,#f4aa89,#f4ab8b,#f4ac8c,#f4ad8d,#f4ad8e,#f4ae8f,#f4ae8f,#f4af90,#f4b091,#f4b193,#f4b294,#f5b396,#f5b497,#f5b599,#f5b69a,#f5b79c,#f5b89e,#f5baa0,#f5bba1,#f5bca3,#f5bda4,#f5bea6,#f5bfa7,#f5bfa8,#f5c0a9,#f5c1aa,#f5c2ac,#f5c4ae,#f5c5b0,#f5c6b1,#f5c6b1,#f5c5b0,#f5c6b0)"></i><i style="background:linear-gradient(#f5b396,#f4b194,#f4b092,#f4ae8f,#f4ad8d,#f4ab8b,#f4a988,#f4a886,#f4a784,#f4a583,#f4a481,#f3a381,#f3a280,#f3a280,#f4a481,#f4a582,#f4a684,#f4a886,#f4a987,#f4aa89,#f4aa8a,#f4ab8a,#f4ab8b,#f4ac8c,#f4ac8c,#f4ad8d,#f4ae8f,#f4af90,#f4b092,#f4b193,#f4b295,#f5b396,#f5b598,#f5b69a,#f5b79c,#f5b89e,#f5ba9f,#f5bba1,#f5bba2,#f5bca3,#f5bda5,#f5bea6,#f5c0a8,#f5c1aa,#f5c2ac,#f5c3ad,#f5c3ad,#f5c3ad,#f5c3ad)"></i><i style="background:linear-gradient(#f4b092,#f4ae8f,#f4ad8d,#f4ab8b,#f4a988,#f4a886,#f4a683,#f4a481,#f3a180,#f29f7e,#f29d7d,#f29c7d,#f29c7d,#f29c7d,#f29e7e,#f3a07f,#f3a280,#f4a582,#f4a684,#f4a785,#f4a886,#f4a887,#f4a988,#f4a988,#f4aa89,#f4aa89,#f4ab8a,#f4ac8c,#f4ad8d,#f4ae8e,#f4af90,#f4b091,#f4b193,#f4b295,#f5b497,#f5b599,#f5b69a,#f5b79c,#f5b89e,#f5b99f,#f5bba1,#f5bca2,#f5bda4,#f5bea6,#f5bfa7,#f5c0a8,#f5c0a9,#f5c0a9,#f5c0a9)"></i><i style="background:linear-gradient(#f4ae8f,#f4ac8d,#f4aa8a,#f4a987,#f4a785,#f4a582,#f3a280,#f29f7e,#f29c7d,#f19a7b,#f1987a,#f1977a,#f1977a,#f1987a,#f19a7b,#f29c7c,#f29e7e,#f3a17f,#f4a381,#f4a582,#f4a683,#f4a784,#f4a785,#f4a785,#f4a886,#f4a887,#f4a987,#f4a988,#f4aa89,#f4ab8b,#f4ac8c,#f4ad8d,#f4ae8f,#f4af91,#f4b092,#f4b294,#f5b396,#f5b498,#f5b599,#f5b79b,#f5b89d,#f5b99f,#f5baa0,#f5bba2,#f5bca3,#f5bda4,#f5bda5,#f5bda5,#f5bda5)"></i><i style="background:linear-gradient(#f4ad8d,#f4ab8b,#f4a988,#f4a785,#f4a582,#f3a280,#f29e7e,#f29b7c,#f1997b,#f09779,#f09579,#f09478,#f09478,#f09579,#f0977a,#f1997b,#f29b7c,#f29e7e,#f3a07f,#f3a381,#f4a482,#f4a582,#f4a683,#f4a684,#f4a684,#f4a784,#f4a785,#f4a886,#f4a886,#f4a987,#f4aa89,#f4aa8a,#f4ab8b,#f4ad8d,#f4ae8e,#f4af90,#f4b092,#f4b194,#f4b395,#f5b497,#f5b599,#f5b69b,#f5b89d,#f5b99e,#f5ba9f,#f5baa0,#f5bba1,#f5bba1,#f5bba1)"></i><i style="background:linear-gradient(#f4ac8c,#f4aa89,#f4a887,#f4a684,#f4a481,#f3a07f,#f29c7d,#f1997b,#f0977a,#f09578,#ef9377,#ef9377,#ef9377,#f09478,#f09578,#f0977a,#f1997b,#f29c7d,#f29e7e,#f3a17f,#f3a381,#f4a481,#f4a582,#f4a582,#f4a582,#f4a583,#f4a683,#f4a683,#f4a684,#f4a785,#f4a886,#f4a887,#f4a988,#f4aa8a,#f4ab8b,#f4ac8d,#f4ae8e,#f4af90,#f4b092,#f4b194,#f4b395,#f5b497,#f5b599,#f5b69b,#f5b79c,#f5b89d,#f5b89d,#f5b89d,#f5b89d)"></i><i style="background:linear-gradient(#f4ac8c,#f4aa89,#f4a886,#f4a683,#f3a381,#f29f7e,#f29b7c,#f1987a,#f09679,#f09478,#ef9377,#ef9377,#ef9377,#ef9377,#f09478,#f09679,#f1987a,#f19b7c,#f29d7e,#f3a07f,#f3a280,#f3a381,#f4a481,#f4a481,#f4a481,#f4a482,#f4a482,#f4a582,#f4a582,#f4a683,#f4a684,#f4a785,#f4a886,#f4a887,#f4a988,#f4aa8a,#f4ac8b,#f4ad8d,#f4ae8f,#f4af90,#f4b092,#f4b294,#f5b396,#f5b497,#f5b599,#f5b599,#f5b599,#f5b599,#f5b599)"></i><i style="background:linear-gradient(#f4ab8b,#f4aa89,#f4a886,#f4a683,#f3a280,#f29e7e,#f19b7c,#f1987a,#f09579,#ef9377,#ef9377,#ef9377,#ef9377,#ef9377,#f09478,#f09579,#f1987a,#f19a7c,#f29d7d,#f39f7f,#f3a180,#f3a280,#f3a381,#f4a381,#f3a381,#f3a381,#f3a381,#f3a381,#f4a381,#f4a481,#f4a482,#f4a582,#f4a683,#f4a784,#f4a886,#f4a987,#f4aa89,#f4ab8a,#f4ac8c,#f4ad8e,#f4ae8f,#f4b091,#f4b193,#f4b295,#f5b396,#f5b396,#f5b396,#f5b396,#f4b295)"></i><i style="background:linear-gradient(#f4ab8b,#f4aa89,#f4a886,#f4a683,#f3a280,#f29e7e,#f19b7c,#f1987a,#f09579,#ef9377,#ef9377,#ef9377,#ef9377,#ef9377,#f09378,#f09579,#f1977a,#f19a7b,#f29c7d,#f29f7e,#f3a180,#f3a280,#f3a280,#f3a280,#f3a280,#f3a180,#f3a180,#f3a180,#f3a180,#f3a180,#f3a280,#f3a381,#f4a481,#f4a582,#f4a684,#f4a785,#f4a886,#f4a988,#f4aa89,#f4ab8b,#f4ad8d,#f4ae8f,#f4af90,#f4b092,#f4b194,#f4b194,#f4b193,#f4b092,#f4b092)"></i><i style="background:linear-gradient(#f4ab8a,#f4a988,#f4a786,#f4a583,#f3a280,#f29e7e,#f19b7c,#f1987a,#f09579,#ef9377,#ef9377,#ef9377,#ef9377,#ef9377,#ef9377,#f09578,#f0977a,#f1997b,#f29c7d,#f29e7e,#f3a07f,#f3a180,#f3a180,#f3a180,#f3a07f,#f3a07f,#f3a07f,#f39f7f,#f39f7f,#f39f7f,#f3a07f,#f3a17f,#f3a280,#f3a381,#f4a482,#f4a583,#f4a684,#f4a785,#f4a887,#f4aa89,#f4ab8a,#f4ac8c,#f4ad8e,#f4af90,#f4af91,#f4af91,#f4ae90,#f4ae8e,#f4ad8e)"></i><i style="background:linear-gradient(#f4aa89,#f4a987,#f4a785,#f4a582,#f3a180,#f29e7e,#f19a7c,#f1987a,#f09579,#f09378,#ef9377,#ef9377,#ef9377,#ef9377,#ef9377,#f09578,#f09679,#f1997b,#f19b7c,#f29d7d,#f29f7e,#f3a07f,#f3a07f,#f39f7f,#f29f7e,#f29e7e,#f29e7e,#f29d7e,#f29d7d,#f29d7d,#f29e7e,#f29e7e,#f39f7f,#f3a07f,#f3a280,#f3a381,#f4a582,#f4a683,#f4a785,#f4a886,#f4a988,#f4aa89,#f4ab8b,#f4ac8c,#f4ad8d,#f4ad8d,#f4ac8c,#f4ac8b,#f4ab8b)"></i></div></div>
<div class="p" style="left:305px;top:294px;width:137px;height:137px"><div style="height:144px;width:144px"><i style="background:linear-gradient(#f6cfbe,#f6d4c4,#f6d9cc,#f6ddd2,#f6e1d8,#f6e4db,#f6e5de,#f6e7e0,#f6e8e1,#f6e9e3,#f7eae4,#f7ebe5,#f7ece7,#f7eeea,#f7efec,#f7f1ee,#f7f3f1,#f7f4f3,#f7f6f6,#f6f6f7,#f3f5f6,#f1f4f5,#eef2f5,#ebf1f4,#e8f0f3,#e6eef3,#e3edf2,#e0ecf1,#deebf1,#dbe9f0,#d9e8f0,#d7e7ef,#d5e6ef,#d3e5ee,#d2e5ee,#d1e4ee,#d0e4ed,#d0e4ed,#cfe3ed,#cfe3ed,#cfe3ed,#cee3ed,#cee3ed,#cde2ed,#cce2ec,#cce1ec,#cae1ec,#c8e0eb,#c6dfeb)"></i><i style="background:linear-gradient(#f6cebd,#f6d3c3,#f6d8ca,#f6dcd1,#f6e0d6,#f6e3da,#f6e5dd,#f6e6df,#f6e7e0,#f6e8e2,#f6e9e3,#f7eae4,#f7ebe6,#f7ede9,#f7efeb,#f7f0ed,#f7f2f0,#f7f4f2,#f7f5f5,#f7f7f7,#f5f6f6,#f2f5f6,#eff3f5,#edf2f4,#eaf1f4,#e7eff3,#e5eef2,#e2edf2,#dfebf1,#dceaf0,#dae8f0,#d7e7ef,#d5e6ef,#d3e5ee,#d2e5ee,#d1e4ee,#d0e4ed,#cfe3ed,#cfe3ed,#cfe3ed,#cee3ed,#cee3ed,#cde2ed,#cde2ed,#cce2ec,#cbe1ec,#c9e0ec,#c8e0eb,#c5deeb)"></i><i style="background:linear-gradient(#f5cdbc,#f6d2c2,#f6d6c9,#f6dbcf,#f6dfd4,#f6e2d8,#f6e4dc,#f6e5de,#f6e7df,#f6e8e1,#f6e8e2,#f7eae4,#f7ebe6,#f7ece8,#f7eeea,#f7f0ed,#f7f1ef,#f7f3f1,#f7f5f4,#f7f6f6,#f6f6f7,#f4f5f6,#f1f4f6,#eff3f5,#ecf2f4,#e9f0f4,#e6eff3,#e4edf2,#e0ecf1,#ddeaf1,#dae9f0,#d7e7ef,#d5e6ef,#d3e5ee,#d1e4ee,#d0e4ed,#cfe3ed,#cfe3ed,#cee3ed,#cee3ed,#cde2ed,#cde2ed,#cce2ec,#cce1ec,#cbe1ec,#c9e0ec,#c8e0eb,#c6dfeb,#c4deea)"></i><i style="background:linear-gradient(#f5cdba,#f6d1c1,#f6d5c7,#f6dacd,#f6ddd2,#f6e0d7,#f6e3da,#f6e4dc,#f6e6de,#f6e7e0,#f6e8e2,#f6e9e3,#f7ebe5,#f7ece8,#f7eeea,#f7efec,#f7f1ee,#f7f2f0,#f7f4f3,#f7f5f5,#f7f7f7,#f5f6f7,#f3f5f6,#f1f4f5,#eef3f5,#ecf1f4,#e9f0f3,#e5eef3,#e2edf2,#deebf1,#dbe9f0,#d8e8ef,#d5e6ef,#d3e5ee,#d1e4ee,#d0e4ed,#cfe3ed,#cee3ed,#cde2ed,#cde2ed,#cce2ec,#cce2ec,#cbe1ec,#cae1ec,#c9e0ec,#c8e0eb,#c6dfeb,#c4deea,#c2ddea)"></i><i style="background:linear-gradient(#f5ccb9,#f6d0bf,#f6d4c5,#f6d8cb,#f6dcd0,#f6dfd5,#f6e1d8,#f6e3db,#f6e5dd,#f6e6df,#f6e8e1,#f6e9e3,#f7eae5,#f7ece7,#f7eeea,#f7efec,#f7f1ee,#f7f2f0,#f7f3f2,#f7f5f4,#f7f6f6,#f7f7f7,#f5f6f6,#f3f5f6,#f1f4f5,#eef3f5,#ebf1f4,#e8eff3,#e4eef2,#e0ecf1,#dceaf0,#d8e8ef,#d5e6ef,#d3e5ee,#d1e4ee,#cfe3ed,#cee3ed,#cde2ed,#cce2ec,#cce2ec,#cbe1ec,#cae1ec,#c9e0ec,#c8e0eb,#c7dfeb,#c6deeb,#c4deea,#c2ddea,#c0dce9)"></i><i style="background:linear-gradient(#f5cbb8,#f6cfbe,#f6d3c3,#f6d7c9,#f6dace,#f6ded3,#f6e0d6,#f6e2da,#f6e4dc,#f6e6de,#f6e7e0,#f6e9e3,#f7eae5,#f7ece7,#f7ede9,#f7efec,#f7f1ee,#f7f2f0,#f7f3f2,#f7f4f3,#f7f6f5,#f7f7f6,#f6f7f7,#f5f6f6,#f3f5f6,#f1f4f5,#eef2f5,#eaf1f4,#e6eff3,#e2edf2,#deeaf1,#d9e8f0,#d6e7ef,#d3e5ee,#d1e4ee,#cfe3ed,#cee2ed,#cce2ec,#cbe1ec,#cae1ec,#c9e0ec,#c8e0eb,#c7dfeb,#c6dfeb,#c5deeb,#c3ddea,#c1ddea,#c0dce9,#bedbe9)"></i><i style="background:linear-gradient(#f5cab6,#f5cebc,#f6d2c2,#f6d5c7,#f6d9cc,#f6dcd0,#f6dfd4,#f6e1d8,#f6e3db,#f6e5dd,#f6e6df,#f6e8e2,#f7eae4,#f7ece7,#f7ede9,#f7efec,#f7f1ee,#f7f2f0,#f7f3f2,#f7f4f3,#f7f5f5,#f7f6f6,#f7f7f7,#f6f7f7,#f5f6f6,#f3f5f6,#f0f4f5,#edf2f5,#e9f0f4,#e4eef2,#e0ebf1,#dbe9f0,#d7e7ef,#d4e6ee,#d1e4ee,#cfe3ed,#cde2ed,#cce2ec,#cae1ec,#c9e0ec,#c8dfeb,#c6dfeb,#c5deeb,#c4deea,#c2ddea,#c1dcea,#bfdbe9,#bddae9,#bbdae8)"></i><i style="background:linear-gradient(#f5c9b5,#f5cdba,#f6d0c0,#f6d4c5,#f6d7ca,#f6dace,#f6ddd2,#f6e0d6,#f6e2d9,#f6e4dc,#f6e6de,#f6e7e1,#f7e9e4,#f7ebe6,#f7ede9,#f7efec,#f7f1ee,#f7f2f0,#f7f4f2,#f7f5f4,#f7f5f5,#f7f6f6,#f7f7f6,#f7f7f7,#f6f7f7,#f5f6f7,#f3f5f6,#f0f4f5,#ecf2f4,#e7eff3,#e2edf2,#ddeaf1,#d9e8ef,#d5e6ef,#d2e5ee,#d0e4ed,#cde2ed,#cbe1ec,#c9e0ec,#c7dfeb,#c6dfeb,#c4deea,#c3ddea,#c1dcea,#c0dce9,#bedbe9,#bcdae9,#bbd9e8,#b9d8e8)"></i><i style="background:linear-gradient(#f5c8b3,#f5cbb9,#f6cfbe,#f6d2c3,#f6d6c7,#f6d9cc,#f6dcd0,#f6ded4,#f6e1d7,#f6e3da,#f6e5dd,#f6e7e0,#f6e9e3,#f7ebe6,#f7ede9,#f7efec,#f7f1ef,#f7f3f1,#f7f4f3,#f7f5f4,#f7f6f5,#f7f6f6,#f7f7f7,#f7f7f7,#f7f7f7,#f7f7f7,#f5f6f7,#f3f5f6,#eff3f5,#eaf1f4,#e5eef3,#e0ecf1,#dbe9f0,#d7e7ef,#d4e6ee,#d1e4ee,#cee3ed,#cbe1ec,#c9e0ec,#c6dfeb,#c4deea,#c2ddea,#c0dce9,#bfdbe9,#bddae9,#bbdae8,#bad9e8,#b8d8e7,#b7d7e7)"></i><i style="background:linear-gradient(#f5c7b2,#f5cab7,#f5cebc,#f6d1c1,#f6d4c5,#f6d7ca,#f6dace,#f6ddd2,#f6dfd5,#f6e1d8,#f6e3db,#f6e6de,#f6e8e1,#f7eae5,#f7ede9,#f7efec,#f7f2ef,#f7f3f2,#f7f5f4,#f7f6f5,#f7f6f6,#f7f7f7,#f6f7f7,#f6f6f7,#f6f7f7,#f7f7f7,#f7f7f7,#f5f6f7,#f2f4f6,#eef2f5,#e9f0f3,#e4edf2,#dfebf1,#dae9f0,#d6e7ef,#d3e5ee,#cfe3ed,#cce2ec,#c8e0eb,#c5deeb,#c2ddea,#c0dce9,#bedbe9,#bcdae8,#bad9e8,#b9d8e8,#b7d7e7,#b6d7e7,#b5d6e7)"></i><i style="background:linear-gradient(#f5c6b1,#f5cab6,#f5cdbb,#f6d0bf,#f6d3c4,#f6d6c8,#f6d9cc,#f6dbcf,#f6ded3,#f6e0d6,#f6e2d9,#f6e4dc,#f6e7e0,#f7eae4,#f7ede8,#f7f0ec,#f7f2f0,#f7f4f3,#f7f5f5,#f7f6f6,#f7f7f7,#f6f7f7,#f5f6f7,#f4f6f6,#f4f6f6,#f5f6f7,#f7f7f7,#f7f7f7,#f4f6f6,#f1f4f5,#ecf2f4,#e7eff3,#e2edf2,#deeaf1,#d9e8f0,#d5e6ef,#d1e4ee,#cde2ed,#c9e0ec,#c5deeb,#c1dcea,#bedbe9,#bcdae8,#bad9e8,#b8d8e7,#b6d7e7,#b5d6e7,#b4d6e7,#b4d6e6)"></i><i style="background:linear-gradient(#f5c6b1,#f5c9b5,#f5ccba,#f6cfbe,#f6d2c3,#f6d5c7,#f6d8ca,#f6dace,#f6dcd1,#f6ded4,#f6e0d7,#f6e3da,#f6e5de,#f6e9e2,#f7ece7,#f7f0ec,#f7f3f1,#f7f5f4,#f7f6f6,#f7f7f7,#f7f7f7,#f7f7f7,#f6f6f7,#f4f5f6,#f1f4f6,#f2f5f6,#f6f6f7,#f7f7f7,#f6f6f7,#f3f5f6,#eff3f5,#ebf1f4,#e6eff3,#e1ecf2,#dceaf0,#d7e7ef,#d3e5ee,#cee3ed,#c9e0ec,#c5deeb,#c0dce9,#bddae9,#bbd9e8,#b9d8e8,#b7d7e7,#b5d6e7,#b4d6e6,#b4d6e6,#b3d5e6)"></i><i style="background:linear-gradient(#f5c5b0,#f5c9b5,#f5ccba,#f6cfbe,#f6d2c2,#f6d5c6,#f6d7c9,#f6d9cc,#f6dbcf,#f6ddd1,#f6dfd4,#f6e1d7,#f6e4db,#f6e7e0,#f7ebe6,#f7efec,#f7f3f2,#f7f6f6,#f6f7f7,#f6f7f7,#f7f7f7,#f7f6f6,#f7f6f5,#f7f7f7,#f2f5f6,#f2f4f6,#f5f6f7,#f7f7f6,#f7f7f7,#f5f6f6,#f2f4f6,#eef2f5,#e9f0f3,#e4edf2,#dfebf1,#dae9f0,#d5e6ef,#d0e4ed,#cae1ec,#c6dfeb,#c1dcea,#bddae9,#bbd9e8,#b9d8e8,#b7d7e7,#b6d7e7,#b5d6e7,#b4d6e6,#b3d6e6)"></i><i style="background:linear-gradient(#f5c5b0,#f5c9b5,#f5ccba,#f6cfbe,#f6d2c2,#f6d4c6,#f6d6c9,#f6d8cb,#f6dacd,#f6dbcf,#f6ddd2,#f6dfd5,#f6e2d8,#f6e5dd,#f7e9e4,#f7eeeb,#f7f3f2,#f7f7f7,#f5f6f6,#f5f6f7,#f7f7f7,#f7f5f4,#f7f3f1,#f7f0ed,#f7efeb,#f6f7f7,#f7f7f7,#f7f5f5,#f7f5f5,#f7f7f7,#f3f5f6,#eff3f5,#eaf1f4,#e5eef3,#e0ecf1,#dbe9f0,#d6e7ef,#d1e4ee,#cce2ec,#c7dfeb,#c3ddea,#bfdbe9,#bddae9,#bbd9e8,#b9d8e8,#b7d8e7,#b6d7e7,#b5d6e7,#b5d6e7)"></i><i style="background:linear-gradient(#f5c6b0,#f5c9b6,#f5cdbb,#f6d0bf,#f6d2c3,#f6d5c6,#f6d6c9,#f6d8cb,#f6d9cc,#f6dace,#f6dbd0,#f6ddd2,#f6dfd5,#f6e2da,#f6e7e0,#f7ece8,#f7f2f0,#f7f7f7,#f4f6f6,#f4f6f6,#f6f7f7,#f7f5f5,#f7f3f1,#f7f0ed,#f7f1ee,#f7f6f6,#f6f6f7,#f6f7f7,#f6f7f7,#f4f6f6,#f0f4f5,#ecf2f4,#e8f0f3,#e4eef2,#e0ebf1,#dbe9f0,#d6e7ef,#d1e4ee,#cde2ed,#c8e0eb,#c5deeb,#c2ddea,#bfdbe9,#bddae9,#bcdae8,#bad9e8,#b9d8e8,#b7d8e7,#b6d7e7)"></i><i style="background:linear-gradient(#f5c6b1,#f5cab6,#f5cdbc,#f6d0c0,#f6d3c4,#f6d5c7,#f6d7c9,#f6d8cb,#f6d9cc,#f6dacd,#f6dace,#f6dbd0,#f6ddd2,#f6e0d6,#f6e4db,#f6e9e3,#f7f0ed,#f7f6f5,#f4f6f6,#f4f5f6,#f5f6f6,#f7f7f7,#f7f6f6,#f7f6f5,#f5f6f7,#f0f4f5,#ecf1f4,#eaf1f4,#eaf0f4,#e9f0f4,#e8f0f3,#e6eff3,#e4eef2,#e1ecf1,#dceaf0,#d8e8ef,#d5e6ee,#d1e4ed,#cde2ed,#c9e0ec,#c6dfeb,#c4deea,#c2ddea,#c0dce9,#bedbe9,#bddae9,#bbd9e8,#bad9e8,#b8d8e7)"></i><i style="background:linear-gradient(#f5c6b1,#f5cab7,#f6cebd,#f6d1c1,#f6d4c5,#f6d6c8,#f6d8cb,#f6d9cc,#f6dacd,#f6dacd,#f6dace,#f6dace,#f6dbcf,#f6ddd2,#f6e0d6,#f6e5de,#f7ece8,#f7f3f2,#f6f6f7,#f4f5f6,#f3f5f6,#f3f5f6,#f2f5f6,#f0f3f5,#eaf1f4,#e4eef2,#deebf1,#dbe9f0,#dae9f0,#dbe9f0,#ddeaf0,#ddeaf1,#ddeaf0,#dae9f0,#d7e7ef,#d4e6ee,#d2e4ee,#cfe3ed,#cce2ec,#cae1ec,#c8e0eb,#c5deeb,#c4deea,#c2ddea,#c1dcea,#bfdbe9,#bedbe9,#bcdae8,#bad9e8)"></i><i style="background:linear-gradient(#f5c6b2,#f5cbb8,#f6cfbe,#f6d3c3,#f6d6c7,#f6d8cb,#f6d9cd,#f6dace,#f6dbcf,#f6dbcf,#f6dbcf,#f6dbce,#f6dbcf,#f6dbd0,#f6ded3,#f6e2d9,#f6e9e3,#f7f0ed,#f7f6f5,#f5f6f7,#f3f5f6,#f1f4f5,#edf2f5,#e8eff3,#e1ecf2,#dae9f0,#d4e6ee,#d1e4ed,#cfe3ed,#d0e4ed,#d1e4ee,#d1e4ee,#d1e4ee,#d0e4ed,#cfe3ed,#cfe3ed,#cee3ed,#cde2ed,#cbe1ec,#cae1ec,#c8e0eb,#c7dfeb,#c5deeb,#c4deea,#c3ddea,#c1dcea,#c0dce9,#bedbe9,#bcdae8)"></i><i style="background:linear-gradient(#f5c7b2,#f5ccb9,#f6d0c0,#f6d4c5,#f6d7ca,#f6dacd,#f6dcd0,#f6dcd1,#f6ddd2,#f6ddd2,#f6ddd2,#f6ddd1,#f6dcd1,#f6ddd1,#f6ded4,#f6e2d9,#f6e8e2,#f7eeea,#f7f3f1,#f7f7f7,#f4f5f6,#eff3f5,#eaf0f4,#e3edf2,#dbe9f0,#d4e6ee,#cfe3ed,#cbe1ec,#c9e0ec,#c8e0eb,#c7dfeb,#c5deeb,#c5deeb,#c5deeb,#c7dfeb,#c9e0ec,#cae1ec,#cae1ec,#cae1ec,#c9e0ec,#c9e0ec,#c8e0eb,#c7dfeb,#c5deeb,#c4deea,#c3ddea,#c1dcea,#bfdbe9,#bddae9)"></i><i style="background:linear-gradient(#f5c7b2,#f5ccba,#f6d1c1,#f6d6c7,#f6d9cd,#f6dcd1,#f6ded3,#f6dfd5,#f6e0d6,#f6e0d6,#f6e0d7,#f6e0d7,#f6e1d7,#f6e1d8,#f6e3db,#f6e6df,#f7eae5,#f7eeeb,#f7f2ef,#f7f5f4,#f5f6f7,#f0f3f5,#e8f0f3,#e1ecf1,#d9e8f0,#d3e5ee,#cee3ed,#c9e0ec,#c5deeb,#c2ddea,#bfdbe9,#bcdae8,#bbd9e8,#bcdae9,#c0dce9,#c3ddea,#c6dfeb,#c8e0eb,#c8e0eb,#c9e0ec,#c9e0eb,#c8e0eb,#c7dfeb,#c6dfeb,#c5deeb,#c4deea,#c2ddea,#c0dce9,#bedbe9)"></i><i style="background:linear-gradient(#f5c6b2,#f5ccba,#f6d2c2,#f6d7c9,#f6dbcf,#f6ded4,#f6e0d7,#f6e2d9,#f6e3da,#f6e4dc,#f6e5dd,#f6e6df,#f6e7e0,#f6e9e3,#f7eae5,#f7ede8,#f7efeb,#f7f1ee,#f7f2f0,#f7f3f2,#f7f7f7,#f0f4f5,#e8f0f3,#e1ecf1,#dae9f0,#d5e6ef,#cfe3ed,#cae1ec,#c4deea,#c0dce9,#bbd9e8,#b7d7e7,#b6d7e7,#b8d8e7,#bcdae8,#c0dce9,#c3ddea,#c5deeb,#c6dfeb,#c7dfeb,#c8e0eb,#c8e0eb,#c8e0eb,#c7dfeb,#c6dfeb,#c5deeb,#c3ddea,#c1dcea,#bfdbe9)"></i><i style="background:linear-gradient(#f5c6b1,#f5ccba,#f6d2c3,#f6d8ca,#f6dcd1,#f6e0d6,#f6e2da,#f6e4dc,#f6e6de,#f6e7e0,#f6e9e3,#f7ebe6,#f7eeea,#f7f0ed,#f7f2f0,#f7f4f2,#f7f5f4,#f7f5f5,#f7f6f5,#f7f6f6,#f5f6f7,#edf2f5,#e6eff3,#e1ecf2,#dceaf0,#d8e8ef,#d3e5ee,#cce2ec,#c5deeb,#bedbe9,#b8d8e7,#b4d6e7,#b3d5e6,#b5d6e7,#b8d8e8,#bddae9,#c0dce9,#c2ddea,#c4deea,#c6dfeb,#c7dfeb,#c7dfeb,#c7dfeb,#c7dfeb,#c6dfeb,#c5deeb,#c3ddea,#c1dcea,#bfdce9)"></i><i style="background:linear-gradient(#f5c4af,#f5cbb9,#f6d1c1,#f6d7c9,#f6dcd0,#f6e0d6,#f6e3db,#f6e5de,#f6e7e0,#f6e9e3,#f7ebe7,#f7efeb,#f7f3f1,#f7f6f6,#f6f7f7,#f5f6f6,#f3f5f6,#f2f4f6,#eff3f5,#ecf1f4,#e7eff3,#e3edf2,#e1ecf2,#dfebf1,#deebf1,#dbe9f0,#d7e7ef,#d0e4ed,#c7dfeb,#bedbe9,#b7d7e7,#b3d5e6,#b2d5e6,#b3d5e6,#b5d7e7,#b9d8e8,#bddae9,#bfdbe9,#c1dcea,#c3ddea,#c5deeb,#c6dfeb,#c6dfeb,#c6dfeb,#c5deeb,#c4deea,#c3ddea,#c1dcea,#c0dce9)"></i><i style="background:linear-gradient(#f5c0a9,#f5c8b4,#f5cebc,#f6d4c5,#f6d9cd,#f6ded4,#f6e2d9,#f6e5dd,#f6e7e0,#f6e9e3,#f7ebe6,#f7efec,#f7f4f2,#f6f7f7,#f4f6f6,#f3f5f6,#f0f4f5,#ecf2f4,#e5eef3,#ddeaf1,#d7e7ef,#d8e8ef,#dbe9f0,#dceaf0,#ddeaf1,#ddeaf1,#dbe9f0,#d4e6ee,#cbe1ec,#c1dcea,#b9d8e8,#b4d6e6,#b1d5e6,#b1d5e6,#b3d5e6,#b6d7e7,#b9d8e8,#bcdae8,#bedbe9,#c0dce9,#c2ddea,#c4deea,#c5deeb,#c5deeb,#c4deea,#c3ddea,#c2ddea,#c1dcea,#bfdbe9)"></i><i style="background:linear-gradient(#f5ba9f,#f5c1aa,#f5c8b3,#f6cebd,#f6d4c6,#f6dace,#f6dfd5,#f6e2d9,#f6e4dc,#f6e6df,#f6e9e2,#f7ece7,#f7efec,#f7f3f1,#f7f6f5,#f6f6f7,#f2f5f6,#ebf1f4,#e0ebf1,#d3e5ee,#cce2ec,#cfe3ed,#d5e6ef,#d7e7ef,#dae9f0,#ddeaf1,#ddeaf1,#d8e8ef,#d0e4ed,#c6dfeb,#bddae9,#b7d7e7,#b3d5e6,#b2d5e6,#b2d5e6,#b4d6e6,#b6d7e7,#b8d8e7,#bad9e8,#bbd9e8,#bddbe9,#c0dce9,#c1dcea,#c2ddea,#c2ddea,#c2ddea,#c1dcea,#c0dce9,#bfdbe9)"></i><i style="background:linear-gradient(#f4b193,#f5b89d,#f5bfa7,#f5c6b2,#f5cdbc,#f6d4c5,#f6d9cd,#f6ded3,#f6e0d7,#f6e2d9,#f6e4dc,#f6e6df,#f6e9e3,#f7ece7,#f7eeea,#f7f1ee,#f7f4f3,#f3f5f6,#e3edf2,#cfe3ed,#c3ddea,#c6dfeb,#cde2ed,#cee2ed,#d3e5ee,#dae9f0,#ddeaf1,#dbe9f0,#d5e6ef,#cee2ed,#c5deeb,#bddae9,#b7d7e7,#b4d6e7,#b4d6e6,#b4d6e6,#b5d6e7,#b6d7e7,#b6d7e7,#b6d7e7,#b6d7e7,#bad9e8,#bddae9,#bfdbe9,#c0dce9,#c0dce9,#c0dce9,#c0dce9,#bedbe9)"></i><i style="background:linear-gradient(#f4a785,#f4ae8f,#f5b599,#f5bca3,#f5c4ae,#f5cbb9,#f6d2c2,#f6d7ca,#f6dbcf,#f6ded3,#f6dfd5,#f6e1d7,#f6e2d9,#f6e4dc,#f6e6df,#f6e8e2,#f7ebe6,#f7efeb,#f7f7f7,#e1ecf2,#cae1ec,#c1dcea,#c1dcea,#c4deea,#cde2ed,#d8e8ef,#deebf1,#deebf1,#dbe9f0,#d6e7ef,#cfe3ed,#c6dfeb,#bfdbe9,#bad9e8,#b7d7e7,#b6d7e7,#b6d7e7,#b5d6e7,#b4d6e7,#b3d5e6,#b3d5e6,#b5d6e7,#b9d8e8,#bbd9e8,#bddae9,#bedbe9,#bfdbe9,#bfdbe9,#bedbe9)"></i><i style="background:linear-gradient(#ef9277,#f3a180,#f4aa89,#f4b193,#f5b99f,#f5c1aa,#f5c9b5,#f6d0bf,#f6d6c7,#f6dace,#f6ddd2,#f6dfd4,#f6dfd5,#f6e0d6,#f6e1d7,#f6e2d9,#f6e3db,#f6e5dd,#f6e7e0,#f7ece8,#f6f7f7,#e3edf2,#d6e7ef,#d3e5ee,#d8e7ef,#e0ecf1,#e4eef2,#e4edf2,#e1ecf2,#deebf1,#d9e8f0,#d1e4ee,#c9e0ec,#c2ddea,#bddae9,#bad9e8,#b8d8e7,#b7d7e7,#b5d6e7,#b3d5e6,#b2d5e6,#b3d5e6,#b6d7e7,#b8d8e8,#bbd9e8,#bcdae9,#bddbe9,#bedbe9,#bddae9)"></i><i style="background:linear-gradient(#e97867,#ed8871,#f09679,#f4a582,#f4ad8d,#f5b599,#f5bea6,#f5c7b2,#f6cfbd,#f6d6c8,#f6dcd0,#f6e0d7,#f6e2d9,#f6e2d8,#f6e0d7,#f6e0d6,#f6e0d6,#f6e1d7,#f6e1d8,#f6e2d9,#f6e3db,#f6e6df,#f7eae5,#f7f0ed,#f7f5f4,#f5f6f6,#f1f4f5,#edf2f4,#e8f0f3,#e4eef2,#e0ecf1,#dae9f0,#d2e5ee,#cae1ec,#c4deea,#c0dce9,#bcdae8,#b9d8e8,#b6d7e7,#b3d5e6,#b2d5e6,#b2d5e6,#b4d6e6,#b7d7e7,#b9d8e8,#bbd9e8,#bddae9,#bddae9,#bddae9)"></i><i style="background:linear-gradient(#e15a55,#e5695e,#e97968,#ed8971,#f1997b,#f4a886,#f4b193,#f5bba1,#f5c5af,#f6cfbe,#f6dacd,#f6e2da,#f6e7e0,#f6e7e0,#f6e4dc,#f6e1d7,#f6dfd4,#f6ded4,#f6dfd5,#f6e1d7,#f6e3db,#f6e6de,#f6e7e0,#f6e8e1,#f6e9e3,#f7ebe5,#f7eeea,#f7f3f2,#f4f5f6,#ecf2f4,#e6eff3,#e0ecf1,#d9e8f0,#d0e4ed,#c8e0eb,#c4deea,#c0dce9,#bcdae8,#b7d7e7,#b3d5e6,#b1d4e6,#b1d5e6,#b3d5e6,#b6d7e7,#b8d8e7,#bad9e8,#bcdae8,#bcdae8,#bcdae8)"></i><i style="background:linear-gradient(#d93a42,#dd4a4c,#e15a56,#e56b5f,#e97b69,#ed8b73,#f29d7e,#f4ab8b,#f5b69b,#f5c3ad,#f6d2c3,#f6e1d8,#f7eae5,#f7ebe6,#f6e6df,#f6e0d7,#f6dcd0,#f6d9cc,#f6d7c9,#f6d6c7,#f6d6c8,#f6dace,#f6dfd4,#f6e0d6,#f6dfd5,#f6ded3,#f6dfd4,#f6e2d9,#f7eae4,#f7f4f3,#f0f3f5,#e8eff3,#e0ecf1,#d6e7ef,#c6dfeb,#c0dce9,#bcdae8,#b9d8e8,#b3d6e6,#b0d4e6,#b0d4e5,#b1d4e6,#b3d5e6,#b6d7e7,#b8d8e7,#bad9e8,#bcdae8,#bcdae8,#bbdae8)"></i><i style="background:linear-gradient(#d0182f,#d42838,#d83842,#dd494b,#e15b56,#e66d61,#ea7d6a,#ee8f75,#f3a381,#f4b091,#f5c1aa,#f6d8ca,#f6e7e1,#f7eae5,#f6e4dc,#f6dcd0,#f6d5c7,#f6d0c0,#f5cbb8,#f5c4af,#f5bfa7,#f5bda4,#f5c0a8,#f5c6b1,#f5ccba,#f6d1c0,#f6d3c4,#f6d6c8,#f6dbcf,#f6e3db,#f7efec,#f3f5f6,#ebf1f4,#e3edf2,#c2ddea,#abd2e4,#aad1e4,#acd2e4,#add2e5,#aed3e5,#afd4e5,#b2d5e6,#b4d6e6,#b7d7e7,#b9d8e8,#bbd9e8,#bcdae8,#bcdae8,#bbd9e8)"></i><i style="background:linear-gradient(#ca0020,#cb0221,#cf142c,#d32536,#d83540,#dc484b,#e15c56,#e66e61,#ea7f6c,#ef9277,#f4a683,#f5baa0,#f6d6c8,#f6dfd5,#f6dacd,#f6d2c3,#f5cdbb,#f5c8b4,#f5c1ab,#f5bba1,#f5b599,#f5b396,#f5b497,#f5b69a,#f5bba2,#f5c2ab,#f5c9b5,#f5cebc,#f6d2c2,#f6d7ca,#f6e0d7,#f7ede9,#f6f6f7,#f2f5f6,#e8f0f3,#bedbe9,#acd2e4,#abd1e4,#add2e5,#b0d4e5,#b2d5e6,#b5d6e7,#b7d7e7,#b9d8e8,#bbd9e8,#bcdae8,#bddae9,#bddae9,#bbdae8)"></i><i style="background:linear-gradient(#ca0020,#ca0020,#ca0020,#cb0422,#cf122b,#d22134,#d7333e,#dc474a,#e15b56,#e66e61,#ea7f6c,#ef9277,#f4ad8e,#f5c6b0,#f5cbb8,#f5c9b5,#f5c7b2,#f5c1aa,#f5baa0,#f5b598,#f4b294,#f4b092,#f4af91,#f4ae8f,#f4ae90,#f5b396,#f5baa0,#f5c3ad,#f5cab7,#f6cfbe,#f6d6c7,#f6dfd5,#f7ece8,#f7f7f7,#f4f6f6,#e7eff3,#cfe3ed,#bfdbe9,#bad9e8,#b9d8e8,#bad9e8,#bbd9e8,#bcdae8,#bddae9,#bedbe9,#bedbe9,#bedbe9,#bddae9,#bcdae8)"></i><i style="background:linear-gradient(#ca0020,#ca0020,#ca0020,#ca0020,#ca0020,#ca0020,#cd0d28,#d11d31,#d6303d,#dc4649,#e15a55,#e56b60,#e97867,#f09378,#f5b99f,#f5c4ae,#f5bfa7,#f5b79c,#f4b194,#f4ae90,#f4ad8e,#f4ac8d,#f4ab8a,#f4a987,#f4a785,#f4a987,#f4ad8e,#f5b599,#f5bea5,#f5c6b1,#f5cdbb,#f6d4c5,#f6ded3,#f7ebe6,#f7f5f4,#f2f4f6,#e8eff3,#dbe9f0,#d0e4ed,#cae1ec,#c6dfeb,#c5deeb,#c4deea,#c3ddea,#c2ddea,#c1dcea,#c0dce9,#bedbe9,#bddae9)"></i><i style="background:linear-gradient(#ca0020,#ca0020,#ca0020,#ca0020,#ca0020,#ca0020,#ca0020,#ca0020,#cc0724,#d11a2f,#d62f3c,#dc4549,#e15955,#e3635b,#e56a5f,#ec846e,#f29d7d,#f4a582,#f4a683,#f4a785,#f4a786,#f4a886,#f4a784,#f4a582,#f3a280,#f3a280,#f4a683,#f4ab8a,#f4b294,#f5baa0,#f5c2ac,#f5cab6,#f6d2c2,#f6dcd0,#f6e7e0,#f7f1ee,#f5f6f7,#edf2f5,#e5eef2,#ddeaf1,#d6e7ef,#d1e4ee,#cee3ed,#cbe1ec,#c9e0eb,#c6dfeb,#c3ddea,#c1dcea,#bfdbe9)"></i><i style="background:linear-gradient(#ca0020,#ca0020,#ca0020,#ca0020,#ca0020,#ca0020,#ca0020,#ca0020,#ca0020,#ca0020,#cb0523,#d11a2f,#d62f3c,#dc4649,#e05854,#e3625a,#e77063,#eb806c,#ee8c73,#f09578,#f19a7c,#f29e7e,#f39f7f,#f29f7e,#f29d7e,#f29d7d,#f3a07f,#f4a582,#f4aa89,#f4b091,#f5b79c,#f5bfa7,#f5c7b2,#f6cfbe,#f6d7ca,#f6e0d7,#f6e9e3,#f7f0ee,#f7f6f6,#f1f4f5,#eaf0f4,#e3edf2,#dceaf0,#d7e7ef,#d2e5ee,#cee3ed,#c9e0ec,#c5deeb,#c2ddea)"></i><i style="background:linear-gradient(#ca0020,#ca0020,#ca0020,#ca0020,#ca0020,#ca0020,#ca0020,#ca0020,#ca0020,#ca0020,#ca0020,#ca0020,#cc0a26,#d11d31,#d6313d,#db4448,#df5352,#e3615a,#e66f62,#e97b69,#ec856f,#ee8d73,#ef9277,#f09679,#f1987a,#f1997b,#f19b7c,#f29f7e,#f4a482,#f4a988,#f4ae8f,#f5b599,#f5bca3,#f5c4ae,#f5cbb9,#f6d3c3,#f6dace,#f6e1d7,#f6e7e0,#f7ede8,#f7f2f0,#f6f7f7,#eff3f5,#e7eff3,#e0ecf1,#d9e8f0,#d2e5ee,#cce2ec,#c8e0eb)"></i><i style="background:linear-gradient(#ca0020,#ca0020,#ca0020,#ca0020,#ca0020,#ca0020,#ca0020,#ca0020,#ca0020,#ca0020,#ca0020,#ca0020,#ca0020,#ca0020,#ce102a,#d32234,#d7333e,#db4247,#df5150,#e25e58,#e56a5f,#e87565,#ea7e6b,#ec8770,#ee8d74,#ef9176,#f09578,#f1987a,#f29d7d,#f3a381,#f4a886,#f4ad8d,#f5b396,#f5ba9f,#f5c1aa,#f5c8b4,#f6cfbd,#f6d5c6,#f6dace,#f6e0d6,#f6e5dd,#f7eae5,#f7f0ed,#f7f6f6,#f0f4f5,#e8eff3,#deebf1,#d5e6ef,#d2e5ee)"></i><i style="background:linear-gradient(#ca0020,#ca0020,#ca0020,#ca0020,#ca0020,#ca0020,#ca0020,#ca0020,#ca0020,#ca0020,#ca0020,#ca0020,#ca0020,#ca0020,#ca0020,#cc0724,#d0172e,#d42637,#d83540,#db4348,#de504f,#e15b56,#e4665d,#e77163,#e97a69,#eb836e,#ed8a72,#ee8f75,#f09478,#f1997b,#f3a07f,#f4a684,#f4ab8b,#f4b193,#f5b79c,#f5bea6,#f5c5af,#f5cbb8,#f6d0c0,#f6d5c7,#f6dace,#f6e0d6,#f6e5dd,#f7ebe5,#f7f0ed,#f7f6f6,#eff3f5,#e5eef3,#dfebf1)"></i><i style="background:linear-gradient(#ca0020,#ca0020,#ca0020,#ca0020,#ca0020,#ca0020,#ca0020,#ca0020,#ca0020,#ca0020,#ca0020,#ca0020,#ca0020,#ca0020,#ca0020,#ca0020,#ca0020,#ce0e28,#d11d31,#d52b3a,#d83942,#dc4549,#de5050,#e15b56,#e4655c,#e66f62,#e97968,#eb816c,#ed8871,#ee8e75,#f09578,#f29c7c,#f4a481,#f4a988,#f4af90,#f5b599,#f5bba2,#f5c2ab,#f5c7b3,#f5ccba,#f6d1c1,#f6d6c8,#f6dbcf,#f6e0d7,#f6e6de,#f7ebe6,#f7f0ee,#f7f7f7,#eff3f5)"></i><i style="background:linear-gradient(#ca0020,#ca0020,#ca0020,#ca0020,#ca0020,#ca0020,#ca0020,#ca0020,#ca0020,#ca0020,#ca0020,#ca0020,#ca0020,#ca0020,#ca0020,#ca0020,#ca0020,#ca0020,#cc0624,#cf142c,#d32335,#d6303d,#d93c44,#dc474a,#df5250,#e15c56,#e4665c,#e66f62,#e97867,#eb806c,#ed8871,#ee8f75,#f09679,#f29f7e,#f4a784,#f4ac8c,#f4b295,#f5b99e,#f5bea6,#f5c4ae,#f5c9b5,#f5cebc,#f6d2c3,#f6d7ca,#f6dcd1,#f6e1d8,#f6e6df,#f7ece7,#f7f2f0)"></i><i style="background:linear-gradient(#ca0020,#ca0020,#ca0020,#ca0020,#ca0020,#ca0020,#ca0020,#ca0020,#ca0020,#ca0020,#ca0020,#ca0020,#ca0020,#ca0020,#ca0020,#ca0020,#ca0020,#ca0020,#ca0020,#ca0020,#cd0e28,#d11c31,#d52939,#d83640,#da4046,#dd4a4c,#df5452,#e25e58,#e4685e,#e77163,#e97a69,#eb836e,#ed8a72,#ef9176,#f1997b,#f4a381,#f4aa89,#f4b092,#f5b69a,#f5bca2,#f5c1aa,#f5c6b1,#f5cab7,#f6cfbd,#f6d3c4,#f6d8cb,#f6ddd1,#f6e2d9,#f6e8e1)"></i><i style="background:linear-gradient(#ca0020,#ca0020,#ca0020,#ca0020,#ca0020,#ca0020,#ca0020,#ca0020,#ca0020,#ca0020,#ca0020,#ca0020,#ca0020,#ca0020,#ca0020,#ca0020,#ca0020,#ca0020,#ca0020,#ca0020,#ca0020,#cc0825,#d0172d,#d32435,#d6303d,#d93b43,#db4549,#de4f4f,#e05854,#e3625a,#e56c60,#e87666,#ea7f6b,#ec856f,#ee8c73,#f09478,#f29e7e,#f4a786,#f4ae8e,#f5b497,#f5b99f,#f5bea6,#f5c3ad,#f5c7b3,#f5cbb9,#f6d0bf,#f6d4c6,#f6d9cd,#f6dfd4)"></i><i style="background:linear-gradient(#ca0020,#ca0020,#ca0020,#ca0020,#ca0020,#ca0020,#ca0020,#ca0020,#ca0020,#ca0020,#ca0020,#ca0020,#ca0020,#ca0020,#ca0020,#ca0020,#ca0020,#ca0020,#ca0020,#ca0020,#ca0020,#ca0020,#cb0523,#cf142c,#d22133,#d52c3a,#d83640,#da4046,#dd4a4c,#df5251,#e15c56,#e4685e,#e77264,#e97a69,#eb816c,#ec8770,#ee8f75,#f1997b,#f4a582,#f4ab8b,#f4b294,#f5b89c,#f5bca3,#f5c1a9,#f5c4af,#f5c8b5,#f5cdbb,#f6d2c2,#f6d7c9)"></i><i style="background:linear-gradient(#ca0020,#ca0020,#ca0020,#ca0020,#ca0020,#ca0020,#ca0020,#ca0020,#ca0020,#ca0020,#ca0020,#ca0020,#ca0020,#ca0020,#ca0020,#ca0020,#ca0020,#ca0020,#ca0020,#ca0020,#ca0020,#ca0020,#ca0020,#cb0523,#cf132b,#d21f32,#d42938,#d7333e,#d93c44,#da4046,#dc4549,#df5251,#e3625a,#e66d61,#e87565,#e97b69,#eb816d,#ed8971,#ef9377,#f29f7e,#f4a987,#f4b091,#f5b69a,#f5bba1,#f5bea6,#f5c2ab,#f5c6b1,#f5cab7,#f6cebd)"></i><i style="background:linear-gradient(#ca0020,#ca0020,#ca0020,#ca0020,#ca0020,#ca0020,#ca0020,#ca0020,#ca0020,#ca0020,#ca0020,#ca0020,#ca0020,#ca0020,#ca0020,#ca0020,#ca0020,#ca0020,#ca0020,#ca0020,#ca0020,#ca0020,#ca0020,#ca0020,#cb0623,#ce112a,#d11c31,#d42737,#d62e3b,#d52c3a,#d52a39,#d83640,#dd4a4c,#e15b56,#e4665c,#e56c60,#e77264,#e97968,#eb816d,#ed8b73,#f1997b,#f4a785,#f4ae8f,#f5b497,#f5b79c,#f5bba1,#f5bea6,#f5c2ab,#f5c6b2)"></i><i style="background:linear-gradient(#ca0020,#ca0020,#ca0020,#ca0020,#ca0020,#ca0020,#ca0020,#ca0020,#ca0020,#ca0020,#ca0020,#ca0020,#ca0020,#ca0020,#ca0020,#ca0020,#ca0020,#ca0020,#ca0020,#ca0020,#ca0020,#ca0020,#ca0020,#ca0020,#ca0020,#cb0221,#cd0d28,#cf152d,#d11a2f,#d0182e,#d0172d,#d22033,#d7333e,#dc4549,#df5251,#e15b56,#e3615a,#e5685e,#e77063,#e97a69,#ec8770,#f1977a,#f4a683,#f4ab8b,#f4b091,#f5b396,#f5b69b,#f5baa0,#f5bea6)"></i></div></div>
<div id="cb"></div>
<svg width="575" height="465" viewBox="0 0 575 465"><defs><clipPath id="c00"><rect x="28.8" y="18.6" width="137.6" height="137.7"/></clipPath><clipPath id="c01"><rect x="166.4" y="18.6" width="138.4" height="137.7"/></clipPath><clipPath id="c02"><rect x="304.8" y="18.6" width="137.5" height="137.7"/></clipPath><clipPath id="c10"><rect x="28.8" y="156.2" width="137.6" height="137.4"/></clipPath><clipPath id="c11"><rect x="166.4" y="156.2" width="138.4" height="137.4"/></clipPath><clipPath id="c12"><rect x="304.8" y="156.2" width="137.5" height="137.4"/></clipPath><clipPath id="c20"><rect x="28.8" y="293.6" width="137.6" height="137.6"/></clipPath><clipPath id="c21"><rect x="166.4" y="293.6" width="138.4" height="137.6"/></clipPath><clipPath id="c22"><rect x="304.8" y="293.6" width="137.5" height="137.6"/></clipPath></defs>
<path class="mo" d="M99.5,31.9h2.4M100.7,30.7v2.4M104.0,39.9h2.4M105.2,38.7v2.4M114.9,45.2h2.4M116.1,44.0v2.4M106.0,48.2h2.4M107.2,47.0v2.4M106.9,51.8h2.4M108.1,50.6v2.4M85.3,54.1h2.4M86.5,52.9v2.4M96.3,57.1h2.4M97.5,55.9v2.4M113.4,60.0h2.4M114.6,58.8v2.4M69.0,60.6h2.4M70.2,59.4v2.4M73.5,63.0h2.4M74.7,61.8v2.4M80.9,63.0h2.4M82.1,61.8v2.4M98.6,67.4h2.4M99.8,66.2v2.4M76.4,67.4h2.4M77.6,66.2v2.4M119.4,68.9h2.4M120.6,67.7v2.4M69.0,71.3h2.4M70.2,70.1v2.4M86.8,74.8h2.4M88.0,73.6v2.4M77.9,77.8h2.4M79.1,76.6v2.4M97.2,77.8h2.4M98.4,76.6v2.4M116.4,79.3h2.4M117.6,78.1v2.4M43.9,85.2h2.4M45.1,84.0v2.4M67.6,87.3h2.4M68.8,86.1v2.4M82.4,88.2h2.4M83.6,87.0v2.4M107.5,86.7h2.4M108.7,85.5v2.4M113.4,85.2h2.4M114.6,84.0v2.4M51.9,90.5h2.4M53.1,89.3v2.4M75.0,92.6h2.4M76.2,91.4v2.4M94.2,92.6h2.4M95.4,91.4v2.4M98.6,97.0h2.4M99.8,95.8v2.4M85.3,101.5h2.4M86.5,100.3v2.4M89.8,103.0h2.4M91.0,101.8v2.4M66.1,104.4h2.4M67.3,103.2v2.4M107.5,105.9h2.4M108.7,104.7v2.4M113.4,110.4h2.4M114.6,109.2v2.4M73.5,111.8h2.4M74.7,110.6v2.4M101.6,111.8h2.4M102.8,110.6v2.4M94.2,114.8h2.4M95.4,113.6v2.4M54.8,122.8h2.4M56.0,121.6v2.4M114.9,120.7h2.4M116.1,119.5v2.4M103.1,132.6h2.4M104.3,131.4v2.4M98.6,135.5h2.4M99.8,134.3v2.4M88.3,137.0h2.4M89.5,135.8v2.4M103.1,140.0h2.4M104.3,138.8v2.4"/>
<g clip-path="url(#c00)"><text class="cl" transform="translate(67.7 126.0) rotate(109)" y="2.4">-10</text><path d="M61.9,18.6 65.1,23.2 68.1,28.4 70.6,33.4 72.9,39 74.7,44.7 76.2,50.5 77.3,56.5 78,62.4 78.2,68.4 78.2,74.5 77.8,81 76.9,88 75.8,95 74.2,102.9 72.1,111.7 70,118.9M65.1,133.1 55.4,156.2"/><text class="cl" transform="translate(76.1 128.8) rotate(105)" y="2.4">-5</text><path d="M84.5,18.6 85.9,40.6 86.2,53.2 85.9,60.7 85.4,68.7 82.5,93.7 82.5,97.1 83.3,104.6 83.4,107.5 83,110.4 82.1,113.7 78,123.6M75.1,134.7 74.4,149.8 74,153.3 73.5,156.3"/><text class="cl" transform="translate(96.6 127.4) rotate(91)" y="2.4">0</text><path d="M99.8,18.6 98.5,52.2 96.5,78.8 96.5,84.8 96.8,97.8 96.4,113.9 96.5,122.9M96.3,131.9 95.6,138.3 93,156.2"/><text class="cl" transform="translate(105.4 127.7) rotate(73)" y="2.4">5</text><path d="M115.6,18.6 115.5,21.2 115.7,24.2 116.1,27.2 116.9,30.6 118.7,36.4 123.6,49.1 125.4,55.4 126.2,60.9 126.4,63.4 126.2,66 125.7,68.4 124.7,70.7 123.6,72.3 120.5,75.8 119.5,77.5 118.6,79.8 117.3,85.3 116.1,88 115,89.7 113.2,91.5 108.6,94.6 106.9,96.2 105.8,98.3 104.3,102.6 101.9,108.4 100.7,112.2 100.6,114.1 100.7,115.5 101.6,118.7 103.9,123.9M106.2,131.6 106.4,136.1 105.7,145.3 105.7,148.9 106.2,152.9 107.2,156.3"/><text class="cl" transform="translate(119.1 123.5) rotate(92)" y="2.4">10</text><path d="M128.2,18.6 128.3,21.7 128.9,25.1 132.5,36.1 133.6,41 134.1,47.4 133.9,54.4 133,61.9 131.3,70.3 128.8,80.1 122,103.8 120.4,111.1 119.5,117.5M119.1,129.6 119.4,147.3 119.1,156.2"/><text class="cl" transform="translate(128.1 123.6) rotate(93)" y="2.4">15</text><path d="M138.9,18.6 139.5,24.6 139.7,30.7 139.5,37.7 138.8,45.6 135.2,74.5 133.4,85.9 130,106.2 128.5,117.6M127.8,129.6 127.7,156.3"/><text class="cl" transform="translate(136.7 121.7) rotate(89)" y="2.4">20</text><path d="M148.5,18.6 146.4,35 140.7,68.7 138.6,83.6 137.7,91.6 137.1,99.6 136.6,115.6M136.9,127.7 137.8,141.7 139.4,156.3"/><text class="cl" transform="translate(143.7 112.1) rotate(80)" y="2.4">25</text><path d="M160,18.6 157.8,28.5 149.6,63.1 145.7,78.9 144.2,85.4 143.3,91.3 142.8,96.3 142.7,100.7 142.9,105.7M145,118 147,125.3 149.9,133.5 153.5,142.4 159.4,156.2"/><circle cx="66.7" cy="74.0" r="1.1" fill="#111" stroke="none"/></g>
<path class="mn" d="M178.2,82.7l3.2,3.2M181.4,82.7l-3.2,3.2M209.5,50.2l3.2,3.2M212.7,50.2l-3.2,3.2M200.6,56.1l3.2,3.2M203.8,56.1l-3.2,3.2M206.5,57.0l3.2,3.2M209.7,57.0l-3.2,3.2M212.5,58.4l3.2,3.2M215.7,58.4l-3.2,3.2M218.4,55.5l3.2,3.2M221.6,55.5l-3.2,3.2M203.5,65.8l3.2,3.2M206.7,65.8l-3.2,3.2M202.9,68.8l3.2,3.2M206.1,68.8l-3.2,3.2M253.5,43.0l3.2,3.2M256.7,43.0l-3.2,3.2M251.1,57.0l3.2,3.2M254.3,57.0l-3.2,3.2M270.5,57.0l3.2,3.2M273.7,57.0l-3.2,3.2M279.4,67.9l3.2,3.2M282.6,67.9l-3.2,3.2M236.3,67.3l3.2,3.2M239.5,67.3l-3.2,3.2M231.8,67.3l3.2,3.2M235.0,67.3l-3.2,3.2M236.3,73.2l3.2,3.2M239.5,73.2l-3.2,3.2M257.1,76.2l3.2,3.2M260.3,76.2l-3.2,3.2M254.1,79.2l3.2,3.2M257.3,79.2l-3.2,3.2M249.6,80.6l3.2,3.2M252.8,80.6l-3.2,3.2M243.7,85.1l3.2,3.2M246.9,85.1l-3.2,3.2M246.7,85.1l3.2,3.2M249.9,85.1l-3.2,3.2M255.6,86.6l3.2,3.2M258.8,86.6l-3.2,3.2M234.8,80.6l3.2,3.2M238.0,80.6l-3.2,3.2M219.9,85.7l3.2,3.2M223.1,85.7l-3.2,3.2M211.9,87.5l3.2,3.2M215.1,87.5l-3.2,3.2M228.8,91.0l3.2,3.2M232.0,91.0l-3.2,3.2M213.9,93.4l3.2,3.2M217.1,93.4l-3.2,3.2M237.7,94.6l3.2,3.2M240.9,94.6l-3.2,3.2M248.2,96.3l3.2,3.2M251.4,96.3l-3.2,3.2M202.9,97.5l3.2,3.2M206.1,97.5l-3.2,3.2M236.3,105.8l3.2,3.2M239.5,105.8l-3.2,3.2M239.2,108.8l3.2,3.2M242.4,108.8l-3.2,3.2M246.7,108.2l3.2,3.2M249.9,108.2l-3.2,3.2M217.8,108.2l3.2,3.2M221.0,108.2l-3.2,3.2M231.8,109.4l3.2,3.2M235.0,109.4l-3.2,3.2M208.9,110.2l3.2,3.2M212.1,110.2l-3.2,3.2M208.0,114.1l3.2,3.2M211.2,114.1l-3.2,3.2M240.7,116.2l3.2,3.2M243.9,116.2l-3.2,3.2M241.6,119.1l3.2,3.2M244.8,119.1l-3.2,3.2M232.7,127.1l3.2,3.2M235.9,127.1l-3.2,3.2M240.7,136.9l3.2,3.2M243.9,136.9l-3.2,3.2"/>
<g clip-path="url(#c01)"><text class="cl" transform="translate(190.5 117.7) rotate(-38)" y="2.4">-15</text><path d="M185.8,18.6 191.4,28.7 195.8,37.2 199.5,44.9 202.5,51.8 205.1,58.9 207.4,66.1 208.9,72.4 209.7,77.9 210.1,83.4 209.8,88.9 208.9,93.9 207.4,98.8 205.9,102 203.9,104.9 201.5,107.4 196,112.5M183.6,121.5 171.4,125.4 166.4,127.5"/><text class="cl" transform="translate(215.1 130.3) rotate(109)" y="2.4">-10</text><path d="M207.6,18.6 207.4,23.7 207.5,29.2 208,35.2 208.8,41.2 211,52.4 217.3,78.9 218.7,86.4 219.5,92.9 219.9,100.4 219.7,107.9 218.8,115.3 217.4,122.7M212.3,137.3 209.5,142.6 206.6,147.4 203.3,151.9 199.6,156.3"/><text class="cl" transform="translate(229.7 130.2) rotate(100)" y="2.4">-5</text><path d="M235.1,18.6 237.4,22.2 238.9,26.3 239.5,30.1 239.5,31.6 239.2,33 238.4,34.7 237,36.6 229.3,43.2 227.3,45.5 225.7,48 224.2,51.1 222.9,54.9 222.2,58.8 221.7,63.4 221.9,70.4 222.9,78.3 224.5,85.8 228.5,102.1 230,110.4 230.7,117.8 230.5,124.8M228.5,135.7 224.9,150 223.5,156.2"/><text class="cl" transform="translate(239.8 131.3) rotate(96)" y="2.4">0</text><path d="M244.7,18.6 249.7,37.6 251.5,47.3 253.2,53.9 253.5,57 253.2,59.1 252.6,60.4 251.9,61.5 250.8,62.1 248.6,62.4 241.3,61.1 239,61 237.5,61.2 236.2,61.7 235.2,62.5 234.3,64.1 233.9,66 233.5,69 233.3,72 233.6,78.5 237.5,105.4 239.8,118.3 240.2,122.8 240.2,127.3M239.3,135.3 237.3,148.3 236.9,152.3 236.7,156.2"/><text class="cl" transform="translate(246.7 131.3) rotate(93)" y="2.4">5</text><path d="M249.4,18.6 252.1,25.1 254.4,31.8 256.5,38.5 258.1,44.8 259.6,51.7 260.6,58.1 261.2,64.1 261.4,68.9 261.2,71 260.8,72.5 259.8,74.5 258.4,75.7 253.9,78.4 250.6,81.8 249.9,82.2 249.2,82.2 245.4,79.9 244.1,79.7 243.2,79.9 242.1,80.6 241.5,81.2 241,82.4 240.8,84.4 240.9,86.6 243.5,100.9 246.1,119.7 246.7,127.2M246.4,135.3 244.4,149.2 244.1,152.7 244.1,156.3"/><text class="cl" transform="translate(253.7 131.2) rotate(94)" y="2.4">10</text><path d="M256.5,18.6 259,25.8 261,34.6 263.7,54.5 265.6,66.1 266,69.7 266,72.7 265.5,77.1 264.4,80.3 262.8,82.8 259.2,86.9 257.8,89 256.3,92.1 255.3,95.5 254.5,100 254.1,105 254,125.1M253.2,137.2 252.2,148.7 251.8,156.2"/><text class="cl" transform="translate(262.5 131.2) rotate(93)" y="2.4">15</text><path d="M261.6,18.6 264.2,28.9 266.6,41.2 270.2,63.6 270.8,68.7 271,72.7 270.8,77.6 270,82 269.1,84.8 265.6,93.7 264.7,97.1 264,100.5 263.2,108.5 262.7,125.2M262.2,137.2 262.3,147.7 263.2,156.3"/><text class="cl" transform="translate(271.9 131.3) rotate(80)" y="2.4">20</text><path d="M273.6,18.6 272.9,23.6 272.5,29.2 272.5,34.7 272.8,40.1 274.2,51.6 277.7,72 278.2,77 278.3,81 278,84.9 277,89.3 275.8,93.1 272,103.1 270.5,108.9 270.1,112.3 270,115.8 270.3,120.3 270.9,125.3M272.9,137.3 273.9,144.3 275,156.2"/><text class="cl" transform="translate(282.5 131.2) rotate(77)" y="2.4">25</text><path d="M293.8,18.6 288.6,31.7 284.9,42.1 282.9,48.9 281.9,54.3 281.6,57.3 281.6,60.2 283,73.3 283.1,79.2 282.3,84.6 279.3,97.3 278.9,100.8 278.7,104.2 278.8,108.8 279.3,113.3 281.2,125.3M283.9,137 286.4,146.2 289.6,156.3"/><text class="cl" transform="translate(284.9 99.8) rotate(88)" y="2.4">30</text><path d="M304.8,58.6 301.1,61.9 297.7,65.6 294.3,70 291.6,74.3 289.3,78.9 287.4,83.6 286,88.4 285.2,93.3M285.6,106.2 286.4,110.1 287.6,114.4 289.3,119.2 291.5,124.5 299.6,142.4 302.2,147.2 304.7,151.0"/></g>
<path class="mn" d="M375.1,28.8l3.2,3.2M378.3,28.8l-3.2,3.2M402.3,30.3l3.2,3.2M405.5,30.3l-3.2,3.2M389.8,42.2l3.2,3.2M393.0,42.2l-3.2,3.2M360.3,51.0l3.2,3.2M363.5,51.0l-3.2,3.2M344.6,57.0l3.2,3.2M347.8,57.0l-3.2,3.2M357.3,57.0l3.2,3.2M360.5,57.0l-3.2,3.2M349.6,60.8l3.2,3.2M352.8,60.8l-3.2,3.2M341.6,67.3l3.2,3.2M344.8,67.3l-3.2,3.2M352.9,70.3l3.2,3.2M356.1,70.3l-3.2,3.2M366.2,66.7l3.2,3.2M369.4,66.7l-3.2,3.2M372.7,67.3l3.2,3.2M375.9,67.3l-3.2,3.2M371.8,74.7l3.2,3.2M375.0,74.7l-3.2,3.2M374.2,77.7l3.2,3.2M377.4,77.7l-3.2,3.2M344.6,75.6l3.2,3.2M347.8,75.6l-3.2,3.2M391.9,71.8l3.2,3.2M395.1,71.8l-3.2,3.2M396.3,77.7l3.2,3.2M399.5,77.7l-3.2,3.2M390.4,80.6l3.2,3.2M393.6,80.6l-3.2,3.2M386.0,85.1l3.2,3.2M389.2,85.1l-3.2,3.2M383.0,83.6l3.2,3.2M386.2,83.6l-3.2,3.2M374.8,82.1l3.2,3.2M378.0,82.1l-3.2,3.2M316.5,82.7l3.2,3.2M319.7,82.7l-3.2,3.2M349.0,87.5l3.2,3.2M352.2,87.5l-3.2,3.2M357.9,85.7l3.2,3.2M361.1,85.7l-3.2,3.2M393.4,88.0l3.2,3.2M396.6,88.0l-3.2,3.2M366.8,91.0l3.2,3.2M370.0,91.0l-3.2,3.2M374.2,94.6l3.2,3.2M377.4,94.6l-3.2,3.2M341.0,96.9l3.2,3.2M344.2,96.9l-3.2,3.2M391.9,98.4l3.2,3.2M395.1,98.4l-3.2,3.2M419.1,95.4l3.2,3.2M422.3,95.4l-3.2,3.2M374.2,105.8l3.2,3.2M377.4,105.8l-3.2,3.2M384.5,108.2l3.2,3.2M387.7,108.2l-3.2,3.2M355.8,108.2l3.2,3.2M359.0,108.2l-3.2,3.2M347.0,110.2l3.2,3.2M350.2,110.2l-3.2,3.2M346.1,114.1l3.2,3.2M349.3,114.1l-3.2,3.2M379.5,119.1l3.2,3.2M382.7,119.1l-3.2,3.2M326.9,120.6l3.2,3.2M330.1,120.6l-3.2,3.2M378.6,136.9l3.2,3.2M381.8,136.9l-3.2,3.2"/>
<g clip-path="url(#c02)"><text class="cl" transform="translate(348.4 127.6) rotate(38)" y="2.4">-15</text><path d="M304.7,95.5 308.9,96.3 312.8,97.7 316.8,99.7 320.5,102.1 323.6,104.5 326.6,107.2 337.7,118.4 342.5,122.8M354.3,132.3 357.3,135 360,137.8 362.2,140.5 363.8,143 365.5,146.1 366.9,149.4 368.1,152.8 368.9,156.3"/><text class="cl" transform="translate(371.7 125.4) rotate(59)" y="2.4">-10</text><path d="M305.7,42.6 309.9,44 321.8,47 324.7,48 327.4,49.3 330.7,51.4 334.2,54.2 337.8,57.8 341.4,62 346.6,68.9 348.5,71.9 349.9,74.6 351.4,78.8 353,86.7 354,90.5 356.4,97.6 358.4,102.2 360.9,107.1 367.7,118.9M375.5,131.9 384.2,147.2 389.7,156.2"/><text class="cl" transform="translate(380.0 127.4) rotate(71)" y="2.4">-5</text><path d="M306.6,21.2 313.1,25.1 318.9,29 324.9,33.5 330.3,38.1 335.5,42.9 340.4,48 344.9,53.3 348.9,58.5 353.1,64.8 356.8,71.3 359.8,77.1 366.8,92.6 373.2,103.5 375,107.1 376.2,109.8 377,112.7 378.6,121.6M382.6,132.7 385.2,136.3 388.2,139.7 391.6,142.9 398.1,148.6 400.6,151 402.8,153.7 404.5,156.2"/><text class="cl" transform="translate(394.5 128.3) rotate(28)" y="2.4">0</text><path d="M325.6,18.6 338.6,32.4 346.6,41.5 353.4,50.2 358.9,58.6 361.9,63.8 365.1,70 374.4,89 376.7,94.4 377.7,97.3 378.4,100.2 379.7,113.1 380.3,116 381.3,118.8 382.8,121.3 384.7,123.4 387.1,125 390.8,126.6M398.2,130.8 402.5,134.9 411.4,145.2 421.6,156.2"/><text class="cl" transform="translate(414.7 127.6) rotate(40)" y="2.4">5</text><path d="M338.2,18.6 342.6,25.9 347.9,33.9 353.8,42 369.2,62.6 375.9,72.5 377.6,75.6 379,78.7 382.3,89.3 383.5,92.6 385,95.8 386.8,98.8 389.6,102.3 396.8,109.4 405.9,119.5 411.7,125.0M417.8,130.2 423.6,135.1 427.9,139.2 442.3,155.4"/><text class="cl" transform="translate(414.7 96.2) rotate(59)" y="2.4">10</text><path d="M347.7,18.6 353.5,28.6 360,38.7 367.5,48.8 375.1,58.2 379.3,62.5 383.2,65.7 387,68.1 397.1,73.7 400,75.7 402.3,77.5 404.7,80 406.8,82.7 409,86 411.7,90.9M418.1,101.2 424.1,108.6 430.4,115.2 436.5,120.4 442.3,124.3"/><text class="cl" transform="translate(413.1 59.9) rotate(38)" y="2.4">15</text><path d="M356.2,18.6 362.6,28.3 367.1,34.4 371.9,39.6 376.5,43.5 379.8,45.6 383.5,47.2 386.3,48 393.8,49.5 398.6,51 403,53.1 408.1,56.3M417.9,63.7 423.9,68.3 436.5,77.4 442.3,82.3"/><text class="cl" transform="translate(413.6 48.3) rotate(38)" y="2.4">20</text><path d="M366.6,18.6 368.6,23.1 371,27.1 374,30.6 377.2,33.1 379.4,34.2 381.2,34.8 390.6,36.4 396.9,38.2 402.8,41 408.7,44.7M418.4,52.1 425.6,57.7 431.4,61.6 437.1,64.7 442.3,66.6"/></g>
<path class="mo" d="M38.8,191.1h2.4M40.0,189.9v2.4M59.3,202.6h2.4M60.5,201.4v2.4M62.5,206.5h2.4M63.7,205.3v2.4M67.6,216.8h2.4M68.8,215.6v2.4M78.5,213.8h2.4M79.7,212.6v2.4M83.0,215.3h2.4M84.2,214.1v2.4M78.5,219.8h2.4M79.7,218.6v2.4M83.8,224.2h2.4M85.0,223.0v2.4M72.0,226.3h2.4M73.2,225.1v2.4M63.1,229.2h2.4M64.3,228.0v2.4M55.1,235.4h2.4M56.3,234.2v2.4M90.4,230.1h2.4M91.6,228.9v2.4M95.7,230.7h2.4M96.9,229.5v2.4M100.1,237.5h2.4M101.3,236.3v2.4M105.2,237.5h2.4M106.4,236.3v2.4M69.0,239.0h2.4M70.2,237.8v2.4M59.6,243.4h2.4M60.8,242.2v2.4M85.3,240.4h2.4M86.5,239.2v2.4M86.8,243.4h2.4M88.0,242.2v2.4M92.1,241.9h2.4M93.3,240.7v2.4M83.8,246.3h2.4M85.0,245.1v2.4M74.4,247.8h2.4M75.6,246.6v2.4M66.1,250.8h2.4M67.3,249.6v2.4M78.5,251.4h2.4M79.7,250.2v2.4M85.3,249.3h2.4M86.5,248.1v2.4M89.8,250.8h2.4M91.0,249.6v2.4M57.8,255.2h2.4M59.0,254.0v2.4M77.9,255.2h2.4M79.1,254.0v2.4M79.4,259.0h2.4M80.6,257.8v2.4M83.8,256.7h2.4M85.0,255.5v2.4M100.1,250.8h2.4M101.3,249.6v2.4M102.2,250.8h2.4M103.4,249.6v2.4M107.5,259.6h2.4M108.7,258.4v2.4M125.3,247.2h2.4M126.5,246.0v2.4M77.9,278.8h2.4M79.1,277.6v2.4M96.3,275.0h2.4M97.5,273.8v2.4M109.0,278.8h2.4M110.2,277.6v2.4M129.7,280.3h2.4M130.9,279.1v2.4M106.9,163.6h2.4M108.1,162.4v2.4M115.8,170.4h2.4M117.0,169.2v2.4M115.8,172.5h2.4M117.0,171.3v2.4M125.3,174.6h2.4M126.5,173.4v2.4M140.1,168.1h2.4M141.3,166.9v2.4M114.9,184.3h2.4M116.1,183.1v2.4M120.8,193.2h2.4M122.0,192.0v2.4M92.7,192.3h2.4M93.9,191.1v2.4M114.0,196.1h2.4M115.2,194.9v2.4M109.0,195.5h2.4M110.2,194.3v2.4M105.2,198.5h2.4M106.4,197.3v2.4M112.0,200.0h2.4M113.2,198.8v2.4M98.6,200.6h2.4M99.8,199.4v2.4M100.1,205.0h2.4M101.3,203.8v2.4M106.0,205.9h2.4M107.2,204.7v2.4M112.0,206.5h2.4M113.2,205.3v2.4M116.4,206.5h2.4M117.6,205.3v2.4M122.9,207.1h2.4M124.1,205.9v2.4M91.2,207.9h2.4M92.4,206.7v2.4M94.2,212.4h2.4M95.4,211.2v2.4M103.1,210.0h2.4M104.3,208.8v2.4M107.5,210.9h2.4M108.7,209.7v2.4M116.4,219.8h2.4M117.6,218.6v2.4M113.4,219.8h2.4M114.6,218.6v2.4M138.6,213.8h2.4M139.8,212.6v2.4M147.5,212.4h2.4M148.7,211.2v2.4M157.0,188.2h2.4M158.2,187.0v2.4M131.2,194.6h2.4M132.4,193.4v2.4M103.1,224.8h2.4M104.3,223.6v2.4M122.3,227.1h2.4M123.5,225.9v2.4"/>
<g clip-path="url(#c10)"><text class="cl" transform="translate(127.5 261.3) rotate(59)" y="2.4">0</text><path d="M65.7,156.3 69.5,161.1 73,166 80,177 87.5,190.6 101.8,219.5 108.4,231.9 112.1,238.4 115.9,244.4 125.1,257.5M129.7,265.2 136.3,278.2 145.8,293.6"/><text class="cl" transform="translate(136.7 200.4) rotate(68)" y="2.4">5</text><path d="M117,156.3 121.7,167.4 131.5,188.4 135.1,196.7M138.1,204.1 140.6,210.1 142.9,214.6 145.9,219.2 149.3,223.6 153.4,228.1 157.6,231.8 162.1,235 166.4,237.5"/></g>
<path class="mn" d="M259.2,171.5l3.2,3.2M262.4,171.5l-3.2,3.2M223.5,191.9l3.2,3.2M226.7,191.9l-3.2,3.2M252.6,192.5l3.2,3.2M255.8,192.5l-3.2,3.2M240.7,195.1l3.2,3.2M243.9,195.1l-3.2,3.2M247.3,196.6l3.2,3.2M250.5,196.6l-3.2,3.2M237.1,198.1l3.2,3.2M240.3,198.1l-3.2,3.2M233.9,199.0l3.2,3.2M237.1,199.0l-3.2,3.2M235.7,204.9l3.2,3.2M238.9,204.9l-3.2,3.2M244.6,208.4l3.2,3.2M247.8,208.4l-3.2,3.2M257.1,209.0l3.2,3.2M260.3,209.0l-3.2,3.2M233.9,212.8l3.2,3.2M237.1,212.8l-3.2,3.2M239.2,212.8l3.2,3.2M242.4,212.8l-3.2,3.2M228.8,215.8l3.2,3.2M232.0,215.8l-3.2,3.2M208.0,216.7l3.2,3.2M211.2,216.7l-3.2,3.2M196.1,219.6l3.2,3.2M199.3,219.6l-3.2,3.2M215.4,223.8l3.2,3.2M218.6,223.8l-3.2,3.2M243.7,224.1l3.2,3.2M246.9,224.1l-3.2,3.2M249.6,225.5l3.2,3.2M252.8,225.5l-3.2,3.2M282.4,215.2l3.2,3.2M285.6,215.2l-3.2,3.2M274.0,216.4l3.2,3.2M277.2,216.4l-3.2,3.2M190.7,235.0l3.2,3.2M193.9,235.0l-3.2,3.2M213.9,249.2l3.2,3.2M217.1,249.2l-3.2,3.2M235.7,249.2l3.2,3.2M238.9,249.2l-3.2,3.2M237.7,244.7l3.2,3.2M240.9,244.7l-3.2,3.2M213.9,258.0l3.2,3.2M217.1,258.0l-3.2,3.2M202.0,259.5l3.2,3.2M205.2,259.5l-3.2,3.2M185.7,266.0l3.2,3.2M188.9,266.0l-3.2,3.2M239.2,271.9l3.2,3.2M242.4,271.9l-3.2,3.2"/>
<g clip-path="url(#c11)"><text class="cl" transform="translate(202.0 222.6) rotate(91)" y="2.4">-5</text><path d="M184.7,156.2 188.5,163.4 191.9,170.8 194.7,178.3 197.2,186 199.1,193.8 200.5,201.2 201.5,209.1 202,216.6M201.7,228.6 201.1,235.1 200.3,241.5 199,248.5 197.5,255.4 193.5,271.1 186.7,293.6"/><text class="cl" transform="translate(239.7 253.9) rotate(72)" y="2.4">0</text><path d="M240.3,156.3 240.1,163.2 239.4,170.7 238.1,179.2 234,203.7 233.1,211.1 232.7,218.1 232.9,225.5 233.8,232.9 235.6,240.7 238.4,250.0M240.9,257.7 243.4,266 245.1,273.3 246.6,281.6 248.2,293.6"/></g>
<path class="mn" d="M396.9,171.5l3.2,3.2M400.1,171.5l-3.2,3.2M361.5,191.9l3.2,3.2M364.7,191.9l-3.2,3.2M390.4,192.5l3.2,3.2M393.6,192.5l-3.2,3.2M378.6,195.1l3.2,3.2M381.8,195.1l-3.2,3.2M385.1,196.6l3.2,3.2M388.3,196.6l-3.2,3.2M375.1,198.1l3.2,3.2M378.3,198.1l-3.2,3.2M371.8,199.0l3.2,3.2M375.0,199.0l-3.2,3.2M373.6,204.9l3.2,3.2M376.8,204.9l-3.2,3.2M382.4,208.4l3.2,3.2M385.6,208.4l-3.2,3.2M394.9,209.0l3.2,3.2M398.1,209.0l-3.2,3.2M371.8,212.8l3.2,3.2M375.0,212.8l-3.2,3.2M377.1,212.8l3.2,3.2M380.3,212.8l-3.2,3.2M366.8,215.8l3.2,3.2M370.0,215.8l-3.2,3.2M346.1,216.7l3.2,3.2M349.3,216.7l-3.2,3.2M334.2,219.6l3.2,3.2M337.4,219.6l-3.2,3.2M353.5,223.8l3.2,3.2M356.7,223.8l-3.2,3.2M381.6,224.1l3.2,3.2M384.8,224.1l-3.2,3.2M387.5,225.5l3.2,3.2M390.7,225.5l-3.2,3.2M420.0,215.2l3.2,3.2M423.2,215.2l-3.2,3.2M411.7,216.4l3.2,3.2M414.9,216.4l-3.2,3.2M328.9,235.0l3.2,3.2M332.1,235.0l-3.2,3.2M352.0,249.2l3.2,3.2M355.2,249.2l-3.2,3.2M373.6,249.2l3.2,3.2M376.8,249.2l-3.2,3.2M375.6,244.7l3.2,3.2M378.8,244.7l-3.2,3.2M352.0,258.0l3.2,3.2M355.2,258.0l-3.2,3.2M340.2,259.5l3.2,3.2M343.4,259.5l-3.2,3.2M323.9,266.0l3.2,3.2M327.1,266.0l-3.2,3.2M377.1,271.9l3.2,3.2M380.3,271.9l-3.2,3.2"/>
<g clip-path="url(#c12)"><text class="cl" transform="translate(418.9 183.2) rotate(-10)" y="2.4">10</text><path d="M304.8,187.3 310.3,187 315.8,186.4 322.8,185.2 343.1,181.2 349.6,180.3 355.5,179.9 363.1,180 371.1,180.6 378.1,181.5 392.5,183.8 399.5,184.6 405.9,184.8 412.9,184.2M424.9,182 434.9,180.1 442.3,179.3"/><text class="cl" transform="translate(420.8 223.2) rotate(-2)" y="2.4">5</text><path d="M304.8,241.9 312.6,242.1 318.5,241.7 321,241.3 323.5,240.6 325.8,239.6 327.4,238.6 330.3,236 332.7,232.8 335,228.9 341.9,215.6 344.6,211.4 347.2,208.5 351,205.5 355.3,203.1 360.6,201.2 367.1,199.7 371.7,199 376.8,198.5 381.3,198.4 385.2,198.5 389.7,199 393.6,199.8 397.5,200.9 400.9,202.2 403.9,203.9 406.4,206.3 408.2,209.1 411.3,215.3 412.9,218.1 414.7,220.5 416.8,222.3M425.1,222.2 427.4,221 433.7,217.1 436.5,215.7 439.3,214.9 442.3,214.7"/><text class="cl" transform="translate(420.5 235.3) rotate(-12)" y="2.4">0</text><path d="M304.8,259.7 318.4,254.3 328.8,249.5 338.5,244.1 342.8,241.4 346,239 350.5,235 352.4,232.7 353.8,230.7 355.5,227.1 358.7,217.9 359.8,215.7 360.9,214.1 362.2,212.6 364.3,211.1 366.6,210 369.1,209.2 371.2,208.8 373.3,208.8 375.3,209.2 376.7,209.8 378,210.6 379.5,212 380.5,213.7 381,215.1 381.1,216.6 381,218.1 380.6,219.5 379.7,221.4 378.1,223.5 373.6,228.2 372.4,229.8 371.8,231.1 371.6,232.9 372,234.1 372.8,235.2 374.4,236.4 377.3,237.6 380.9,238 383.9,237.8 391,236.4 395.1,236 400.1,235.9 411.2,236.2 416.1,236.0M424.4,234.3 437.2,229.1 442.3,227.4"/><text class="cl" transform="translate(420.1 248.4) rotate(-5)" y="2.4">-5</text><path d="M304.8,274.3 310.9,272.1 317.9,269.1 339.7,257.8 347.9,253.9 356.3,250.7 364.5,248.3 369,247.4 373.4,246.8 377.4,246.4 381.9,246.3 389.9,246.7 407,248.4 414.1,248.7M425.5,247.7 442.3,244.2"/><text class="cl" transform="translate(418.7 263.1) rotate(-2)" y="2.4">-10</text><path d="M304.8,290.5 310,285.3 315.6,280.3 321.6,275.7 327.5,271.8 333.7,268.3 340.1,265.2 346.7,262.6 353,260.8 358.4,259.6 363.8,258.8 368.8,258.4 374.2,258.4 383.2,259.2 402.8,262 410.8,262.9M426.7,262.4 430.6,261.7 434.6,260.7 438.5,259.5 442.3,258.0"/><path d="M339.7,293.6 343.5,290.2 347.6,287.4 352,284.9 356.6,282.9 361.3,281.3 366.8,280 372.3,279.3 377.8,279 383.4,279.3 388.9,280.1 394.4,281.3 399.2,282.9 404.2,285.1 408.6,287.5 412.8,290.3 416.6,293.5"/></g>
<path class="mo" d="M95.1,311.9h2.4M96.3,310.7v2.4M106.0,315.8h2.4M107.2,314.6v2.4M107.5,319.6h2.4M108.7,318.4v2.4M102.2,323.2h2.4M103.4,322.0v2.4M91.2,329.1h2.4M92.4,327.9v2.4M103.1,332.1h2.4M104.3,330.9v2.4M100.1,336.5h2.4M101.3,335.3v2.4M112.0,338.0h2.4M113.2,336.8v2.4M110.5,342.4h2.4M111.7,341.2v2.4M116.4,342.4h2.4M117.6,341.2v2.4M75.0,343.9h2.4M76.2,342.7v2.4M82.4,346.9h2.4M83.6,345.7v2.4M83.8,351.3h2.4M85.0,350.1v2.4M91.2,348.3h2.4M92.4,347.1v2.4M97.2,354.3h2.4M98.4,353.1v2.4M101.6,354.3h2.4M102.8,353.1v2.4M106.0,352.8h2.4M107.2,351.6v2.4M119.4,352.8h2.4M120.6,351.6v2.4M82.4,357.2h2.4M83.6,356.0v2.4M86.8,358.7h2.4M88.0,357.5v2.4M94.2,360.2h2.4M95.4,359.0v2.4M100.1,361.7h2.4M101.3,360.5v2.4M107.5,361.7h2.4M108.7,360.5v2.4M123.8,360.2h2.4M125.0,359.0v2.4M61.6,363.1h2.4M62.8,361.9v2.4M89.8,364.6h2.4M91.0,363.4v2.4M98.6,366.1h2.4M99.8,364.9v2.4M104.6,367.6h2.4M105.8,366.4v2.4M117.9,366.1h2.4M119.1,364.9v2.4M125.3,367.6h2.4M126.5,366.4v2.4M72.0,370.5h2.4M73.2,369.3v2.4M91.2,372.0h2.4M92.4,370.8v2.4M29.1,372.0h2.4M30.3,370.8v2.4M129.7,372.0h2.4M130.9,370.8v2.4M72.0,379.4h2.4M73.2,378.2v2.4M80.9,380.9h2.4M82.1,379.7v2.4M86.8,385.3h2.4M88.0,384.1v2.4M83.8,389.8h2.4M85.0,388.6v2.4M88.3,389.8h2.4M89.5,388.6v2.4M116.4,385.3h2.4M117.6,384.1v2.4M122.3,382.4h2.4M123.5,381.2v2.4M46.8,398.6h2.4M48.0,397.4v2.4M89.8,397.2h2.4M91.0,396.0v2.4M116.4,397.2h2.4M117.6,396.0v2.4M122.3,395.7h2.4M123.5,394.5v2.4M132.7,412.0h2.4M133.9,410.8v2.4"/>
<g clip-path="url(#c20)"><text class="cl" transform="translate(73.7 402.1) rotate(112)" y="2.4">-15</text><path d="M42.1,293.6 44.7,297.3 47.4,301.6 49.8,306 52,310.5 54,315.1 55.9,320.3 59.1,330.8 61.4,341.1 63.1,352.1 64.5,365.6 65.7,384.8 66.2,388.1 67,391.1 67.8,392.9 68.2,393.3 68.7,393.3 69.5,392.4 70.9,389.8 71.9,388.5 73.1,387.8 73.9,387.8 75,388.5 76,390.1 76.2,392 75.9,394.7M70.5,408.9 66.2,416.8 64,421.7 62.5,426.5 61.7,431.2"/><text class="cl" transform="translate(82.4 400.1) rotate(96)" y="2.4">-10</text><path d="M68.8,293.6 70.7,299.9 72.3,306.8 73.4,313.7 74.1,320.7 74.5,327.7 74.6,334.7 73.9,358 74.1,363 74.5,367.5 75.3,371.9 76.3,375.7 81.1,387.4 82.4,392.2M81.3,407.7 79.5,417.2 78.8,422.3 78.4,426.7 78.5,431.2"/><text class="cl" transform="translate(91.5 403.7) rotate(94)" y="2.4">-5</text><path d="M85.6,293.6 86.8,300.1 87.5,307.1 87.7,313.6 87.5,320.6 87,325.6 86.2,331.1 83,346.3 81.1,356.9 80.5,361.9 80.5,365.9 81.1,370.3 82.3,374.6 84.4,379.7 89.8,390.7 90.8,394 91.5,397.8M90.7,409.3 87.8,423.9 87.3,427.8 87.1,431.2"/><text class="cl" transform="translate(103.1 403.6) rotate(85)" y="2.4">0</text><path d="M101.3,293.6 101.4,298.6 102.5,311.3 102.4,317.3 101.6,322.2 98.7,333.4 97.3,340.9 96.3,348.8 96.1,356.8 96.4,363.3 97.1,369.3 101.5,391.1 102.7,399.6M103.4,407.6 104.2,422.2 105.2,431.2"/><text class="cl" transform="translate(115.0 404.5) rotate(72)" y="2.4">5</text><path d="M111.7,293.6 111.6,297.7 111,301.7 110.1,305.5 107,315.6 105.8,320.4 103.2,333.4 102.9,336.4 102.8,338.9 103.1,342.3 103.9,345.7 108.5,359 109.8,364.3 110.3,368.2 110.5,377.3 111,383.3 112.3,393.8 113.7,400.2M116.4,408.7 121.3,422.4 122.6,426.7 123.5,431.2"/><text class="cl" transform="translate(133.1 402.3) rotate(66)" y="2.4">10</text><path d="M122.9,293.6 123.1,300.2 123.1,304.8 122.7,308.7 121.9,312.6 120.9,315.9 119.6,318.6 113.6,328.3 111.6,332.3 110.9,334.6 110.5,336.5 110.4,340.9 111.3,346.4 114.6,359.5 116.6,372.8 117.7,377.1 118.7,379.3 119.9,381.5 127,391.3 130.4,396.9M135.3,407.9 138.4,417.6 141.9,431.2"/><text class="cl" transform="translate(142.8 386.2) rotate(55)" y="2.4">15</text><path d="M130.9,293.6 131.8,305.7 132.3,318.1 132.3,331.1 131.8,350.9 132.2,359.9 133,365.8 134.5,371.4 136.4,376 139.3,381.2M146.3,391.3 149.4,396 151.8,400.4 154.3,405.8 160.9,422 163.5,426.9 166.3,431.2"/><text class="cl" transform="translate(143.4 347.4) rotate(70)" y="2.4">20</text><path d="M144.4,293.6 142.3,299.3 140.7,305.2 139.6,311.2 139,317.2 138.9,323.3 139.3,329.8 140.2,335.8 141.5,341.6M145.7,352.9 147.7,356.9 149.7,360.4 152.2,364.1 154.7,367.3 157.4,370.4 160.3,373.2 163.3,376 166.6,378.5"/><ellipse cx="47.2" cy="348.9" rx="1.6" ry="1.2"/></g>
<path class="mn" d="M173.2,344.7l3.2,3.2M176.4,344.7l-3.2,3.2M211.0,324.0l3.2,3.2M214.2,324.0l-3.2,3.2M231.8,326.9l3.2,3.2M235.0,326.9l-3.2,3.2M240.7,328.1l3.2,3.2M243.9,328.1l-3.2,3.2M236.3,334.0l3.2,3.2M239.5,334.0l-3.2,3.2M222.9,339.3l3.2,3.2M226.1,339.3l-3.2,3.2M209.5,345.9l3.2,3.2M212.7,345.9l-3.2,3.2M228.8,349.7l3.2,3.2M232.0,349.7l-3.2,3.2M234.8,351.2l3.2,3.2M238.0,351.2l-3.2,3.2M239.2,349.7l3.2,3.2M242.4,349.7l-3.2,3.2M240.7,352.7l3.2,3.2M243.9,352.7l-3.2,3.2M221.4,358.6l3.2,3.2M224.6,358.6l-3.2,3.2M230.3,355.6l3.2,3.2M233.5,355.6l-3.2,3.2M239.2,360.7l3.2,3.2M242.4,360.7l-3.2,3.2M232.7,364.5l3.2,3.2M235.9,364.5l-3.2,3.2M266.0,362.4l3.2,3.2M269.2,362.4l-3.2,3.2M248.2,367.5l3.2,3.2M251.4,367.5l-3.2,3.2M225.8,371.9l3.2,3.2M229.0,371.9l-3.2,3.2M202.9,373.4l3.2,3.2M206.1,373.4l-3.2,3.2M263.0,377.8l3.2,3.2M266.2,377.8l-3.2,3.2M252.6,383.1l3.2,3.2M255.8,383.1l-3.2,3.2M232.7,383.1l3.2,3.2M235.9,383.1l-3.2,3.2M196.1,386.1l3.2,3.2M199.3,386.1l-3.2,3.2M221.4,388.2l3.2,3.2M224.6,388.2l-3.2,3.2M212.5,394.1l3.2,3.2M215.7,394.1l-3.2,3.2M225.8,395.6l3.2,3.2M229.0,395.6l-3.2,3.2M252.6,395.6l3.2,3.2M255.8,395.6l-3.2,3.2M259.5,396.5l3.2,3.2M262.7,396.5l-3.2,3.2M223.8,404.4l3.2,3.2M227.0,404.4l-3.2,3.2M270.5,411.8l3.2,3.2M273.7,411.8l-3.2,3.2M202.0,413.3l3.2,3.2M205.2,413.3l-3.2,3.2"/>
<g clip-path="url(#c21)"><path d="M169.4,293.6 172.1,299.5 174.4,305.5 176.4,311.8 177.9,317.7 179.1,323.8 179.9,329.8 180.3,335.9 180.3,341.5 179.9,347 179.1,352.4 177.9,357.8 176.4,362.5 174.5,367.1 172.1,371.6 169.3,375.8 166.4,379.5"/><text class="cl" transform="translate(184.1 387.0) rotate(99)" y="2.4">-20</text><path d="M187.6,293.6 189.2,306.1 190.2,317.6 190.8,328.2 190.8,337.7 190.3,346.3 189.4,354.8 188,364.2 185.4,379.6M183.1,394.5 180.1,417.4 178.7,424.8 177.2,431.2"/><text class="cl" transform="translate(196.9 407.7) rotate(86)" y="2.4">-15</text><path d="M203.9,293.6 204.2,305.2 203.6,318.2 202.3,332.7 198.8,362.2 197.5,374.7 196.7,387.7 196.6,400.2M197.5,415.2 198.6,423.2 200,431.2"/><text class="cl" transform="translate(215.4 407.7) rotate(84)" y="2.4">-10</text><path d="M218.8,293.6 219,299.2 219,304.7 218.8,310.2 218.2,315.7 216.6,325.1 212.5,342.2 211.7,348.1 211.3,354.1 211.2,362.6 211.7,372.2 212.7,383.2 214.6,400.2M216.2,415.2 216.7,423.7 217,431.2"/><text class="cl" transform="translate(230.7 410.1) rotate(84)" y="2.4">-5</text><path d="M234.3,293.6 235,297.5 238,308.4 238.4,312 238.3,314.6 237.7,316.4 236.9,317.4 232,320 229.8,322 228.1,324.4 226.5,328 224.7,333.8 223.3,340.7 221,356.2 220.3,363.8 220.4,369.7 221.2,375.1 222.6,380 227.4,393.4 228.8,398.7 229.9,404.1M231.1,415.6 231.3,423.1 231.3,431.2"/><text class="cl" transform="translate(239.0 410.5) rotate(79)" y="2.4">0</text><path d="M244.1,293.6 244.4,298.2 244.4,303.2 243.9,315.6 243.8,323.4 243.4,327 242.7,329.2 241.8,330.8 240.4,332.2 236.5,334.8 235.5,335.9 234.5,337.6 233.4,340.4 232.7,343.3 232.1,346.8 231.8,350.8 231.6,355.8 231.8,361.3 232.7,372.8 234.6,386.2 238.3,406.5M239.8,414.4 243,431.2"/><text class="cl" transform="translate(250.1 410.6) rotate(75)" y="2.4">5</text><path d="M253.6,293.6 251.9,302.5 247,320.9 245.2,328.8 244.3,335.7 242,355.7 241.6,360.7 241.8,368.7 242.9,377.7 244.6,386.6 249,406.3M251.3,414.9 255.5,426.3 256.2,428.7 256.7,431.2"/><text class="cl" transform="translate(265.6 327.7) rotate(92)" y="2.4">10</text><text class="cl" transform="translate(269.6 408.1) rotate(90)" y="2.4">10</text><path d="M267.6,293.6 267.3,299.9 265.8,315.2 265.5,321.6M264.5,333.7 264,334 263.4,333.9 261.9,332.6 260.7,330.7 258.4,325.9 257.4,324.8 256.6,324.3 254.7,323.6 253.2,323.7 252,324.4 250.7,325.9 249.5,328.4 248.5,331.3 248,333.7 247.6,336.7 247.6,341.2 248.6,361.1 249.4,368.2 250.4,373.4 251.1,374.8 251.9,375.9 252.7,376.5 254.1,377.1 255.6,377.2 256.5,377 257.2,376.6 257.7,375.9 258.3,373.9 258.9,367.9 259.3,366.4 259.7,365.6 260.3,364.9 261.6,364.5 262.7,364.7 263.2,365.3 263.6,366.6 263.7,368.2 263.4,370.4 262.2,375.9 262.1,377.8 262.3,379.7 262.9,382 263.7,384.4 267.1,391.8 268.5,395.1 269.3,398.5 269.6,402.0M270.1,414.1 270.6,416 271.5,417.9 275.1,423.4 276.1,425.8 276.2,427.3 275.9,428.4 275.1,430 274.2,431.2"/><text class="cl" transform="translate(286.4 391.1) rotate(68)" y="2.4">15</text><path d="M282.4,293.5 280.4,298.2 278.6,303.5 277.3,308.4 276.1,313.8 275.2,319.2 274.6,324.7 274.4,330.2 274.3,335.7 274.6,341.2 275.1,347.2 275.9,353.2 277,359.7 278.4,366.1 280.1,372.5 282.1,379.2 284.2,385.4M288.7,396.6 292.2,403.9 296,410.9 300.2,417.8 304.8,424.4"/><circle cx="250.7" cy="337.4" r="1.1" fill="#111" stroke="none"/><circle cx="243.2" cy="363.1" r="1.1" fill="#111" stroke="none"/><circle cx="205.7" cy="412.0" r="1.1" fill="#111" stroke="none"/></g>
<path class="mn" d="M349.0,323.1l3.2,3.2M352.2,323.1l-3.2,3.2M374.2,318.0l3.2,3.2M377.4,318.0l-3.2,3.2M369.7,329.0l3.2,3.2M372.9,329.0l-3.2,3.2M376.5,326.9l3.2,3.2M379.7,326.9l-3.2,3.2M391.9,329.0l3.2,3.2M395.1,329.0l-3.2,3.2M396.3,328.1l3.2,3.2M399.5,328.1l-3.2,3.2M386.0,336.4l3.2,3.2M389.2,336.4l-3.2,3.2M347.6,345.3l3.2,3.2M350.8,345.3l-3.2,3.2M312.1,345.3l3.2,3.2M315.3,345.3l-3.2,3.2M366.8,351.2l3.2,3.2M370.0,351.2l-3.2,3.2M374.2,351.2l3.2,3.2M377.4,351.2l-3.2,3.2M358.8,358.6l3.2,3.2M362.0,358.6l-3.2,3.2M368.3,357.7l3.2,3.2M371.5,357.7l-3.2,3.2M402.3,354.1l3.2,3.2M405.5,354.1l-3.2,3.2M402.3,361.5l3.2,3.2M405.5,361.5l-3.2,3.2M341.0,373.4l3.2,3.2M344.2,373.4l-3.2,3.2M362.3,371.9l3.2,3.2M365.5,371.9l-3.2,3.2M370.6,382.3l3.2,3.2M373.8,382.3l-3.2,3.2M332.8,386.7l3.2,3.2M336.0,386.7l-3.2,3.2M350.5,394.1l3.2,3.2M353.7,394.1l-3.2,3.2M357.9,386.7l3.2,3.2M361.1,386.7l-3.2,3.2M360.9,395.6l3.2,3.2M364.1,395.6l-3.2,3.2M362.3,404.4l3.2,3.2M365.5,404.4l-3.2,3.2M389.0,394.1l3.2,3.2M392.2,394.1l-3.2,3.2M397.8,395.6l3.2,3.2M401.0,395.6l-3.2,3.2M400.8,403.9l3.2,3.2M404.0,403.9l-3.2,3.2M341.6,410.4l3.2,3.2M344.8,410.4l-3.2,3.2"/>
<g clip-path="url(#c22)"><text class="cl" transform="translate(322.2 357.9) rotate(38)" y="2.4">0</text><text class="cl" transform="translate(367.8 338.6) rotate(98)" y="2.4">0</text><text class="cl" transform="translate(415.5 416.0) rotate(66)" y="2.4">0</text><path d="M304.8,346.8 312.1,351 318.9,355.5M325.3,360.5 330,364.8 341,376.3 342.6,377.6 343.3,377.8 344,377.7 344.7,376.8 345.3,374.7 345.4,373 345,370.9 343.9,368.1 339.1,359.3 338.1,356.6 337.4,353.7 337.2,351 337.5,348.3 338.2,345.8 339.1,344 340.4,342.7 342,341.9 344,341.7 346.7,342.1 348.7,342.8 350.9,343.9 357.5,348.2 360.3,349.8 363,350.9 364.9,351.2 366,350.8 366.6,349.8 367.3,342.9M368.5,334.6 369.7,330.8 370.7,329.3 371.4,329.1 372.5,329.5 373.2,330.1 374.1,331.3 377,338 382.4,346.5 384.1,350 385.7,355.3 388.3,367.7 389.4,371.1 390.7,374.2 392.7,377.6 394.9,380.9 404.5,392.5 407.9,397.4 410.4,402.3 413.9,412.3M417.4,420.1 423.1,431.2"/><text class="cl" transform="translate(378.4 313.8) rotate(62)" y="2.4">5</text><text class="cl" transform="translate(422.2 417.1) rotate(61)" y="2.4">5</text><path d="M304.8,301.8 310.4,304.2 316.2,307 321.9,310.2 327.5,313.6 332.8,317.3 338.5,321.6 352.6,333.4 354.3,334.5 355.5,335 356.6,334.9 357.6,334.3 358.6,332.9 359.4,331 359.9,327.5 360,318.9 360.4,314.8 361.4,311 363.2,308.1 364.6,306.7 365.9,305.9 367.2,305.4 368.7,305.4 370.6,306 372.5,307 374.2,308.2 375.9,310.0M380,317.5 382.7,324.6 388,337.5 392.6,352.5 393.3,355.8 393.6,358.7 393.2,366.1 393.2,368.2 393.6,370.6 394.5,373.4 395.9,375.9 397.8,378.8 406.6,388.7 410.2,393.6 413.6,399.6 420.3,413.6M424.2,420.7 429,430.0"/><text class="cl" transform="translate(425.7 409.2) rotate(59)" y="2.4">10</text><path d="M371.9,293.6 374.8,296.5 377.8,299.9 386.3,310.9 389.4,314.8 399,324.6 400.8,327 401.9,329.2 402.6,331.1 403,333.1 403,335 402.7,336.4 401.2,339.5 396.7,345.9 395.9,347.6 395.3,349.5 395.1,351.5 395.1,353.9 395.5,356.9 396.1,359.9 397.2,363.2 398.8,367 400.8,371 403,375 407.3,381.7 417.4,396 422.6,404.0M428.7,414.4 438.8,431.1"/><text class="cl" transform="translate(425.6 397.0) rotate(54)" y="2.4">15</text><path d="M380.5,293.6 400.1,323.9 405.2,331.2 406.6,333.9 407.3,336.6 407.1,339.8 406.2,343.6 402.9,351.9 401.7,355.8 401.3,359.1 401.4,361 401.8,362.8 403.4,366.9 406,371.3 422.1,392.1M429.2,401.9 436.4,411.6 442.3,419.0"/><text class="cl" transform="translate(426.0 382.4) rotate(61)" y="2.4">20</text><path d="M386.7,293.6 390.2,300.3 400.1,318.4 405.2,329.3 407.9,335.7 410.6,342.8 418.5,366 420.7,371.6 423.3,377.1M429,387.7 438.4,403.2 442.3,410.2"/><text class="cl" transform="translate(426.6 367.0) rotate(61)" y="2.4">25</text><path d="M391.3,293.7 398.3,307 405.2,321 411.5,334.7 420.1,354 423.8,361.7M429.6,372.2 434.9,380.7 442.4,392.1"/><text class="cl" transform="translate(427.0 354.6) rotate(57)" y="2.4">30</text><path d="M395.8,293.7 403.5,310.6 410.6,325.1 417.3,338.1 423.9,349.5M430.4,359.6 436.2,367.8 442.2,375.3"/><text class="cl" transform="translate(425.8 342.7) rotate(57)" y="2.4">35</text><path d="M399.5,293.6 401.5,297.1 403.2,300.7 408.9,314.8 411.5,320.2 415.5,327.2 422.5,337.6M429.2,347.7 432.5,352.2 435.7,356.1 438.8,359.3 442.3,362.3"/><text class="cl" transform="translate(339.2 395.7) rotate(24)" y="2.4">-5</text><text class="cl" transform="translate(410.4 414.9) rotate(72)" y="2.4">-5</text><path d="M304.8,380 316.1,382.6 322.3,384.8 324.9,386.1 327.1,387.4 334.4,392.9M345,396.7 347.2,395.8 349.1,394.1 350.8,391.6 351.9,388.7 352.3,386.7 352.4,384.1 351.6,376.4 351.5,373.4 351.9,370.9 352.7,368.6 353.5,367.2 354.8,365.6 357.1,363.6 358.3,363 359.7,362.6 361.9,362.5 363.7,363.1 365.5,364 372.9,369.6 378.3,372.6 380.6,374.4 381.8,376 384.4,380.5 386.3,382.8 388.8,385.2 397.4,392.2 399.9,394.7 402.2,397.3 404.3,400.2 405.8,402.7 407.2,405.9 408.7,409.6M412.2,420.1 413.5,423.4 415.1,426.5 416.7,429.1 418.2,431.1"/><path d="M371.8,351.2 372.3,349.7 373.3,348 374.4,346.9 375.6,346.2 377,345.9 378.3,346.2 379.6,346.9 380.9,348 382.5,350.2 383.7,352.5 384.5,355.4 385.1,359.6 385,361.7 384.6,363.7 383.5,365.5 382,366.5 380.7,366.7 378.9,366.2 377.2,365 375.5,363 374,360.2 372.2,355.7 371.7,353.2 371.8,351.2"/><text class="cl" transform="translate(403.4 412.4) rotate(92)" y="2.4">-10</text><path d="M386.8,431.2 384,427.5 381.2,422.8 378.9,418.3 373.5,406.5 370.3,400.8 367.6,397.3 366.1,396 362.4,393.3 361.3,392.2 360.5,391 359.9,389 359.7,386.4 360,384.3 360.8,382.3 361.7,381.1 362.9,380 364.2,379.2 366,378.4 367.4,378.2 369.3,378.2 371.1,378.7 372.9,379.4 374.6,380.4 376.7,382 380,385.5 382.3,388.9 386.9,397 388.8,399.5 390.3,401.1 391.4,401.7 391.8,401.7 392.3,401.4 392.9,400.3 394.2,395.5 394.8,394 395.7,393.2 396.7,393.2 397.5,393.6 398.6,394.7 400.7,397.8 402.1,401.1 402.9,404.5M402.6,420 401.6,424.9 400,431.2"/><path d="M322,431.2 324,428.4 328.9,420.6 331.5,417.3 333,415.8 334.6,414.5 336.3,413.7 337.6,413.5 338.9,413.8 340.6,414.7 342.2,416 343.7,417.6 346.1,421 350.6,428.5 352.7,431.2"/><text class="cl" transform="translate(381.1 360.5) rotate(75)" y="2.4">-5</text></g>
<path class="fr" style="stroke-width:.8" d="M28.8,142.4h-1.2M28.8,114.9h-1.2M28.8,87.4h-1.2M28.8,59.9h-1.2M28.8,32.4h-1.2M28.8,279.9h-1.2M28.8,252.4h-1.2M28.8,224.9h-1.2M28.8,197.4h-1.2M28.8,169.9h-1.2M28.8,417.4h-1.2M28.8,389.9h-1.2M28.8,362.4h-1.2M28.8,334.9h-1.2M28.8,307.4h-1.2M41.5,431.2v1.2M64.4,431.2v1.2M87.3,431.2v1.2M109.6,431.2v1.2M132.5,431.2v1.2M155.4,431.2v1.2M178.8,431.2v1.2M201.7,431.2v1.2M224.6,431.2v1.2M246.9,431.2v1.2M269.8,431.2v1.2M292.7,431.2v1.2M316.8,431.2v1.2M339.7,431.2v1.2M362.6,431.2v1.2M384.9,431.2v1.2M407.8,431.2v1.2M430.7,431.2v1.2"/>
<path class="fr" d="M28.8,18.6H442.3V431.2H28.8ZM166.4,18.6V431.2M304.8,18.6V431.2M28.8,156.2H442.3M28.8,293.6H442.3"/>
<rect x="460.6" y="380.9" width="19.4" height="11.8" rx="1.2" fill="#fff" stroke="#222" stroke-width="1.15"/>
<rect x="460.6" y="399.3" width="19.4" height="11.8" rx="1.2" fill="#fff" stroke="#222" stroke-width="1.15"/>
<rect x="460.6" y="418.9" width="19.4" height="11.8" rx="1.2" fill="#fff" stroke="#222" stroke-width="1.15"/>
<path class="mo" d="M467.7,386.7h5M470.2,384.2v5"/>
<path class="mn" d="M467.6,402.9l5,5M472.6,402.9l-5,5"/>
<path d="M464.2,429.2L469.4,427.8C471.4,427.2 471.8,425.6 472.6,424C473.3,422.7 474.4,422.4 475.2,422.1L477.6,421" style="stroke-width:1.45"/>
<text class="tk" x="24.6" y="147.0" text-anchor="end">-2</text>
<text class="tk" x="24.6" y="119.5" text-anchor="end">-1</text>
<text class="tk" x="24.6" y="92.0" text-anchor="end">0</text>
<text class="tk" x="24.6" y="64.5" text-anchor="end">1</text>
<text class="tk" x="24.6" y="37.0" text-anchor="end">2</text>
<text class="tk" x="24.6" y="284.5" text-anchor="end">-2</text>
<text class="tk" x="24.6" y="257.0" text-anchor="end">-1</text>
<text class="tk" x="24.6" y="229.5" text-anchor="end">0</text>
<text class="tk" x="24.6" y="202.0" text-anchor="end">1</text>
<text class="tk" x="24.6" y="174.5" text-anchor="end">2</text>
<text class="tk" x="24.6" y="422.0" text-anchor="end">-2</text>
<text class="tk" x="24.6" y="394.5" text-anchor="end">-1</text>
<text class="tk" x="24.6" y="367.0" text-anchor="end">0</text>
<text class="tk" x="24.6" y="339.5" text-anchor="end">1</text>
<text class="tk" x="24.6" y="312.0" text-anchor="end">2</text>
<text class="tk" x="40.9" y="445.8" text-anchor="middle">-2.5</text>
<text class="tk" x="63.8" y="445.8" text-anchor="middle">-1.5</text>
<text class="tk" x="86.7" y="445.8" text-anchor="middle">-0.5</text>
<text class="tk" x="109.6" y="445.8" text-anchor="middle">0.5</text>
<text class="tk" x="132.5" y="445.8" text-anchor="middle">1.5</text>
<text class="tk" x="155.4" y="445.8" text-anchor="middle">2.5</text>
<text class="tk" x="178.2" y="445.8" text-anchor="middle">-2.5</text>
<text class="tk" x="201.1" y="445.8" text-anchor="middle">-1.5</text>
<text class="tk" x="224.0" y="445.8" text-anchor="middle">-0.5</text>
<text class="tk" x="246.9" y="445.8" text-anchor="middle">0.5</text>
<text class="tk" x="269.8" y="445.8" text-anchor="middle">1.5</text>
<text class="tk" x="292.7" y="445.8" text-anchor="middle">2.5</text>
<text class="tk" x="316.2" y="445.8" text-anchor="middle">-2.5</text>
<text class="tk" x="339.1" y="445.8" text-anchor="middle">-1.5</text>
<text class="tk" x="362.0" y="445.8" text-anchor="middle">-0.5</text>
<text class="tk" x="384.9" y="445.8" text-anchor="middle">0.5</text>
<text class="tk" x="407.8" y="445.8" text-anchor="middle">1.5</text>
<text class="tk" x="430.7" y="445.8" text-anchor="middle">2.5</text>
<text class="tri" font-size="11.76px" transform="translate(86.68 9.49) scale(1 0.862)">△</text><text class="bi" font-size="14px" x="97.4" y="11">Q</text>
<text class="tri" font-size="11.76px" transform="translate(225.68 9.49) scale(1 0.862)">△</text><text class="bi" font-size="14px" x="236.7" y="11">Q<tspan font-size="9px" dx="-1" dy="2.6">s</tspan></text>
<text class="tri" font-size="11.76px" transform="translate(359.78 9.49) scale(1 0.862)">△</text><text class="bi" font-size="14px" x="370.5" y="11">Q<tspan font-size="9px" dx="-1" dy="2.6">g</tspan></text>
<text class="b" font-size="14px" text-anchor="middle" transform="translate(444.6 85.4) rotate(90)">Ob</text>
<text class="b" font-size="14px" text-anchor="middle" transform="translate(444.6 222.2) rotate(90)">Yenisei</text>
<text class="b" font-size="14px" text-anchor="middle" transform="translate(444.6 360.0) rotate(90)">Lena</text>
<text class="bi" font-size="14px" text-anchor="middle" transform="translate(11.9 225.5) rotate(-90)">dT/std(dT)</text>
<text class="tri" font-size="11.76px" transform="translate(196.18 459.69) scale(1 0.862)">△</text>
<text class="bi" font-size="14px" x="206.8" y="460.7">P/std (</text>
<text class="tri" font-size="11.76px" transform="translate(244.88 459.69) scale(1 0.862)">△</text>
<text class="bi" font-size="14px" x="255.2" y="460.7">P )</text>
<text class="tri" font-size="11.35px" transform="translate(461.29 176.73) scale(1 0.857)">△</text>
<text class="bi" font-size="12.5px" x="471.2" y="177.7">Q (</text>
<text class="tri" font-size="10.00px" transform="translate(488.40 176.82) scale(1 0.892)">△</text>
<text class="bi" font-size="12.5px" x="496.7" y="177.7">Q<tspan font-size="8.5px" dx="-0.6" dy="2.4">s</tspan><tspan dy="-2.4"> , </tspan></text>
<text class="tri" font-size="10.00px" transform="translate(518.70 176.82) scale(1 0.892)">△</text>
<text class="bi" font-size="12.5px" x="526.9" y="177.7">Q<tspan font-size="8.5px" dx="-0.6" dy="2.4">g</tspan><tspan dy="-2.4" dx="0.2">), </tspan><tspan dx="1">%</tspan></text>
<text class="ci" x="472.5" y="192.6">35</text>
<text class="ci" x="472.5" y="205.5">30</text>
<text class="ci" x="472.5" y="218.5">25</text>
<text class="ci" x="472.5" y="231.4">20</text>
<text class="ci" x="472.5" y="244.4">15</text>
<text class="ci" x="472.5" y="257.4">10</text>
<text class="ci" x="472.5" y="270.3">5</text>
<text class="ci" x="472.5" y="283.2">0</text>
<text class="ci" x="472.5" y="296.2">-5</text>
<text class="ci" x="472.5" y="309.2">-10</text>
<text class="ci" x="472.5" y="322.1">-15</text>
<text class="ci" x="472.5" y="335.1">-20</text>
<text class="ci" x="472.5" y="348.0">-25</text>
<text class="ci" x="472.5" y="361.0">-30</text>
<text class="ci" x="472.5" y="373.9">-35</text>
<text class="b" font-size="12.2px" x="482.3" y="391.6">Observed value</text>
<text class="b" font-size="12.2px" x="482.3" y="410.0">Naturalized value</text>
<text class="b" font-size="12.2px" x="483.7" y="429.6">Isoline</text>
</svg></div></body></html>
